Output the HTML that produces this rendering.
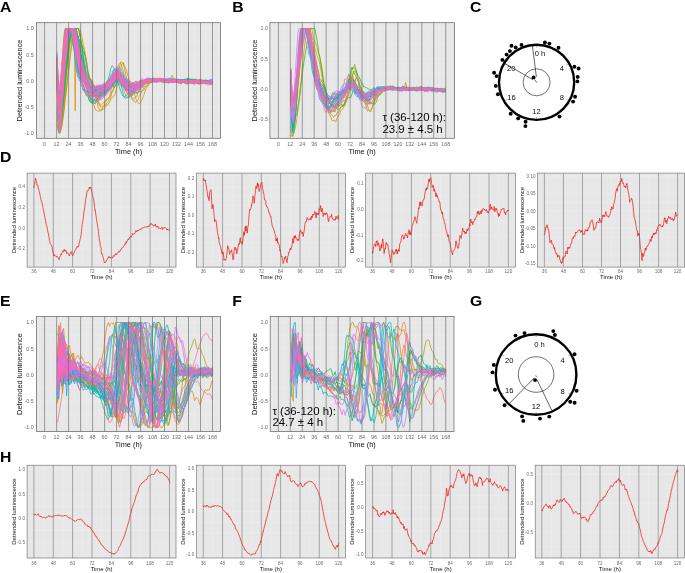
<!DOCTYPE html>
<html lang="en"><head><meta charset="utf-8"><title>Figure</title>
<style>html,body{margin:0;padding:0;background:#fff;overflow:hidden}svg{display:block;will-change:transform;opacity:0.9999}polyline{fill:none;stroke-linejoin:round;stroke-linecap:round}</style></head><body>
<svg width="685" height="573" viewBox="0 0 685 573">
<rect width="685" height="573" fill="#fff"/>
<g font-family="'Liberation Sans', sans-serif" font-size="15" font-weight="bold" fill="#000"><text transform="translate(0 11.7) scale(1.05 1)">A</text><text transform="translate(232.2 11.7) scale(1.05 1)">B</text><text transform="translate(470 11.7) scale(1.05 1)">C</text><text transform="translate(0 162.3) scale(1.05 1)">D</text><text transform="translate(0 306.4) scale(1.05 1)">E</text><text transform="translate(232.2 306.4) scale(1.05 1)">F</text><text transform="translate(470 306.4) scale(1.05 1)">G</text><text transform="translate(0 462.3) scale(1.05 1)">H</text></g>
<!-- panel A -->
<rect x="36.4" y="22.7" width="184.2" height="115.6" fill="#E7E7E7"/>
<path d="M104.6 22.7V138.3M110.6 22.7V138.3M116.6 22.7V138.3M122.6 22.7V138.3M128.6 22.7V138.3M134.6 22.7V138.3M140.6 22.7V138.3M146.5 22.7V138.3M152.5 22.7V138.3M158.5 22.7V138.3M164.5 22.7V138.3M170.5 22.7V138.3M176.5 22.7V138.3M182.5 22.7V138.3M188.5 22.7V138.3M194.5 22.7V138.3M200.5 22.7V138.3M206.5 22.7V138.3M212.5 22.7V138.3M218.5 22.7V138.3M36.4 107.1H220.6M36.4 120.2H220.6M36.4 133.3H220.6M36.4 28.5H220.6M36.4 41.6H220.6M36.4 54.7H220.6M36.4 67.8H220.6M36.4 80.9H220.6M36.4 94H220.6M38.6 22.7V138.3M44.6 22.7V138.3M50.6 22.7V138.3M56.6 22.7V138.3M62.6 22.7V138.3M68.6 22.7V138.3M74.6 22.7V138.3M80.6 22.7V138.3M86.6 22.7V138.3M92.6 22.7V138.3M98.6 22.7V138.3" stroke="#EFEFEF" stroke-width="0.5" fill="none"/>
<clipPath id="cA"><rect x="36.4" y="22.7" width="184.2" height="115.6"/></clipPath>
<g clip-path="url(#cA)">
<polyline points="57.2,91.6 58.2,92.6 59.2,94 60.2,93.2 61.2,91.1 62.2,85.8 63.2,78.6 64.2,71.1 65.2,60.5 66.2,52.6 67.2,43.7 68.2,36.9 69.2,31.6 70.2,28.5 71.2,28.5 72.2,28.5 73.2,28.5 74.2,30.9 75.2,37 76.2,41.9 77.2,43.9 78.2,47.4 79.2,51.9 80.2,55.2 81.2,58.7 82.2,63.4 83.2,67.3 84.2,70.5 85.2,74.9 86.2,78.9 87.2,81 88.2,83.1 89.2,86.3 90.2,86.7 91.2,87.3 92.2,89.2 93.2,91.3 94.2,92.9 95.2,92.6 96.2,92.7 97.2,93.6 98.2,94.1 99.2,93.1 100.2,91.9 101.2,92.1 102.2,93.4 103.2,92.2 104.2,93 105.2,89.8 106.2,88 107.2,88.6 108.2,88.3 109.2,88.3 110.2,87 111.2,84.2 112.2,84.6 113.2,85.3 114.2,83.4 115.2,81.2 116.2,79.4 117.2,77.8 118.2,75.8 119.2,74.5 120.2,75.4 121.2,75.9 122.2,78 123.2,78.5 124.2,78.9 125.2,81.6 126.2,82.5 127.2,80.8 128.2,81.3 129.2,82.5 130.2,84.1 131.2,86.7 132.2,86.7 133.2,85.9 134.2,84.9 135.2,87.7 136.2,86.6 137.2,87.4 138.2,88.1 139.2,86.9 140.2,86.1 141.2,84.6 142.2,84.4 143.2,83.1 144.2,80.9 145.1,83.7 146.1,83.1 147.1,83.3 148.1,82.4 149.1,81.9 150.1,81 151.1,79.9 152.1,79.5 153.1,78.6 154.1,79.3 155.1,79.2 156.1,78.8 157.1,80.6 158.1,80.9 159.1,80.7 160.1,80.9 161.1,80.4 162.1,80.5 163.1,80.8 164.1,81.1 165.1,80.7 166.1,80.8 167.1,81.6 168.1,80.4 169.1,81 170.1,81 171.1,81 172.1,79.5 173.1,79.4 174.1,79.2 175.1,79.8 176.1,80.7 177.1,80.8 178.1,80.3 179.1,80.4 180.1,80.8 181.1,80.5 182.1,81.3 183.1,81.9 184.1,82.1 185.1,81.8 186.1,81.7 187.1,82.2 188.1,80.5 189.1,80.5 190.1,80.9 191.1,80.7 192.1,81.1 193.1,81.4 194.1,82.5 195.1,81.6 196.1,81.2 197.1,80.7 198.1,80.9 199.1,81.2 200.1,82.1 201.1,82.7 202.1,81.9 203.1,82.1 204.1,81.6 205.1,82 206.1,82.2 207.1,83 208.1,82 209.1,81.8 210.1,81.8 211.1,82.3 212.1,82.6" stroke="#F8766D" stroke-width="0.75"/>
<polyline points="57.2,58.7 58.2,98.9 59.2,115 60.2,113.3 61.2,105.3 62.2,91.5 63.2,77.6 64.2,66.4 65.2,52.3 66.2,41.4 67.2,33.7 68.2,28.9 69.2,28.5 70.2,28.5 71.2,28.5 72.2,30.1 73.2,34.4 74.2,35.4 75.2,39 76.2,44 77.2,45.9 78.2,50.6 79.2,54 80.2,55.8 81.2,59.1 82.2,63.2 83.2,67.7 84.2,72.9 85.2,77.3 86.2,81.4 87.2,83.8 88.2,85.5 89.2,89.1 90.2,89.6 91.2,91.5 92.2,92.8 93.2,96 94.2,95.4 95.2,96.8 96.2,96 97.2,95.3 98.2,92.8 99.2,93.6 100.2,93 101.2,93.3 102.2,92.9 103.2,93 104.2,92.6 105.2,90.1 106.2,88.2 107.2,86.9 108.2,87.6 109.2,88.3 110.2,87.1 111.2,83.9 112.2,80.2 113.2,80 114.2,76.8 115.2,73.6 116.2,73.9 117.2,71.4 118.2,70.3 119.2,71.3 120.2,72 121.2,76.1 122.2,78.5 123.2,80.9 124.2,83.5 125.2,85.3 126.2,84.9 127.2,87.9 128.2,91.3 129.2,90.8 130.2,92.9 131.2,91.6 132.2,91.4 133.2,92.1 134.2,91.8 135.2,89.9 136.2,90.2 137.2,87.4 138.2,86.9 139.2,85 140.2,85.6 141.2,85.4 142.2,84.1 143.2,82.7 144.2,84.4 145.1,83.4 146.1,83.6 147.1,83.1 148.1,83.2 149.1,81.4 150.1,81.8 151.1,81.9 152.1,80.4 153.1,79.9 154.1,80.4 155.1,80.7 156.1,80.6 157.1,80.9 158.1,80.7 159.1,80 160.1,80.5 161.1,80.8 162.1,80.6 163.1,81 164.1,81.1 165.1,81 166.1,80.8 167.1,79.9 168.1,79.2 169.1,80.5 170.1,81.7 171.1,81.1 172.1,81.6 173.1,81.5 174.1,80.4 175.1,80.8 176.1,80.8 177.1,80.7 178.1,81.3 179.1,81.7 180.1,81.2 181.1,80.6 182.1,79.6 183.1,80 184.1,80.2 185.1,80 186.1,81 187.1,80.2 188.1,80.4 189.1,80.5 190.1,80.1 191.1,79 192.1,79.2 193.1,79.6 194.1,80.1 195.1,79.7 196.1,79.8 197.1,80.6 198.1,79.7 199.1,80.8 200.1,81.5 201.1,81.3 202.1,80.4 203.1,80.8 204.1,82.1 205.1,82.1 206.1,83 207.1,83.3 208.1,83.4 209.1,84.3 210.1,84.1 211.1,84.9 212.1,84.7" stroke="#F47B5B" stroke-width="0.75"/>
<polyline points="57.2,91.8 58.2,113 59.2,124.6 60.2,117.8 61.2,105.3 62.2,86.7 63.2,67.6 64.2,48.5 65.2,35.2 66.2,28.5 67.2,28.5 68.2,28.5 69.2,28.5 70.2,28.5 71.2,28.5 72.2,33.8 73.2,36.4 74.2,42.5 75.2,49.5 76.2,57.4 77.2,65.5 78.2,71.7 79.2,74.8 80.2,76 81.2,77.8 82.2,78.6 83.2,80.4 84.2,81.1 85.2,80.6 86.2,82.1 87.2,83.9 88.2,84.4 89.2,85.8 90.2,88 91.2,90.2 92.2,91.1 93.2,90.2 94.2,88.7 95.2,87.2 96.2,89 97.2,88.4 98.2,88.7 99.2,88.3 100.2,87.7 101.2,87.3 102.2,87.4 103.2,87 104.2,86.7 105.2,86.6 106.2,86.1 107.2,81.8 108.2,82 109.2,81.3 110.2,81 111.2,80.1 112.2,77.1 113.2,78 114.2,75.2 115.2,73 116.2,71.9 117.2,71 118.2,72.6 119.2,72.7 120.2,76.7 121.2,78.6 122.2,78.7 123.2,79.7 124.2,82.6 125.2,83.5 126.2,86.1 127.2,87.6 128.2,86.6 129.2,87.1 130.2,87.6 131.2,89.3 132.2,89.1 133.2,87.7 134.2,85.9 135.2,84.8 136.2,84.5 137.2,85.2 138.2,83.3 139.2,82.7 140.2,82.6 141.2,82.5 142.2,82.4 143.2,81.6 144.2,81.3 145.1,81.3 146.1,81.8 147.1,81.4 148.1,81.4 149.1,81.8 150.1,80.8 151.1,80.9 152.1,80.7 153.1,81.4 154.1,81.5 155.1,81.2 156.1,81.2 157.1,81.4 158.1,81.7 159.1,79.9 160.1,80.5 161.1,79.9 162.1,79.6 163.1,79.9 164.1,80.5 165.1,80.8 166.1,80.3 167.1,79.9 168.1,78.3 169.1,79.6 170.1,79.3 171.1,79.2 172.1,79.1 173.1,79.1 174.1,78.8 175.1,79.5 176.1,80 177.1,80.1 178.1,80.4 179.1,80.1 180.1,80.2 181.1,80.3 182.1,80.5 183.1,80.5 184.1,80.8 185.1,81.1 186.1,80.8 187.1,81.1 188.1,81.4 189.1,81.5 190.1,80.8 191.1,81.2 192.1,81.6 193.1,82.5 194.1,82.4 195.1,81.7 196.1,81.5 197.1,82.4 198.1,82.7 199.1,82.1 200.1,82 201.1,82.4 202.1,82.1 203.1,81.7 204.1,81.2 205.1,82 206.1,82.2 207.1,82 208.1,82.4 209.1,82.8 210.1,82.4 211.1,82.1 212.1,82" stroke="#EF7F46" stroke-width="0.75"/>
<polyline points="57.2,78.1 58.2,97.1 59.2,105.5 60.2,103.4 61.2,94.5 62.2,85.3 63.2,72 64.2,59.2 65.2,46.7 66.2,38.3 67.2,30.9 68.2,28.5 69.2,28.5 70.2,28.5 71.2,28.5 72.2,28.5 73.2,28.5 74.2,32.4 75.2,38.5 76.2,46.9 77.2,54.5 78.2,62.5 79.2,71.1 80.2,75.6 81.2,78.9 82.2,80.4 83.2,85.3 84.2,88.1 85.2,93 86.2,96.2 87.2,93.7 88.2,95.5 89.2,95.4 90.2,96.2 91.2,99 92.2,100.3 93.2,99.2 94.2,100.1 95.2,101.2 96.2,100.8 97.2,100.2 98.2,98.9 99.2,99.1 100.2,98.1 101.2,97.2 102.2,96.7 103.2,95 104.2,92.6 105.2,91.6 106.2,88.5 107.2,88 108.2,86.9 109.2,86.1 110.2,84 111.2,80 112.2,76.2 113.2,75.1 114.2,73.8 115.2,73.7 116.2,73.5 117.2,75.4 118.2,77.6 119.2,79.4 120.2,82.9 121.2,84.2 122.2,87.5 123.2,88.9 124.2,91.3 125.2,94 126.2,96.4 127.2,97.6 128.2,97.6 129.2,97.6 130.2,95.4 131.2,93.7 132.2,94.3 133.2,92 134.2,89.7 135.2,86.2 136.2,85.8 137.2,86.7 138.2,84.7 139.2,83.7 140.2,83.9 141.2,84.1 142.2,82.8 143.2,82 144.2,81 145.1,80.5 146.1,79.8 147.1,80 148.1,79.2 149.1,79.1 150.1,79.5 151.1,80.2 152.1,79.8 153.1,80 154.1,78.8 155.1,78.4 156.1,78.6 157.1,78.8 158.1,79.8 159.1,78.9 160.1,78.9 161.1,78.5 162.1,79.2 163.1,80.7 164.1,79.2 165.1,80.1 166.1,79.5 167.1,79.9 168.1,80 169.1,80.2 170.1,80 171.1,79.9 172.1,78.9 173.1,79.3 174.1,79.2 175.1,78.7 176.1,79.4 177.1,79 178.1,79.8 179.1,80 180.1,80.3 181.1,80.9 182.1,80.8 183.1,79.8 184.1,79.3 185.1,79.2 186.1,79.9 187.1,80.3 188.1,79.6 189.1,80 190.1,80.3 191.1,80.6 192.1,81 193.1,80 194.1,80.7 195.1,80.6 196.1,81.1 197.1,80 198.1,80.9 199.1,80.9 200.1,81.2 201.1,81.7 202.1,81.8 203.1,81.3 204.1,81.7 205.1,81.6 206.1,81.3 207.1,80.9 208.1,80.6 209.1,80.7 210.1,81.1 211.1,81.1 212.1,81.9" stroke="#E9842A" stroke-width="0.75"/>
<polyline points="57.2,110.2 58.2,126.1 59.2,133.3 60.2,131 61.2,127.8 62.2,121.2 63.2,113.9 64.2,104 65.2,93 66.2,82.9 67.2,70.5 68.2,60.5 69.2,50 70.2,41.8 71.2,35.9 72.2,31.7 73.2,28.5 74.2,28.5 75.2,28.5 76.2,28.5 77.2,28.5 78.2,28.5 79.2,31 80.2,36.3 81.2,42.4 82.2,48.6 83.2,57.8 84.2,63.8 85.2,69.8 86.2,74.5 87.2,75.9 88.2,77.5 89.2,79.1 90.2,79.2 91.2,82 92.2,82.3 93.2,85.8 94.2,90.3 95.2,94.3 96.2,98.6 97.2,101.8 98.2,107.5 99.2,109.6 100.2,110.4 101.2,109 102.2,109.9 103.2,106.4 104.2,105.3 105.2,102 106.2,101.3 107.2,99.7 108.2,98.5 109.2,97.2 110.2,94.3 111.2,89.4 112.2,87.1 113.2,85.4 114.2,80.9 115.2,78.9 116.2,76.6 117.2,73.4 118.2,68.7 119.2,68.5 120.2,72.9 121.2,74.5 122.2,76.2 123.2,77.5 124.2,81.2 125.2,80.3 126.2,82.4 127.2,87.1 128.2,88.5 129.2,90.7 130.2,92.9 131.2,96.2 132.2,97.2 133.2,99.4 134.2,98.6 135.2,97.3 136.2,96.2 137.2,96.1 138.2,92.7 139.2,90.8 140.2,89.1 141.2,88.5 142.2,87.3 143.2,85.2 144.2,84.3 145.1,84 146.1,82.4 147.1,81.4 148.1,81.3 149.1,80.7 150.1,78.8 151.1,79.1 152.1,79.8 153.1,80.3 154.1,80 155.1,80.1 156.1,80 157.1,80.5 158.1,80.1 159.1,80.3 160.1,80.6 161.1,81.7 162.1,81.2 163.1,81.3 164.1,81.4 165.1,81.2 166.1,80.3 167.1,80.5 168.1,80.9 169.1,79.7 170.1,80.1 171.1,79.8 172.1,80.5 173.1,81.7 174.1,81.2 175.1,80.6 176.1,79.5 177.1,79.7 178.1,80 179.1,79.8 180.1,80.2 181.1,80.7 182.1,81.1 183.1,81.4 184.1,80.9 185.1,80.8 186.1,80.5 187.1,80.9 188.1,82 189.1,81.9 190.1,81.4 191.1,82 192.1,81.5 193.1,81.5 194.1,82.7 195.1,83 196.1,82.4 197.1,82.2 198.1,81.9 199.1,82.4 200.1,83.3 201.1,82.7 202.1,82.1 203.1,82.4 204.1,82.3 205.1,82.5 206.1,82.8 207.1,82.1 208.1,82.1 209.1,82.3 210.1,81.6 211.1,81.8 212.1,82.4" stroke="#E38900" stroke-width="0.75"/>
<polyline points="57.2,117.4 58.2,128.1 59.2,133.3 60.2,133.3 61.2,128.8 62.2,123.5 63.2,115.4 64.2,108.7 65.2,100 66.2,91.9 67.2,84.6 68.2,75.2 69.2,67.5 70.2,57.8 71.2,50 72.2,42.1 73.2,36.9 74.2,31.7 75.2,110.8 76.2,28.5 77.2,28.5 78.2,28.5 79.2,31.9 80.2,37.8 81.2,43 82.2,46.8 83.2,55.8 84.2,60.5 85.2,65.8 86.2,71.3 87.2,73.7 88.2,75.9 89.2,77.6 90.2,79.5 91.2,79.4 92.2,80.3 93.2,83.7 94.2,85.7 95.2,88.6 96.2,91.9 97.2,95.9 98.2,101.5 99.2,105 100.2,106.8 101.2,107.6 102.2,106.6 103.2,106.3 104.2,106.1 105.2,105.1 106.2,105 107.2,105 108.2,104.5 109.2,102.6 110.2,100.9 111.2,98.4 112.2,97.3 113.2,97.2 114.2,95.4 115.2,94.1 116.2,89.4 117.2,86.5 118.2,82.6 119.2,77.5 120.2,73.3 121.2,65.9 122.2,64 123.2,62.7 124.2,65.6 125.2,67.1 126.2,69.9 127.2,73.5 128.2,76.6 129.2,79.5 130.2,84.5 131.2,88.3 132.2,88.8 133.2,91.2 134.2,94.1 135.2,95.8 136.2,99.7 137.2,101.6 138.2,102.7 139.2,103.8 140.2,103 141.2,101.4 142.2,99.3 143.2,96.8 144.2,93.9 145.1,91.3 146.1,88.8 147.1,86.7 148.1,84.8 149.1,83.1 150.1,82.4 151.1,81.6 152.1,80.5 153.1,81.4 154.1,80.2 155.1,78.8 156.1,80.6 157.1,79.9 158.1,81 159.1,79.9 160.1,79.9 161.1,80.6 162.1,81.3 163.1,80.9 164.1,80.5 165.1,79.8 166.1,80.2 167.1,80.2 168.1,80.2 169.1,80.2 170.1,80.4 171.1,80.7 172.1,75.2 173.1,77.7 174.1,81.6 175.1,80.3 176.1,80.9 177.1,80.7 178.1,80.7 179.1,80.3 180.1,79.7 181.1,79.7 182.1,79.9 183.1,79.5 184.1,80.9 185.1,80.7 186.1,80.9 187.1,80.3 188.1,79.2 189.1,78.8 190.1,79.6 191.1,79.4 192.1,78.5 193.1,79.5 194.1,80 195.1,79.9 196.1,80.3 197.1,80.8 198.1,80.6 199.1,79.8 200.1,79.7 201.1,79.9 202.1,80 203.1,81 204.1,80.6 205.1,80.2 206.1,80.8 207.1,80.5 208.1,81.2 209.1,81.3 210.1,81.6 211.1,82.5 212.1,81.4" stroke="#DC8D00" stroke-width="0.75"/>
<polyline points="57.2,77 58.2,91.8 59.2,100.6 60.2,99.8 61.2,92.9 62.2,84.7 63.2,74.6 64.2,63.7 65.2,55.9 66.2,44.7 67.2,37.7 68.2,31.7 69.2,28.5 70.2,28.5 71.2,28.5 72.2,29 73.2,34.7 74.2,40.1 75.2,46.7 76.2,53.9 77.2,61.6 78.2,69.9 79.2,74.9 80.2,75.1 81.2,76.1 82.2,77.3 83.2,79.7 84.2,77.3 85.2,81 86.2,80.4 87.2,79.9 88.2,83.2 89.2,85 90.2,87.9 91.2,88.7 92.2,90 93.2,90.3 94.2,91.1 95.2,90.5 96.2,88.1 97.2,88.2 98.2,89.4 99.2,89.1 100.2,88.6 101.2,89 102.2,88.1 103.2,87.8 104.2,87 105.2,86.3 106.2,85.3 107.2,84.9 108.2,84.1 109.2,83.5 110.2,80.8 111.2,79.4 112.2,79.5 113.2,76.8 114.2,74.3 115.2,73.7 116.2,73 117.2,75.1 118.2,77.7 119.2,79.7 120.2,80.1 121.2,80.6 122.2,82.3 123.2,83.2 124.2,85.2 125.2,84.9 126.2,86.5 127.2,86.6 128.2,86.2 129.2,85.9 130.2,86.1 131.2,85.8 132.2,86.1 133.2,83.4 134.2,84 135.2,85.1 136.2,86.4 137.2,85.6 138.2,84 139.2,81.7 140.2,80 141.2,82.1 142.2,81.9 143.2,82.3 144.2,83.3 145.1,81.7 146.1,81.1 147.1,81.2 148.1,79.6 149.1,79.5 150.1,79.6 151.1,79.8 152.1,79.4 153.1,78.1 154.1,78.5 155.1,78.6 156.1,79.4 157.1,79.2 158.1,79.2 159.1,79.2 160.1,79.8 161.1,79.9 162.1,79.4 163.1,79.3 164.1,79.6 165.1,79.8 166.1,79.2 167.1,79.8 168.1,78.8 169.1,79.9 170.1,79.7 171.1,78.9 172.1,79.6 173.1,79.7 174.1,80.6 175.1,80.3 176.1,80.4 177.1,80.3 178.1,80.2 179.1,80.8 180.1,81 181.1,81.2 182.1,80.8 183.1,80 184.1,81.3 185.1,82.1 186.1,82 187.1,82.6 188.1,82.3 189.1,82.3 190.1,82.8 191.1,82.9 192.1,82.8 193.1,81.3 194.1,81.4 195.1,81 196.1,81.1 197.1,81.4 198.1,81.4 199.1,82.2 200.1,82.4 201.1,83.1 202.1,82.4 203.1,82 204.1,83 205.1,82.5 206.1,82.4 207.1,82.8 208.1,81.8 209.1,81.8 210.1,81.6 211.1,81.5 212.1,81.6" stroke="#D59100" stroke-width="0.75"/>
<polyline points="57.2,80.6 58.2,118.8 59.2,130.5 60.2,123.9 61.2,116.1 62.2,102.2 63.2,86.5 64.2,70.2 65.2,53.5 66.2,42.1 67.2,31.9 68.2,28.5 69.2,28.5 70.2,28.5 71.2,28.5 72.2,28.5 73.2,29.5 74.2,33 75.2,37 76.2,42.6 77.2,47.4 78.2,50.4 79.2,52.8 80.2,56.7 81.2,61.9 82.2,65.1 83.2,70.8 84.2,74 85.2,76.4 86.2,79.6 87.2,80.3 88.2,81.4 89.2,83 90.2,85.1 91.2,86.5 92.2,85 93.2,86.8 94.2,86.9 95.2,85.6 96.2,86.7 97.2,87.3 98.2,86.3 99.2,86.3 100.2,85.4 101.2,85.8 102.2,86.3 103.2,87.4 104.2,87.4 105.2,86.6 106.2,85.9 107.2,84.7 108.2,85 109.2,83 110.2,81.8 111.2,81 112.2,78.5 113.2,78.9 114.2,78.8 115.2,77.3 116.2,77.8 117.2,77.1 118.2,76.1 119.2,75.7 120.2,78.9 121.2,80.4 122.2,80.3 123.2,82 124.2,81.2 125.2,81.3 126.2,83.9 127.2,82.8 128.2,83 129.2,83.5 130.2,83.5 131.2,84.3 132.2,84.3 133.2,83.4 134.2,83.7 135.2,83 136.2,84.5 137.2,82.1 138.2,83.4 139.2,82.4 140.2,81.6 141.2,81.4 142.2,81.8 143.2,81.6 144.2,82.1 145.1,81 146.1,80 147.1,80.4 148.1,80.5 149.1,79.2 150.1,79.1 151.1,78.7 152.1,79.3 153.1,79.3 154.1,78.8 155.1,78.5 156.1,78.8 157.1,79.8 158.1,79.8 159.1,79.9 160.1,78.6 161.1,79.3 162.1,79.7 163.1,79.9 164.1,80.4 165.1,81 166.1,81.8 167.1,82.1 168.1,80.7 169.1,81.5 170.1,81.2 171.1,81.1 172.1,81.3 173.1,81 174.1,80.3 175.1,80.8 176.1,80.4 177.1,80.7 178.1,79.8 179.1,80.7 180.1,80.3 181.1,80.4 182.1,81.3 183.1,81 184.1,80.9 185.1,80.7 186.1,79.9 187.1,79.4 188.1,79.9 189.1,80.3 190.1,80.2 191.1,80 192.1,79.6 193.1,79.8 194.1,79.8 195.1,78.9 196.1,79.6 197.1,80.3 198.1,81.3 199.1,80.6 200.1,81.8 201.1,81 202.1,80.6 203.1,81.7 204.1,82.2 205.1,82.3 206.1,81.8 207.1,82.1 208.1,81.2 209.1,81.6 210.1,82.3 211.1,82.5 212.1,82.4" stroke="#CD9600" stroke-width="0.75"/>
<polyline points="57.2,125.5 58.2,131.1 59.2,132.8 60.2,131.5 61.2,128.9 62.2,124.6 63.2,117.3 64.2,109.4 65.2,99.8 66.2,91.3 67.2,82 68.2,71.5 69.2,63.1 70.2,53.9 71.2,45.1 72.2,38.8 73.2,34.5 74.2,31.9 75.2,28.5 76.2,28.5 77.2,28.5 78.2,28.5 79.2,28.5 80.2,29.5 81.2,33.6 82.2,38.3 83.2,44.4 84.2,47.6 85.2,54.2 86.2,58.9 87.2,65.2 88.2,72 89.2,75.5 90.2,78.3 91.2,81.9 92.2,87.4 93.2,90.9 94.2,93.9 95.2,95.6 96.2,99.8 97.2,99.4 98.2,101.3 99.2,102.5 100.2,105.4 101.2,105.5 102.2,104.6 103.2,102.6 104.2,102.6 105.2,101.1 106.2,99.4 107.2,98.6 108.2,98.6 109.2,97.8 110.2,96.7 111.2,94.1 112.2,92.2 113.2,89.5 114.2,88 115.2,86.4 116.2,84.6 117.2,79.9 118.2,75.4 119.2,67.7 120.2,64.4 121.2,61.6 122.2,63 123.2,63 124.2,66.6 125.2,71.8 126.2,76.6 127.2,79.7 128.2,79.4 129.2,80.5 130.2,82.8 131.2,85.5 132.2,88.7 133.2,91.2 134.2,92.6 135.2,93.2 136.2,93.5 137.2,93.7 138.2,91.8 139.2,91.6 140.2,91.6 141.2,92 142.2,90.5 143.2,90.4 144.2,90 145.1,88 146.1,86 147.1,86.1 148.1,85.8 149.1,84.1 150.1,82.9 151.1,82 152.1,81.3 153.1,80.4 154.1,80 155.1,80 156.1,79.3 157.1,78.7 158.1,79.7 159.1,78.6 160.1,79.2 161.1,79.9 162.1,80.9 163.1,80.9 164.1,80.7 165.1,80.5 166.1,80.7 167.1,80.5 168.1,80.4 169.1,79.6 170.1,80.7 171.1,80.3 172.1,80.3 173.1,81 174.1,81 175.1,80.7 176.1,81.2 177.1,81.6 178.1,82.5 179.1,81.1 180.1,81 181.1,80.8 182.1,80.3 183.1,80.8 184.1,80.7 185.1,81.2 186.1,80.8 187.1,80.5 188.1,80.5 189.1,81.1 190.1,81.8 191.1,81.5 192.1,80.4 193.1,80.9 194.1,80.7 195.1,80.8 196.1,81.1 197.1,81.7 198.1,81.8 199.1,82 200.1,82.1 201.1,82.4 202.1,82.1 203.1,82.1 204.1,81.6 205.1,82.3 206.1,82.6 207.1,82.8 208.1,82.5 209.1,82.7 210.1,82.3 211.1,82.7 212.1,83" stroke="#C49A00" stroke-width="0.75"/>
<polyline points="57.2,112.4 58.2,125.7 59.2,131.6 60.2,130.2 61.2,125.4 62.2,117.3 63.2,108.4 64.2,98.1 65.2,85.9 66.2,72.8 67.2,64 68.2,51.9 69.2,42.8 70.2,33.7 71.2,28.8 72.2,28.5 73.2,28.5 74.2,28.7 75.2,28.5 76.2,31.1 77.2,35.9 78.2,38.1 79.2,39.7 80.2,42 81.2,43 82.2,45.4 83.2,47.1 84.2,50.6 85.2,55 86.2,59.3 87.2,66.6 88.2,75.6 89.2,85.8 90.2,95.4 91.2,99.8 92.2,100.1 93.2,103.7 94.2,105.8 95.2,109.6 96.2,110.4 97.2,110.8 98.2,111 99.2,111.3 100.2,110.9 101.2,110.8 102.2,109 103.2,109.2 104.2,109.2 105.2,107.5 106.2,104.2 107.2,102.3 108.2,101.6 109.2,99.4 110.2,99 111.2,95.4 112.2,90.6 113.2,90.4 114.2,86 115.2,80.9 116.2,75.9 117.2,70.9 118.2,66.1 119.2,63.9 120.2,63.1 121.2,64 122.2,67.2 123.2,70.7 124.2,74.6 125.2,78.6 126.2,83.8 127.2,84.9 128.2,86.1 129.2,88.2 130.2,91.9 131.2,97.1 132.2,99.3 133.2,100.8 134.2,100.8 135.2,102.5 136.2,101.8 137.2,101.5 138.2,99.9 139.2,96.3 140.2,95.2 141.2,92.8 142.2,90.8 143.2,89 144.2,86.3 145.1,86.1 146.1,85.4 147.1,84.3 148.1,83.1 149.1,82.7 150.1,81.9 151.1,81.4 152.1,81 153.1,80.9 154.1,80.7 155.1,79.1 156.1,79.7 157.1,79.8 158.1,80.5 159.1,80.9 160.1,80.3 161.1,80.5 162.1,81.1 163.1,81.4 164.1,81.2 165.1,80.5 166.1,80.9 167.1,80.3 168.1,80.8 169.1,81.1 170.1,80.8 171.1,81.8 172.1,81.8 173.1,82.2 174.1,81.6 175.1,80.6 176.1,81.4 177.1,81.3 178.1,81 179.1,81.2 180.1,81.4 181.1,82.4 182.1,82.5 183.1,81.9 184.1,81.6 185.1,81.9 186.1,81.5 187.1,81.9 188.1,81.6 189.1,81.6 190.1,80.3 191.1,81 192.1,80.9 193.1,81.6 194.1,82.6 195.1,82.1 196.1,81.3 197.1,81.2 198.1,82.3 199.1,82 200.1,81.6 201.1,82 202.1,83.1 203.1,83 204.1,82.2 205.1,82.5 206.1,82.2 207.1,82.2 208.1,82.7 209.1,83.5 210.1,82.5 211.1,83.1 212.1,83.2" stroke="#BB9E00" stroke-width="0.75"/>
<polyline points="57.2,60.7 58.2,111.5 59.2,117.1 60.2,109 61.2,93.4 62.2,75.6 63.2,56.8 64.2,38.8 65.2,28.9 66.2,28.5 67.2,28.5 68.2,28.5 69.2,28.5 70.2,28.5 71.2,31.2 72.2,37.1 73.2,44.1 74.2,51.1 75.2,57.3 76.2,65.6 77.2,71.6 78.2,72.3 79.2,73.9 80.2,75.8 81.2,77.7 82.2,79.3 83.2,81.7 84.2,81.7 85.2,82.7 86.2,85.1 87.2,88.2 88.2,93 89.2,95.4 90.2,99.3 91.2,100.4 92.2,100.9 93.2,101 94.2,100.7 95.2,100.6 96.2,100.6 97.2,98.9 98.2,99.2 99.2,96.9 100.2,95.8 101.2,95.6 102.2,93.5 103.2,94.7 104.2,93.3 105.2,92.5 106.2,90.2 107.2,90 108.2,88.8 109.2,87.8 110.2,86.4 111.2,85.4 112.2,83 113.2,79.4 114.2,75.9 115.2,73.2 116.2,70.7 117.2,69.7 118.2,70 119.2,72.8 120.2,75 121.2,79.1 122.2,79.3 123.2,81.3 124.2,81.8 125.2,84.4 126.2,86.9 127.2,89.6 128.2,90.7 129.2,93.3 130.2,92.5 131.2,92.8 132.2,92.6 133.2,92.2 134.2,91.3 135.2,91.5 136.2,89.5 137.2,88.2 138.2,88.5 139.2,87.1 140.2,86.3 141.2,83.8 142.2,84 143.2,83 144.2,81.6 145.1,81.6 146.1,82.1 147.1,81.9 148.1,80.9 149.1,81.7 150.1,79.7 151.1,79.1 152.1,79.7 153.1,79.3 154.1,80 155.1,80.5 156.1,81.9 157.1,81.1 158.1,80.5 159.1,80.5 160.1,80.7 161.1,80.7 162.1,81.4 163.1,80.6 164.1,81.2 165.1,81.1 166.1,80.9 167.1,80.3 168.1,80.3 169.1,80.1 170.1,80.9 171.1,80 172.1,80.6 173.1,81 174.1,81.4 175.1,80.8 176.1,81.9 177.1,81.1 178.1,80.8 179.1,80.4 180.1,80.1 181.1,80 182.1,80.5 183.1,80.3 184.1,80.1 185.1,80.1 186.1,80.1 187.1,81.2 188.1,80.7 189.1,80.8 190.1,81.1 191.1,81.3 192.1,80.9 193.1,80.9 194.1,79.6 195.1,79.8 196.1,80.8 197.1,80.6 198.1,80 199.1,80.6 200.1,81.6 201.1,82.5 202.1,82.4 203.1,81.1 204.1,81.5 205.1,82.3 206.1,81.7 207.1,82.4 208.1,82.9 209.1,82.7 210.1,82.4 211.1,81.4 212.1,82.2" stroke="#B0A100" stroke-width="0.75"/>
<polyline points="57.2,65.3 58.2,110.3 59.2,127.6 60.2,124 61.2,118.1 62.2,109.5 63.2,97.7 64.2,87.2 65.2,75.6 66.2,63.3 67.2,53.1 68.2,42.5 69.2,34.8 70.2,29.6 71.2,28.5 72.2,28.5 73.2,28.5 74.2,28.5 75.2,28.5 76.2,32.3 77.2,39.5 78.2,46.6 79.2,52.5 80.2,58 81.2,65 82.2,69.8 83.2,73.2 84.2,77.1 85.2,77.6 86.2,78.6 87.2,82.1 88.2,82.8 89.2,84.3 90.2,84.8 91.2,86.1 92.2,87.2 93.2,89.5 94.2,89.4 95.2,89.8 96.2,90.9 97.2,89.8 98.2,90.5 99.2,88.8 100.2,86.8 101.2,88.1 102.2,88.5 103.2,86.6 104.2,87 105.2,87 106.2,87.4 107.2,84.8 108.2,84.6 109.2,82.9 110.2,82.7 111.2,81.8 112.2,80.1 113.2,81.4 114.2,80.3 115.2,79.5 116.2,78.6 117.2,76.8 118.2,76.3 119.2,74.3 120.2,73.1 121.2,72.6 122.2,73.1 123.2,75.1 124.2,78 125.2,78.6 126.2,79.2 127.2,80.4 128.2,82.6 129.2,81.3 130.2,81 131.2,82.3 132.2,84.7 133.2,86.2 134.2,85.5 135.2,86 136.2,86.3 137.2,85 138.2,84.4 139.2,83.5 140.2,82 141.2,82.3 142.2,84.8 143.2,83.7 144.2,83.2 145.1,81.7 146.1,80.7 147.1,80.7 148.1,80.1 149.1,80.3 150.1,80.8 151.1,81.2 152.1,80.6 153.1,80.9 154.1,80.7 155.1,81.1 156.1,81 157.1,81.3 158.1,81 159.1,79.6 160.1,79.8 161.1,78.9 162.1,79.9 163.1,79.8 164.1,80.5 165.1,80.4 166.1,80.6 167.1,81 168.1,81.4 169.1,81.9 170.1,82.2 171.1,81.4 172.1,81.3 173.1,81.6 174.1,81.8 175.1,81.6 176.1,81.8 177.1,81 178.1,81.2 179.1,82.5 180.1,81.7 181.1,81.5 182.1,81.7 183.1,80.9 184.1,81.3 185.1,81.2 186.1,81.4 187.1,81.7 188.1,81 189.1,80.9 190.1,81.2 191.1,81.6 192.1,81.7 193.1,82.2 194.1,81.4 195.1,82.1 196.1,81 197.1,80.9 198.1,81.5 199.1,81.7 200.1,82.8 201.1,82.5 202.1,83 203.1,82.4 204.1,81.9 205.1,81.6 206.1,81.8 207.1,82.1 208.1,81.4 209.1,80.5 210.1,81.5 211.1,81.1 212.1,82" stroke="#A5A500" stroke-width="0.75"/>
<polyline points="57.2,65.9 58.2,86.3 59.2,94.5 60.2,88.9 61.2,75.3 62.2,60.5 63.2,44.4 64.2,32.9 65.2,28.5 66.2,28.5 67.2,28.5 68.2,28.5 69.2,28.6 70.2,33.9 71.2,37.2 72.2,42.9 73.2,46 74.2,49.9 75.2,54.8 76.2,58.8 77.2,60.9 78.2,62.7 79.2,66.5 80.2,68.8 81.2,71.2 82.2,73.6 83.2,77.3 84.2,80.2 85.2,80.7 86.2,82.9 87.2,86.4 88.2,87.6 89.2,89.6 90.2,91.7 91.2,91.9 92.2,92 93.2,89.8 94.2,89.9 95.2,92.7 96.2,91.1 97.2,91.5 98.2,89.3 99.2,89.6 100.2,87.8 101.2,89 102.2,88.8 103.2,86.2 104.2,87.4 105.2,84.6 106.2,83 107.2,80.6 108.2,81.4 109.2,80.1 110.2,79.6 111.2,78.6 112.2,77.3 113.2,73.4 114.2,74.3 115.2,75.8 116.2,76.4 117.2,77.3 118.2,80.5 119.2,79.2 120.2,81.8 121.2,83.5 122.2,84.4 123.2,86.1 124.2,86.3 125.2,84.9 126.2,86 127.2,85.8 128.2,87.1 129.2,86.9 130.2,84.8 131.2,84.4 132.2,85.2 133.2,84.8 134.2,84.8 135.2,85 136.2,82.6 137.2,82.5 138.2,81.5 139.2,82.2 140.2,81.1 141.2,79.9 142.2,80.3 143.2,81.4 144.2,80.5 145.1,81.4 146.1,79.8 147.1,79.4 148.1,79.8 149.1,79.8 150.1,80.8 151.1,81.2 152.1,81.4 153.1,80.7 154.1,81.1 155.1,80.5 156.1,81.2 157.1,80.7 158.1,80.9 159.1,80.7 160.1,80.9 161.1,81.7 162.1,81.6 163.1,80.7 164.1,81 165.1,81.5 166.1,81.1 167.1,80.9 168.1,80.4 169.1,80.8 170.1,79.9 171.1,80.8 172.1,80.6 173.1,81.3 174.1,80.5 175.1,80.3 176.1,80.2 177.1,80.5 178.1,81.3 179.1,80.2 180.1,81.4 181.1,81.2 182.1,81.5 183.1,81.1 184.1,80 185.1,80.2 186.1,80.5 187.1,80.6 188.1,80.2 189.1,80.6 190.1,80.1 191.1,79.3 192.1,80.7 193.1,80.6 194.1,80.7 195.1,80.8 196.1,80.7 197.1,81.5 198.1,80.4 199.1,79.6 200.1,80.4 201.1,79.9 202.1,81 203.1,81.7 204.1,80.8 205.1,80.1 206.1,81.5 207.1,81.9 208.1,82.5 209.1,82.3 210.1,82.3 211.1,82.2 212.1,82.2" stroke="#99A800" stroke-width="0.75"/>
<polyline points="57.2,57.9 58.2,114.1 59.2,128 60.2,125 61.2,118.6 62.2,111.2 63.2,101.3 64.2,88.9 65.2,78.7 66.2,66.4 67.2,54.6 68.2,44.9 69.2,36.6 70.2,31.6 71.2,28.9 72.2,28.5 73.2,28.5 74.2,28.5 75.2,28.5 76.2,29.4 77.2,32.4 78.2,38 79.2,43.8 80.2,49.3 81.2,56.9 82.2,61.8 83.2,65.8 84.2,70.4 85.2,71.8 86.2,74.6 87.2,76.2 88.2,76.9 89.2,78.4 90.2,80.7 91.2,83.1 92.2,84.1 93.2,85.6 94.2,86.9 95.2,88 96.2,86 97.2,89.2 98.2,89.4 99.2,91.7 100.2,90.8 101.2,87.8 102.2,87.9 103.2,87.2 104.2,85.8 105.2,86 106.2,85.5 107.2,83.9 108.2,82.1 109.2,82.2 110.2,81.7 111.2,79.7 112.2,77.4 113.2,75.9 114.2,75 115.2,73.3 116.2,71.5 117.2,72.7 118.2,73.4 119.2,73.9 120.2,73 121.2,74.4 122.2,75.8 123.2,77.7 124.2,79.6 125.2,78.9 126.2,83.2 127.2,85.2 128.2,86.5 129.2,86.8 130.2,89.6 131.2,91.1 132.2,90.3 133.2,88.3 134.2,85.5 135.2,86 136.2,85.6 137.2,85 138.2,85.7 139.2,85.2 140.2,83.3 141.2,82.7 142.2,83.7 143.2,82 144.2,81.9 145.1,81.8 146.1,82.1 147.1,82 148.1,81.7 149.1,81.2 150.1,81.9 151.1,81.7 152.1,82 153.1,81.5 154.1,81.1 155.1,80.3 156.1,80.4 157.1,80.4 158.1,80 159.1,79.5 160.1,80.3 161.1,79.5 162.1,80.8 163.1,79.2 164.1,79.3 165.1,79.7 166.1,80.7 167.1,80 168.1,80.2 169.1,80.2 170.1,80.5 171.1,80.6 172.1,80.6 173.1,81.3 174.1,81.4 175.1,81 176.1,80.2 177.1,80.9 178.1,80.7 179.1,80.9 180.1,81.4 181.1,80.8 182.1,80.6 183.1,81 184.1,81.7 185.1,81.5 186.1,81.3 187.1,82.5 188.1,82.4 189.1,81.8 190.1,82.2 191.1,82 192.1,81.2 193.1,81 194.1,82 195.1,82.7 196.1,82.3 197.1,81.4 198.1,82 199.1,81.8 200.1,81.9 201.1,83.3 202.1,82.3 203.1,82.1 204.1,82.8 205.1,83 206.1,83.4 207.1,83.2 208.1,82.6 209.1,83.4 210.1,83.9 211.1,84.1 212.1,84" stroke="#8BAB00" stroke-width="0.75"/>
<polyline points="57.2,57.3 58.2,99.3 59.2,108.5 60.2,105.6 61.2,100.8 62.2,92.4 63.2,84.1 64.2,74.2 65.2,64.9 66.2,52.9 67.2,43.3 68.2,35 69.2,31.4 70.2,28.5 71.2,28.5 72.2,28.5 73.2,28.5 74.2,28.5 75.2,28.5 76.2,32.5 77.2,38.4 78.2,44.2 79.2,51.7 80.2,59.2 81.2,66.1 82.2,67.7 83.2,73.2 84.2,77 85.2,83.1 86.2,86.6 87.2,88.3 88.2,89.6 89.2,91.9 90.2,94.9 91.2,95.2 92.2,95.9 93.2,98.4 94.2,99 95.2,100.8 96.2,100.5 97.2,100.7 98.2,98.7 99.2,98.7 100.2,96.7 101.2,96.2 102.2,94.2 103.2,93.2 104.2,93.1 105.2,93.5 106.2,90.2 107.2,89.4 108.2,89.8 109.2,88.6 110.2,87.8 111.2,84.8 112.2,83.2 113.2,81.3 114.2,78.6 115.2,77.3 116.2,75.4 117.2,73.5 118.2,72.9 119.2,76.7 120.2,77.4 121.2,77.6 122.2,79.4 123.2,79.6 124.2,80.9 125.2,81 126.2,83.1 127.2,86 128.2,86.3 129.2,86.3 130.2,87.4 131.2,89 132.2,89.2 133.2,88.9 134.2,88.7 135.2,87.4 136.2,87.3 137.2,86.9 138.2,86.6 139.2,85.1 140.2,85.5 141.2,84.8 142.2,84.1 143.2,84.6 144.2,83.1 145.1,83.4 146.1,82.3 147.1,81.7 148.1,81.4 149.1,82.2 150.1,82.9 151.1,82 152.1,81.8 153.1,81.3 154.1,80.6 155.1,80.6 156.1,81 157.1,81.2 158.1,81.4 159.1,81.1 160.1,81.5 161.1,81.1 162.1,81.1 163.1,80.5 164.1,81.1 165.1,81.4 166.1,81.4 167.1,81.2 168.1,80.7 169.1,79.9 170.1,80.5 171.1,80.4 172.1,81.1 173.1,81.4 174.1,81.1 175.1,82 176.1,81 177.1,81.6 178.1,81.4 179.1,81.7 180.1,81.1 181.1,81.3 182.1,80.6 183.1,80.2 184.1,81 185.1,80.1 186.1,80.4 187.1,80.2 188.1,78.9 189.1,79.9 190.1,79.6 191.1,81.8 192.1,80.2 193.1,81.1 194.1,81.3 195.1,80.7 196.1,81 197.1,80.6 198.1,81.3 199.1,81.2 200.1,81.3 201.1,81.5 202.1,80.8 203.1,80.4 204.1,80.5 205.1,80.6 206.1,80.7 207.1,80.7 208.1,80.9 209.1,81.6 210.1,82.2 211.1,81.2 212.1,83" stroke="#7CAE00" stroke-width="0.75"/>
<polyline points="57.2,68.3 58.2,96.9 59.2,102.6 60.2,99.8 61.2,93.4 62.2,85.8 63.2,78.8 64.2,69.3 65.2,59.2 66.2,51.1 67.2,41.8 68.2,36.1 69.2,30 70.2,28.5 71.2,28.5 72.2,28.5 73.2,28.5 74.2,32.6 75.2,37.6 76.2,43.2 77.2,50.4 78.2,57.7 79.2,65.4 80.2,71.9 81.2,75.5 82.2,77.9 83.2,78.1 84.2,80.8 85.2,82 86.2,83.8 87.2,85 88.2,88.4 89.2,90.3 90.2,93.1 91.2,92.1 92.2,93.6 93.2,94.8 94.2,95.9 95.2,95.8 96.2,95.9 97.2,96.2 98.2,95 99.2,95.4 100.2,93.4 101.2,92.5 102.2,94.1 103.2,94.6 104.2,92.4 105.2,92.3 106.2,90.1 107.2,89.2 108.2,88.3 109.2,87.3 110.2,86 111.2,84.3 112.2,83.8 113.2,80.4 114.2,79.9 115.2,78.1 116.2,77.5 117.2,77.3 118.2,77.9 119.2,78.7 120.2,78.6 121.2,81.2 122.2,81.8 123.2,82.4 124.2,83.3 125.2,83.5 126.2,86.5 127.2,86.5 128.2,90.4 129.2,91.3 130.2,91.9 131.2,92.7 132.2,92.6 133.2,91.8 134.2,91 135.2,91.1 136.2,90.4 137.2,89.4 138.2,88.2 139.2,85.8 140.2,85.4 141.2,84.9 142.2,83.8 143.2,81.6 144.2,81.6 145.1,81.3 146.1,80.8 147.1,79.5 148.1,78.7 149.1,78.1 150.1,78.8 151.1,79.1 152.1,79.5 153.1,80.5 154.1,82 155.1,81.1 156.1,81.5 157.1,81.4 158.1,81.5 159.1,80.9 160.1,80.9 161.1,80.5 162.1,80.2 163.1,80.4 164.1,80 165.1,80.1 166.1,80.4 167.1,81 168.1,80.6 169.1,81 170.1,80.1 171.1,79.5 172.1,79.3 173.1,79.8 174.1,79.8 175.1,79.6 176.1,80.2 177.1,80.6 178.1,80.8 179.1,80.6 180.1,80.5 181.1,81.5 182.1,81.6 183.1,80.5 184.1,81 185.1,80.7 186.1,81.3 187.1,81.6 188.1,81 189.1,81.1 190.1,81 191.1,80.4 192.1,80.4 193.1,80.5 194.1,80.6 195.1,81.3 196.1,81.1 197.1,80.7 198.1,80.9 199.1,81.8 200.1,82.5 201.1,83.1 202.1,81.8 203.1,82.4 204.1,81.9 205.1,81.3 206.1,80.7 207.1,80.9 208.1,81.7 209.1,81.6 210.1,80.8 211.1,80.9 212.1,82.1" stroke="#69B100" stroke-width="0.75"/>
<polyline points="57.2,62.9 58.2,104.8 59.2,115 60.2,109.5 61.2,98.9 62.2,86.2 63.2,70.8 64.2,57.4 65.2,43.7 66.2,35.4 67.2,28.5 68.2,28.5 69.2,28.5 70.2,28.5 71.2,28.5 72.2,34.7 73.2,39.5 74.2,45.1 75.2,53.4 76.2,61.1 77.2,67.1 78.2,71.4 79.2,77.1 80.2,78.7 81.2,81.5 82.2,83.7 83.2,87.1 84.2,89.6 85.2,90.8 86.2,90.8 87.2,93.2 88.2,95.6 89.2,100 90.2,101.9 91.2,103 92.2,102.4 93.2,102.5 94.2,103.2 95.2,103.9 96.2,102.6 97.2,102 98.2,100.7 99.2,99.4 100.2,98.6 101.2,98 102.2,95.5 103.2,96.3 104.2,95.7 105.2,94.7 106.2,92.5 107.2,90.6 108.2,89.3 109.2,89.6 110.2,87.6 111.2,84.9 112.2,82.1 113.2,80 114.2,77.8 115.2,77.5 116.2,75.8 117.2,75.1 118.2,75.7 119.2,78.3 120.2,79 121.2,82.6 122.2,84.3 123.2,86.7 124.2,86.4 125.2,88.9 126.2,90.8 127.2,93 128.2,93.8 129.2,94.3 130.2,93.6 131.2,95.4 132.2,94.8 133.2,93.2 134.2,90.9 135.2,90.4 136.2,90 137.2,90 138.2,89.2 139.2,88.7 140.2,87.3 141.2,85.8 142.2,84 143.2,84.3 144.2,83.1 145.1,82 146.1,81.3 147.1,79.4 148.1,79.3 149.1,80.1 150.1,80.8 151.1,80.5 152.1,81.5 153.1,80.3 154.1,81.4 155.1,80.6 156.1,80.2 157.1,79.7 158.1,79.7 159.1,80 160.1,80.5 161.1,80.2 162.1,80.3 163.1,80.3 164.1,80.7 165.1,81 166.1,80.1 167.1,80.7 168.1,80.2 169.1,80 170.1,80.2 171.1,79.9 172.1,80.5 173.1,80.8 174.1,80.4 175.1,80.7 176.1,81.1 177.1,80.9 178.1,81.8 179.1,83.5 180.1,82.5 181.1,81.8 182.1,82.6 183.1,82.3 184.1,82.9 185.1,82.7 186.1,84.1 187.1,82.8 188.1,83.2 189.1,82.8 190.1,82.2 191.1,83.2 192.1,82.3 193.1,81.7 194.1,81.2 195.1,81.4 196.1,82.2 197.1,83.4 198.1,83.5 199.1,84.2 200.1,83.2 201.1,83.2 202.1,83.5 203.1,83.4 204.1,83.1 205.1,82.1 206.1,82.9 207.1,82.9 208.1,83 209.1,83.9 210.1,84 211.1,82.7 212.1,82.9" stroke="#53B400" stroke-width="0.75"/>
<polyline points="57.2,78.3 58.2,117.9 59.2,120.4 60.2,118.7 61.2,116 62.2,109.7 63.2,102.2 64.2,92.3 65.2,83.4 66.2,72.8 67.2,63.1 68.2,55.2 69.2,46.6 70.2,39.3 71.2,33.6 72.2,32 73.2,29.1 74.2,28.5 75.2,28.5 76.2,28.5 77.2,28.5 78.2,28.5 79.2,31 80.2,36.3 81.2,41 82.2,49.2 83.2,59.2 84.2,67.7 85.2,73.1 86.2,77.7 87.2,79.5 88.2,83.4 89.2,85.8 90.2,86.3 91.2,87.3 92.2,87.3 93.2,89.7 94.2,88.5 95.2,89.1 96.2,89.3 97.2,92.4 98.2,92.3 99.2,93.6 100.2,92 101.2,91.5 102.2,90 103.2,90.5 104.2,88.9 105.2,88.5 106.2,88.1 107.2,86.7 108.2,85.3 109.2,85.6 110.2,84.2 111.2,85.5 112.2,84.9 113.2,83.7 114.2,81.5 115.2,79.5 116.2,77.4 117.2,76.6 118.2,76.5 119.2,75.6 120.2,77.1 121.2,78.6 122.2,79.8 123.2,81.9 124.2,82.3 125.2,85.1 126.2,85.6 127.2,88.9 128.2,87.5 129.2,86.9 130.2,88.7 131.2,88.6 132.2,90.2 133.2,89.5 134.2,89.7 135.2,88.3 136.2,88.6 137.2,89 138.2,87 139.2,86.2 140.2,85.9 141.2,82.5 142.2,80.3 143.2,81.5 144.2,81.3 145.1,82.8 146.1,82.3 147.1,83.2 148.1,83.2 149.1,82.6 150.1,82 151.1,81.7 152.1,80.9 153.1,81 154.1,81 155.1,81 156.1,79.9 157.1,80 158.1,79.6 159.1,79.4 160.1,80.1 161.1,80.5 162.1,80.2 163.1,80.5 164.1,81 165.1,80.1 166.1,80.6 167.1,81.3 168.1,80.9 169.1,81.2 170.1,81 171.1,80.3 172.1,80.9 173.1,80.9 174.1,80.5 175.1,80.9 176.1,79.7 177.1,80.4 178.1,81.2 179.1,81 180.1,81.7 181.1,80.5 182.1,80.8 183.1,80 184.1,80.4 185.1,81.5 186.1,82.1 187.1,81.3 188.1,81.8 189.1,82.1 190.1,82.2 191.1,80.8 192.1,81 193.1,80.7 194.1,81.2 195.1,80.5 196.1,80.9 197.1,80.6 198.1,80.7 199.1,80.9 200.1,80.8 201.1,81.8 202.1,81.5 203.1,81.4 204.1,82.2 205.1,82.6 206.1,82.6 207.1,82.1 208.1,81.5 209.1,81.5 210.1,81.8 211.1,81.5 212.1,81.9" stroke="#31B600" stroke-width="0.75"/>
<polyline points="57.2,71.7 58.2,99.7 59.2,106.2 60.2,102.2 61.2,99.9 62.2,94.4 63.2,88.5 64.2,80.3 65.2,73.4 66.2,64.7 67.2,56.3 68.2,47.5 69.2,41.1 70.2,35.8 71.2,32.7 72.2,28.5 73.2,28.5 74.2,28.5 75.2,28.5 76.2,29.3 77.2,33.9 78.2,37.3 79.2,44.1 80.2,50.8 81.2,59 82.2,64.5 83.2,69.1 84.2,74 85.2,75.8 86.2,78.2 87.2,80.8 88.2,84.6 89.2,86.3 90.2,85.1 91.2,87.6 92.2,88.7 93.2,86.9 94.2,88.1 95.2,89.8 96.2,92.2 97.2,92.3 98.2,92.6 99.2,93.2 100.2,92.4 101.2,91.7 102.2,90.6 103.2,91.9 104.2,92.1 105.2,89.4 106.2,88.8 107.2,89.1 108.2,88 109.2,87 110.2,86.1 111.2,85.9 112.2,85.2 113.2,83.1 114.2,79.7 115.2,76.6 116.2,74.5 117.2,74.5 118.2,72.7 119.2,72.9 120.2,75 121.2,77.1 122.2,77.7 123.2,79.1 124.2,81.3 125.2,82.6 126.2,85.3 127.2,85.8 128.2,85.1 129.2,85.8 130.2,85.6 131.2,88.1 132.2,89.5 133.2,89.9 134.2,88.2 135.2,89 136.2,89.4 137.2,88.2 138.2,86.7 139.2,86.7 140.2,85.3 141.2,85.7 142.2,83.5 143.2,84.4 144.2,83.6 145.1,82.7 146.1,81.7 147.1,80.4 148.1,79.9 149.1,81.3 150.1,80.7 151.1,80.4 152.1,80.3 153.1,81 154.1,80.3 155.1,79.3 156.1,80 157.1,80.7 158.1,81.8 159.1,81.7 160.1,80 161.1,80.2 162.1,79.8 163.1,81.4 164.1,81.5 165.1,81.7 166.1,82.3 167.1,82.9 168.1,82.4 169.1,81.7 170.1,81.5 171.1,81.2 172.1,81.8 173.1,80.4 174.1,79.7 175.1,80.9 176.1,81.2 177.1,80.9 178.1,80.5 179.1,80.1 180.1,80.7 181.1,80.8 182.1,81.5 183.1,80.9 184.1,80.6 185.1,81.1 186.1,80.1 187.1,80 188.1,80.1 189.1,80.2 190.1,80.1 191.1,80.7 192.1,80.6 193.1,79.5 194.1,79.4 195.1,81.1 196.1,80.8 197.1,81.6 198.1,82.1 199.1,81.9 200.1,81.7 201.1,80.3 202.1,80.4 203.1,80.9 204.1,81.1 205.1,80.8 206.1,81.1 207.1,80.7 208.1,80.6 209.1,82.1 210.1,81.7 211.1,81.3 212.1,81.7" stroke="#00B823" stroke-width="0.75"/>
<polyline points="57.2,58.9 58.2,89.6 59.2,98.3 60.2,93.9 61.2,87 62.2,77.5 63.2,66.4 64.2,55.6 65.2,43.8 66.2,35.7 67.2,30.3 68.2,28.5 69.2,28.5 70.2,28.5 71.2,28.5 72.2,28.5 73.2,28.5 74.2,32.2 75.2,36.5 76.2,38.7 77.2,42.2 78.2,46.2 79.2,50.7 80.2,55.6 81.2,58.7 82.2,63.9 83.2,67.2 84.2,72.9 85.2,79 86.2,83.7 87.2,90.5 88.2,93 89.2,91.1 90.2,92.9 91.2,94.2 92.2,94.2 93.2,96.2 94.2,95 95.2,95.3 96.2,94.2 97.2,93.8 98.2,94.5 99.2,96 100.2,95.8 101.2,94.5 102.2,92.3 103.2,93 104.2,90.4 105.2,91.7 106.2,89.9 107.2,90.9 108.2,89 109.2,89.9 110.2,88.2 111.2,87.2 112.2,85.7 113.2,85.5 114.2,87.4 115.2,85.9 116.2,84 117.2,80.5 118.2,79.2 119.2,77.9 120.2,79.2 121.2,80.1 122.2,81 123.2,80.1 124.2,82.2 125.2,84.6 126.2,85.6 127.2,84.3 128.2,85.5 129.2,87.1 130.2,89.2 131.2,89.8 132.2,87.6 133.2,90.1 134.2,91.4 135.2,91.1 136.2,91.7 137.2,93.3 138.2,91.3 139.2,90.7 140.2,87.3 141.2,86.8 142.2,87.4 143.2,84.4 144.2,84.8 145.1,83.5 146.1,82.4 147.1,81.9 148.1,80.6 149.1,80.4 150.1,80.8 151.1,79.6 152.1,80.3 153.1,80.7 154.1,80.1 155.1,81.1 156.1,82.1 157.1,81.8 158.1,80.8 159.1,80.9 160.1,81 161.1,81.4 162.1,82.3 163.1,82.5 164.1,81.9 165.1,80.8 166.1,81.3 167.1,81.1 168.1,81.3 169.1,80.3 170.1,80.5 171.1,80.8 172.1,82.1 173.1,82.4 174.1,81.1 175.1,81.3 176.1,82.3 177.1,81.5 178.1,81.8 179.1,80.9 180.1,81.7 181.1,81.1 182.1,80.6 183.1,80.7 184.1,81.4 185.1,80.4 186.1,81.2 187.1,82 188.1,82.9 189.1,82 190.1,81.8 191.1,81.9 192.1,82.2 193.1,81.6 194.1,81.8 195.1,82 196.1,80.6 197.1,81.7 198.1,83 199.1,83.3 200.1,82.4 201.1,81.7 202.1,81.7 203.1,81.8 204.1,82.2 205.1,81.2 206.1,82.2 207.1,82.3 208.1,82.1 209.1,82.1 210.1,81.6 211.1,81.3 212.1,82.9" stroke="#00BA41" stroke-width="0.75"/>
<polyline points="57.2,84.9 58.2,115 59.2,128.4 60.2,126.7 61.2,121.5 62.2,114.2 63.2,104.2 64.2,93.5 65.2,82.5 66.2,72.1 67.2,60.1 68.2,48.4 69.2,40.3 70.2,33.7 71.2,29.8 72.2,28.5 73.2,28.5 74.2,28.5 75.2,28.5 76.2,31 77.2,34 78.2,37.6 79.2,39.8 80.2,42.2 81.2,44.7 82.2,46.9 83.2,52.8 84.2,52.4 85.2,57.4 86.2,62.8 87.2,69.6 88.2,73.5 89.2,78.1 90.2,79.3 91.2,80.3 92.2,84.3 93.2,86.3 94.2,85.9 95.2,87.1 96.2,89.8 97.2,92.6 98.2,93 99.2,90.5 100.2,88.2 101.2,88.7 102.2,89.5 103.2,87.3 104.2,88.4 105.2,87.1 106.2,86.6 107.2,86.6 108.2,84.9 109.2,85.3 110.2,84 111.2,81.7 112.2,80.3 113.2,79.1 114.2,79.2 115.2,78.9 116.2,76.2 117.2,74.6 118.2,73.9 119.2,74.1 120.2,73.5 121.2,75.2 122.2,75.7 123.2,76.9 124.2,79.1 125.2,79.3 126.2,79.9 127.2,81.9 128.2,83.6 129.2,84.8 130.2,85.2 131.2,83.3 132.2,83.9 133.2,82.9 134.2,85.4 135.2,84.7 136.2,86 137.2,86.8 138.2,85.8 139.2,84.9 140.2,82.6 141.2,83.4 142.2,83.1 143.2,82.6 144.2,82.4 145.1,82.8 146.1,82.2 147.1,81.7 148.1,81.7 149.1,81.1 150.1,80.3 151.1,80.3 152.1,81.6 153.1,81.5 154.1,80.6 155.1,80.4 156.1,79.8 157.1,78.6 158.1,79.1 159.1,79.3 160.1,78.9 161.1,79.1 162.1,79.9 163.1,80.4 164.1,80.4 165.1,80.8 166.1,80.6 167.1,81.6 168.1,81.8 169.1,82.4 170.1,82.3 171.1,81.9 172.1,82.1 173.1,82.4 174.1,82 175.1,81.1 176.1,81.8 177.1,82.4 178.1,82.1 179.1,82 180.1,82.9 181.1,84.1 182.1,83 183.1,81.8 184.1,81.5 185.1,81.5 186.1,82.6 187.1,84.4 188.1,83.2 189.1,83.1 190.1,82.8 191.1,83.3 192.1,83.4 193.1,83 194.1,82.3 195.1,82.2 196.1,82.6 197.1,82.6 198.1,83.6 199.1,84.3 200.1,83.4 201.1,83.2 202.1,83 203.1,82.3 204.1,82 205.1,80.6 206.1,81.8 207.1,82.2 208.1,82.3 209.1,81.9 210.1,81.8 211.1,81.2 212.1,81.9" stroke="#00BC56" stroke-width="0.75"/>
<polyline points="57.2,76.3 58.2,91.9 59.2,95.6 60.2,90.9 61.2,85 62.2,77.5 63.2,68.9 64.2,58.9 65.2,51.8 66.2,42.5 67.2,35.3 68.2,30.2 69.2,28.5 70.2,28.5 71.2,28.5 72.2,28.5 73.2,28.5 74.2,28.5 75.2,30.7 76.2,33.5 77.2,38.5 78.2,44.5 79.2,48.6 80.2,52.6 81.2,55.1 82.2,58.5 83.2,62.3 84.2,65.8 85.2,71 86.2,74.3 87.2,77.7 88.2,80.2 89.2,83.7 90.2,84.1 91.2,86.4 92.2,87.3 93.2,88.5 94.2,90.5 95.2,92.9 96.2,94.8 97.2,95.5 98.2,97.1 99.2,95.6 100.2,95.4 101.2,95.2 102.2,94.7 103.2,94 104.2,93.4 105.2,93.7 106.2,92 107.2,89.1 108.2,88.7 109.2,86.9 110.2,85.7 111.2,84.7 112.2,82.1 113.2,81.8 114.2,81.4 115.2,79 116.2,76.9 117.2,74.3 118.2,73.5 119.2,74 120.2,76 121.2,77.4 122.2,78.3 123.2,79.7 124.2,80.3 125.2,82.6 126.2,84.1 127.2,84.8 128.2,85.4 129.2,87.9 130.2,89.6 131.2,91.8 132.2,91.5 133.2,92.2 134.2,90 135.2,90.7 136.2,88.1 137.2,86 138.2,86.7 139.2,85.2 140.2,85.7 141.2,86.9 142.2,86.4 143.2,84.6 144.2,83.3 145.1,81.9 146.1,81.6 147.1,80.6 148.1,80.5 149.1,80.2 150.1,79.8 151.1,79.6 152.1,80.3 153.1,80.2 154.1,80.8 155.1,81 156.1,80.2 157.1,80.2 158.1,79.8 159.1,80 160.1,80 161.1,81.1 162.1,80.7 163.1,81 164.1,82.1 165.1,81.2 166.1,82.2 167.1,81.4 168.1,81.3 169.1,80.4 170.1,80.7 171.1,81.9 172.1,81.4 173.1,82.1 174.1,81.9 175.1,81.6 176.1,80.5 177.1,80.6 178.1,80.8 179.1,79.7 180.1,81.1 181.1,82.3 182.1,81.8 183.1,81.4 184.1,81.2 185.1,81.6 186.1,81.7 187.1,82.2 188.1,82.3 189.1,81.9 190.1,81.7 191.1,80.3 192.1,80.2 193.1,80.4 194.1,81 195.1,80.7 196.1,81 197.1,81.3 198.1,80.8 199.1,80.4 200.1,80.9 201.1,81.3 202.1,80.9 203.1,81.1 204.1,80.7 205.1,81.5 206.1,81.4 207.1,81.3 208.1,81.7 209.1,80.9 210.1,81.2 211.1,81.1 212.1,82.1" stroke="#00BE67" stroke-width="0.75"/>
<polyline points="57.2,88.1 58.2,119.3 59.2,124.5 60.2,121.1 61.2,108.3 62.2,95.7 63.2,80 64.2,63.5 65.2,50.9 66.2,39.8 67.2,33 68.2,28.5 69.2,28.5 70.2,28.5 71.2,28.5 72.2,29.4 73.2,36 74.2,41.9 75.2,47.3 76.2,52.4 77.2,58.6 78.2,62.4 79.2,65.2 80.2,69.2 81.2,70.7 82.2,73.5 83.2,74.8 84.2,76.2 85.2,77.9 86.2,80.5 87.2,82.3 88.2,85.8 89.2,88.1 90.2,90.8 91.2,91.9 92.2,91.2 93.2,94.2 94.2,92.4 95.2,93 96.2,92 97.2,92.7 98.2,90.7 99.2,90.8 100.2,92.4 101.2,91.5 102.2,90.4 103.2,90 104.2,90 105.2,89.6 106.2,88.1 107.2,87.2 108.2,85.4 109.2,84.2 110.2,83.5 111.2,80 112.2,77.5 113.2,75.9 114.2,75.4 115.2,75.1 116.2,75.1 117.2,78.5 118.2,79 119.2,79.8 120.2,80.3 121.2,81.5 122.2,83.8 123.2,84.7 124.2,84.8 125.2,84.7 126.2,85.2 127.2,86 128.2,87.3 129.2,88.1 130.2,87.8 131.2,86.6 132.2,88.3 133.2,86.3 134.2,86.2 135.2,86.5 136.2,85.9 137.2,84.8 138.2,84.5 139.2,83.9 140.2,83.3 141.2,83.7 142.2,83.9 143.2,82.6 144.2,82.5 145.1,79.8 146.1,79.4 147.1,79.6 148.1,79.8 149.1,80.9 150.1,80.9 151.1,81.2 152.1,79.5 153.1,79.6 154.1,79.8 155.1,80.2 156.1,80.6 157.1,80.8 158.1,80.2 159.1,80 160.1,79.9 161.1,80.1 162.1,79.9 163.1,80 164.1,81 165.1,81.9 166.1,81.2 167.1,81.2 168.1,80.8 169.1,81.2 170.1,80.7 171.1,80.8 172.1,80.5 173.1,79.7 174.1,80.6 175.1,80.6 176.1,80.4 177.1,80.9 178.1,80.7 179.1,80.6 180.1,81.1 181.1,81 182.1,79.8 183.1,80.7 184.1,81.6 185.1,81.9 186.1,82.2 187.1,81.4 188.1,81.8 189.1,81.6 190.1,80.7 191.1,79.8 192.1,80.5 193.1,80.9 194.1,80.9 195.1,80.9 196.1,81.4 197.1,80.9 198.1,81 199.1,80.9 200.1,81.3 201.1,81.4 202.1,81.9 203.1,81.3 204.1,81.4 205.1,82.1 206.1,82.1 207.1,82.4 208.1,82.2 209.1,81.9 210.1,82.5 211.1,82.9 212.1,82.8" stroke="#00BF77" stroke-width="0.75"/>
<polyline points="57.2,78.9 58.2,95.5 59.2,101.1 60.2,98.8 61.2,95.7 62.2,89.6 63.2,82.4 64.2,73.5 65.2,65.2 66.2,56.1 67.2,49.2 68.2,41.3 69.2,36.2 70.2,31.1 71.2,28.5 72.2,28.5 73.2,28.5 74.2,28.5 75.2,31 76.2,35.3 77.2,39.6 78.2,43.1 79.2,48.1 80.2,49.9 81.2,54.5 82.2,57.7 83.2,60.8 84.2,65.6 85.2,73.2 86.2,77.1 87.2,84.3 88.2,86.9 89.2,88.7 90.2,90.3 91.2,92.2 92.2,93 93.2,94.5 94.2,94.9 95.2,94.5 96.2,96.8 97.2,95.9 98.2,96.3 99.2,96.1 100.2,96.4 101.2,94.7 102.2,95.1 103.2,94.7 104.2,94.7 105.2,93.8 106.2,93 107.2,91.6 108.2,91.2 109.2,88.9 110.2,87.5 111.2,85.3 112.2,84.2 113.2,83.9 114.2,82 115.2,80.9 116.2,78.4 117.2,75.8 118.2,74.5 119.2,73.8 120.2,75.2 121.2,76.4 122.2,77.7 123.2,78.5 124.2,80.7 125.2,82.5 126.2,83.7 127.2,83 128.2,85.9 129.2,87.5 130.2,87.6 131.2,86.1 132.2,87.6 133.2,88.5 134.2,89.3 135.2,87.5 136.2,87.8 137.2,88.1 138.2,85.3 139.2,85.4 140.2,84.3 141.2,84.7 142.2,84.6 143.2,85.7 144.2,84.5 145.1,84.1 146.1,82.8 147.1,82.3 148.1,82.8 149.1,82.7 150.1,82.6 151.1,82.5 152.1,81.9 153.1,80.9 154.1,80.5 155.1,80.8 156.1,81.4 157.1,80.1 158.1,79.4 159.1,80 160.1,80.5 161.1,80.9 162.1,81.3 163.1,80.8 164.1,81.2 165.1,80.4 166.1,80.4 167.1,80.5 168.1,79.5 169.1,79.8 170.1,79.9 171.1,80.5 172.1,80.4 173.1,80.2 174.1,81.1 175.1,81.4 176.1,80.9 177.1,80.4 178.1,79.8 179.1,79.9 180.1,80.6 181.1,80.2 182.1,80.6 183.1,79.8 184.1,79.5 185.1,79.4 186.1,78.8 187.1,79.1 188.1,78.3 189.1,78.7 190.1,79.4 191.1,79.9 192.1,79.8 193.1,80.8 194.1,80.2 195.1,80.6 196.1,80.6 197.1,80.5 198.1,81 199.1,80.9 200.1,81.2 201.1,81 202.1,81 203.1,80.2 204.1,81.1 205.1,82 206.1,81.7 207.1,81.6 208.1,81.9 209.1,82.3 210.1,82 211.1,82.3 212.1,82.8" stroke="#00C086" stroke-width="0.75"/>
<polyline points="57.2,82.8 58.2,116.7 59.2,132.5 60.2,125.5 61.2,108.3 62.2,85.6 63.2,61.4 64.2,41.4 65.2,30.9 66.2,28.5 67.2,28.5 68.2,28.5 69.2,28.5 70.2,28.5 71.2,29.7 72.2,34.9 73.2,40.5 74.2,48.5 75.2,58.2 76.2,68.5 77.2,74.6 78.2,76.9 79.2,76.7 80.2,78 81.2,79.4 82.2,80.7 83.2,81.6 84.2,82.6 85.2,84.4 86.2,87.1 87.2,88.7 88.2,91.2 89.2,94.6 90.2,98.8 91.2,101.1 92.2,103.2 93.2,102.2 94.2,99.9 95.2,98.2 96.2,95.8 97.2,94.1 98.2,93.4 99.2,92.4 100.2,92.1 101.2,90.9 102.2,88.3 103.2,86.6 104.2,84.2 105.2,84.4 106.2,84.2 107.2,81.6 108.2,79.6 109.2,75.9 110.2,71.1 111.2,67.4 112.2,65.7 113.2,67.1 114.2,68.3 115.2,72 116.2,76.9 117.2,80.1 118.2,84 119.2,86.5 120.2,90 121.2,92.1 122.2,94.9 123.2,96.2 124.2,97.1 125.2,96.9 126.2,95.2 127.2,95 128.2,92.8 129.2,94.4 130.2,92.5 131.2,90.7 132.2,90 133.2,89.2 134.2,87.5 135.2,86.3 136.2,84.9 137.2,84.9 138.2,84.5 139.2,84.5 140.2,82.9 141.2,82.8 142.2,82.2 143.2,81.4 144.2,80.1 145.1,79.8 146.1,80.6 147.1,80.5 148.1,80.8 149.1,80.7 150.1,80.5 151.1,80.9 152.1,81 153.1,80.6 154.1,80.3 155.1,81.7 156.1,81.4 157.1,81.2 158.1,81.5 159.1,81.1 160.1,80.8 161.1,80.9 162.1,81.2 163.1,80.3 164.1,80.9 165.1,81 166.1,81 167.1,80.7 168.1,80.6 169.1,80 170.1,79.4 171.1,79.7 172.1,79.9 173.1,80.3 174.1,79.8 175.1,80.4 176.1,80.7 177.1,79.8 178.1,80.4 179.1,80.2 180.1,80.2 181.1,80.2 182.1,80.5 183.1,80.4 184.1,80.4 185.1,81.3 186.1,80.6 187.1,80.6 188.1,79.9 189.1,81 190.1,80.7 191.1,80.7 192.1,80.9 193.1,81.4 194.1,80.5 195.1,80.3 196.1,80.1 197.1,80.8 198.1,81.2 199.1,81.2 200.1,81.1 201.1,81.3 202.1,82.2 203.1,82.4 204.1,82.2 205.1,82.1 206.1,81.9 207.1,81.4 208.1,81.9 209.1,82.1 210.1,81.4 211.1,81.4 212.1,80.5" stroke="#00C094" stroke-width="0.75"/>
<polyline points="57.2,72.9 58.2,105.1 59.2,120.5 60.2,117.6 61.2,109 62.2,95.9 63.2,82.1 64.2,67.8 65.2,53.2 66.2,42.2 67.2,32.5 68.2,29.3 69.2,28.5 70.2,28.5 71.2,28.5 72.2,28.5 73.2,31.3 74.2,35.2 75.2,41.9 76.2,50.2 77.2,58.9 78.2,66 79.2,71.9 80.2,75.7 81.2,77.7 82.2,78.6 83.2,78.1 84.2,78.1 85.2,79.9 86.2,81 87.2,79.9 88.2,80.8 89.2,81.6 90.2,85.7 91.2,86.7 92.2,87.8 93.2,88.2 94.2,88.8 95.2,88.9 96.2,88 97.2,90 98.2,89.6 99.2,88.6 100.2,88.6 101.2,88.3 102.2,87.1 103.2,87.6 104.2,85.4 105.2,84.7 106.2,84.7 107.2,84.5 108.2,80.9 109.2,78.3 110.2,77.5 111.2,74.6 112.2,73.8 113.2,70.6 114.2,69.3 115.2,68.8 116.2,69.1 117.2,69.7 118.2,71.2 119.2,75.1 120.2,76.5 121.2,77.9 122.2,79.3 123.2,79.3 124.2,81.8 125.2,83.1 126.2,84.7 127.2,87.8 128.2,87 129.2,87.7 130.2,87.4 131.2,87.3 132.2,87.1 133.2,87.1 134.2,85.3 135.2,84.7 136.2,82.3 137.2,82.5 138.2,83.6 139.2,83.2 140.2,83.3 141.2,84.9 142.2,82.7 143.2,82.2 144.2,80.1 145.1,80.1 146.1,81 147.1,80.7 148.1,80.1 149.1,80.1 150.1,80.1 151.1,80.6 152.1,80.1 153.1,80.3 154.1,80.1 155.1,80.2 156.1,80.6 157.1,80.7 158.1,80.2 159.1,80.8 160.1,81 161.1,80.6 162.1,80.2 163.1,80.4 164.1,80.4 165.1,80.9 166.1,80.5 167.1,80 168.1,81 169.1,80.7 170.1,80.9 171.1,80.5 172.1,80.7 173.1,81.3 174.1,80.9 175.1,80.7 176.1,81.8 177.1,81.1 178.1,81.2 179.1,82 180.1,82.5 181.1,81.9 182.1,81 183.1,81.3 184.1,80.7 185.1,81 186.1,80.7 187.1,80.1 188.1,80.9 189.1,81.4 190.1,80.9 191.1,80.9 192.1,81.6 193.1,82.1 194.1,82.1 195.1,82 196.1,82.4 197.1,81.6 198.1,81.7 199.1,82.4 200.1,81.4 201.1,82.4 202.1,83.6 203.1,83.6 204.1,82.8 205.1,81.2 206.1,80.1 207.1,80 208.1,81.1 209.1,81.5 210.1,82 211.1,82.7 212.1,81.5" stroke="#00C1A1" stroke-width="0.75"/>
<polyline points="57.2,64.7 58.2,108.9 59.2,116.7 60.2,111.9 61.2,101 62.2,88.9 63.2,76.5 64.2,60.9 65.2,48.7 66.2,36 67.2,29.5 68.2,28.5 69.2,28.5 70.2,28.5 71.2,28.5 72.2,28.5 73.2,28.5 74.2,32.2 75.2,38.8 76.2,41.2 77.2,47 78.2,53.8 79.2,57.5 80.2,62.4 81.2,66.2 82.2,68.4 83.2,69.6 84.2,71.4 85.2,75.3 86.2,78.4 87.2,79.6 88.2,83.9 89.2,85.2 90.2,87.7 91.2,90 92.2,91.9 93.2,93.5 94.2,94.2 95.2,93.2 96.2,93.7 97.2,94.2 98.2,93.3 99.2,92.9 100.2,92.2 101.2,89.8 102.2,88.9 103.2,87.2 104.2,88.1 105.2,87.9 106.2,86.7 107.2,85.6 108.2,84.9 109.2,84.3 110.2,83.9 111.2,83.8 112.2,80.6 113.2,75.7 114.2,73.9 115.2,72.2 116.2,70.4 117.2,69.9 118.2,70.8 119.2,73.8 120.2,74.3 121.2,76.8 122.2,77.8 123.2,77.9 124.2,80.5 125.2,82.3 126.2,85.5 127.2,86.9 128.2,88.4 129.2,91.5 130.2,90.7 131.2,92.2 132.2,91.8 133.2,91.4 134.2,88.8 135.2,87.8 136.2,88.1 137.2,85.8 138.2,84.1 139.2,82.1 140.2,83 141.2,83.6 142.2,83.8 143.2,83.4 144.2,81.6 145.1,81.8 146.1,80.5 147.1,80.2 148.1,80.5 149.1,80.5 150.1,80.4 151.1,80 152.1,78.9 153.1,79.7 154.1,78.8 155.1,79.3 156.1,79 157.1,79 158.1,80.1 159.1,80.5 160.1,80.6 161.1,80.3 162.1,80 163.1,80.7 164.1,81.3 165.1,81.7 166.1,81.7 167.1,81.7 168.1,82.2 169.1,82.1 170.1,82 171.1,82.1 172.1,82.1 173.1,81.2 174.1,81.3 175.1,81.9 176.1,81.1 177.1,80.3 178.1,79.6 179.1,80.7 180.1,81.2 181.1,81.1 182.1,80.8 183.1,80.8 184.1,79.4 185.1,80.3 186.1,81.1 187.1,81.5 188.1,81.9 189.1,81.5 190.1,81.2 191.1,81.7 192.1,81.4 193.1,81.6 194.1,81.5 195.1,81.6 196.1,81.1 197.1,80.5 198.1,79.8 199.1,80.6 200.1,81.5 201.1,82.3 202.1,82.2 203.1,82.3 204.1,82.2 205.1,82.5 206.1,82 207.1,82.2 208.1,82.6 209.1,82.9 210.1,82.6 211.1,81.8 212.1,81.7" stroke="#00C1AD" stroke-width="0.75"/>
<polyline points="57.2,83.4 58.2,103.1 59.2,104.1 60.2,95.8 61.2,82.5 62.2,68 63.2,51.9 64.2,40.3 65.2,32.1 66.2,28.5 67.2,28.6 68.2,28.5 69.2,28.5 70.2,28.5 71.2,28.5 72.2,31 73.2,36 74.2,44.8 75.2,53.3 76.2,63 77.2,67.1 78.2,73 79.2,76.4 80.2,80.8 81.2,85.1 82.2,87.5 83.2,90.9 84.2,89 85.2,92 86.2,93.9 87.2,95.6 88.2,97.2 89.2,100.5 90.2,101 91.2,102.8 92.2,103 93.2,102.3 94.2,103.1 95.2,102.9 96.2,100.1 97.2,98.2 98.2,96.1 99.2,94.4 100.2,94.2 101.2,95 102.2,93.5 103.2,91.7 104.2,89 105.2,87.9 106.2,86.2 107.2,85.9 108.2,83.1 109.2,82.8 110.2,78.9 111.2,78.6 112.2,76.5 113.2,75.7 114.2,74.3 115.2,73.6 116.2,77 117.2,77.7 118.2,78.9 119.2,81.5 120.2,84.7 121.2,85.7 122.2,89.8 123.2,94 124.2,97.4 125.2,98.4 126.2,98 127.2,97.7 128.2,96.2 129.2,97.3 130.2,95.3 131.2,96.6 132.2,94.5 133.2,91.3 134.2,88.9 135.2,87.3 136.2,87.4 137.2,85.7 138.2,84.9 139.2,82.9 140.2,84.3 141.2,83 142.2,80.7 143.2,79.8 144.2,80.3 145.1,79.6 146.1,79.1 147.1,79.1 148.1,79.1 149.1,79.4 150.1,78.4 151.1,79.2 152.1,80.2 153.1,80.6 154.1,81 155.1,81.5 156.1,80.1 157.1,79.8 158.1,79.9 159.1,80.2 160.1,80 161.1,80.2 162.1,80.3 163.1,80.6 164.1,81.4 165.1,80.4 166.1,79.3 167.1,79.8 168.1,81 169.1,80.2 170.1,80.3 171.1,80.7 172.1,80.6 173.1,79.8 174.1,79.8 175.1,80.2 176.1,80.8 177.1,81.2 178.1,80.9 179.1,81 180.1,81.8 181.1,82.1 182.1,82.1 183.1,82.2 184.1,82.8 185.1,82.7 186.1,83.4 187.1,82.7 188.1,82 189.1,81.9 190.1,82.5 191.1,82.7 192.1,84 193.1,83 194.1,83.2 195.1,83 196.1,83.3 197.1,83.3 198.1,82.1 199.1,81.7 200.1,81.9 201.1,81.7 202.1,81.7 203.1,82.1 204.1,82.4 205.1,83.1 206.1,82.5 207.1,83 208.1,82.4 209.1,81.7 210.1,82.2 211.1,81.9 212.1,81.9" stroke="#00C0B9" stroke-width="0.75"/>
<polyline points="57.2,69.3 58.2,90.9 59.2,97.1 60.2,92.5 61.2,83.9 62.2,73.7 63.2,61.3 64.2,49.4 65.2,38.7 66.2,33.4 67.2,29 68.2,28.5 69.2,28.5 70.2,28.5 71.2,28.5 72.2,30.1 73.2,32.8 74.2,36.7 75.2,40.4 76.2,45.1 77.2,48.7 78.2,54.5 79.2,55.9 80.2,59.8 81.2,63.9 82.2,68.3 83.2,72.7 84.2,77.1 85.2,80.8 86.2,84.4 87.2,85.8 88.2,85.9 89.2,86.2 90.2,87.3 91.2,87 92.2,86.9 93.2,88.3 94.2,88.2 95.2,88.9 96.2,87.9 97.2,85.2 98.2,86.8 99.2,86.6 100.2,87.1 101.2,87.1 102.2,85.9 103.2,86.1 104.2,87.1 105.2,86.4 106.2,86 107.2,86.4 108.2,86.7 109.2,85.2 110.2,84.7 111.2,85.5 112.2,81.9 113.2,81.3 114.2,79.7 115.2,78.6 116.2,76.5 117.2,75.9 118.2,77.3 119.2,76.2 120.2,76.7 121.2,79.7 122.2,82.7 123.2,82.3 124.2,81.3 125.2,81.5 126.2,84.3 127.2,84.7 128.2,83.7 129.2,85.9 130.2,86.2 131.2,85.8 132.2,85.6 133.2,85.8 134.2,87 135.2,87.6 136.2,87 137.2,85.9 138.2,85.3 139.2,84.2 140.2,82.8 141.2,81.7 142.2,82.2 143.2,83.1 144.2,82.2 145.1,82.2 146.1,82.5 147.1,81.4 148.1,81.4 149.1,81.3 150.1,80.8 151.1,79.2 152.1,80.1 153.1,80.8 154.1,80.9 155.1,80.4 156.1,80.3 157.1,80.4 158.1,81.1 159.1,80.9 160.1,80.3 161.1,79.7 162.1,80.4 163.1,80.7 164.1,80.4 165.1,79 166.1,78.9 167.1,79.3 168.1,80.5 169.1,80.9 170.1,81.1 171.1,80.3 172.1,80.5 173.1,80.4 174.1,80.4 175.1,79.7 176.1,80.7 177.1,80.8 178.1,80.3 179.1,80.4 180.1,80.1 181.1,80.8 182.1,81.3 183.1,81.1 184.1,81.2 185.1,81.3 186.1,82.1 187.1,82 188.1,82.8 189.1,82.6 190.1,82.5 191.1,82 192.1,81.3 193.1,81 194.1,81.9 195.1,82.1 196.1,82.8 197.1,83 198.1,82.3 199.1,81.9 200.1,81.8 201.1,82.1 202.1,82.9 203.1,83.5 204.1,83.5 205.1,82.3 206.1,82.5 207.1,82.9 208.1,83.7 209.1,83 210.1,83 211.1,83.5 212.1,83.1" stroke="#00BFC4" stroke-width="0.75"/>
<polyline points="57.2,54.5 58.2,81.3 59.2,90.8 60.2,89.2 61.2,83.9 62.2,73.6 63.2,61.9 64.2,50.1 65.2,40.5 66.2,33.7 67.2,29.7 68.2,28.7 69.2,28.5 70.2,28.5 71.2,28.5 72.2,28.5 73.2,29.6 74.2,32.9 75.2,35.1 76.2,41.1 77.2,45.2 78.2,51.2 79.2,55.9 80.2,59.9 81.2,64.1 82.2,66.9 83.2,70.2 84.2,73.2 85.2,74.1 86.2,77.6 87.2,81.7 88.2,84.6 89.2,85.8 90.2,87 91.2,89.4 92.2,89.8 93.2,90 94.2,91.8 95.2,92.6 96.2,91.3 97.2,90.4 98.2,89.9 99.2,88.7 100.2,88.3 101.2,87.7 102.2,88 103.2,87.4 104.2,86.5 105.2,85.9 106.2,83.9 107.2,82 108.2,82.4 109.2,79.9 110.2,78.7 111.2,77.3 112.2,75.4 113.2,75.3 114.2,74.4 115.2,76.3 116.2,78.8 117.2,80.5 118.2,83.3 119.2,84.2 120.2,85.2 121.2,85.4 122.2,84.4 123.2,86.9 124.2,88.4 125.2,88.5 126.2,89.6 127.2,88.8 128.2,88.4 129.2,85.8 130.2,87.3 131.2,87.4 132.2,87.3 133.2,85.8 134.2,85.9 135.2,86.1 136.2,85.2 137.2,82.3 138.2,83.3 139.2,82.5 140.2,82.6 141.2,80.3 142.2,81.4 143.2,80.7 144.2,79.6 145.1,80.1 146.1,80.3 147.1,79.9 148.1,80.3 149.1,80.1 150.1,78.7 151.1,79.5 152.1,78.3 153.1,77.9 154.1,78.4 155.1,79.1 156.1,79 157.1,78.8 158.1,79.8 159.1,80 160.1,81.4 161.1,81.8 162.1,80.5 163.1,81 164.1,80.1 165.1,80.5 166.1,80.2 167.1,80.8 168.1,81 169.1,81.6 170.1,82.3 171.1,81.9 172.1,81.6 173.1,82.1 174.1,81.9 175.1,81.8 176.1,81.3 177.1,80.8 178.1,81.3 179.1,81.3 180.1,81.8 181.1,81.7 182.1,81.1 183.1,81.3 184.1,81.1 185.1,81.4 186.1,80.7 187.1,80.4 188.1,80.2 189.1,80.5 190.1,80.4 191.1,80.4 192.1,80.5 193.1,80.3 194.1,79.4 195.1,79.4 196.1,80.2 197.1,80.4 198.1,81.4 199.1,81.6 200.1,80.9 201.1,80.8 202.1,81 203.1,80.9 204.1,81.1 205.1,81.9 206.1,81.2 207.1,81.8 208.1,82 209.1,81.7 210.1,81.5 211.1,82.6 212.1,83.2" stroke="#00BECF" stroke-width="0.75"/>
<polyline points="57.2,74.9 58.2,94.9 59.2,97.3 60.2,96.5 61.2,90.9 62.2,84.4 63.2,75.9 64.2,67.8 65.2,57.5 66.2,47.7 67.2,40.5 68.2,35.5 69.2,30.5 70.2,28.5 71.2,28.5 72.2,28.5 73.2,28.5 74.2,34.7 75.2,39.6 76.2,45.5 77.2,53.1 78.2,58.5 79.2,63.6 80.2,69.9 81.2,72.7 82.2,74.9 83.2,77.6 84.2,80.5 85.2,82.7 86.2,84.9 87.2,86.2 88.2,89 89.2,90.2 90.2,91.9 91.2,93.8 92.2,95 93.2,94.1 94.2,94.9 95.2,95.7 96.2,95.6 97.2,96.4 98.2,98.2 99.2,96.8 100.2,94.7 101.2,94.6 102.2,91.6 103.2,90.5 104.2,90.7 105.2,89.9 106.2,90.6 107.2,89.1 108.2,87.7 109.2,87.2 110.2,86 111.2,85.2 112.2,84.1 113.2,82.2 114.2,80.9 115.2,78.9 116.2,79.6 117.2,77.9 118.2,78 119.2,77.8 120.2,77.3 121.2,77 122.2,78 123.2,78.3 124.2,80.5 125.2,80.2 126.2,82.9 127.2,85.2 128.2,85.2 129.2,85.3 130.2,85.2 131.2,87.6 132.2,86.9 133.2,88.9 134.2,88.3 135.2,89.1 136.2,88.1 137.2,87.5 138.2,87.5 139.2,84.1 140.2,86 141.2,85.3 142.2,83.6 143.2,83.8 144.2,84.9 145.1,81.6 146.1,80.3 147.1,80.7 148.1,79.9 149.1,79.8 150.1,79.8 151.1,79.5 152.1,80.3 153.1,80.8 154.1,80.9 155.1,80.4 156.1,80.6 157.1,80.2 158.1,79.5 159.1,80.1 160.1,80.1 161.1,80.1 162.1,79.8 163.1,80.7 164.1,81.6 165.1,82 166.1,81.7 167.1,82.4 168.1,83.2 169.1,83.1 170.1,82 171.1,81.9 172.1,82 173.1,82.3 174.1,82.7 175.1,81.5 176.1,81.8 177.1,81.4 178.1,80.5 179.1,81.5 180.1,81 181.1,81.2 182.1,81.1 183.1,81 184.1,81.2 185.1,81.2 186.1,80.6 187.1,81.3 188.1,81.9 189.1,81.3 190.1,81.9 191.1,81 192.1,80.7 193.1,80.9 194.1,80.8 195.1,80.4 196.1,80.1 197.1,80.9 198.1,81.1 199.1,81 200.1,81 201.1,81.3 202.1,81.2 203.1,81.4 204.1,80.4 205.1,80.2 206.1,79.9 207.1,81.2 208.1,81.5 209.1,81 210.1,81.1 211.1,82.3 212.1,82.4" stroke="#00BCD9" stroke-width="0.75"/>
<polyline points="57.2,56.3 58.2,91.2 59.2,109.4 60.2,107.3 61.2,100.5 62.2,92.2 63.2,80.2 64.2,66.6 65.2,54.7 66.2,42.3 67.2,33.3 68.2,28.5 69.2,28.5 70.2,28.5 71.2,28.5 72.2,28.5 73.2,31.9 74.2,37.6 75.2,39.9 76.2,43.4 77.2,45.9 78.2,49 79.2,54.6 80.2,58.1 81.2,63.6 82.2,69.1 83.2,74.6 84.2,79.8 85.2,85.5 86.2,87.4 87.2,89.5 88.2,91.3 89.2,93.5 90.2,94.6 91.2,93.8 92.2,95 93.2,95.8 94.2,95.9 95.2,95.2 96.2,94.8 97.2,94.5 98.2,92.9 99.2,91.9 100.2,90 101.2,90 102.2,88.2 103.2,86.8 104.2,87.5 105.2,86.9 106.2,86.4 107.2,86.6 108.2,84.4 109.2,82.7 110.2,80.7 111.2,79.2 112.2,77.7 113.2,76.8 114.2,74.7 115.2,73.3 116.2,72.6 117.2,73.1 118.2,74.9 119.2,77 120.2,79 121.2,80.7 122.2,82.5 123.2,83.8 124.2,85.7 125.2,88.4 126.2,89.1 127.2,90.6 128.2,90.4 129.2,90.2 130.2,89.9 131.2,90.1 132.2,90.1 133.2,88.9 134.2,88.5 135.2,88.1 136.2,85.4 137.2,85.3 138.2,84.3 139.2,82.7 140.2,82.1 141.2,83.2 142.2,82.3 143.2,83 144.2,82.2 145.1,83.3 146.1,82.9 147.1,81.7 148.1,82 149.1,81.2 150.1,81.4 151.1,81.2 152.1,80.7 153.1,80.8 154.1,80.7 155.1,80.6 156.1,80.9 157.1,81 158.1,81.1 159.1,81.8 160.1,81.3 161.1,81.1 162.1,80.1 163.1,80.1 164.1,80.6 165.1,80.8 166.1,81.5 167.1,81.1 168.1,80.8 169.1,80.7 170.1,80.3 171.1,81.4 172.1,82.8 173.1,82.9 174.1,82.2 175.1,81.2 176.1,81.4 177.1,81.4 178.1,81 179.1,82 180.1,82.5 181.1,80.7 182.1,80.8 183.1,82 184.1,81.9 185.1,81.3 186.1,80.6 187.1,80.8 188.1,81.2 189.1,82.4 190.1,82.4 191.1,82 192.1,82.1 193.1,83.1 194.1,82.8 195.1,82.3 196.1,82.9 197.1,81.2 198.1,82 199.1,81.9 200.1,82 201.1,82 202.1,82.3 203.1,83 204.1,83.5 205.1,83 206.1,82.5 207.1,82.8 208.1,82.3 209.1,82.9 210.1,83.1 211.1,83.2 212.1,83.1" stroke="#00B9E2" stroke-width="0.75"/>
<polyline points="57.2,74.2 58.2,117.4 59.2,131.7 60.2,126.2 61.2,117.1 62.2,105.9 63.2,92.8 64.2,78.6 65.2,63.5 66.2,51.1 67.2,41.5 68.2,33 69.2,28.5 70.2,28.5 71.2,28.5 72.2,28.5 73.2,30.8 74.2,36.6 75.2,42.5 76.2,48 77.2,52.2 78.2,58.9 79.2,62.3 80.2,68 81.2,72.4 82.2,77 83.2,78.9 84.2,82.7 85.2,83.5 86.2,86.1 87.2,87.9 88.2,89 89.2,90.1 90.2,92.4 91.2,95.4 92.2,94.7 93.2,92.7 94.2,91.6 95.2,92 96.2,92.4 97.2,93.8 98.2,91.8 99.2,91.6 100.2,91.8 101.2,91.9 102.2,90.4 103.2,91.1 104.2,89.9 105.2,88.3 106.2,86.8 107.2,86 108.2,85 109.2,85.3 110.2,82.7 111.2,81 112.2,80.7 113.2,78.3 114.2,76.7 115.2,75.7 116.2,73 117.2,74.4 118.2,76.7 119.2,78 120.2,78.6 121.2,81.7 122.2,81.9 123.2,84.1 124.2,85.4 125.2,87.7 126.2,87.6 127.2,89.5 128.2,89.7 129.2,91.4 130.2,91.5 131.2,89.8 132.2,88.4 133.2,88 134.2,89.4 135.2,87.5 136.2,85.4 137.2,84.6 138.2,85 139.2,86 140.2,85.8 141.2,82.4 142.2,82.1 143.2,80.7 144.2,80.3 145.1,80.7 146.1,81.2 147.1,81.3 148.1,81.4 149.1,81.9 150.1,81.2 151.1,81.5 152.1,80.9 153.1,80.7 154.1,79.4 155.1,81.5 156.1,81.7 157.1,81.7 158.1,81.2 159.1,80.8 160.1,80.2 161.1,79.3 162.1,78.6 163.1,79 164.1,78.9 165.1,79.8 166.1,79.6 167.1,79 168.1,78.8 169.1,78.5 170.1,78.2 171.1,78.4 172.1,79.8 173.1,79.6 174.1,79.5 175.1,78.9 176.1,79.3 177.1,79.7 178.1,80.2 179.1,80.1 180.1,79.8 181.1,80.8 182.1,80.7 183.1,81.4 184.1,81.4 185.1,81.1 186.1,81 187.1,81.5 188.1,81.9 189.1,80.6 190.1,82.1 191.1,81.9 192.1,81.8 193.1,82.2 194.1,82.1 195.1,82.6 196.1,82.2 197.1,82.4 198.1,82.7 199.1,82.4 200.1,82.5 201.1,82.2 202.1,82 203.1,82.6 204.1,82.4 205.1,81.6 206.1,82.1 207.1,81.6 208.1,82.1 209.1,82.3 210.1,83.4 211.1,83.3 212.1,82.5" stroke="#00B6EB" stroke-width="0.75"/>
<polyline points="57.2,79.7 58.2,91.9 59.2,92.3 60.2,89.8 61.2,85.3 62.2,80.5 63.2,74.9 64.2,69 65.2,60.2 66.2,52.3 67.2,44.7 68.2,37.2 69.2,33.7 70.2,31 71.2,28.5 72.2,28.5 73.2,28.5 74.2,28.5 75.2,28.5 76.2,30.5 77.2,34.7 78.2,37.1 79.2,41.6 80.2,45.2 81.2,50 82.2,53 83.2,55.6 84.2,61.8 85.2,68.9 86.2,75.1 87.2,79.4 88.2,84 89.2,86 90.2,85.4 91.2,84.6 92.2,85.8 93.2,87.2 94.2,88.6 95.2,90 96.2,89 97.2,89.7 98.2,88.5 99.2,87.1 100.2,89 101.2,89.4 102.2,88.3 103.2,86.1 104.2,86.6 105.2,86.7 106.2,87 107.2,85.8 108.2,85.4 109.2,87.2 110.2,87.2 111.2,84.9 112.2,84.2 113.2,82.7 114.2,83.2 115.2,81.5 116.2,81 117.2,79.3 118.2,80.2 119.2,78.6 120.2,77.2 121.2,77.6 122.2,78.7 123.2,80.7 124.2,84.1 125.2,85.2 126.2,85.8 127.2,84.5 128.2,84.1 129.2,84.3 130.2,83.6 131.2,84.7 132.2,86.4 133.2,85.4 134.2,87.4 135.2,86.3 136.2,87.3 137.2,88 138.2,84.6 139.2,84.1 140.2,83.9 141.2,82.9 142.2,82.6 143.2,83.3 144.2,83.3 145.1,81.9 146.1,81.2 147.1,81.6 148.1,81.1 149.1,81.8 150.1,80.8 151.1,80.4 152.1,80.7 153.1,80.6 154.1,81.5 155.1,81 156.1,81.9 157.1,81.6 158.1,80.9 159.1,80.3 160.1,79.8 161.1,79.5 162.1,79.5 163.1,80 164.1,79.9 165.1,80.3 166.1,80 167.1,80 168.1,79.3 169.1,79 170.1,80.2 171.1,80.7 172.1,79.7 173.1,79.4 174.1,79.4 175.1,79.8 176.1,80.4 177.1,80.5 178.1,81 179.1,81.1 180.1,80.2 181.1,80.3 182.1,80.1 183.1,79.6 184.1,79.6 185.1,80.7 186.1,80.1 187.1,80.5 188.1,80.4 189.1,80.4 190.1,80.3 191.1,80.1 192.1,81 193.1,80.7 194.1,80.2 195.1,80 196.1,80 197.1,81.3 198.1,81.5 199.1,81.6 200.1,81.3 201.1,81 202.1,81.3 203.1,81.8 204.1,82.5 205.1,82.5 206.1,82.7 207.1,82.3 208.1,82.5 209.1,82.1 210.1,82.8 211.1,82.6 212.1,82.4" stroke="#00B2F2" stroke-width="0.75"/>
<polyline points="57.2,59.4 58.2,109.4 59.2,117.7 60.2,108.7 61.2,92.1 62.2,73.2 63.2,54 64.2,39.4 65.2,30 66.2,28.5 67.2,28.5 68.2,28.5 69.2,28.5 70.2,28.5 71.2,31.3 72.2,37.4 73.2,44.7 74.2,47.4 75.2,52.9 76.2,57.9 77.2,62.7 78.2,69.6 79.2,72 80.2,74.5 81.2,79.9 82.2,82.4 83.2,85.2 84.2,87.9 85.2,88.9 86.2,92.4 87.2,92.3 88.2,93 89.2,94.2 90.2,95.1 91.2,94.4 92.2,95.7 93.2,96.8 94.2,96.8 95.2,95.5 96.2,94.8 97.2,93.8 98.2,92.9 99.2,93.2 100.2,94.6 101.2,93.4 102.2,91.7 103.2,90.8 104.2,89.9 105.2,89.4 106.2,87 107.2,84.7 108.2,83.5 109.2,81.6 110.2,80.4 111.2,78.8 112.2,75.5 113.2,73 114.2,69.8 115.2,69.5 116.2,71.4 117.2,73.5 118.2,76.9 119.2,78.9 120.2,81.6 121.2,83.7 122.2,85 123.2,86 124.2,87 125.2,90.2 126.2,89.5 127.2,90.5 128.2,90 129.2,90.6 130.2,89.1 131.2,90 132.2,92.6 133.2,90.6 134.2,89.2 135.2,88.9 136.2,88.3 137.2,86.6 138.2,85.5 139.2,83.9 140.2,85.4 141.2,84 142.2,83.9 143.2,82.4 144.2,80.7 145.1,81.9 146.1,81.8 147.1,81.2 148.1,81.4 149.1,81.5 150.1,81.2 151.1,81.1 152.1,81.1 153.1,81.8 154.1,81.6 155.1,81.4 156.1,80.3 157.1,80 158.1,80.3 159.1,80.7 160.1,79.9 161.1,78.7 162.1,79.2 163.1,79.2 164.1,79.7 165.1,79.5 166.1,79.5 167.1,79 168.1,79.9 169.1,79.7 170.1,79.3 171.1,80.4 172.1,80.3 173.1,79.7 174.1,79.5 175.1,80 176.1,80.4 177.1,80.3 178.1,79.7 179.1,79.8 180.1,79.2 181.1,80 182.1,79.8 183.1,79.7 184.1,80.8 185.1,80.9 186.1,79.6 187.1,78.5 188.1,78.9 189.1,79.6 190.1,80.6 191.1,81.1 192.1,81.4 193.1,80.9 194.1,80 195.1,80 196.1,79.5 197.1,80.2 198.1,80.7 199.1,80.3 200.1,80.5 201.1,80.5 202.1,81.1 203.1,80.6 204.1,81 205.1,81.5 206.1,82.2 207.1,81.2 208.1,81.5 209.1,81.4 210.1,81.7 211.1,81.7 212.1,82.1" stroke="#00AEF9" stroke-width="0.75"/>
<polyline points="57.2,59.1 58.2,107.3 59.2,119.5 60.2,118 61.2,111.4 62.2,103.8 63.2,93.2 64.2,81.4 65.2,68.6 66.2,58 67.2,49.2 68.2,42.2 69.2,34.1 70.2,30.4 71.2,28.5 72.2,28.5 73.2,28.5 74.2,28.5 75.2,34.7 76.2,40.8 77.2,48.5 78.2,56.4 79.2,64.3 80.2,72.4 81.2,77.6 82.2,78.7 83.2,80 84.2,80.8 85.2,81.7 86.2,82.3 87.2,83.8 88.2,84.9 89.2,86.5 90.2,87.6 91.2,88.9 92.2,91.5 93.2,92.5 94.2,90.8 95.2,91.4 96.2,92.4 97.2,93 98.2,93.6 99.2,93.4 100.2,91.3 101.2,90.8 102.2,90.1 103.2,89.6 104.2,92.5 105.2,93 106.2,93.1 107.2,92.2 108.2,90.7 109.2,89.8 110.2,89.5 111.2,86.7 112.2,85.9 113.2,84.4 114.2,83.7 115.2,82.8 116.2,82.2 117.2,80.9 118.2,79.4 119.2,78.1 120.2,79.4 121.2,80.9 122.2,82.5 123.2,82.1 124.2,82.3 125.2,83.2 126.2,85.4 127.2,85.5 128.2,84.3 129.2,86.5 130.2,86 131.2,87.1 132.2,87 133.2,88.1 134.2,89.7 135.2,90.8 136.2,89 137.2,90.1 138.2,89.5 139.2,88.6 140.2,85.3 141.2,83.1 142.2,82.3 143.2,83.8 144.2,83.5 145.1,83.1 146.1,81.9 147.1,81.2 148.1,82.3 149.1,81.8 150.1,80.7 151.1,81 152.1,81.3 153.1,81 154.1,80 155.1,80.5 156.1,81 157.1,81.4 158.1,80.9 159.1,81.3 160.1,80.8 161.1,80.8 162.1,80.1 163.1,81.1 164.1,81.2 165.1,81 166.1,82.1 167.1,81 168.1,81.2 169.1,80.2 170.1,81 171.1,81.1 172.1,80.5 173.1,80 174.1,80.1 175.1,80.7 176.1,80.9 177.1,81.2 178.1,80.2 179.1,80.9 180.1,80.7 181.1,80.4 182.1,79.8 183.1,80 184.1,80.1 185.1,81.1 186.1,81.3 187.1,81.8 188.1,80.6 189.1,80.8 190.1,80.7 191.1,80.4 192.1,80.9 193.1,81.1 194.1,80.3 195.1,81.4 196.1,81.2 197.1,81 198.1,81 199.1,81.4 200.1,81 201.1,80 202.1,81.1 203.1,81.7 204.1,82.1 205.1,82.1 206.1,81.8 207.1,81.8 208.1,82.9 209.1,82.2 210.1,83.2 211.1,82.8 212.1,82.9" stroke="#00A9FF" stroke-width="0.75"/>
<polyline points="57.2,89.2 58.2,104.6 59.2,104.5 60.2,99.3 61.2,92.9 62.2,82.8 63.2,71.2 64.2,59.1 65.2,48.6 66.2,40.4 67.2,34.7 68.2,30 69.2,28.5 70.2,28.5 71.2,28.5 72.2,28.5 73.2,28.5 74.2,32.8 75.2,36.5 76.2,40.5 77.2,44.7 78.2,49.3 79.2,53.1 80.2,57.1 81.2,61.1 82.2,68 83.2,74.4 84.2,78.2 85.2,83.3 86.2,87 87.2,87.2 88.2,88.2 89.2,89.1 90.2,90.6 91.2,89.9 92.2,91 93.2,91.7 94.2,91.3 95.2,92.6 96.2,91.8 97.2,90 98.2,89.1 99.2,87 100.2,87.2 101.2,86.8 102.2,88 103.2,86.8 104.2,86.2 105.2,87.2 106.2,85 107.2,83.9 108.2,83.7 109.2,85 110.2,84.3 111.2,82.5 112.2,78.6 113.2,75.7 114.2,73.7 115.2,73.2 116.2,76 117.2,75.1 118.2,78.4 119.2,79.8 120.2,78.3 121.2,78.6 122.2,79.9 123.2,81.4 124.2,82.9 125.2,85.6 126.2,85.3 127.2,87.4 128.2,88.7 129.2,86.8 130.2,86.5 131.2,85.9 132.2,85.8 133.2,86.4 134.2,85.7 135.2,85.7 136.2,85.2 137.2,83.5 138.2,84.6 139.2,86 140.2,84.4 141.2,84.4 142.2,83.4 143.2,81.6 144.2,81.6 145.1,81.6 146.1,80.9 147.1,80.8 148.1,81.9 149.1,81.4 150.1,81.7 151.1,80.8 152.1,80.7 153.1,81.1 154.1,81.3 155.1,81.3 156.1,80.4 157.1,80.6 158.1,79.5 159.1,79.3 160.1,79.1 161.1,79.6 162.1,79.9 163.1,80.2 164.1,79.9 165.1,80.9 166.1,80.6 167.1,81 168.1,80.8 169.1,81.5 170.1,81.9 171.1,80.8 172.1,80.8 173.1,80.5 174.1,81.3 175.1,81.2 176.1,80.3 177.1,80.9 178.1,81 179.1,81.5 180.1,80.9 181.1,80.1 182.1,80.4 183.1,81.7 184.1,80.7 185.1,81.1 186.1,81.3 187.1,80.9 188.1,80.8 189.1,79.9 190.1,79.6 191.1,79.9 192.1,80.5 193.1,80.9 194.1,81.4 195.1,81 196.1,80.9 197.1,81 198.1,81.3 199.1,80.9 200.1,81.1 201.1,80.5 202.1,81.2 203.1,80.2 204.1,80.5 205.1,80.2 206.1,81.6 207.1,81.4 208.1,81.4 209.1,80.1 210.1,79.3 211.1,79.5 212.1,79.5" stroke="#06A4FF" stroke-width="0.75"/>
<polyline points="57.2,84.6 58.2,105.5 59.2,113.1 60.2,110.9 61.2,101 62.2,85.9 63.2,70.1 64.2,54 65.2,40.2 66.2,31.5 67.2,28.5 68.2,28.5 69.2,28.5 70.2,28.5 71.2,28.5 72.2,28.5 73.2,29.9 74.2,33.9 75.2,38.4 76.2,43.8 77.2,51.2 78.2,59.3 79.2,64.3 80.2,68.7 81.2,71.9 82.2,74.9 83.2,79.1 84.2,81.8 85.2,84.3 86.2,86.3 87.2,86.2 88.2,86.2 89.2,89.3 90.2,88 91.2,91.1 92.2,92 93.2,91.1 94.2,92.2 95.2,92.4 96.2,93.7 97.2,93 98.2,92.1 99.2,92.2 100.2,89.6 101.2,88.7 102.2,86.8 103.2,88.5 104.2,88.5 105.2,85.3 106.2,83.9 107.2,82.6 108.2,84.7 109.2,83.9 110.2,82.5 111.2,82.5 112.2,80.4 113.2,78.3 114.2,76 115.2,74 116.2,74.5 117.2,73.9 118.2,74.5 119.2,77.7 120.2,79.3 121.2,80.4 122.2,82.7 123.2,82.8 124.2,83 125.2,85.2 126.2,87.5 127.2,88.1 128.2,90.5 129.2,90 130.2,91.7 131.2,91.1 132.2,91.3 133.2,90.9 134.2,88.9 135.2,88.3 136.2,87.2 137.2,83.2 138.2,81.7 139.2,83.6 140.2,83.7 141.2,84.2 142.2,83.6 143.2,81.4 144.2,80.8 145.1,81.1 146.1,82 147.1,81.1 148.1,80.3 149.1,81.3 150.1,80.6 151.1,80.9 152.1,80.6 153.1,81.6 154.1,81.9 155.1,82.3 156.1,82.4 157.1,81.7 158.1,81.5 159.1,81.1 160.1,81.2 161.1,81 162.1,81.1 163.1,81.8 164.1,81.6 165.1,81.6 166.1,81.4 167.1,81 168.1,80.9 169.1,81.4 170.1,81.8 171.1,82.4 172.1,82.5 173.1,82.4 174.1,82.4 175.1,82 176.1,81.6 177.1,82.1 178.1,81.9 179.1,81 180.1,80.9 181.1,81.5 182.1,80.5 183.1,80.4 184.1,81.7 185.1,81.1 186.1,80.8 187.1,81 188.1,82.1 189.1,80.5 190.1,80.6 191.1,81.5 192.1,82.4 193.1,82.7 194.1,81.5 195.1,82 196.1,81.5 197.1,81.5 198.1,81.9 199.1,81.1 200.1,81.1 201.1,82.4 202.1,81.7 203.1,82.5 204.1,82 205.1,82.1 206.1,81.2 207.1,82 208.1,81.9 209.1,82.6 210.1,82 211.1,82.7 212.1,82.9" stroke="#549EFF" stroke-width="0.75"/>
<polyline points="57.2,81.4 58.2,96.6 59.2,99.3 60.2,94.5 61.2,88.7 62.2,78.5 63.2,70.5 64.2,61.2 65.2,53 66.2,43.5 67.2,35.8 68.2,32.6 69.2,28.6 70.2,28.5 71.2,28.5 72.2,28.5 73.2,28.5 74.2,28.5 75.2,31.6 76.2,36.2 77.2,43.5 78.2,49.5 79.2,56.5 80.2,61.2 81.2,66 82.2,70.2 83.2,72 84.2,72.8 85.2,74.8 86.2,77.6 87.2,78.1 88.2,79.5 89.2,79.5 90.2,82.2 91.2,85.2 92.2,86.9 93.2,86.6 94.2,88.9 95.2,87.5 96.2,88.2 97.2,89.6 98.2,89.6 99.2,91.6 100.2,91.7 101.2,91.2 102.2,89.7 103.2,88.9 104.2,88.2 105.2,88.5 106.2,87.4 107.2,86.2 108.2,85.3 109.2,83.9 110.2,84.7 111.2,83 112.2,82.2 113.2,80.3 114.2,79.2 115.2,77.7 116.2,77.1 117.2,74.1 118.2,69.9 119.2,68.7 120.2,68.6 121.2,69.4 122.2,71.4 123.2,73.7 124.2,77.7 125.2,79.8 126.2,81.2 127.2,80.6 128.2,82.8 129.2,84.3 130.2,85.1 131.2,83.2 132.2,84.3 133.2,84.8 134.2,84.6 135.2,84.5 136.2,83.9 137.2,84.5 138.2,84.3 139.2,82.6 140.2,83.7 141.2,85.5 142.2,86.4 143.2,86.4 144.2,84.1 145.1,82.5 146.1,81.9 147.1,81.7 148.1,81.8 149.1,82.3 150.1,81.8 151.1,81.3 152.1,81.5 153.1,81 154.1,80.5 155.1,80 156.1,79.5 157.1,79.7 158.1,79.8 159.1,79.8 160.1,80.2 161.1,80.7 162.1,80 163.1,81.3 164.1,81.3 165.1,80.9 166.1,80.3 167.1,80.3 168.1,81.1 169.1,81.6 170.1,81.1 171.1,80.6 172.1,80.1 173.1,80.7 174.1,81.2 175.1,80.4 176.1,80.8 177.1,80.7 178.1,81.1 179.1,80.4 180.1,81.2 181.1,82.1 182.1,81.4 183.1,81.5 184.1,81.2 185.1,81 186.1,81.2 187.1,81.6 188.1,81.5 189.1,80.7 190.1,81.5 191.1,81.6 192.1,81.5 193.1,81.1 194.1,82.2 195.1,81.6 196.1,82 197.1,81.9 198.1,81.3 199.1,81.6 200.1,82.9 201.1,81.9 202.1,82.8 203.1,82.5 204.1,82.7 205.1,82.5 206.1,82.2 207.1,82.4 208.1,83.3 209.1,82.2 210.1,82.4 211.1,82.3 212.1,82.1" stroke="#7698FF" stroke-width="0.75"/>
<polyline points="57.2,52.1 58.2,100.8 59.2,125.9 60.2,123.8 61.2,115.3 62.2,104.4 63.2,92 64.2,76.9 65.2,63.3 66.2,49.9 67.2,38.3 68.2,30.1 69.2,28.5 70.2,28.5 71.2,28.5 72.2,28.5 73.2,31.1 74.2,37.4 75.2,43.4 76.2,49.4 77.2,54.4 78.2,62 79.2,68.5 80.2,72.1 81.2,75.7 82.2,76.6 83.2,78.6 84.2,78.8 85.2,78.4 86.2,79.7 87.2,81.8 88.2,84.7 89.2,86.6 90.2,84.6 91.2,86.5 92.2,88 93.2,90 94.2,91 95.2,93.6 96.2,92.8 97.2,92.3 98.2,90.6 99.2,90.5 100.2,90.2 101.2,88 102.2,87 103.2,86.5 104.2,86.4 105.2,84.9 106.2,84.3 107.2,82.4 108.2,82 109.2,82.7 110.2,83.3 111.2,83.2 112.2,82.2 113.2,81.3 114.2,81 115.2,78.6 116.2,77.3 117.2,75.9 118.2,77 119.2,77.7 120.2,78 121.2,79.3 122.2,77.8 123.2,78.5 124.2,78.8 125.2,80.6 126.2,82.6 127.2,84.1 128.2,86.9 129.2,88.9 130.2,89.3 131.2,88.4 132.2,89.8 133.2,91.4 134.2,90.3 135.2,88 136.2,88.2 137.2,87.7 138.2,85.2 139.2,83.8 140.2,82.6 141.2,81.8 142.2,84.1 143.2,83.1 144.2,84.6 145.1,82.9 146.1,82.9 147.1,81.9 148.1,81 149.1,80.6 150.1,80.2 151.1,79.6 152.1,79.9 153.1,80.8 154.1,80.7 155.1,80.8 156.1,81.2 157.1,81.9 158.1,80.9 159.1,80.1 160.1,80.2 161.1,80.9 162.1,81 163.1,80.9 164.1,80.3 165.1,80.2 166.1,81 167.1,81.2 168.1,80.2 169.1,79.8 170.1,80.2 171.1,81.1 172.1,81.2 173.1,80.5 174.1,80.1 175.1,80.8 176.1,81.9 177.1,82.4 178.1,82.8 179.1,83.1 180.1,82.3 181.1,81.4 182.1,81 183.1,81.6 184.1,80.1 185.1,80.8 186.1,81 187.1,80.8 188.1,80.8 189.1,80.4 190.1,80.4 191.1,80.6 192.1,81.1 193.1,81 194.1,80.7 195.1,81.3 196.1,81.3 197.1,82.3 198.1,81.8 199.1,81.7 200.1,81.8 201.1,81.7 202.1,81.5 203.1,81.9 204.1,83 205.1,81.7 206.1,82.4 207.1,81.8 208.1,81.8 209.1,81.3 210.1,81.5 211.1,82.1 212.1,83" stroke="#9091FF" stroke-width="0.75"/>
<polyline points="57.2,85 58.2,100.7 59.2,106.1 60.2,105.1 61.2,99.3 62.2,93.7 63.2,84.8 64.2,78.5 65.2,67.2 66.2,57.8 67.2,49.3 68.2,42.2 69.2,35.9 70.2,32.9 71.2,28.6 72.2,28.5 73.2,28.5 74.2,28.5 75.2,30.1 76.2,33.5 77.2,38.9 78.2,43.6 79.2,50 80.2,56.1 81.2,62.8 82.2,66.3 83.2,70.3 84.2,73.6 85.2,77.7 86.2,78.2 87.2,79.6 88.2,80.3 89.2,82.8 90.2,85 91.2,85.5 92.2,86 93.2,87.5 94.2,88.1 95.2,88.5 96.2,88.2 97.2,87.3 98.2,87.6 99.2,86.6 100.2,87.5 101.2,88.4 102.2,88.7 103.2,87 104.2,84.8 105.2,84.2 106.2,83.8 107.2,84.6 108.2,83.5 109.2,82.6 110.2,83.2 111.2,82.1 112.2,81.6 113.2,82.3 114.2,80.7 115.2,78.6 116.2,76.5 117.2,74.9 118.2,72.9 119.2,73.3 120.2,73.3 121.2,73.7 122.2,75.3 123.2,75.5 124.2,78 125.2,77.6 126.2,78.2 127.2,78.8 128.2,81.3 129.2,82.8 130.2,84.4 131.2,86 132.2,85.7 133.2,84 134.2,83 135.2,84.6 136.2,84.6 137.2,84.3 138.2,83.3 139.2,85.8 140.2,86.2 141.2,84.9 142.2,84.3 143.2,83.5 144.2,83 145.1,83.1 146.1,82.9 147.1,82.7 148.1,82 149.1,80.8 150.1,81.6 151.1,80.7 152.1,81.7 153.1,81.6 154.1,81.7 155.1,81.7 156.1,82.1 157.1,82.2 158.1,81.4 159.1,81.1 160.1,81.1 161.1,80.5 162.1,80.2 163.1,79.7 164.1,79.6 165.1,79.3 166.1,79.1 167.1,79.2 168.1,80.3 169.1,80.1 170.1,79.4 171.1,79.9 172.1,80 173.1,80.3 174.1,80.6 175.1,80.6 176.1,79.9 177.1,80.1 178.1,80.3 179.1,80 180.1,80.4 181.1,82.2 182.1,81.2 183.1,81.8 184.1,82.6 185.1,83.1 186.1,83.1 187.1,83.4 188.1,83.3 189.1,83.6 190.1,82.9 191.1,82.6 192.1,82.4 193.1,82.7 194.1,82.8 195.1,82.5 196.1,83.3 197.1,83.8 198.1,82.6 199.1,81.9 200.1,81.9 201.1,83.8 202.1,83.8 203.1,83.5 204.1,83.1 205.1,83.1 206.1,82.7 207.1,82.6 208.1,82.1 209.1,82.4 210.1,83.3 211.1,82.4 212.1,82.2" stroke="#A58AFF" stroke-width="0.75"/>
<polyline points="57.2,64.9 58.2,113 59.2,130.8 60.2,124 61.2,110.6 62.2,92.4 63.2,71.8 64.2,53.3 65.2,38.9 66.2,30.8 67.2,28.5 68.2,28.5 69.2,28.5 70.2,28.5 71.2,28.5 72.2,32.8 73.2,36.2 74.2,43.3 75.2,52.7 76.2,62.9 77.2,70.2 78.2,77 79.2,80.9 80.2,80.6 81.2,81.4 82.2,80.8 83.2,82.5 84.2,83.6 85.2,82.8 86.2,84.7 87.2,84.4 88.2,84.9 89.2,85.2 90.2,85.2 91.2,86.3 92.2,86.6 93.2,88.9 94.2,86.3 95.2,86.8 96.2,86.2 97.2,85.2 98.2,85.2 99.2,85.3 100.2,84.8 101.2,85.6 102.2,84.2 103.2,84 104.2,82.9 105.2,83.5 106.2,83.8 107.2,83 108.2,84.9 109.2,85 110.2,83.8 111.2,78.8 112.2,80.5 113.2,79.3 114.2,79.9 115.2,79.3 116.2,79.1 117.2,77.6 118.2,80.4 119.2,81.5 120.2,81.7 121.2,82.9 122.2,83.5 123.2,84 124.2,83.9 125.2,85.1 126.2,87 127.2,84.7 128.2,84.4 129.2,83.5 130.2,84.1 131.2,84.1 132.2,82.3 133.2,83 134.2,82.5 135.2,83.8 136.2,82.7 137.2,83.6 138.2,82.1 139.2,84 140.2,84 141.2,84.3 142.2,82.1 143.2,83 144.2,83.7 145.1,82.8 146.1,82.3 147.1,82 148.1,81 149.1,81.4 150.1,81 151.1,81.1 152.1,80.9 153.1,80.6 154.1,79.8 155.1,78.9 156.1,78.8 157.1,79.2 158.1,80.4 159.1,80.3 160.1,80.2 161.1,79.9 162.1,80 163.1,79.3 164.1,80.6 165.1,80.6 166.1,80.3 167.1,80.3 168.1,80.1 169.1,80.2 170.1,80.3 171.1,80.4 172.1,80.3 173.1,81 174.1,81.7 175.1,82.3 176.1,81.2 177.1,80.4 178.1,80.8 179.1,80.5 180.1,79.9 181.1,81.1 182.1,81.3 183.1,80.6 184.1,80.7 185.1,80.9 186.1,81.8 187.1,80.6 188.1,81 189.1,80.6 190.1,81.1 191.1,82.1 192.1,82 193.1,82 194.1,81.8 195.1,81.2 196.1,81.6 197.1,81.4 198.1,81.5 199.1,80.3 200.1,81.2 201.1,81.2 202.1,82 203.1,82.9 204.1,82.3 205.1,82.7 206.1,83.1 207.1,82.9 208.1,81.9 209.1,82.5 210.1,83 211.1,83 212.1,82.9" stroke="#B883FF" stroke-width="0.75"/>
<polyline points="57.2,81 58.2,97.3 59.2,101 60.2,95.9 61.2,86.5 62.2,74.3 63.2,61 64.2,51.8 65.2,39.8 66.2,33.6 67.2,28.5 68.2,28.5 69.2,28.5 70.2,28.5 71.2,28.5 72.2,28.5 73.2,32.1 74.2,37.1 75.2,47.7 76.2,52.4 77.2,60.1 78.2,63.4 79.2,69.1 80.2,71.8 81.2,72.4 82.2,74.7 83.2,77.7 84.2,78.8 85.2,81.1 86.2,83.4 87.2,87.3 88.2,89.2 89.2,91.3 90.2,94.8 91.2,97.8 92.2,100 93.2,100.2 94.2,100.8 95.2,100.7 96.2,102.2 97.2,101.1 98.2,101.4 99.2,99.8 100.2,99.6 101.2,98.4 102.2,95.9 103.2,94.6 104.2,93.3 105.2,95.2 106.2,94.7 107.2,92.4 108.2,90.8 109.2,88.6 110.2,86.2 111.2,84 112.2,82.2 113.2,81.1 114.2,76.6 115.2,72.7 116.2,68.7 117.2,66.7 118.2,67 119.2,67.1 120.2,69.3 121.2,72.7 122.2,75.4 123.2,79.5 124.2,82.5 125.2,84.2 126.2,84.6 127.2,86.8 128.2,88.3 129.2,87.7 130.2,88.8 131.2,90 132.2,89.7 133.2,90.6 134.2,91.3 135.2,90.5 136.2,90.2 137.2,89.2 138.2,89.7 139.2,89.3 140.2,88.6 141.2,87.5 142.2,86.4 143.2,85.6 144.2,85.1 145.1,83.8 146.1,82 147.1,80.2 148.1,80.2 149.1,79.1 150.1,79.9 151.1,80.5 152.1,81.1 153.1,80.3 154.1,79.9 155.1,79.2 156.1,79.1 157.1,79.8 158.1,80.4 159.1,80.6 160.1,80.5 161.1,80.7 162.1,80.4 163.1,80.6 164.1,80.6 165.1,81 166.1,82.4 167.1,81.9 168.1,83.2 169.1,82.3 170.1,82.7 171.1,81.7 172.1,81.9 173.1,81.5 174.1,82.1 175.1,82.1 176.1,82.3 177.1,81.2 178.1,81.7 179.1,81.4 180.1,81.2 181.1,80.9 182.1,80.7 183.1,81 184.1,80.7 185.1,80.4 186.1,81 187.1,81.1 188.1,80.9 189.1,79.9 190.1,80 191.1,81 192.1,80.9 193.1,80.5 194.1,80.2 195.1,79.9 196.1,81.2 197.1,81.2 198.1,80.4 199.1,79.9 200.1,79.8 201.1,80.5 202.1,81.3 203.1,82.6 204.1,81.8 205.1,81.8 206.1,82.7 207.1,82.3 208.1,82.4 209.1,81.7 210.1,81.9 211.1,81.5 212.1,81.8" stroke="#C77CFF" stroke-width="0.75"/>
<polyline points="57.2,89.3 58.2,91.7 59.2,90.8 60.2,86.4 61.2,81.9 62.2,74.6 63.2,66.7 64.2,57.1 65.2,47.7 66.2,39 67.2,33.6 68.2,30.4 69.2,28.5 70.2,28.5 71.2,28.5 72.2,28.5 73.2,28.5 74.2,30 75.2,35.4 76.2,39.9 77.2,45.4 78.2,52.1 79.2,60.9 80.2,66.5 81.2,70.3 82.2,74.1 83.2,78.1 84.2,79.3 85.2,82.6 86.2,84.7 87.2,87.3 88.2,90.6 89.2,92.2 90.2,93.5 91.2,96.7 92.2,98 93.2,100.9 94.2,100 95.2,99.9 96.2,99.6 97.2,98.4 98.2,98.5 99.2,98.9 100.2,99.3 101.2,99.9 102.2,99 103.2,97.6 104.2,97.2 105.2,95.3 106.2,95.6 107.2,94.6 108.2,92.9 109.2,91.4 110.2,90.5 111.2,86.5 112.2,83.1 113.2,81.9 114.2,80.4 115.2,77.5 116.2,76.5 117.2,74.7 118.2,75.6 119.2,76.3 120.2,77.5 121.2,79.6 122.2,81.4 123.2,83.3 124.2,83.4 125.2,85.5 126.2,87.8 127.2,86.7 128.2,89.9 129.2,92 130.2,92.1 131.2,93.8 132.2,93.2 133.2,93.4 134.2,93.5 135.2,92.2 136.2,90.3 137.2,88.3 138.2,87.3 139.2,91.1 140.2,88.7 141.2,87.8 142.2,85.1 143.2,84.7 144.2,83.2 145.1,82.6 146.1,81 147.1,80.2 148.1,80.3 149.1,79.7 150.1,79.7 151.1,80.6 152.1,80.7 153.1,79.7 154.1,77.9 155.1,79.7 156.1,80.4 157.1,80.9 158.1,80.6 159.1,80.4 160.1,79.8 161.1,80.9 162.1,81.5 163.1,81.2 164.1,81.3 165.1,80.8 166.1,80.9 167.1,80.3 168.1,81.3 169.1,81.6 170.1,81.4 171.1,81.4 172.1,82.3 173.1,81.8 174.1,80.6 175.1,81.8 176.1,81.5 177.1,81.7 178.1,81.5 179.1,81.6 180.1,81.6 181.1,81.3 182.1,80.9 183.1,80.9 184.1,81.5 185.1,81.9 186.1,82 187.1,81.2 188.1,81.6 189.1,81.9 190.1,81.1 191.1,81.4 192.1,80.6 193.1,81 194.1,81.6 195.1,82.2 196.1,81.7 197.1,82.1 198.1,81.9 199.1,81.5 200.1,81.6 201.1,81.5 202.1,81.6 203.1,81.3 204.1,81.8 205.1,82.2 206.1,82.8 207.1,81.7 208.1,82.1 209.1,82.5 210.1,82.6 211.1,82.2 212.1,82.3" stroke="#D476FE" stroke-width="0.75"/>
<polyline points="57.2,56.3 58.2,111.4 59.2,121.9 60.2,116 61.2,107.6 62.2,97.6 63.2,82.2 64.2,69 65.2,54.2 66.2,42.3 67.2,33.8 68.2,29.9 69.2,28.5 70.2,28.5 71.2,28.5 72.2,28.5 73.2,28.5 74.2,29.9 75.2,35.5 76.2,39.4 77.2,42.6 78.2,47 79.2,48.3 80.2,53.9 81.2,58.7 82.2,61.5 83.2,65.4 84.2,68.9 85.2,74.2 86.2,75.9 87.2,80.8 88.2,84.2 89.2,89.1 90.2,91 91.2,93.3 92.2,95.3 93.2,97.1 94.2,97 95.2,96 96.2,98.3 97.2,98.9 98.2,98.7 99.2,96.6 100.2,97.5 101.2,95.4 102.2,94.4 103.2,91.9 104.2,91.6 105.2,91.6 106.2,90.8 107.2,87.3 108.2,84.6 109.2,82 110.2,78.8 111.2,76.3 112.2,74.3 113.2,70.6 114.2,69.1 115.2,68.5 116.2,67.7 117.2,68.5 118.2,70.7 119.2,73.7 120.2,76.5 121.2,80 122.2,81.5 123.2,83.3 124.2,85.5 125.2,87 126.2,88.5 127.2,89.1 128.2,90.4 129.2,90.7 130.2,88.1 131.2,89.1 132.2,88.9 133.2,89.7 134.2,89.7 135.2,88.5 136.2,89 137.2,87.3 138.2,86.3 139.2,85.9 140.2,83.9 141.2,85.5 142.2,85.7 143.2,83.8 144.2,81.4 145.1,81.3 146.1,81.4 147.1,80.5 148.1,81.4 149.1,81.3 150.1,81.2 151.1,81.9 152.1,81.5 153.1,81.9 154.1,81.6 155.1,80.9 156.1,80.3 157.1,80.3 158.1,80.4 159.1,81.2 160.1,80.9 161.1,81.4 162.1,81 163.1,81 164.1,80.5 165.1,80.6 166.1,80.4 167.1,81.2 168.1,81.1 169.1,80.5 170.1,80 171.1,80.5 172.1,81.4 173.1,81.8 174.1,82.5 175.1,82.3 176.1,82.6 177.1,81.9 178.1,82.5 179.1,81.3 180.1,80.8 181.1,81.1 182.1,81.2 183.1,80.5 184.1,81.9 185.1,81.4 186.1,81 187.1,81.4 188.1,81.3 189.1,81.7 190.1,80.7 191.1,81.3 192.1,82 193.1,81.8 194.1,80.9 195.1,80.4 196.1,81.2 197.1,81.2 198.1,81.7 199.1,81.8 200.1,82.2 201.1,82.3 202.1,82.3 203.1,81.8 204.1,82.1 205.1,82.6 206.1,83 207.1,83.3 208.1,83.3 209.1,83.7 210.1,83.5 211.1,83.9 212.1,83.8" stroke="#DF70F8" stroke-width="0.75"/>
<polyline points="57.2,78.7 58.2,114.5 59.2,132.2 60.2,128 61.2,118.7 62.2,103.1 63.2,85.3 64.2,69.4 65.2,53.7 66.2,42.6 67.2,31.6 68.2,28.5 69.2,28.5 70.2,28.5 71.2,28.5 72.2,28.5 73.2,28.5 74.2,29.2 75.2,34 76.2,41.5 77.2,50.7 78.2,61.5 79.2,69.7 80.2,76.5 81.2,80.2 82.2,83.4 83.2,84.8 84.2,85.3 85.2,84.3 86.2,86.5 87.2,86.7 88.2,87.6 89.2,89 90.2,89.5 91.2,89.8 92.2,90.5 93.2,89.8 94.2,91.6 95.2,94.1 96.2,93.8 97.2,94.8 98.2,92.5 99.2,91.1 100.2,90.9 101.2,91 102.2,89.7 103.2,88.8 104.2,88.8 105.2,88.7 106.2,87.5 107.2,86.2 108.2,86.2 109.2,85.7 110.2,85.4 111.2,85.6 112.2,82.4 113.2,80.7 114.2,80.3 115.2,79.5 116.2,75.7 117.2,73.9 118.2,72.1 119.2,73.7 120.2,76.7 121.2,78.1 122.2,77.6 123.2,78.8 124.2,81.1 125.2,83.6 126.2,84.8 127.2,82.5 128.2,85.1 129.2,87.5 130.2,88.6 131.2,87.6 132.2,88.7 133.2,90.4 134.2,91.4 135.2,89 136.2,87.4 137.2,88.1 138.2,89 139.2,88.8 140.2,86.6 141.2,85.1 142.2,85.1 143.2,82.5 144.2,83.2 145.1,83.5 146.1,82.9 147.1,82.5 148.1,82.2 149.1,82.3 150.1,81.9 151.1,81.4 152.1,80.7 153.1,81.6 154.1,80.7 155.1,81.8 156.1,81.7 157.1,81.7 158.1,81.8 159.1,81.7 160.1,81.7 161.1,81 162.1,81 163.1,80.8 164.1,82 165.1,81.5 166.1,80.9 167.1,79.4 168.1,79.2 169.1,79.4 170.1,80.4 171.1,80.5 172.1,80.2 173.1,80.1 174.1,80.9 175.1,80 176.1,79.9 177.1,80.9 178.1,81.4 179.1,81 180.1,80.5 181.1,82.2 182.1,81.6 183.1,81.5 184.1,80.8 185.1,80.7 186.1,80.4 187.1,80.5 188.1,80.7 189.1,80.4 190.1,81.1 191.1,80.8 192.1,81 193.1,81.8 194.1,81.2 195.1,81.3 196.1,80.2 197.1,81.6 198.1,82.8 199.1,82.1 200.1,80.8 201.1,81.5 202.1,82 203.1,81.6 204.1,81.1 205.1,81.4 206.1,81.9 207.1,82 208.1,81.1 209.1,80.4 210.1,81.2 211.1,81 212.1,81.7" stroke="#E96AF1" stroke-width="0.75"/>
<polyline points="57.2,78.2 58.2,87.3 59.2,86.4 60.2,82.3 61.2,71.9 62.2,60.2 63.2,49.4 64.2,38.5 65.2,31.9 66.2,28.5 67.2,28.5 68.2,28.5 69.2,28.5 70.2,28.5 71.2,29.9 72.2,35 73.2,41.2 74.2,45.2 75.2,48.8 76.2,53.8 77.2,57.9 78.2,62.5 79.2,65.1 80.2,71.2 81.2,76.7 82.2,83.5 83.2,87.7 84.2,92.2 85.2,91.8 86.2,90.8 87.2,92.8 88.2,93.1 89.2,94.4 90.2,94.9 91.2,95.5 92.2,93.7 93.2,92.8 94.2,94.1 95.2,93.6 96.2,94 97.2,91.6 98.2,90.8 99.2,91.9 100.2,91.2 101.2,90.4 102.2,89.1 103.2,88.9 104.2,89.2 105.2,88.7 106.2,87.1 107.2,84.5 108.2,84.9 109.2,82.8 110.2,81.2 111.2,79.7 112.2,77.7 113.2,75.3 114.2,73 115.2,72.4 116.2,71.5 117.2,74.9 118.2,76.8 119.2,79.3 120.2,80.8 121.2,82.7 122.2,82.7 123.2,84 124.2,86.4 125.2,86.7 126.2,87.6 127.2,89 128.2,90.6 129.2,91.5 130.2,89.8 131.2,87.2 132.2,87.4 133.2,85.8 134.2,87.7 135.2,85.8 136.2,85.4 137.2,85.8 138.2,85.2 139.2,84.2 140.2,83.2 141.2,83 142.2,83 143.2,81.7 144.2,81 145.1,79.9 146.1,79.5 147.1,80.6 148.1,80.4 149.1,80.6 150.1,81 151.1,81 152.1,80.7 153.1,79.5 154.1,78.8 155.1,79.4 156.1,79.8 157.1,80.5 158.1,79.8 159.1,78.8 160.1,78.7 161.1,79.1 162.1,79.2 163.1,79.7 164.1,79.8 165.1,79.7 166.1,79.8 167.1,79.2 168.1,79.7 169.1,79.3 170.1,79.6 171.1,80 172.1,80.5 173.1,80.6 174.1,80.8 175.1,80 176.1,80 177.1,80.5 178.1,80.6 179.1,81.2 180.1,81.7 181.1,81.7 182.1,81.8 183.1,81.2 184.1,81.6 185.1,81.4 186.1,81.7 187.1,82 188.1,82.1 189.1,82 190.1,82.4 191.1,82.4 192.1,82.5 193.1,82.8 194.1,82.8 195.1,82 196.1,80.9 197.1,81.8 198.1,82.5 199.1,81.9 200.1,82.3 201.1,80.9 202.1,80.6 203.1,81.2 204.1,82.9 205.1,82.4 206.1,81.8 207.1,83.1 208.1,82.6 209.1,82.2 210.1,82.5 211.1,82.6 212.1,81.9" stroke="#F166E9" stroke-width="0.75"/>
<polyline points="57.2,70 58.2,86.6 59.2,88 60.2,83 61.2,74.3 62.2,64.2 63.2,53.6 64.2,44.3 65.2,33.4 66.2,29.1 67.2,28.5 68.2,28.5 69.2,28.5 70.2,28.5 71.2,28.5 72.2,29.5 73.2,34.5 74.2,39.3 75.2,43.7 76.2,45.8 77.2,48.2 78.2,54.8 79.2,59.1 80.2,64.2 81.2,68.1 82.2,72.2 83.2,76.4 84.2,80.9 85.2,86.1 86.2,88 87.2,89.2 88.2,89.2 89.2,90.8 90.2,92.9 91.2,91.8 92.2,93.5 93.2,95.5 94.2,94.2 95.2,93.8 96.2,91.4 97.2,90.4 98.2,88.8 99.2,87.1 100.2,86.6 101.2,86.9 102.2,84.9 103.2,85 104.2,85.1 105.2,84.5 106.2,83.7 107.2,83 108.2,82.4 109.2,81.3 110.2,79.5 111.2,78.3 112.2,77 113.2,76 114.2,76 115.2,79.1 116.2,80.1 117.2,79.7 118.2,80.5 119.2,81.2 120.2,81.6 121.2,82.8 122.2,84.2 123.2,85.3 124.2,87.3 125.2,89.6 126.2,91 127.2,90.8 128.2,90.3 129.2,90.9 130.2,92.3 131.2,90.5 132.2,89.2 133.2,86.9 134.2,86.2 135.2,86.7 136.2,84.8 137.2,83.3 138.2,83.8 139.2,85.7 140.2,84.2 141.2,81.5 142.2,80.3 143.2,80.6 144.2,80.1 145.1,79.3 146.1,78.1 147.1,78.2 148.1,77.7 149.1,78.3 150.1,79 151.1,80.5 152.1,79.2 153.1,79.3 154.1,79.2 155.1,79.8 156.1,78.8 157.1,79 158.1,78.4 159.1,77.9 160.1,78.6 161.1,78.2 162.1,79.2 163.1,79.5 164.1,79.3 165.1,81.2 166.1,81.8 167.1,82 168.1,82.6 169.1,82.1 170.1,81.3 171.1,81.6 172.1,81.8 173.1,82.3 174.1,82.1 175.1,81.8 176.1,82 177.1,81.2 178.1,81.2 179.1,80.9 180.1,80.9 181.1,80.9 182.1,81.2 183.1,81 184.1,81.7 185.1,80.7 186.1,80.5 187.1,81.4 188.1,81.5 189.1,80.3 190.1,80.1 191.1,81.2 192.1,81.8 193.1,81.1 194.1,80.4 195.1,80.4 196.1,80.8 197.1,81.5 198.1,81.1 199.1,81.7 200.1,82.5 201.1,81.9 202.1,81.3 203.1,81.4 204.1,80.8 205.1,81.5 206.1,81.5 207.1,81.6 208.1,82.4 209.1,81.7 210.1,81.3 211.1,82.1 212.1,82.3" stroke="#F763E0" stroke-width="0.75"/>
<polyline points="57.2,89.4 58.2,94.8 59.2,95.4 60.2,92.1 61.2,86 62.2,77.7 63.2,70.3 64.2,59.2 65.2,49.7 66.2,41.5 67.2,33.8 68.2,29.5 69.2,28.5 70.2,28.5 71.2,28.5 72.2,30.6 73.2,34.6 74.2,38.1 75.2,42.8 76.2,45.7 77.2,49.8 78.2,51.9 79.2,55 80.2,59.3 81.2,62.7 82.2,66.2 83.2,70.5 84.2,74.9 85.2,78 86.2,79.3 87.2,80.3 88.2,81.3 89.2,82.1 90.2,81.1 91.2,82.3 92.2,84.6 93.2,85.1 94.2,86.2 95.2,87.1 96.2,86.4 97.2,86.3 98.2,85.2 99.2,85.9 100.2,84.9 101.2,86.1 102.2,85 103.2,84.7 104.2,84.2 105.2,84.9 106.2,84.9 107.2,82.8 108.2,82.1 109.2,82.4 110.2,79.9 111.2,78.5 112.2,76 113.2,75.6 114.2,75.2 115.2,75.1 116.2,75.5 117.2,75.8 118.2,77.7 119.2,79.1 120.2,79.4 121.2,81 122.2,82.5 123.2,83.2 124.2,85.9 125.2,87.2 126.2,87.7 127.2,87.4 128.2,85.7 129.2,87.8 130.2,86.6 131.2,85.8 132.2,85 133.2,82.9 134.2,82.2 135.2,81.3 136.2,81.3 137.2,82.4 138.2,81.7 139.2,82.3 140.2,80.2 141.2,79.3 142.2,78.9 143.2,78.6 144.2,79.6 145.1,79.9 146.1,80.4 147.1,80.7 148.1,80.9 149.1,81.7 150.1,81.1 151.1,80.3 152.1,79.7 153.1,78.9 154.1,79.4 155.1,80.4 156.1,81 157.1,80.8 158.1,80.3 159.1,79.6 160.1,79.3 161.1,79.6 162.1,79.6 163.1,79.7 164.1,80 165.1,81 166.1,81.8 167.1,81.4 168.1,81.5 169.1,82.4 170.1,81.6 171.1,80.9 172.1,81.2 173.1,82.2 174.1,81.2 175.1,81.8 176.1,81 177.1,80.5 178.1,80.9 179.1,80.7 180.1,81.2 181.1,81.3 182.1,81.2 183.1,81 184.1,80.7 185.1,80.3 186.1,80.9 187.1,81.2 188.1,82.1 189.1,82 190.1,82.3 191.1,81.3 192.1,81.9 193.1,82 194.1,81.8 195.1,82 196.1,81.2 197.1,81.6 198.1,81.6 199.1,81.3 200.1,81.7 201.1,81.9 202.1,81.8 203.1,82 204.1,82.3 205.1,82.6 206.1,82 207.1,82 208.1,82.2 209.1,83.2 210.1,83.6 211.1,83.5 212.1,84.1" stroke="#FB61D7" stroke-width="0.75"/>
<polyline points="57.2,85 58.2,98.1 59.2,104.6 60.2,100.1 61.2,91.9 62.2,83.8 63.2,71.1 64.2,59.8 65.2,48.1 66.2,39.1 67.2,31.8 68.2,28.5 69.2,28.5 70.2,28.5 71.2,28.5 72.2,28.5 73.2,28.5 74.2,29.8 75.2,34.5 76.2,38.5 77.2,48.1 78.2,57.9 79.2,66 80.2,72.1 81.2,76.6 82.2,78.7 83.2,80.6 84.2,81 85.2,80.6 86.2,80.9 87.2,81.5 88.2,83.1 89.2,85.6 90.2,85 91.2,85.8 92.2,84.3 93.2,87.1 94.2,87.7 95.2,89.1 96.2,87.6 97.2,88.2 98.2,88 99.2,88.6 100.2,89.2 101.2,89.1 102.2,87.8 103.2,86.4 104.2,86.3 105.2,85.1 106.2,86.6 107.2,85.4 108.2,84.2 109.2,82.6 110.2,81.8 111.2,81.3 112.2,79.7 113.2,78.8 114.2,79 115.2,76.7 116.2,77.4 117.2,77.6 118.2,77.4 119.2,76.2 120.2,78.7 121.2,80.7 122.2,81.9 123.2,82.5 124.2,81.9 125.2,82.9 126.2,84.8 127.2,85.2 128.2,85.1 129.2,87.3 130.2,86.6 131.2,86 132.2,86 133.2,85 134.2,85.4 135.2,86 136.2,85.3 137.2,86 138.2,85 139.2,84.3 140.2,84.2 141.2,82.5 142.2,82.8 143.2,83.4 144.2,80.1 145.1,81.8 146.1,82.7 147.1,82.6 148.1,81.6 149.1,82.1 150.1,81.7 151.1,82.7 152.1,82.7 153.1,81.4 154.1,80.2 155.1,80 156.1,80.2 157.1,80.6 158.1,80.7 159.1,80.7 160.1,80.1 161.1,80.7 162.1,80.2 163.1,80.3 164.1,81.4 165.1,81.8 166.1,81.1 167.1,81.1 168.1,81.2 169.1,79.9 170.1,80.9 171.1,81.6 172.1,81.3 173.1,81 174.1,80.8 175.1,79.9 176.1,80.7 177.1,80.8 178.1,80.9 179.1,80.2 180.1,79.9 181.1,80.7 182.1,81.6 183.1,81.5 184.1,82.5 185.1,82.3 186.1,81.9 187.1,82.4 188.1,82.3 189.1,81.6 190.1,80.7 191.1,81.5 192.1,81.8 193.1,81.2 194.1,81.5 195.1,81.6 196.1,81.4 197.1,81.9 198.1,82.3 199.1,81.2 200.1,81.8 201.1,82.2 202.1,81.8 203.1,82.1 204.1,82.3 205.1,82.7 206.1,83.1 207.1,82.9 208.1,82.2 209.1,82.8 210.1,82.9 211.1,83.4 212.1,81.6" stroke="#FF61CC" stroke-width="0.75"/>
<polyline points="57.2,62.5 58.2,97.2 59.2,105 60.2,101 61.2,95.5 62.2,86.7 63.2,78.1 64.2,70.5 65.2,60.4 66.2,50.9 67.2,41.8 68.2,33 69.2,29.8 70.2,28.5 71.2,28.5 72.2,28.5 73.2,28.5 74.2,33.8 75.2,38 76.2,42.4 77.2,46.2 78.2,50.6 79.2,54.1 80.2,61.2 81.2,65.9 82.2,71.6 83.2,75.6 84.2,80.3 85.2,83.2 86.2,87 87.2,87.9 88.2,87.8 89.2,89.4 90.2,90.6 91.2,90.7 92.2,90.6 93.2,90.5 94.2,90.1 95.2,90.4 96.2,89.7 97.2,87.7 98.2,89.6 99.2,89.7 100.2,90.2 101.2,90.2 102.2,91.4 103.2,92.1 104.2,90.6 105.2,90.1 106.2,89.9 107.2,88.8 108.2,87.9 109.2,87.6 110.2,86 111.2,84.1 112.2,83.4 113.2,82.8 114.2,82.9 115.2,82.2 116.2,80.6 117.2,77.2 118.2,74.9 119.2,73.5 120.2,75.2 121.2,75.3 122.2,77.3 123.2,81.1 124.2,80.9 125.2,80.5 126.2,82.4 127.2,82.3 128.2,83.8 129.2,83.7 130.2,86.4 131.2,85.3 132.2,85.1 133.2,86 134.2,85.2 135.2,83.2 136.2,86 137.2,86.7 138.2,88.6 139.2,86.4 140.2,86 141.2,83.7 142.2,84.4 143.2,84.7 144.2,83.6 145.1,83 146.1,82.8 147.1,81.5 148.1,80.6 149.1,80 150.1,79.9 151.1,80.6 152.1,80.4 153.1,80.6 154.1,79.9 155.1,79.8 156.1,81.2 157.1,80.8 158.1,81.4 159.1,81.2 160.1,80.8 161.1,79.3 162.1,80.4 163.1,80.3 164.1,80.9 165.1,80.6 166.1,80.8 167.1,80.6 168.1,80.7 169.1,81.4 170.1,81.7 171.1,81.2 172.1,81.8 173.1,80.3 174.1,79.4 175.1,80.3 176.1,80.7 177.1,81.7 178.1,81.4 179.1,81.7 180.1,83 181.1,83.7 182.1,82.1 183.1,82.6 184.1,81.6 185.1,81.7 186.1,81.5 187.1,81.1 188.1,81.6 189.1,81.4 190.1,81.3 191.1,81.8 192.1,82.5 193.1,82.2 194.1,81.9 195.1,82.7 196.1,82 197.1,82.6 198.1,83.2 199.1,82.4 200.1,82.8 201.1,82.5 202.1,82.4 203.1,82 204.1,81.7 205.1,81.9 206.1,82.1 207.1,83.3 208.1,83 209.1,82.5 210.1,82.5 211.1,82.8 212.1,82.1" stroke="#FF62C1" stroke-width="0.75"/>
<polyline points="57.2,71.2 58.2,98.6 59.2,111.6 60.2,108.5 61.2,103.1 62.2,93.9 63.2,83.7 64.2,72.9 65.2,60.2 66.2,46.9 67.2,37.3 68.2,30.9 69.2,28.5 70.2,28.5 71.2,28.5 72.2,28.5 73.2,28.5 74.2,28.5 75.2,28.5 76.2,31 77.2,37.7 78.2,45 79.2,50.5 80.2,55.4 81.2,60.5 82.2,64.9 83.2,68.8 84.2,71.8 85.2,73.4 86.2,74.7 87.2,77.7 88.2,80.6 89.2,85.1 90.2,88.3 91.2,89.8 92.2,92.1 93.2,94 94.2,93.5 95.2,94.2 96.2,95.6 97.2,98 98.2,97.5 99.2,97.5 100.2,97.3 101.2,95.6 102.2,96.5 103.2,96.4 104.2,94.7 105.2,93.7 106.2,92.2 107.2,91.7 108.2,90.2 109.2,88.5 110.2,85.1 111.2,85.9 112.2,82.9 113.2,82.5 114.2,80.9 115.2,77.8 116.2,76.1 117.2,74.8 118.2,76.7 119.2,78.8 120.2,79.9 121.2,82.4 122.2,84.2 123.2,83.9 124.2,85.6 125.2,86.9 126.2,87.6 127.2,89.4 128.2,91.1 129.2,93.4 130.2,93.2 131.2,93.9 132.2,95.6 133.2,94.5 134.2,93.8 135.2,93.2 136.2,90.7 137.2,89 138.2,88.2 139.2,87.2 140.2,85.1 141.2,85 142.2,85.7 143.2,84.9 144.2,82.7 145.1,82 146.1,81.6 147.1,81.1 148.1,80.6 149.1,81 150.1,81.2 151.1,80.8 152.1,81.7 153.1,81.2 154.1,80.7 155.1,80.3 156.1,80 157.1,80.4 158.1,80.2 159.1,79.9 160.1,81.1 161.1,81.4 162.1,81.4 163.1,81.6 164.1,81.1 165.1,81.4 166.1,82 167.1,81.6 168.1,81.5 169.1,81.6 170.1,81 171.1,81.5 172.1,81 173.1,81.6 174.1,80.6 175.1,81 176.1,81.8 177.1,81 178.1,81.4 179.1,81.5 180.1,81.2 181.1,81.2 182.1,81.8 183.1,82.2 184.1,81.7 185.1,81.7 186.1,81.4 187.1,80.5 188.1,81.1 189.1,81.1 190.1,82.3 191.1,82.5 192.1,83 193.1,83.1 194.1,82.9 195.1,82.3 196.1,82 197.1,81.2 198.1,81.4 199.1,81.6 200.1,81.5 201.1,81.6 202.1,81.9 203.1,82.5 204.1,82.6 205.1,82.7 206.1,82.7 207.1,81.6 208.1,83.3 209.1,82.4 210.1,82.7 211.1,82.5 212.1,83.2" stroke="#FF63B4" stroke-width="0.75"/>
<polyline points="57.2,57.2 58.2,97.6 59.2,112.9 60.2,110.8 61.2,103.9 62.2,95.7 63.2,82.9 64.2,70.9 65.2,58.8 66.2,48.7 67.2,39.6 68.2,33.8 69.2,29.5 70.2,28.5 71.2,28.5 72.2,28.5 73.2,28.5 74.2,28.9 75.2,33.2 76.2,39.3 77.2,46.4 78.2,51.8 79.2,58.3 80.2,63.1 81.2,68.2 82.2,72.2 83.2,76.3 84.2,77.9 85.2,82.4 86.2,85.8 87.2,87.9 88.2,88.9 89.2,90.6 90.2,91.3 91.2,90.8 92.2,90.5 93.2,90.9 94.2,90.8 95.2,92.8 96.2,92.2 97.2,91.3 98.2,91.5 99.2,92.6 100.2,88.9 101.2,86.7 102.2,87.2 103.2,87 104.2,86.5 105.2,84.5 106.2,84.8 107.2,84.7 108.2,84.2 109.2,84.8 110.2,82.2 111.2,81.6 112.2,79.4 113.2,77.4 114.2,76.1 115.2,75.1 116.2,74.9 117.2,74.8 118.2,76.1 119.2,78.1 120.2,81.6 121.2,83.6 122.2,83.6 123.2,84.2 124.2,84.7 125.2,86 126.2,86.8 127.2,86.6 128.2,86.9 129.2,88.2 130.2,88.3 131.2,89.1 132.2,87.7 133.2,86.9 134.2,87.9 135.2,86.3 136.2,87 137.2,87.5 138.2,85.4 139.2,83.4 140.2,82.6 141.2,82.7 142.2,82.6 143.2,81.2 144.2,81.6 145.1,81.4 146.1,80.3 147.1,79.5 148.1,80 149.1,80.7 150.1,80.6 151.1,79.9 152.1,80.6 153.1,80.9 154.1,80.8 155.1,79.9 156.1,80.1 157.1,80.6 158.1,79.9 159.1,80.1 160.1,80.7 161.1,79.9 162.1,80.4 163.1,80.4 164.1,79.8 165.1,80.2 166.1,79.7 167.1,79.7 168.1,80 169.1,80 170.1,80.4 171.1,79.8 172.1,80.5 173.1,80.6 174.1,80.4 175.1,80.1 176.1,80.5 177.1,80.9 178.1,81.8 179.1,82.3 180.1,82 181.1,80.9 182.1,81.2 183.1,81 184.1,81.6 185.1,82.3 186.1,81.9 187.1,82.2 188.1,81.7 189.1,82.2 190.1,81.7 191.1,81.5 192.1,81.3 193.1,81.9 194.1,81.7 195.1,82.4 196.1,82.8 197.1,82.5 198.1,82.2 199.1,82.1 200.1,82.2 201.1,82.3 202.1,82.3 203.1,82.1 204.1,82.4 205.1,82.2 206.1,81.5 207.1,81.6 208.1,81.5 209.1,81.8 210.1,81.8 211.1,82.4 212.1,82.2" stroke="#FF66A8" stroke-width="0.75"/>
<polyline points="57.2,66.2 58.2,95.5 59.2,101.9 60.2,94.4 61.2,81 62.2,65.1 63.2,51.1 64.2,39.3 65.2,30.4 66.2,28.5 67.2,28.5 68.2,28.5 69.2,28.5 70.2,28.5 71.2,29.9 72.2,32.8 73.2,36.9 74.2,41.3 75.2,44.7 76.2,44.9 77.2,49.2 78.2,52.9 79.2,56.9 80.2,62.5 81.2,70.6 82.2,78.6 83.2,83.7 84.2,88.2 85.2,89.8 86.2,91.8 87.2,92.7 88.2,94.2 89.2,93.6 90.2,93.6 91.2,94.4 92.2,96.8 93.2,94.9 94.2,94.7 95.2,95.6 96.2,96.9 97.2,96.6 98.2,94.4 99.2,93.1 100.2,95.5 101.2,94.6 102.2,92.5 103.2,90.2 104.2,90.8 105.2,88.8 106.2,89.5 107.2,88 108.2,89.2 109.2,87.5 110.2,86 111.2,85.5 112.2,81.2 113.2,79 114.2,76.5 115.2,75.2 116.2,72.5 117.2,75.3 118.2,76.1 119.2,77.2 120.2,78.2 121.2,79.5 122.2,80.9 123.2,82.2 124.2,83.7 125.2,86.9 126.2,86.5 127.2,87.8 128.2,88.3 129.2,90.2 130.2,90.3 131.2,90.5 132.2,89.7 133.2,89.6 134.2,88.5 135.2,87.7 136.2,86.6 137.2,88.4 138.2,86.9 139.2,85.8 140.2,83.8 141.2,85.1 142.2,84.9 143.2,83 144.2,83.1 145.1,83 146.1,82.3 147.1,81.1 148.1,80.6 149.1,82.1 150.1,81.1 151.1,80.1 152.1,80.8 153.1,81.1 154.1,81.4 155.1,81.2 156.1,81 157.1,81.4 158.1,80.9 159.1,80.7 160.1,81.5 161.1,80.8 162.1,80.8 163.1,80.3 164.1,80.1 165.1,81 166.1,81.1 167.1,80.2 168.1,80.8 169.1,80.6 170.1,80.9 171.1,81.4 172.1,80.3 173.1,81.4 174.1,81.2 175.1,80.6 176.1,80.8 177.1,81.5 178.1,81.9 179.1,82.2 180.1,82.3 181.1,82.4 182.1,81.9 183.1,80.9 184.1,81.6 185.1,80.8 186.1,81.3 187.1,80.8 188.1,80.2 189.1,81.2 190.1,82.4 191.1,81.3 192.1,82.3 193.1,81.4 194.1,81.5 195.1,81.3 196.1,81.8 197.1,81.2 198.1,81.6 199.1,80.4 200.1,80.4 201.1,79.9 202.1,79.9 203.1,80.7 204.1,81.2 205.1,80.8 206.1,81.4 207.1,82 208.1,82 209.1,82.6 210.1,82.6 211.1,82.5 212.1,83.1" stroke="#FF699A" stroke-width="0.75"/>
<polyline points="57.2,57.3 58.2,118 59.2,127 60.2,120 61.2,106.4 62.2,91.3 63.2,72.5 64.2,57.2 65.2,44.2 66.2,32.1 67.2,28.5 68.2,28.5 69.2,28.5 70.2,28.5 71.2,28.5 72.2,30.6 73.2,36.4 74.2,40.7 75.2,43.5 76.2,47.3 77.2,52.6 78.2,56.7 79.2,63 80.2,67.4 81.2,71.7 82.2,73.7 83.2,77.9 84.2,79.9 85.2,82.8 86.2,84.6 87.2,85.6 88.2,84.6 89.2,87.2 90.2,87.4 91.2,89.4 92.2,89.7 93.2,90.2 94.2,87.5 95.2,87.7 96.2,88.7 97.2,88 98.2,86.9 99.2,87.4 100.2,85.5 101.2,86.4 102.2,86 103.2,84.9 104.2,83.6 105.2,84 106.2,83.9 107.2,82.8 108.2,82.9 109.2,82.7 110.2,83.2 111.2,80.7 112.2,77.5 113.2,77.5 114.2,77.3 115.2,76.4 116.2,75.4 117.2,74.1 118.2,74.9 119.2,76.3 120.2,78.5 121.2,79.5 122.2,81.2 123.2,82.7 124.2,84 125.2,84.4 126.2,84.8 127.2,83.9 128.2,83.4 129.2,84.9 130.2,84.8 131.2,83.9 132.2,84.7 133.2,85.2 134.2,84.1 135.2,81.8 136.2,81.2 137.2,82.1 138.2,82.9 139.2,83.4 140.2,81.9 141.2,80.7 142.2,81.4 143.2,83.3 144.2,81.5 145.1,81.3 146.1,81.4 147.1,81.2 148.1,80.9 149.1,80.2 150.1,80.9 151.1,80.5 152.1,80.2 153.1,81.3 154.1,80.9 155.1,80.9 156.1,80.8 157.1,79.5 158.1,79.7 159.1,79.4 160.1,79.3 161.1,79.6 162.1,79.8 163.1,79.4 164.1,80.1 165.1,79.9 166.1,80.9 167.1,80.9 168.1,81.7 169.1,82.1 170.1,82 171.1,81.3 172.1,81.3 173.1,81.1 174.1,80.9 175.1,80.7 176.1,81.1 177.1,80.9 178.1,80.8 179.1,81.4 180.1,82.1 181.1,80.5 182.1,80.2 183.1,80.1 184.1,80.5 185.1,79.7 186.1,79.5 187.1,80.6 188.1,81.5 189.1,81.6 190.1,81 191.1,80.8 192.1,80.3 193.1,81.3 194.1,80.5 195.1,81 196.1,80.4 197.1,80.9 198.1,80.6 199.1,80.8 200.1,80.9 201.1,80 202.1,81.4 203.1,82.4 204.1,82.3 205.1,82 206.1,81.5 207.1,81.3 208.1,82.2 209.1,82.9 210.1,82.9 211.1,83.2 212.1,83.3" stroke="#FE6D8C" stroke-width="0.75"/>
<polyline points="57.2,75.2 58.2,101.7 59.2,115 60.2,109.2 61.2,101.1 62.2,87.2 63.2,72.6 64.2,57.9 65.2,42.7 66.2,33.4 67.2,28.5 68.2,28.5 69.2,28.5 70.2,28.5 71.2,28.5 72.2,30 73.2,34.7 74.2,38.1 75.2,43 76.2,45.4 77.2,48.8 78.2,51.8 79.2,56.9 80.2,61.6 81.2,67.3 82.2,72.6 83.2,75.6 84.2,77.8 85.2,81 86.2,83.3 87.2,85.8 88.2,88.2 89.2,91.2 90.2,92.9 91.2,96.1 92.2,97.2 93.2,95.6 94.2,95.1 95.2,96.2 96.2,97.2 97.2,97.4 98.2,94.1 99.2,91.8 100.2,92.3 101.2,91.3 102.2,91.6 103.2,91 104.2,89.9 105.2,88.7 106.2,87.4 107.2,85.3 108.2,82.8 109.2,81.2 110.2,80.5 111.2,78.9 112.2,75 113.2,73.2 114.2,70.8 115.2,70.8 116.2,70.9 117.2,73.6 118.2,74.4 119.2,74.9 120.2,77 121.2,78.4 122.2,80.4 123.2,81.8 124.2,84.4 125.2,88.1 126.2,91.8 127.2,92.2 128.2,94.8 129.2,96 130.2,94.2 131.2,92.2 132.2,92.8 133.2,91.7 134.2,90 135.2,90.2 136.2,89.5 137.2,86.9 138.2,86.8 139.2,85.9 140.2,84.1 141.2,82.2 142.2,81.9 143.2,82.4 144.2,80.2 145.1,81.7 146.1,80.6 147.1,79.8 148.1,80.4 149.1,80.4 150.1,81.5 151.1,80.4 152.1,79.8 153.1,79.7 154.1,79.9 155.1,79.4 156.1,79.4 157.1,79.1 158.1,78.7 159.1,78.9 160.1,78.4 161.1,78.4 162.1,79.7 163.1,80.2 164.1,80.5 165.1,80.3 166.1,81.6 167.1,80.8 168.1,79.2 169.1,80.2 170.1,80.6 171.1,81.2 172.1,81.1 173.1,81.5 174.1,81.5 175.1,81.6 176.1,81.3 177.1,81.9 178.1,82.9 179.1,82.5 180.1,83.1 181.1,82.6 182.1,81.4 183.1,81.3 184.1,81.6 185.1,81.6 186.1,83.1 187.1,82.3 188.1,82 189.1,81.5 190.1,82.4 191.1,83.2 192.1,82.9 193.1,84.1 194.1,84.3 195.1,84.3 196.1,82.7 197.1,82.4 198.1,83.2 199.1,82.9 200.1,83.4 201.1,83.9 202.1,83.1 203.1,83.6 204.1,83.3 205.1,83.9 206.1,84.4 207.1,84.9 208.1,85.2 209.1,84.8 210.1,84.1 211.1,83.3 212.1,83.1" stroke="#FB727D" stroke-width="0.75"/>
</g>
<path d="M44.6 22.7V138.3M56.6 22.7V138.3M68.6 22.7V138.3M80.6 22.7V138.3M92.6 22.7V138.3M104.6 22.7V138.3M116.6 22.7V138.3M128.6 22.7V138.3M140.6 22.7V138.3M152.5 22.7V138.3M164.5 22.7V138.3M176.5 22.7V138.3M188.5 22.7V138.3M200.5 22.7V138.3M212.5 22.7V138.3" stroke="#646464" stroke-width="0.62" fill="none"/>
<rect x="36.4" y="22.7" width="184.2" height="115.6" fill="none" stroke="#6a6a6a" stroke-width="0.75"/>
<g font-family="'Liberation Sans', sans-serif" font-size="5.4" fill="#6b6b6b">
<g text-anchor="middle"><text x="44.6" y="145.6">0</text><text x="56.6" y="145.6">12</text><text x="68.6" y="145.6">24</text><text x="80.6" y="145.6">36</text><text x="92.6" y="145.6">48</text><text x="104.6" y="145.6">60</text><text x="116.6" y="145.6">72</text><text x="128.6" y="145.6">84</text><text x="140.6" y="145.6">96</text><text x="152.5" y="145.6">108</text><text x="164.5" y="145.6">120</text><text x="176.5" y="145.6">132</text><text x="188.5" y="145.6">144</text><text x="200.5" y="145.6">156</text><text x="212.5" y="145.6">168</text></g>
<g text-anchor="end"><text x="33.8" y="30.4">1.0</text><text x="33.8" y="56.6">0.5</text><text x="33.8" y="82.8">0.0</text><text x="33.8" y="109">-0.5</text><text x="33.8" y="135.2">-1.0</text></g>
</g>
<g font-family="'Liberation Sans', sans-serif" font-size="7.4" fill="#111" text-anchor="middle">
<text x="128.5" y="153.7">Time (h)</text>
<text transform="translate(22.3 80.5) rotate(-90)">Detrended luminescence</text>
</g>
<!-- panel B -->
<rect x="269.9" y="22.7" width="184.7" height="115.6" fill="#E7E7E7"/>
<path d="M269.9 103.9H454.6M269.9 118.9H454.6M269.9 134H454.6M269.9 28.5H454.6M269.9 43.6H454.6M269.9 58.6H454.6M269.9 73.7H454.6M269.9 88.8H454.6M272.4 22.7V138.3M278.4 22.7V138.3M284.4 22.7V138.3M290.3 22.7V138.3M296.3 22.7V138.3M302.3 22.7V138.3M308.3 22.7V138.3M314.2 22.7V138.3M320.2 22.7V138.3M326.2 22.7V138.3M332.2 22.7V138.3M338.1 22.7V138.3M344.1 22.7V138.3M350.1 22.7V138.3M356.1 22.7V138.3M362 22.7V138.3M368 22.7V138.3M374 22.7V138.3M380 22.7V138.3M385.9 22.7V138.3M391.9 22.7V138.3M397.9 22.7V138.3M403.9 22.7V138.3M409.8 22.7V138.3M415.8 22.7V138.3M421.8 22.7V138.3M427.8 22.7V138.3M433.7 22.7V138.3M439.7 22.7V138.3M445.7 22.7V138.3M451.7 22.7V138.3" stroke="#EFEFEF" stroke-width="0.5" fill="none"/>
<clipPath id="cB"><rect x="269.9" y="22.7" width="184.7" height="115.6"/></clipPath>
<g clip-path="url(#cB)">
<polyline points="290.9,99.6 291.9,116.4 292.9,121.3 293.9,114.9 294.9,104.3 295.9,91.2 296.9,77.2 297.9,61 298.9,45.9 299.9,36.2 300.9,29.8 301.9,28.5 302.9,28.5 303.9,28.5 304.9,28.5 305.9,33.5 306.9,37.8 307.9,42.4 308.9,48.1 309.9,53.2 310.9,57.9 311.9,62.5 312.9,67.9 313.9,71.5 314.8,74.3 315.8,77.1 316.8,79.7 317.8,85.3 318.8,89.4 319.8,93 320.8,96.1 321.8,98.2 322.8,98.3 323.8,101.5 324.8,102.3 325.8,103.6 326.8,104.8 327.8,106.6 328.8,106.8 329.8,105.8 330.8,106.1 331.8,106.4 332.8,104.9 333.8,104.7 334.8,103.9 335.8,102 336.8,100.4 337.7,98.1 338.7,98.1 339.7,97.2 340.7,97.4 341.7,93.9 342.7,94 343.7,93.4 344.7,90.8 345.7,88.1 346.7,85.9 347.7,83.9 348.7,80.5 349.7,78.5 350.7,80.2 351.7,81.3 352.7,81.5 353.7,82.3 354.7,84.4 355.7,87.5 356.7,88 357.7,89.6 358.7,92.2 359.7,94.9 360.7,97.1 361.6,97.8 362.6,96.2 363.6,95.6 364.6,96.8 365.6,96.5 366.6,95.2 367.6,96 368.6,96.7 369.6,94.2 370.6,92 371.6,92.1 372.6,93.1 373.6,91.8 374.6,92 375.6,91.7 376.6,91.6 377.6,89.1 378.6,88.7 379.6,88.7 380.6,88.3 381.6,88.5 382.6,88.4 383.6,88.4 384.6,88.3 385.5,88.1 386.5,88.2 387.5,89 388.5,90.2 389.5,89.2 390.5,89.2 391.5,88.9 392.5,89 393.5,88.7 394.5,88.2 395.5,88.4 396.5,88.6 397.5,88.8 398.5,89.2 399.5,88.9 400.5,88.9 401.5,88.8 402.5,89.1 403.5,89 404.5,89.5 405.5,88.3 406.5,89.2 407.5,89.3 408.5,88.3 409.4,88.9 410.4,89.1 411.4,89 412.4,90.6 413.4,89.9 414.4,90.2 415.4,90 416.4,90.6 417.4,89.8 418.4,90.1 419.4,89.8 420.4,89.2 421.4,89.7 422.4,89.9 423.4,90.1 424.4,89.2 425.4,88.3 426.4,88.8 427.4,89.4 428.4,90 429.4,89.3 430.4,89.2 431.4,89 432.4,89 433.3,89.2 434.3,89.6 435.3,90 436.3,89.4 437.3,90.1 438.3,90.9 439.3,90.7 440.3,90.3 441.3,89.1 442.3,88.8 443.3,89.9 444.3,90.5 445.3,90.8" stroke="#F8766D" stroke-width="0.75"/>
<polyline points="290.9,72.9 291.9,121.1 292.9,132.5 293.9,127.6 294.9,120.1 295.9,108.9 296.9,94.2 297.9,79.3 298.9,65.5 299.9,53.7 300.9,42.4 301.9,34.6 302.9,29.3 303.9,28.5 304.9,28.5 305.9,28.5 306.9,28.5 307.9,28.5 308.9,28.5 309.9,31.4 310.9,37.2 311.9,44.7 312.9,52.4 313.9,61 314.8,67.3 315.8,71.2 316.8,74.9 317.8,78.1 318.8,80.8 319.8,82 320.8,86 321.8,88.7 322.8,91.9 323.8,95.2 324.8,96 325.8,95.7 326.8,97.4 327.8,96.9 328.8,98.6 329.8,99.6 330.8,99.5 331.8,97.9 332.8,96 333.8,94.3 334.8,95.3 335.8,94.4 336.8,93.7 337.7,92.4 338.7,93.3 339.7,91.3 340.7,91.4 341.7,90.5 342.7,88.3 343.7,84.7 344.7,79 345.7,79.2 346.7,78.8 347.7,77 348.7,73.9 349.7,75.4 350.7,76.5 351.7,81.3 352.7,84.2 353.7,87.5 354.7,86.2 355.7,87.9 356.7,91 357.7,90.2 358.7,90.2 359.7,93.1 360.7,93.7 361.6,93.5 362.6,93.8 363.6,93.6 364.6,93.5 365.6,95 366.6,94 367.6,94.6 368.6,93.9 369.6,92.1 370.6,92.6 371.6,89.9 372.6,89.1 373.6,88.8 374.6,90.4 375.6,91 376.6,90 377.6,90.4 378.6,89.4 379.6,88.6 380.6,88.7 381.6,87.3 382.6,87.7 383.6,87.1 384.6,87.7 385.5,87.5 386.5,88.6 387.5,87.5 388.5,88 389.5,87.7 390.5,88.9 391.5,88.3 392.5,88.1 393.5,88.4 394.5,88.1 395.5,88.5 396.5,88.6 397.5,88.2 398.5,87.9 399.5,88.2 400.5,87.5 401.5,87.7 402.5,87.7 403.5,87.6 404.5,89.5 405.5,88.4 406.5,88.8 407.5,89.1 408.5,88.9 409.4,88.7 410.4,88.6 411.4,88.2 412.4,88.6 413.4,88.6 414.4,88.2 415.4,89.2 416.4,90.6 417.4,89.9 418.4,89.8 419.4,89.6 420.4,90.2 421.4,89.5 422.4,89.8 423.4,90.1 424.4,90.8 425.4,91 426.4,89.6 427.4,89 428.4,89 429.4,89.3 430.4,89.1 431.4,89.8 432.4,90.9 433.3,90.2 434.3,89.8 435.3,89.2 436.3,89.9 437.3,89.9 438.3,90.9 439.3,89.8 440.3,90.8 441.3,91.4 442.3,92.3 443.3,91.6 444.3,91.8 445.3,91.7" stroke="#EF7F49" stroke-width="0.75"/>
<polyline points="290.9,92.2 291.9,96.7 292.9,99.9 293.9,97.1 294.9,92.4 295.9,86.5 296.9,77.5 297.9,68.9 298.9,58.8 299.9,51.8 300.9,41.6 301.9,32.8 302.9,28.5 303.9,28.5 304.9,28.5 305.9,28.5 306.9,28.5 307.9,28.5 308.9,30.7 309.9,36.4 310.9,43.2 311.9,52.5 312.9,61.2 313.9,69.6 314.8,76 315.8,80.6 316.8,82.5 317.8,85.2 318.8,87.3 319.8,91.1 320.8,92.8 321.8,94.8 322.8,95.6 323.8,98.6 324.8,101.3 325.8,105.1 326.8,107.4 327.8,107.9 328.8,109.7 329.8,108.1 330.8,108.6 331.8,109.2 332.8,108.3 333.8,107.4 334.8,105.9 335.8,105.8 336.8,104.9 337.7,104.5 338.7,101.6 339.7,100.3 340.7,99.4 341.7,99.1 342.7,99.1 343.7,97.2 344.7,94.9 345.7,94 346.7,91.4 347.7,89.1 348.7,88 349.7,82.6 350.7,81.9 351.7,82.3 352.7,82.8 353.7,84 354.7,86.3 355.7,86.7 356.7,88.7 357.7,90.8 358.7,92 359.7,92 360.7,93.3 361.6,94.1 362.6,94.5 363.6,94.3 364.6,96.8 365.6,97.9 366.6,99.1 367.6,98.8 368.6,100 369.6,98.7 370.6,97.6 371.6,96.7 372.6,95.3 373.6,94.4 374.6,93.9 375.6,96 376.6,94.4 377.6,90.7 378.6,90.3 379.6,89.4 380.6,89.1 381.6,87.6 382.6,88 383.6,88.1 384.6,88.4 385.5,88.9 386.5,90.1 387.5,90.3 388.5,88.8 389.5,88.2 390.5,88.3 391.5,88.3 392.5,88.2 393.5,88.3 394.5,90 395.5,89 396.5,89.8 397.5,89.3 398.5,89.9 399.5,89.6 400.5,88.1 401.5,87.8 402.5,88.8 403.5,89.6 404.5,90.8 405.5,89.6 406.5,90.4 407.5,90.4 408.5,90.4 409.4,89.3 410.4,88.7 411.4,88.8 412.4,89.9 413.4,89.6 414.4,88.6 415.4,88.5 416.4,88.9 417.4,89.7 418.4,89.6 419.4,88.1 420.4,88.1 421.4,87.6 422.4,88.3 423.4,88.2 424.4,88.2 425.4,88.6 426.4,89.4 427.4,88.8 428.4,89.5 429.4,88.8 430.4,88.3 431.4,89 432.4,89.3 433.3,89.5 434.3,89.3 435.3,89.8 436.3,89.9 437.3,90.7 438.3,90.5 439.3,90.8 440.3,89.4 441.3,89 442.3,89.6 443.3,90.3 444.3,89.8 445.3,90.3" stroke="#E58700" stroke-width="0.75"/>
<polyline points="290.9,135.7 291.9,136.2 292.9,134.7 293.9,133 294.9,129.1 295.9,125.2 296.9,118.7 297.9,110.7 298.9,102.1 299.9,90.9 300.9,82.2 301.9,72.8 302.9,61.3 303.9,51 304.9,43 305.9,37.1 306.9,33.6 307.9,29.5 308.9,28.5 309.9,28.5 310.9,28.5 311.9,28.5 312.9,35.8 313.9,38.9 314.8,41.2 315.8,44.5 316.8,46.4 317.8,50.8 318.8,54.4 319.8,56 320.8,62.8 321.8,66.2 322.8,75 323.8,86.8 324.8,95.5 325.8,105.4 326.8,108.5 327.8,111 328.8,113.2 329.8,115.4 330.8,116.9 331.8,119.8 332.8,121.2 333.8,120.3 334.8,120.2 335.8,121.9 336.8,118.6 337.7,117.2 338.7,115 339.7,114.7 340.7,110.8 341.7,110 342.7,108.9 343.7,107.2 344.7,105.2 345.7,102.6 346.7,98.6 347.7,95.2 348.7,92.3 349.7,88.2 350.7,82.5 351.7,78.9 352.7,74.7 353.7,71 354.7,71.3 355.7,71.4 356.7,75.5 357.7,77.8 358.7,81.4 359.7,85.4 360.7,87.8 361.6,90.2 362.6,93.5 363.6,96 364.6,97.4 365.6,100.4 366.6,105.2 367.6,105.5 368.6,109.3 369.6,110.6 370.6,110 371.6,109 372.6,105.4 373.6,103.9 374.6,101.3 375.6,98.5 376.6,95.8 377.6,96.7 378.6,95.9 379.6,94.7 380.6,92.8 381.6,91.9 382.6,90.7 383.6,88.6 384.6,88.2 385.5,89.1 386.5,89 387.5,88.1 388.5,87.1 389.5,87.3 390.5,86.7 391.5,87.8 392.5,88.3 393.5,88.9 394.5,88.5 395.5,88.2 396.5,88.3 397.5,87.2 398.5,87.5 399.5,87.8 400.5,88.6 401.5,88 402.5,88.7 403.5,87.8 404.5,88.4 405.5,88 406.5,87.3 407.5,87.6 408.5,87.4 409.4,88.4 410.4,88.8 411.4,88.7 412.4,87.6 413.4,86.9 414.4,87.5 415.4,87.6 416.4,87.3 417.4,87.6 418.4,87.9 419.4,88.2 420.4,87 421.4,87.1 422.4,87.3 423.4,87.7 424.4,88 425.4,87.7 426.4,88.2 427.4,87.4 428.4,88 429.4,88.8 430.4,87.9 431.4,87.7 432.4,88 433.3,88.6 434.3,88.9 435.3,88.9 436.3,89.4 437.3,89 438.3,89.2 439.3,88.7 440.3,90.2 441.3,89.8 442.3,89.3 443.3,90 444.3,89.9 445.3,90.2" stroke="#D89000" stroke-width="0.75"/>
<polyline points="290.9,84.9 291.9,119 292.9,129 293.9,126.8 294.9,118.3 295.9,105.8 296.9,92.5 297.9,81.4 298.9,67 299.9,54.3 300.9,43.7 301.9,34.8 302.9,29.7 303.9,28.5 304.9,28.5 305.9,28.6 306.9,28.5 307.9,32 308.9,38.1 309.9,43.3 310.9,50.8 311.9,54.9 312.9,60.8 313.9,64.8 314.8,67.8 315.8,70.9 316.8,75.3 317.8,79.4 318.8,83 319.8,86.2 320.8,88 321.8,90.1 322.8,91.5 323.8,95.7 324.8,96.7 325.8,98 326.8,100 327.8,101.6 328.8,101.6 329.8,101.1 330.8,101.3 331.8,101.4 332.8,101.4 333.8,100.4 334.8,99.9 335.8,98.6 336.8,95.5 337.7,94.2 338.7,94.3 339.7,93.3 340.7,91.5 341.7,92.6 342.7,92.1 343.7,91.2 344.7,89.9 345.7,89.1 346.7,84.5 347.7,79.9 348.7,80.2 349.7,79.9 350.7,77.1 351.7,77.9 352.7,80.5 353.7,82.3 354.7,83.3 355.7,85.3 356.7,84.9 357.7,89.8 358.7,89.4 359.7,91.6 360.7,92.4 361.6,93.3 362.6,94.6 363.6,95.1 364.6,95.9 365.6,96.5 366.6,95.2 367.6,96.2 368.6,95.3 369.6,92.6 370.6,93.4 371.6,91.3 372.6,91.4 373.6,92.1 374.6,90.9 375.6,92.2 376.6,92 377.6,91.3 378.6,90.3 379.6,89.4 380.6,88.2 381.6,88.7 382.6,88.2 383.6,87.9 384.6,87.6 385.5,87.8 386.5,87.6 387.5,88.7 388.5,88.4 389.5,86.4 390.5,85.8 391.5,86.3 392.5,87.2 393.5,87 394.5,87.1 395.5,87.4 396.5,87.5 397.5,88.7 398.5,89.1 399.5,89.4 400.5,89.9 401.5,90.8 402.5,90.6 403.5,90.2 404.5,90.2 405.5,90.9 406.5,90.4 407.5,90.1 408.5,90.3 409.4,90.1 410.4,89.4 411.4,88.8 412.4,88.4 413.4,88.9 414.4,89.7 415.4,89.2 416.4,90 417.4,90.7 418.4,88.8 419.4,88 420.4,88.3 421.4,87.4 422.4,87.9 423.4,88.6 424.4,89.4 425.4,88.7 426.4,89.6 427.4,89 428.4,88.4 429.4,88.3 430.4,88.2 431.4,87.4 432.4,88.8 433.3,87.8 434.3,89.4 435.3,88.6 436.3,88.1 437.3,88.1 438.3,89.1 439.3,89.8 440.3,89.5 441.3,89.2 442.3,88.7 443.3,89.6 444.3,88.3 445.3,88" stroke="#C99800" stroke-width="0.75"/>
<polyline points="290.9,127.1 291.9,134.9 292.9,136.6 293.9,132.6 294.9,124 295.9,113.4 296.9,101.1 297.9,88.9 298.9,75.2 299.9,61.9 300.9,52.2 301.9,41.5 302.9,33.9 303.9,28.6 304.9,28.5 305.9,28.5 306.9,28.5 307.9,28.5 308.9,28.5 309.9,28.5 310.9,33 311.9,36.3 312.9,40.9 313.9,44.5 314.8,48.2 315.8,51.1 316.8,54.9 317.8,58.2 318.8,60.1 319.8,64 320.8,69.1 321.8,75.8 322.8,82.4 323.8,86.3 324.8,89.3 325.8,90.8 326.8,97.7 327.8,100.4 328.8,107.2 329.8,111.9 330.8,114 331.8,115 332.8,116.3 333.8,117.2 334.8,115.6 335.8,115.7 336.8,113.9 337.7,111.6 338.7,112.4 339.7,110.5 340.7,107.3 341.7,106.4 342.7,106.1 343.7,104.6 344.7,102.6 345.7,99.6 346.7,96.2 347.7,91.7 348.7,86.6 349.7,82.7 350.7,76.8 351.7,72.1 352.7,67.1 353.7,67.2 354.7,64.4 355.7,68.3 356.7,72 357.7,76.8 358.7,79.6 359.7,85.9 360.7,88.3 361.6,91.4 362.6,92.3 363.6,96.1 364.6,101.2 365.6,104.7 366.6,108.2 367.6,111.3 368.6,110.4 369.6,110.9 370.6,112 371.6,109.4 372.6,106.7 373.6,103.6 374.6,99.1 375.6,95.5 376.6,94.7 377.6,94.5 378.6,93 379.6,92.9 380.6,90.5 381.6,89.9 382.6,88.1 383.6,87.4 384.6,87.1 385.5,87.8 386.5,87.5 387.5,88.6 388.5,88 389.5,89.2 390.5,89.2 391.5,89.5 392.5,88.9 393.5,88.5 394.5,87.6 395.5,88 396.5,87.9 397.5,89.4 398.5,88.3 399.5,89 400.5,88.1 401.5,87.3 402.5,87.1 403.5,88.7 404.5,89.1 405.5,82.2 406.5,86.1 407.5,88.3 408.5,88.1 409.4,88.3 410.4,88.4 411.4,88.7 412.4,89.1 413.4,89.6 414.4,90.1 415.4,90.2 416.4,89.7 417.4,88.1 418.4,88.1 419.4,88 420.4,89.5 421.4,89.9 422.4,89.6 423.4,89.2 424.4,89.3 425.4,89.1 426.4,90.6 427.4,89.9 428.4,89.9 429.4,89.1 430.4,89.3 431.4,89.5 432.4,89.1 433.3,89.7 434.3,88.7 435.3,88.7 436.3,88.8 437.3,88.2 438.3,89.3 439.3,89.4 440.3,88.3 441.3,88.4 442.3,89 443.3,90 444.3,90.3 445.3,90.1" stroke="#B79F00" stroke-width="0.75"/>
<polyline points="290.9,72.5 291.9,113.2 292.9,130.7 293.9,124.1 294.9,117.3 295.9,108 296.9,96.6 297.9,82.1 298.9,68.2 299.9,55.3 300.9,45.8 301.9,37.2 302.9,30 303.9,28.5 304.9,28.5 305.9,28.5 306.9,28.5 307.9,28.5 308.9,33.2 309.9,37 310.9,45.9 311.9,55.4 312.9,65.5 313.9,72.5 314.8,80 315.8,85.2 316.8,89.5 317.8,90.4 318.8,89.4 319.8,91.1 320.8,90.4 321.8,91.5 322.8,94.3 323.8,95.5 324.8,99.6 325.8,102.2 326.8,105 327.8,106.8 328.8,109.4 329.8,110.3 330.8,112 331.8,110 332.8,110.5 333.8,110 334.8,112 335.8,109.5 336.8,106.6 337.7,103.8 338.7,104.9 339.7,102.7 340.7,100.3 341.7,97 342.7,96.2 343.7,93.7 344.7,93.7 345.7,88 346.7,85.8 347.7,83.6 348.7,79.7 349.7,78.5 350.7,78.5 351.7,77.4 352.7,78.9 353.7,80.1 354.7,81.4 355.7,83.5 356.7,85.3 357.7,87.9 358.7,86.7 359.7,90.1 360.7,92.3 361.6,96 362.6,98.7 363.6,100.1 364.6,101 365.6,101.2 366.6,102.8 367.6,101.5 368.6,99.7 369.6,99.5 370.6,99.4 371.6,99 372.6,98.1 373.6,96.7 374.6,94.6 375.6,94.6 376.6,92.6 377.6,91.3 378.6,92.2 379.6,91.1 380.6,90 381.6,90.4 382.6,89.1 383.6,87.9 384.6,86.4 385.5,87.7 386.5,87.1 387.5,87 388.5,87.9 389.5,86.9 390.5,85.9 391.5,86.8 392.5,86.8 393.5,86.9 394.5,86.9 395.5,87.5 396.5,88 397.5,87.9 398.5,89.1 399.5,89.4 400.5,88.8 401.5,88.5 402.5,88.9 403.5,89.4 404.5,89.8 405.5,89.9 406.5,89.6 407.5,89 408.5,88.6 409.4,89.7 410.4,90.1 411.4,89.6 412.4,89.7 413.4,88.2 414.4,88.4 415.4,88.3 416.4,87.9 417.4,88.7 418.4,88.5 419.4,89.5 420.4,89.3 421.4,88.8 422.4,88.1 423.4,88.8 424.4,88.4 425.4,88.1 426.4,87.7 427.4,88.6 428.4,88.5 429.4,88.5 430.4,88 431.4,88.9 432.4,89.2 433.3,89.6 434.3,90.8 435.3,89.5 436.3,89.8 437.3,90.4 438.3,90 439.3,89.5 440.3,90.4 441.3,91.7 442.3,92 443.3,91.6 444.3,91.3 445.3,91.7" stroke="#A3A500" stroke-width="0.75"/>
<polyline points="290.9,97.7 291.9,119.5 292.9,124.7 293.9,121.2 294.9,115.9 295.9,107 296.9,95.6 297.9,83.8 298.9,71.8 299.9,58.7 300.9,44.7 301.9,35.6 302.9,29.7 303.9,28.5 304.9,28.5 305.9,28.5 306.9,28.5 307.9,29 308.9,35.2 309.9,38.2 310.9,42.8 311.9,47.4 312.9,50.6 313.9,54.6 314.8,56.4 315.8,59.6 316.8,64.9 317.8,68.8 318.8,72.7 319.8,82.7 320.8,92.1 321.8,98.2 322.8,102.1 323.8,103.3 324.8,104.4 325.8,106.9 326.8,109.3 327.8,106.9 328.8,111.2 329.8,113.2 330.8,111.5 331.8,112.1 332.8,111.4 333.8,110.6 334.8,110.1 335.8,108.8 336.8,108.3 337.7,109.6 338.7,110 339.7,108.4 340.7,107.8 341.7,105.3 342.7,106.8 343.7,104.5 344.7,105.2 345.7,102.4 346.7,101 347.7,96.8 348.7,92.9 349.7,89.2 350.7,84.4 351.7,77.7 352.7,75.3 353.7,71.4 354.7,74.2 355.7,75.9 356.7,78.3 357.7,79.7 358.7,83.1 359.7,88.6 360.7,90.7 361.6,93.4 362.6,95.8 363.6,96.7 364.6,95.4 365.6,97.1 366.6,100.7 367.6,101.7 368.6,104.1 369.6,103.1 370.6,103.9 371.6,103.2 372.6,101.2 373.6,98.9 374.6,98.9 375.6,96.5 376.6,94.8 377.6,95.4 378.6,95.2 379.6,94.3 380.6,94.2 381.6,93.1 382.6,92.7 383.6,91.3 384.6,90.9 385.5,90.3 386.5,89.1 387.5,87.9 388.5,87.6 389.5,87.1 390.5,87 391.5,88.2 392.5,88.7 393.5,88.8 394.5,89.4 395.5,87.7 396.5,87.9 397.5,86.9 398.5,88.3 399.5,89 400.5,88.7 401.5,88.6 402.5,88.5 403.5,89.1 404.5,89.4 405.5,89.4 406.5,87.8 407.5,89 408.5,90.6 409.4,90.1 410.4,89.5 411.4,89 412.4,89.3 413.4,88.9 414.4,88.5 415.4,89.3 416.4,88.4 417.4,87 418.4,87.2 419.4,87.8 420.4,89.5 421.4,89.8 422.4,89.8 423.4,90.3 424.4,90.1 425.4,89.9 426.4,90.5 427.4,90.6 428.4,90 429.4,88.9 430.4,89.1 431.4,89.9 432.4,89.7 433.3,91.2 434.3,90.7 435.3,89.7 436.3,89.9 437.3,90.5 438.3,91.3 439.3,89.4 440.3,90 441.3,90.2 442.3,91.2 443.3,91.5 444.3,91.3 445.3,91.7" stroke="#8AAB00" stroke-width="0.75"/>
<polyline points="290.9,70.9 291.9,102.4 292.9,110.2 293.9,110.5 294.9,106.5 295.9,99.3 296.9,91.6 297.9,83.5 298.9,76.9 299.9,67.7 300.9,58.4 301.9,50 302.9,42.2 303.9,36.4 304.9,31.5 305.9,28.5 306.9,28.5 307.9,28.5 308.9,28.5 309.9,29.2 310.9,34 311.9,41.4 312.9,45.8 313.9,52.8 314.8,56.5 315.8,60.4 316.8,66.3 317.8,73.6 318.8,76.1 319.8,79 320.8,79.8 321.8,81.9 322.8,82.8 323.8,84.5 324.8,85.9 325.8,90 326.8,94.3 327.8,97.8 328.8,100.8 329.8,103.7 330.8,104.5 331.8,104.8 332.8,103.5 333.8,106.5 334.8,105.4 335.8,104 336.8,104.4 337.7,102.6 338.7,103 339.7,102.6 340.7,101.2 341.7,98.5 342.7,96.7 343.7,95.2 344.7,92.6 345.7,89.9 346.7,87.5 347.7,84.7 348.7,80.7 349.7,79.5 350.7,76.8 351.7,75.7 352.7,76.6 353.7,80.4 354.7,83.2 355.7,86 356.7,87.7 357.7,88.8 358.7,93 359.7,95 360.7,97.4 361.6,99.5 362.6,100.4 363.6,101.3 364.6,102.7 365.6,103.8 366.6,103.8 367.6,103.3 368.6,104 369.6,101.5 370.6,97.2 371.6,97.9 372.6,97 373.6,95.9 374.6,94.7 375.6,93.3 376.6,93.7 377.6,91.4 378.6,90.1 379.6,88.7 380.6,88.4 381.6,89.2 382.6,89.4 383.6,88.6 384.6,88.7 385.5,87.9 386.5,88 387.5,87.7 388.5,86.6 389.5,87.9 390.5,88.1 391.5,88.1 392.5,87 393.5,87.5 394.5,89 395.5,88.8 396.5,88.3 397.5,88.8 398.5,89.2 399.5,88.2 400.5,88.3 401.5,87.5 402.5,87.5 403.5,88 404.5,89.5 405.5,89.8 406.5,89.3 407.5,89.3 408.5,89.5 409.4,88.6 410.4,89.6 411.4,89 412.4,89.7 413.4,88.6 414.4,88.8 415.4,89 416.4,89.7 417.4,89.1 418.4,89.3 419.4,89.1 420.4,89.3 421.4,89.5 422.4,89.7 423.4,89.6 424.4,90.3 425.4,89.7 426.4,89.8 427.4,89.3 428.4,90.5 429.4,90.2 430.4,90.6 431.4,90.5 432.4,91 433.3,90.6 434.3,89.7 435.3,89.7 436.3,90.4 437.3,90.2 438.3,90.2 439.3,90.6 440.3,90.3 441.3,90.7 442.3,89.7 443.3,90.8 444.3,90.2 445.3,90.5" stroke="#6BB100" stroke-width="0.75"/>
<polyline points="290.9,80.8 291.9,114.2 292.9,123.7 293.9,121 294.9,118.3 295.9,116.3 296.9,113.8 297.9,107.6 298.9,101.2 299.9,94.7 300.9,85.5 301.9,77.5 302.9,69.3 303.9,62.3 304.9,55.5 305.9,50.8 306.9,44 307.9,38.6 308.9,32.7 309.9,30.2 310.9,28.5 311.9,28.5 312.9,28.5 313.9,28.5 314.8,28.5 315.8,34 316.8,39.4 317.8,45 318.8,52.3 319.8,57.8 320.8,62.8 321.8,69.9 322.8,75.6 323.8,82.4 324.8,86.7 325.8,91.8 326.8,95.2 327.8,99.3 328.8,99.7 329.8,102.5 330.8,102.7 331.8,105.8 332.8,107 333.8,106.1 334.8,107.9 335.8,107 336.8,107.2 337.7,103.9 338.7,106.2 339.7,105.4 340.7,104.7 341.7,103.8 342.7,106.2 343.7,105.9 344.7,103.1 345.7,99.4 346.7,98.2 347.7,98.6 348.7,97.4 349.7,97.7 350.7,97.7 351.7,94.9 352.7,91.4 353.7,88 354.7,83.6 355.7,79.2 356.7,78.4 357.7,79.8 358.7,82.6 359.7,84.9 360.7,86.3 361.6,88.6 362.6,91.8 363.6,91.4 364.6,93.4 365.6,95.3 366.6,96.1 367.6,98.8 368.6,100.4 369.6,101.3 370.6,103.5 371.6,102.9 372.6,103.9 373.6,103.2 374.6,104.5 375.6,102.7 376.6,101.8 377.6,97.3 378.6,95.7 379.6,95 380.6,93.7 381.6,92.1 382.6,91.5 383.6,90.3 384.6,89 385.5,89.3 386.5,89.1 387.5,88 388.5,88.4 389.5,89.2 390.5,89.2 391.5,89.2 392.5,89.4 393.5,89.7 394.5,88.7 395.5,88.8 396.5,88.8 397.5,87.9 398.5,87.9 399.5,88.6 400.5,88.5 401.5,87.2 402.5,86.3 403.5,86.5 404.5,87.2 405.5,87.2 406.5,86.6 407.5,88 408.5,87.5 409.4,87.2 410.4,87.9 411.4,87.8 412.4,87.8 413.4,88.1 414.4,87.5 415.4,87.6 416.4,87.7 417.4,87.6 418.4,88.1 419.4,87.2 420.4,86.7 421.4,86.4 422.4,87.7 423.4,89.2 424.4,88.7 425.4,89.3 426.4,89 427.4,88.9 428.4,89.2 429.4,88.7 430.4,89.9 431.4,88.5 432.4,88.3 433.3,88.6 434.3,88.5 435.3,89.4 436.3,88.9 437.3,88.7 438.3,89.3 439.3,90.2 440.3,91.3 441.3,91.3 442.3,91.6 443.3,92.1 444.3,91.6 445.3,92.1" stroke="#39B600" stroke-width="0.75"/>
<polyline points="290.9,82.7 291.9,117.3 292.9,131.1 293.9,126.6 294.9,121.5 295.9,109.7 296.9,95.4 297.9,81.8 298.9,64.7 299.9,54.1 300.9,40.5 301.9,32.5 302.9,28.5 303.9,28.5 304.9,28.5 305.9,28.5 306.9,28.5 307.9,30.3 308.9,35.1 309.9,41 310.9,50.5 311.9,58.9 312.9,67.6 313.9,74.6 314.8,79 315.8,82.4 316.8,84.4 317.8,86.9 318.8,85.2 319.8,84.1 320.8,83.8 321.8,84.2 322.8,86 323.8,87.6 324.8,91.1 325.8,92.5 326.8,93.2 327.8,94.9 328.8,95.9 329.8,96.4 330.8,97.6 331.8,97.4 332.8,99 333.8,98 334.8,98.4 335.8,99 336.8,96.9 337.7,97.3 338.7,95.4 339.7,94.4 340.7,94.6 341.7,93.2 342.7,93 343.7,90.9 344.7,90 345.7,88.7 346.7,85.7 347.7,82.8 348.7,80.6 349.7,76 350.7,72.4 351.7,67.6 352.7,69.1 353.7,67.7 354.7,68.4 355.7,70.1 356.7,72.6 357.7,75.1 358.7,76.8 359.7,78.2 360.7,80.7 361.6,84.2 362.6,83.8 363.6,87.1 364.6,86.7 365.6,87.7 366.6,87.9 367.6,88 368.6,89.1 369.6,89.5 370.6,89.4 371.6,89.9 372.6,88.9 373.6,88.1 374.6,87.8 375.6,88.8 376.6,87.4 377.6,87.3 378.6,89.9 379.6,89.5 380.6,89.3 381.6,89.8 382.6,88.7 383.6,89.2 384.6,90.1 385.5,88 386.5,88.3 387.5,88.8 388.5,87.4 389.5,86.7 390.5,87.1 391.5,87.4 392.5,86 393.5,86.2 394.5,87.8 395.5,88.9 396.5,88.4 397.5,89.3 398.5,89.5 399.5,88.2 400.5,87.8 401.5,88 402.5,87.4 403.5,86.4 404.5,88 405.5,88.2 406.5,88.9 407.5,88.7 408.5,88.8 409.4,88.6 410.4,88.6 411.4,89.1 412.4,88 413.4,88.3 414.4,89.5 415.4,88 416.4,88.7 417.4,88.9 418.4,88.6 419.4,88.8 420.4,87.9 421.4,87.5 422.4,87.7 423.4,87.9 424.4,88.6 425.4,89.5 426.4,89.6 427.4,89 428.4,89.1 429.4,88.2 430.4,88.4 431.4,88.8 432.4,89.5 433.3,89.1 434.3,89.8 435.3,89.6 436.3,89.1 437.3,89.3 438.3,89.8 439.3,89.9 440.3,89.8 441.3,90.3 442.3,89.9 443.3,89.9 444.3,89.7 445.3,88.4" stroke="#00BA38" stroke-width="0.75"/>
<polyline points="290.9,99.5 291.9,106.5 292.9,110.5 293.9,107.3 294.9,101.8 295.9,91.8 296.9,83.6 297.9,70.6 298.9,56.9 299.9,44 300.9,35.3 301.9,30.3 302.9,28.5 303.9,28.5 304.9,28.5 305.9,28.5 306.9,28.5 307.9,28.5 308.9,31.3 309.9,36.2 310.9,42.9 311.9,49 312.9,53.7 313.9,58.6 314.8,63.6 315.8,70 316.8,75.2 317.8,79 318.8,81.7 319.8,81.7 320.8,85.7 321.8,86.9 322.8,88.9 323.8,89.1 324.8,89.6 325.8,92.7 326.8,96.4 327.8,97.3 328.8,101.5 329.8,102 330.8,102.8 331.8,102 332.8,100.6 333.8,101 334.8,97.9 335.8,97.6 336.8,97.5 337.7,98.1 338.7,97.6 339.7,97.1 340.7,97.4 341.7,97.4 342.7,95.2 343.7,93.5 344.7,93.5 345.7,90 346.7,89.4 347.7,88.3 348.7,85.3 349.7,83.8 350.7,81.3 351.7,79 352.7,80.2 353.7,80.1 354.7,82.9 355.7,84.1 356.7,85.1 357.7,88.5 358.7,90.4 359.7,89.9 360.7,93.9 361.6,96.1 362.6,96.6 363.6,97.9 364.6,97.9 365.6,100.5 366.6,100.7 367.6,101.4 368.6,99.2 369.6,98.1 370.6,96.8 371.6,95.3 372.6,93.7 373.6,92.2 374.6,91.5 375.6,89.6 376.6,89.3 377.6,88.5 378.6,90.3 379.6,89.4 380.6,89.8 381.6,89.8 382.6,89.1 383.6,88.7 384.6,89 385.5,88.6 386.5,87.4 387.5,89 388.5,88 389.5,88.3 390.5,87.3 391.5,88.1 392.5,88.4 393.5,88 394.5,89.2 395.5,88.8 396.5,88.2 397.5,88.7 398.5,89.6 399.5,90.6 400.5,89.9 401.5,89.2 402.5,87.9 403.5,87.7 404.5,88.4 405.5,87.8 406.5,87.7 407.5,88.2 408.5,88.6 409.4,87.9 410.4,89.1 411.4,89.2 412.4,88.6 413.4,89.9 414.4,89.5 415.4,89.4 416.4,88.8 417.4,87.3 418.4,87.8 419.4,88.1 420.4,88.4 421.4,88.3 422.4,89.5 423.4,89.2 424.4,88.4 425.4,88.1 426.4,88.2 427.4,88.3 428.4,88.3 429.4,89.1 430.4,90.4 431.4,90.4 432.4,90.4 433.3,89.1 434.3,88.6 435.3,89.3 436.3,89.4 437.3,88.9 438.3,88.9 439.3,89.8 440.3,90.4 441.3,89.6 442.3,89.4 443.3,90.6 444.3,90.9 445.3,92" stroke="#00BD5F" stroke-width="0.75"/>
<polyline points="290.9,85.1 291.9,117.9 292.9,129.4 293.9,124.5 294.9,116 295.9,100.7 296.9,85.4 297.9,68.9 298.9,55.3 299.9,42.3 300.9,31.1 301.9,28.5 302.9,28.5 303.9,28.5 304.9,28.5 305.9,28.5 306.9,34 307.9,38.3 308.9,43.8 309.9,50.2 310.9,55.3 311.9,59.2 312.9,62.7 313.9,68.4 314.8,73.5 315.8,77 316.8,80.4 317.8,85.1 318.8,86.4 319.8,88.1 320.8,92.7 321.8,93.9 322.8,95.3 323.8,98 324.8,98.7 325.8,98.2 326.8,97.2 327.8,98.3 328.8,98.8 329.8,98.3 330.8,97.3 331.8,95 332.8,92.7 333.8,93.1 334.8,93.9 335.8,93.7 336.8,94 337.7,93.7 338.7,94.6 339.7,94.5 340.7,92.3 341.7,91.4 342.7,90.9 343.7,90.3 344.7,92.1 345.7,90.5 346.7,90.4 347.7,89.8 348.7,87.4 349.7,89.2 350.7,88.6 351.7,87.8 352.7,87.2 353.7,89.4 354.7,90.6 355.7,93.7 356.7,92.5 357.7,92.7 358.7,92 359.7,91.9 360.7,91.9 361.6,90.7 362.6,92.3 363.6,92.7 364.6,93.5 365.6,93.2 366.6,93 367.6,92.5 368.6,93.5 369.6,92 370.6,91.4 371.6,91.5 372.6,90.6 373.6,91.2 374.6,92 375.6,90.2 376.6,89.8 377.6,89.4 378.6,88.9 379.6,88 380.6,88.2 381.6,87.6 382.6,87.8 383.6,89 384.6,89.5 385.5,89.1 386.5,87.6 387.5,88.6 388.5,88 389.5,88.2 390.5,88.3 391.5,88.9 392.5,88.7 393.5,88.5 394.5,88.4 395.5,88.1 396.5,88.6 397.5,89.6 398.5,90.5 399.5,90.2 400.5,89.4 401.5,89 402.5,88.3 403.5,88.6 404.5,88.5 405.5,87.9 406.5,87 407.5,88.3 408.5,88.1 409.4,87.4 410.4,88.9 411.4,88 412.4,88.2 413.4,88.7 414.4,88.7 415.4,88.7 416.4,88.5 417.4,88.1 418.4,88 419.4,88.1 420.4,88.4 421.4,89.2 422.4,88.4 423.4,88.9 424.4,89 425.4,89.9 426.4,89 427.4,89.1 428.4,88.7 429.4,87.9 430.4,89.6 431.4,90.2 432.4,89.7 433.3,89.4 434.3,89.8 435.3,90.3 436.3,90.9 437.3,91 438.3,89.3 439.3,89.5 440.3,89.1 441.3,89.1 442.3,90.3 443.3,89.9 444.3,90.3 445.3,90" stroke="#00BF7D" stroke-width="0.75"/>
<polyline points="290.9,82.9 291.9,125.3 292.9,129.3 293.9,121.8 294.9,111.7 295.9,95.6 296.9,79.2 297.9,61.1 298.9,45.8 299.9,35.4 300.9,28.8 301.9,28.5 302.9,28.5 303.9,28.5 304.9,28.5 305.9,28.5 306.9,28.5 307.9,33.7 308.9,38.2 309.9,41.9 310.9,45.9 311.9,48.6 312.9,53.2 313.9,55.1 314.8,60.2 315.8,65.6 316.8,74.8 317.8,81.4 318.8,85.7 319.8,89.9 320.8,95.8 321.8,99.9 322.8,100.6 323.8,102.6 324.8,104.6 325.8,105.4 326.8,104.9 327.8,106.3 328.8,110 329.8,107.2 330.8,107.2 331.8,104.7 332.8,103.7 333.8,106.9 334.8,106.7 335.8,104.3 336.8,103 337.7,100.8 338.7,100.9 339.7,99.3 340.7,100.1 341.7,96.7 342.7,97.2 343.7,94.3 344.7,93.2 345.7,91.4 346.7,89.8 347.7,85.7 348.7,83 349.7,81.9 350.7,83.5 351.7,84.1 352.7,84.5 353.7,87.4 354.7,90.2 355.7,92.8 356.7,92.9 357.7,93.2 358.7,94.6 359.7,94.6 360.7,96.6 361.6,100.8 362.6,98.1 363.6,98 364.6,99 365.6,97.2 366.6,99.7 367.6,98.5 368.6,96.8 369.6,96.1 370.6,95.4 371.6,94.2 372.6,93.5 373.6,92.4 374.6,92.7 375.6,91.9 376.6,90 377.6,87.3 378.6,88.4 379.6,87.1 380.6,86.8 381.6,87.7 382.6,88.8 383.6,88.1 384.6,87.8 385.5,87.5 386.5,87.5 387.5,86.5 388.5,86.1 389.5,87 390.5,88.3 391.5,87.4 392.5,88.6 393.5,88.3 394.5,87.9 395.5,89.5 396.5,89.6 397.5,89.9 398.5,89.9 399.5,89.5 400.5,89 401.5,90.1 402.5,89.7 403.5,88.9 404.5,88.5 405.5,89.1 406.5,88.8 407.5,89.1 408.5,89.5 409.4,89 410.4,88.3 411.4,88.2 412.4,88.2 413.4,88.8 414.4,89.2 415.4,89.9 416.4,88.9 417.4,88.9 418.4,88.6 419.4,90 420.4,88.1 421.4,87.8 422.4,88.7 423.4,88.7 424.4,88.2 425.4,88.4 426.4,88.5 427.4,87.1 428.4,87.4 429.4,88.1 430.4,88 431.4,88.8 432.4,87.5 433.3,88.5 434.3,89.5 435.3,90.1 436.3,89.5 437.3,90 438.3,89.9 439.3,90 440.3,89.9 441.3,91.3 442.3,91.2 443.3,92 444.3,91.2 445.3,91.5" stroke="#00C097" stroke-width="0.75"/>
<polyline points="290.9,81.9 291.9,101.8 292.9,112.4 293.9,108.8 294.9,100 295.9,88.8 296.9,75.4 297.9,62.1 298.9,50.6 299.9,41.4 300.9,31.4 301.9,28.5 302.9,28.5 303.9,28.5 304.9,28.5 305.9,31.3 306.9,35.5 307.9,38.7 308.9,45.9 309.9,53 310.9,60.1 311.9,68.8 312.9,74 313.9,76.7 314.8,79.5 315.8,83.5 316.8,85.5 317.8,88.6 318.8,90.5 319.8,92.6 320.8,94.1 321.8,97.3 322.8,99.2 323.8,99.4 324.8,101.3 325.8,98.7 326.8,103.6 327.8,103.3 328.8,103.9 329.8,101.8 330.8,99.5 331.8,97.5 332.8,98.5 333.8,99.5 334.8,97.6 335.8,97.2 336.8,97.5 337.7,99.4 338.7,99 339.7,97.3 340.7,94.1 341.7,93.7 342.7,91.5 343.7,89.8 344.7,87.5 345.7,85.2 346.7,83.7 347.7,84.5 348.7,84.6 349.7,84 350.7,88.6 351.7,90.5 352.7,90.5 353.7,91.6 354.7,94.1 355.7,95.2 356.7,96.6 357.7,96.7 358.7,97.4 359.7,99.4 360.7,97.7 361.6,96.6 362.6,97.6 363.6,97.6 364.6,97.1 365.6,98.8 366.6,99.5 367.6,98.1 368.6,95.5 369.6,96.3 370.6,93.5 371.6,91.8 372.6,91.8 373.6,91.8 374.6,91.7 375.6,90 376.6,89.8 377.6,87 378.6,86.8 379.6,86.9 380.6,87.6 381.6,87.1 382.6,87.4 383.6,87.4 384.6,87.3 385.5,88 386.5,87.4 387.5,88.6 388.5,89 389.5,89.4 390.5,89.6 391.5,89.7 392.5,90.5 393.5,90.6 394.5,89.5 395.5,89.2 396.5,88.9 397.5,88.7 398.5,89.6 399.5,89.9 400.5,89.5 401.5,89 402.5,89.8 403.5,89.6 404.5,89.2 405.5,89.3 406.5,88.4 407.5,89.8 408.5,90.4 409.4,90.4 410.4,90 411.4,90.5 412.4,89.2 413.4,89.2 414.4,89.9 415.4,91.2 416.4,90.8 417.4,91.1 418.4,90.4 419.4,90.3 420.4,90.6 421.4,89.9 422.4,90.3 423.4,90 424.4,91.3 425.4,91 426.4,91.2 427.4,90.9 428.4,90.8 429.4,90 430.4,90.1 431.4,89.9 432.4,90.5 433.3,90.9 434.3,91.2 435.3,91.1 436.3,92.5 437.3,91.9 438.3,91.5 439.3,91.3 440.3,91.3 441.3,90.6 442.3,92 443.3,91.4 444.3,91.4 445.3,90.9" stroke="#00C0AF" stroke-width="0.75"/>
<polyline points="290.9,90 291.9,128.9 292.9,133.6 293.9,127 294.9,117.5 295.9,106.2 296.9,89.2 297.9,72.8 298.9,59.1 299.9,48.4 300.9,37.9 301.9,30.8 302.9,28.5 303.9,28.5 304.9,28.5 305.9,28.5 306.9,28.5 307.9,31.5 308.9,36 309.9,41.5 310.9,44.5 311.9,50.4 312.9,58.4 313.9,62.4 314.8,65.8 315.8,70.4 316.8,74.6 317.8,79.1 318.8,84.5 319.8,86.7 320.8,86.1 321.8,91.7 322.8,94.1 323.8,96.8 324.8,100.2 325.8,102.7 326.8,105.1 327.8,106.1 328.8,107.3 329.8,107 330.8,107.6 331.8,105.2 332.8,102.8 333.8,102.6 334.8,101.5 335.8,102.6 336.8,104.5 337.7,104.2 338.7,102.1 339.7,100.8 340.7,100.6 341.7,98.3 342.7,95.7 343.7,93.8 344.7,90.7 345.7,87.6 346.7,86.7 347.7,84.9 348.7,83.4 349.7,82.2 350.7,82.4 351.7,83.5 352.7,83.9 353.7,83.2 354.7,83.7 355.7,86.1 356.7,87 357.7,89.5 358.7,91.8 359.7,92.1 360.7,91.9 361.6,94.4 362.6,95.4 363.6,97.7 364.6,99.1 365.6,100.1 366.6,99.4 367.6,100.1 368.6,101.2 369.6,98.8 370.6,97.7 371.6,95.9 372.6,95.2 373.6,93.5 374.6,93 375.6,93.5 376.6,92 377.6,90.7 378.6,90.3 379.6,89.2 380.6,88.7 381.6,89 382.6,87.4 383.6,88.3 384.6,88.8 385.5,89.3 386.5,87.7 387.5,87.9 388.5,87.7 389.5,88.8 390.5,88.5 391.5,88.7 392.5,88.3 393.5,89.8 394.5,89.1 395.5,89.5 396.5,89.4 397.5,90 398.5,89.2 399.5,89.5 400.5,89 401.5,90 402.5,88.7 403.5,89.4 404.5,89.2 405.5,88.7 406.5,88.8 407.5,89.5 408.5,89.6 409.4,89.5 410.4,89.3 411.4,88.9 412.4,90.8 413.4,89.4 414.4,89.8 415.4,88.8 416.4,89 417.4,89.9 418.4,90.1 419.4,89.2 420.4,89.7 421.4,88.9 422.4,88.1 423.4,88.4 424.4,88.7 425.4,88.7 426.4,88.7 427.4,87.6 428.4,87.3 429.4,87.3 430.4,87.8 431.4,88.5 432.4,88.3 433.3,88.7 434.3,88.8 435.3,88.3 436.3,88.8 437.3,88.4 438.3,88.6 439.3,88.8 440.3,88.8 441.3,89.9 442.3,89.3 443.3,90.3 444.3,90.5 445.3,90.7" stroke="#00BFC4" stroke-width="0.75"/>
<polyline points="290.9,71.1 291.9,89.2 292.9,100.3 293.9,99.3 294.9,92.4 295.9,83.5 296.9,71.8 297.9,61.6 298.9,47.5 299.9,38.1 300.9,29.9 301.9,28.5 302.9,28.5 303.9,28.5 304.9,28.5 305.9,31.3 306.9,36.5 307.9,40 308.9,43.9 309.9,45.5 310.9,50.5 311.9,54.4 312.9,58.1 313.9,60.8 314.8,67 315.8,72.8 316.8,76.5 317.8,80.1 318.8,86 319.8,88 320.8,90.3 321.8,91.9 322.8,95.9 323.8,96 324.8,97.2 325.8,97.6 326.8,98.7 327.8,97.8 328.8,98.4 329.8,98.1 330.8,98.5 331.8,99.1 332.8,98.6 333.8,99.2 334.8,97.3 335.8,95.7 336.8,94.9 337.7,95.6 338.7,94.2 339.7,94.1 340.7,95.6 341.7,92 342.7,90.1 343.7,90.2 344.7,89.9 345.7,87.7 346.7,88.2 347.7,85.7 348.7,83.5 349.7,81.2 350.7,81.7 351.7,82.9 352.7,84 353.7,86.8 354.7,87.2 355.7,90 356.7,90.6 357.7,90 358.7,91.7 359.7,93.4 360.7,95 361.6,95.8 362.6,95.3 363.6,94.6 364.6,94.5 365.6,95.5 366.6,96.7 367.6,93.3 368.6,93.5 369.6,94.1 370.6,95.4 371.6,93.1 372.6,92.5 373.6,90.3 374.6,89.7 375.6,90.2 376.6,88.5 377.6,92 378.6,89.4 379.6,88.2 380.6,87.1 381.6,86.8 382.6,87 383.6,87 384.6,87.7 385.5,88.2 386.5,87 387.5,88.3 388.5,88.2 389.5,89.2 390.5,89.6 391.5,89.8 392.5,89.4 393.5,89.4 394.5,89.5 395.5,88 396.5,88.9 397.5,88.1 398.5,88.6 399.5,87.6 400.5,88 401.5,87.9 402.5,88.1 403.5,87.5 404.5,88.6 405.5,88.7 406.5,89.1 407.5,88.9 408.5,89.2 409.4,90.4 410.4,89.9 411.4,90.1 412.4,88.6 413.4,88.6 414.4,89.6 415.4,88.3 416.4,87.6 417.4,88.9 418.4,89.2 419.4,89.3 420.4,88.4 421.4,88.7 422.4,89 423.4,87.6 424.4,88.9 425.4,88.4 426.4,89.3 427.4,90.1 428.4,90.1 429.4,89.6 430.4,88.9 431.4,89.1 432.4,89.2 433.3,89.3 434.3,90.5 435.3,89.6 436.3,89.8 437.3,90.4 438.3,90.2 439.3,91 440.3,90.3 441.3,90.6 442.3,90.3 443.3,90.7 444.3,91.7 445.3,91" stroke="#00BCD8" stroke-width="0.75"/>
<polyline points="290.9,73.2 291.9,117.6 292.9,121 293.9,115.1 294.9,106.3 295.9,92.8 296.9,80.4 297.9,63.6 298.9,49.8 299.9,40.8 300.9,32.7 301.9,30.7 302.9,28.5 303.9,28.5 304.9,28.5 305.9,28.5 306.9,28.5 307.9,32.8 308.9,36.2 309.9,41.3 310.9,45 311.9,48.8 312.9,54.3 313.9,59.5 314.8,65.3 315.8,73.3 316.8,79.9 317.8,90.3 318.8,95.2 319.8,99.1 320.8,100.9 321.8,101.3 322.8,103.8 323.8,103 324.8,105.9 325.8,106.9 326.8,106.1 327.8,109.1 328.8,108.7 329.8,106.8 330.8,105.2 331.8,105.7 332.8,103.8 333.8,100.5 334.8,101 335.8,100.4 336.8,101.2 337.7,101 338.7,100 339.7,100.5 340.7,99.2 341.7,97.5 342.7,96.9 343.7,95.5 344.7,94.3 345.7,93.4 346.7,90.8 347.7,89.4 348.7,88 349.7,85.9 350.7,84 351.7,86.1 352.7,86.8 353.7,88.3 354.7,90.1 355.7,91.5 356.7,91.9 357.7,96.8 358.7,95.3 359.7,95.9 360.7,96.3 361.6,95.5 362.6,98.8 363.6,98 364.6,98.2 365.6,97.9 366.6,99.6 367.6,97.4 368.6,96 369.6,96.6 370.6,96.2 371.6,94.6 372.6,93.3 373.6,94.2 374.6,94.6 375.6,93.6 376.6,90.7 377.6,91.4 378.6,90.3 379.6,89.7 380.6,88.7 381.6,89.3 382.6,89.4 383.6,88.6 384.6,88.7 385.5,88.3 386.5,87.6 387.5,87.8 388.5,87.1 389.5,87.3 390.5,87.9 391.5,88.8 392.5,89.7 393.5,88.2 394.5,88.3 395.5,89 396.5,89.6 397.5,89.6 398.5,90.5 399.5,91.1 400.5,91.2 401.5,89.8 402.5,89.9 403.5,90.1 404.5,90 405.5,89.3 406.5,90.2 407.5,90.6 408.5,90.3 409.4,90.2 410.4,90.2 411.4,89.8 412.4,88.6 413.4,89.7 414.4,89.2 415.4,89.2 416.4,88.9 417.4,89.3 418.4,88.9 419.4,88.2 420.4,88.8 421.4,89.5 422.4,88.2 423.4,88.9 424.4,87.9 425.4,88.8 426.4,88.2 427.4,88.4 428.4,88.2 429.4,88.8 430.4,88.4 431.4,88.2 432.4,88.5 433.3,88.8 434.3,89.8 435.3,89.5 436.3,89.1 437.3,89.5 438.3,90.3 439.3,89.5 440.3,88.9 441.3,88.6 442.3,88.7 443.3,89.3 444.3,89.5 445.3,89.8" stroke="#00B7E9" stroke-width="0.75"/>
<polyline points="290.9,87.4 291.9,99.8 292.9,103.3 293.9,100.9 294.9,96.1 295.9,89.3 296.9,79.2 297.9,68.2 298.9,55.7 299.9,45.4 300.9,36 301.9,30.3 302.9,28.5 303.9,28.5 304.9,28.5 305.9,28.5 306.9,28.6 307.9,35.6 308.9,41.6 309.9,43.3 310.9,47.9 311.9,54.4 312.9,59.4 313.9,64.4 314.8,70.2 315.8,73 316.8,76.5 317.8,78.8 318.8,82.4 319.8,84.7 320.8,88 321.8,91.6 322.8,93.1 323.8,95.6 324.8,97 325.8,98.1 326.8,100.3 327.8,101 328.8,99.7 329.8,98.5 330.8,98.4 331.8,96.4 332.8,97.8 333.8,96.9 334.8,96.9 335.8,95.4 336.8,97.9 337.7,98.1 338.7,96 339.7,94 340.7,94.7 341.7,93.2 342.7,90.8 343.7,89.1 344.7,90.9 345.7,89.9 346.7,87.6 347.7,86.2 348.7,86.2 349.7,86.3 350.7,87.7 351.7,87.7 352.7,88.9 353.7,88.7 354.7,92.5 355.7,93.5 356.7,94.5 357.7,93.7 358.7,92.1 359.7,95.1 360.7,95.3 361.6,96.2 362.6,96.2 363.6,96 364.6,94.4 365.6,95.9 366.6,95.1 367.6,93.9 368.6,93.4 369.6,94.6 370.6,93.6 371.6,92.5 372.6,93.3 373.6,93.9 374.6,92.8 375.6,91.8 376.6,90.4 377.6,91.3 378.6,89.8 379.6,87.6 380.6,88.8 381.6,87.3 382.6,87.3 383.6,86.9 384.6,87.7 385.5,88.2 386.5,89 387.5,88.6 388.5,88.2 389.5,89.6 390.5,89.6 391.5,89.5 392.5,89.3 393.5,89.3 394.5,89.4 395.5,88.7 396.5,90.1 397.5,89.8 398.5,89.5 399.5,89 400.5,90.4 401.5,90.4 402.5,88.9 403.5,88.2 404.5,89.5 405.5,89.1 406.5,89.3 407.5,90.3 408.5,90.7 409.4,90.1 410.4,88.7 411.4,88.8 412.4,89.4 413.4,89.6 414.4,89.6 415.4,89.1 416.4,89.1 417.4,89.3 418.4,88.7 419.4,89.2 420.4,89.6 421.4,88.8 422.4,88.9 423.4,88.8 424.4,88.9 425.4,90.2 426.4,90.8 427.4,90.8 428.4,90.5 429.4,89.5 430.4,89.5 431.4,89.5 432.4,89 433.3,89.6 434.3,89.6 435.3,89.5 436.3,90 437.3,90.9 438.3,90.2 439.3,90 440.3,89.5 441.3,90 442.3,90.3 443.3,89.9 444.3,90.2 445.3,90.9" stroke="#00B0F6" stroke-width="0.75"/>
<polyline points="290.9,76.8 291.9,112.4 292.9,123.1 293.9,118.3 294.9,111.1 295.9,101.2 296.9,89 297.9,76.5 298.9,65.3 299.9,55.2 300.9,42.3 301.9,35.1 302.9,28.6 303.9,28.5 304.9,28.5 305.9,28.5 306.9,28.5 307.9,28.5 308.9,31.3 309.9,36.5 310.9,42.7 311.9,50.4 312.9,56.9 313.9,64.6 314.8,69.1 315.8,73.2 316.8,74.9 317.8,77.1 318.8,80.8 319.8,83.9 320.8,84.7 321.8,88.2 322.8,89.7 323.8,94 324.8,97.8 325.8,100 326.8,100.9 327.8,101.7 328.8,102.4 329.8,103.4 330.8,104.7 331.8,103.2 332.8,101 333.8,99.1 334.8,98.1 335.8,99.4 336.8,99.3 337.7,97.2 338.7,95.4 339.7,95.2 340.7,94.3 341.7,91.8 342.7,91.5 343.7,92.1 344.7,90.3 345.7,90.4 346.7,88 347.7,87.4 348.7,87.6 349.7,84.4 350.7,82.3 351.7,83.2 352.7,83.9 353.7,85.3 354.7,85.1 355.7,87.5 356.7,88.8 357.7,90.6 358.7,90.1 359.7,91.4 360.7,93.1 361.6,96.7 362.6,96.9 363.6,97.9 364.6,97.3 365.6,98.8 366.6,100.3 367.6,99.8 368.6,95.5 369.6,96.4 370.6,96.8 371.6,93.3 372.6,94.1 373.6,94.8 374.6,93.1 375.6,90.1 376.6,91.4 377.6,90.4 378.6,89.6 379.6,89.3 380.6,88.8 381.6,87.9 382.6,87.3 383.6,88.2 384.6,88.2 385.5,88.9 386.5,88.9 387.5,88.9 388.5,89.4 389.5,89.7 390.5,89 391.5,89.4 392.5,88.5 393.5,89.8 394.5,89.8 395.5,89.2 396.5,88 397.5,87.4 398.5,88.2 399.5,87.8 400.5,88.6 401.5,88.8 402.5,89.1 403.5,87.9 404.5,88.1 405.5,88.5 406.5,89.4 407.5,89.7 408.5,89 409.4,89.6 410.4,90.4 411.4,91 412.4,89.6 413.4,88.6 414.4,89.1 415.4,89.4 416.4,89.9 417.4,89.7 418.4,90.2 419.4,89.9 420.4,89.6 421.4,89.7 422.4,90 423.4,88.7 424.4,89.8 425.4,90 426.4,90 427.4,89.7 428.4,90 429.4,90 430.4,89.2 431.4,89.8 432.4,90.6 433.3,90.5 434.3,90.2 435.3,89.5 436.3,90.2 437.3,90.2 438.3,89.7 439.3,90.3 440.3,90.3 441.3,89.9 442.3,90.1 443.3,88.8 444.3,88.9 445.3,90.2" stroke="#00A7FF" stroke-width="0.75"/>
<polyline points="290.9,68.7 291.9,112.2 292.9,120.3 293.9,117.2 294.9,108.4 295.9,96.4 296.9,81 297.9,69.7 298.9,56.4 299.9,44.5 300.9,34.7 301.9,29.2 302.9,28.5 303.9,28.5 304.9,28.5 305.9,28.5 306.9,28.5 307.9,33.5 308.9,37.7 309.9,44.4 310.9,51.3 311.9,58.4 312.9,64.1 313.9,69.7 314.8,73.2 315.8,76.3 316.8,78.4 317.8,82.5 318.8,84.6 319.8,84.9 320.8,86.5 321.8,88.3 322.8,91.1 323.8,94.4 324.8,96.4 325.8,96.6 326.8,97.2 327.8,97.4 328.8,97.1 329.8,96.5 330.8,98.1 331.8,95 332.8,95.2 333.8,93.8 334.8,91.4 335.8,92.2 336.8,90.5 337.7,91.2 338.7,92.3 339.7,91.9 340.7,89.6 341.7,86.8 342.7,85.1 343.7,84.6 344.7,83.9 345.7,82.7 346.7,84.5 347.7,84.3 348.7,84.3 349.7,85.9 350.7,85.4 351.7,86.3 352.7,87.2 353.7,89.2 354.7,91.9 355.7,93.9 356.7,92.6 357.7,92.7 358.7,92.6 359.7,93.8 360.7,95.5 361.6,96.5 362.6,96.3 363.6,94.8 364.6,94.5 365.6,95.4 366.6,94.2 367.6,92.6 368.6,90.6 369.6,91 370.6,90.5 371.6,90.6 372.6,89.4 373.6,88.3 374.6,88.1 375.6,89.3 376.6,88.7 377.6,86.4 378.6,87.9 379.6,87.5 380.6,87.5 381.6,87.5 382.6,87.2 383.6,88.2 384.6,88.6 385.5,87.1 386.5,86.8 387.5,87.7 388.5,88.1 389.5,87.9 390.5,86.8 391.5,87.6 392.5,88.4 393.5,89.3 394.5,88.5 395.5,87.9 396.5,87.3 397.5,88.4 398.5,88.8 399.5,89 400.5,89.1 401.5,88.3 402.5,88 403.5,87.1 404.5,87.7 405.5,89.6 406.5,89.4 407.5,88.8 408.5,89.3 409.4,87.9 410.4,88.6 411.4,89.2 412.4,90 413.4,89.9 414.4,88.8 415.4,89.3 416.4,88.8 417.4,89.7 418.4,89.8 419.4,87.8 420.4,88 421.4,88 422.4,88.8 423.4,88.5 424.4,89.1 425.4,89.2 426.4,89.4 427.4,88.6 428.4,89.6 429.4,88.3 430.4,89 431.4,88.6 432.4,88.6 433.3,89 434.3,88.8 435.3,89.9 436.3,91 437.3,91.2 438.3,91.2 439.3,91.5 440.3,90.9 441.3,91.2 442.3,91.4 443.3,91.2 444.3,91.3 445.3,91.3" stroke="#619CFF" stroke-width="0.75"/>
<polyline points="290.9,95.5 291.9,117.1 292.9,121 293.9,116.6 294.9,108.9 295.9,96.5 296.9,86.5 297.9,73.5 298.9,60.8 299.9,48.8 300.9,39.7 301.9,33 302.9,29.3 303.9,28.5 304.9,28.5 305.9,28.5 306.9,31.4 307.9,39 308.9,42.5 309.9,46.9 310.9,50.3 311.9,53.5 312.9,58.4 313.9,64.7 314.8,68.6 315.8,71.2 316.8,76.7 317.8,81.6 318.8,86.2 319.8,90.8 320.8,94.6 321.8,97.4 322.8,97.6 323.8,99.6 324.8,98.5 325.8,99.9 326.8,99.9 327.8,101.5 328.8,102.8 329.8,102.4 330.8,102.2 331.8,102.9 332.8,102.8 333.8,102.4 334.8,101.8 335.8,99.6 336.8,100.2 337.7,101.6 338.7,100.8 339.7,100.2 340.7,98.5 341.7,97.8 342.7,96.5 343.7,95.7 344.7,97.2 345.7,92.7 346.7,92.6 347.7,89.9 348.7,88.6 349.7,86.8 350.7,84.6 351.7,82.9 352.7,83.2 353.7,85.6 354.7,86.3 355.7,85 356.7,86.2 357.7,87.7 358.7,87.6 359.7,88.8 360.7,90.8 361.6,92 362.6,93.7 363.6,92.8 364.6,94 365.6,92.8 366.6,93.8 367.6,92.7 368.6,93.8 369.6,93.3 370.6,95.2 371.6,94.1 372.6,92.7 373.6,92.8 374.6,92.3 375.6,92.4 376.6,91.2 377.6,90.7 378.6,91.8 379.6,91.7 380.6,91.2 381.6,90.9 382.6,90.2 383.6,89.4 384.6,89.4 385.5,89.3 386.5,89.1 387.5,88 388.5,87.9 389.5,87.4 390.5,87.7 391.5,87.6 392.5,88.4 393.5,88.6 394.5,88.8 395.5,88.8 396.5,88.5 397.5,88.1 398.5,88.7 399.5,88.4 400.5,87.5 401.5,88 402.5,88 403.5,87.9 404.5,88.4 405.5,87.4 406.5,88.3 407.5,87.9 408.5,87.5 409.4,87.7 410.4,88.7 411.4,88.2 412.4,88.3 413.4,87.5 414.4,88.3 415.4,88.3 416.4,86.9 417.4,87.2 418.4,87.6 419.4,88.2 420.4,87.8 421.4,88.1 422.4,89.1 423.4,88.2 424.4,88.5 425.4,89.4 426.4,89.1 427.4,89.6 428.4,89.2 429.4,89.9 430.4,89.4 431.4,89.3 432.4,89 433.3,89.2 434.3,89.6 435.3,89.6 436.3,88.9 437.3,89.3 438.3,90.2 439.3,90.6 440.3,90.5 441.3,90.6 442.3,90.2 443.3,89.5 444.3,90 445.3,89.2" stroke="#9590FF" stroke-width="0.75"/>
<polyline points="290.9,101.7 291.9,109 292.9,107.4 293.9,95.8 294.9,79.8 295.9,63.7 296.9,47.4 297.9,33.4 298.9,28.5 299.9,28.5 300.9,28.5 301.9,28.5 302.9,29.9 303.9,34.5 304.9,39.5 305.9,42.8 306.9,45.7 307.9,49 308.9,54.8 309.9,56.8 310.9,58.9 311.9,62.8 312.9,66.9 313.9,69.8 314.8,73.6 315.8,76.9 316.8,82.9 317.8,89.3 318.8,94.1 319.8,99 320.8,100.7 321.8,102.4 322.8,103.8 323.8,107.7 324.8,110.9 325.8,111.9 326.8,112.3 327.8,108.5 328.8,107.9 329.8,109.2 330.8,108.5 331.8,108 332.8,106.7 333.8,104.5 334.8,102.8 335.8,102.2 336.8,100.3 337.7,99.9 338.7,100 339.7,100.6 340.7,98.6 341.7,98.4 342.7,94.1 343.7,94.5 344.7,90.4 345.7,87.7 346.7,86.4 347.7,82.4 348.7,81.6 349.7,81.6 350.7,81.8 351.7,83 352.7,84.9 353.7,89.5 354.7,90.5 355.7,91.7 356.7,91.2 357.7,92.7 358.7,94.5 359.7,96.3 360.7,97.4 361.6,99.6 362.6,99.9 363.6,98.1 364.6,99.1 365.6,98.5 366.6,99.4 367.6,97.1 368.6,95.2 369.6,94.2 370.6,95.6 371.6,94.8 372.6,93.8 373.6,93.9 374.6,93.7 375.6,93.6 376.6,91.1 377.6,89.5 378.6,90.8 379.6,90.9 380.6,90.3 381.6,90.1 382.6,89.2 383.6,88.3 384.6,88.1 385.5,87.8 386.5,87.8 387.5,88.5 388.5,88.4 389.5,87.9 390.5,87.4 391.5,86.6 392.5,86.9 393.5,86.9 394.5,88.1 395.5,88.8 396.5,89.5 397.5,90 398.5,90.4 399.5,90.2 400.5,89.5 401.5,89.4 402.5,90.1 403.5,90.2 404.5,90.5 405.5,91.1 406.5,90.9 407.5,89.3 408.5,87.6 409.4,87.9 410.4,89.9 411.4,89.8 412.4,89.4 413.4,89 414.4,88.5 415.4,88.6 416.4,88.5 417.4,87.5 418.4,88.1 419.4,89.2 420.4,89.8 421.4,89 422.4,89.2 423.4,89.5 424.4,89.5 425.4,89.5 426.4,89.3 427.4,89.1 428.4,89.2 429.4,89.5 430.4,89.5 431.4,88.1 432.4,87.8 433.3,88.3 434.3,89.3 435.3,89.2 436.3,89.4 437.3,89.5 438.3,89.6 439.3,89.9 440.3,89 441.3,88.9 442.3,89.5 443.3,90.1 444.3,90.4 445.3,89.5" stroke="#B983FF" stroke-width="0.75"/>
<polyline points="290.9,84.6 291.9,111.2 292.9,120 293.9,112.5 294.9,101.4 295.9,85.1 296.9,69.3 297.9,53 298.9,39.4 299.9,31.5 300.9,28.6 301.9,28.5 302.9,28.5 303.9,28.5 304.9,28.5 305.9,28.5 306.9,29.1 307.9,33.7 308.9,39.3 309.9,45.5 310.9,47.9 311.9,51.6 312.9,59.1 313.9,64 314.8,72.6 315.8,78.2 316.8,85.2 317.8,88.8 318.8,89.6 319.8,92.8 320.8,94 321.8,97.6 322.8,97.8 323.8,101.3 324.8,102.8 325.8,101.6 326.8,100.5 327.8,100.5 328.8,101 329.8,100.1 330.8,100.4 331.8,97.4 332.8,97.2 333.8,96.3 334.8,96.8 335.8,96.1 336.8,94.1 337.7,92.9 338.7,92.1 339.7,92 340.7,90.9 341.7,90.1 342.7,88.6 343.7,90.6 344.7,89.8 345.7,86.5 346.7,81.3 347.7,77.9 348.7,75.8 349.7,76.2 350.7,78 351.7,79.8 352.7,80.4 353.7,83.5 354.7,83.4 355.7,87.5 356.7,88.8 357.7,92.2 358.7,92.6 359.7,94.6 360.7,94.9 361.6,95.5 362.6,97.5 363.6,96 364.6,95.3 365.6,93.6 366.6,93 367.6,93.5 368.6,92.5 369.6,91.5 370.6,92.6 371.6,91.6 372.6,92.6 373.6,91.6 374.6,92.5 375.6,92.9 376.6,91.2 377.6,90 378.6,90.6 379.6,90.8 380.6,91.2 381.6,90.5 382.6,89.2 383.6,88.9 384.6,89.7 385.5,89.8 386.5,88.5 387.5,88.1 388.5,88.5 389.5,88.1 390.5,89 391.5,89.5 392.5,89.2 393.5,88.8 394.5,88 395.5,88.3 396.5,88.1 397.5,89.3 398.5,89.8 399.5,89.5 400.5,89.7 401.5,90.9 402.5,90.6 403.5,90.4 404.5,88.7 405.5,88.5 406.5,89.4 407.5,89.5 408.5,89.8 409.4,90.5 410.4,90 411.4,89.7 412.4,89.1 413.4,89.4 414.4,89.5 415.4,89.1 416.4,88.7 417.4,89.3 418.4,90 419.4,89.4 420.4,89.8 421.4,89.4 422.4,90 423.4,90.3 424.4,90.8 425.4,89.7 426.4,90.6 427.4,89.4 428.4,90.9 429.4,89.8 430.4,90.4 431.4,91.4 432.4,90.7 433.3,90.1 434.3,90.3 435.3,90.6 436.3,90.2 437.3,89.5 438.3,89.1 439.3,89.9 440.3,89.6 441.3,89.6 442.3,90 443.3,90 444.3,90.4 445.3,90.5" stroke="#D376FF" stroke-width="0.75"/>
<polyline points="290.9,82.7 291.9,99.6 292.9,105.8 293.9,102.4 294.9,97.8 295.9,91.8 296.9,85.7 297.9,77.1 298.9,68.2 299.9,59.2 300.9,50.9 301.9,43.3 302.9,38.2 303.9,32.9 304.9,28.5 305.9,28.5 306.9,28.5 307.9,28.5 308.9,30.8 309.9,34.5 310.9,44.4 311.9,55.6 312.9,63.3 313.9,73.3 314.8,80.2 315.8,86.4 316.8,88.4 317.8,88.1 318.8,86.6 319.8,87.3 320.8,86.7 321.8,87 322.8,88.2 323.8,88.2 324.8,91.8 325.8,96.5 326.8,102.3 327.8,106.7 328.8,108.9 329.8,109.2 330.8,111.4 331.8,110.8 332.8,111.6 333.8,111.6 334.8,109.5 335.8,107 336.8,105.3 337.7,103 338.7,101.5 339.7,101 340.7,99.7 341.7,97.2 342.7,96.7 343.7,94.2 344.7,94.2 345.7,89.9 346.7,87.6 347.7,84.1 348.7,84.4 349.7,83.2 350.7,83.9 351.7,84.9 352.7,87.5 353.7,86.7 354.7,87 355.7,89.4 356.7,90.6 357.7,91.9 358.7,94.3 359.7,99.3 360.7,101.6 361.6,106.3 362.6,107.2 363.6,108.4 364.6,106.9 365.6,108.7 366.6,108.2 367.6,104 368.6,103.2 369.6,103.9 370.6,100.5 371.6,96.1 372.6,96.9 373.6,98.4 374.6,97.6 375.6,95.3 376.6,93.8 377.6,90.8 378.6,91.1 379.6,91 380.6,90.3 381.6,89.2 382.6,89.6 383.6,90 384.6,90.7 385.5,90.3 386.5,87.9 387.5,87.8 388.5,88.2 389.5,88.3 390.5,87.8 391.5,88.8 392.5,89 393.5,89 394.5,89.3 395.5,89.7 396.5,90.4 397.5,90 398.5,90.2 399.5,90.2 400.5,89.4 401.5,89.5 402.5,88.2 403.5,88.4 404.5,89.3 405.5,89.3 406.5,89.5 407.5,90 408.5,89.7 409.4,89.6 410.4,90.2 411.4,89.8 412.4,90.3 413.4,89.4 414.4,88.7 415.4,87.6 416.4,87.8 417.4,87.8 418.4,88.4 419.4,88.8 420.4,88.1 421.4,89 422.4,88 423.4,88.3 424.4,87.7 425.4,89.7 426.4,88.5 427.4,90.3 428.4,88.7 429.4,88.8 430.4,88 431.4,88.7 432.4,88.2 433.3,89.5 434.3,89.5 435.3,88.5 436.3,88.5 437.3,89.6 438.3,89.3 439.3,89.3 440.3,89.5 441.3,90.5 442.3,90.2 443.3,89.1 444.3,89.5 445.3,89.1" stroke="#E76BF3" stroke-width="0.75"/>
<polyline points="290.9,85.2 291.9,110.3 292.9,123.3 293.9,120.4 294.9,112.9 295.9,101.4 296.9,88.4 297.9,74.3 298.9,59.2 299.9,47.6 300.9,36.8 301.9,32.1 302.9,28.5 303.9,28.5 304.9,28.5 305.9,28.5 306.9,30.4 307.9,37 308.9,39.8 309.9,44.8 310.9,49 311.9,52.2 312.9,55.4 313.9,58.3 314.8,62.4 315.8,67.7 316.8,74.1 317.8,80.2 318.8,85.6 319.8,89.3 320.8,92.9 321.8,93.7 322.8,95.8 323.8,99 324.8,100.3 325.8,100.2 326.8,100 327.8,100.6 328.8,100.4 329.8,99.3 330.8,99.3 331.8,99.3 332.8,98.9 333.8,99 334.8,97.8 335.8,97.5 336.8,95.3 337.7,94.8 338.7,94.7 339.7,92.9 340.7,93.4 341.7,92.2 342.7,94.3 343.7,94.5 344.7,92.3 345.7,91.4 346.7,89 347.7,88.1 348.7,87 349.7,86.7 350.7,86.1 351.7,85.7 352.7,85.8 353.7,85.4 354.7,86.4 355.7,88.8 356.7,91.9 357.7,93.7 358.7,95.2 359.7,97.2 360.7,98.7 361.6,98.8 362.6,98.1 363.6,99 364.6,98.2 365.6,97.5 366.6,97.5 367.6,97.4 368.6,97.6 369.6,95.7 370.6,92.7 371.6,93.2 372.6,91.8 373.6,92.3 374.6,92 375.6,90.6 376.6,90.1 377.6,88.8 378.6,89.4 379.6,90.1 380.6,89.7 381.6,90.2 382.6,89 383.6,88.1 384.6,87.9 385.5,88.1 386.5,87.7 387.5,88.4 388.5,86.7 389.5,87.2 390.5,87.6 391.5,87.5 392.5,87.8 393.5,89 394.5,87.4 395.5,87.6 396.5,88.5 397.5,88.9 398.5,89.6 399.5,89.6 400.5,90.4 401.5,91.4 402.5,91 403.5,90.1 404.5,89.5 405.5,88.8 406.5,89.9 407.5,90.6 408.5,89.2 409.4,90.1 410.4,90 411.4,90 412.4,90.1 413.4,89.9 414.4,88.9 415.4,89.5 416.4,88.8 417.4,88.7 418.4,89 419.4,89.6 420.4,89.3 421.4,88.6 422.4,87.4 423.4,88.7 424.4,88.6 425.4,88.4 426.4,88.6 427.4,89.8 428.4,89.2 429.4,89.5 430.4,89.5 431.4,88.5 432.4,88.7 433.3,89.3 434.3,88.8 435.3,90 436.3,90.1 437.3,90 438.3,90.1 439.3,90.9 440.3,89.3 441.3,89.8 442.3,90.1 443.3,90.1 444.3,89.8 445.3,89.7" stroke="#F564E3" stroke-width="0.75"/>
<polyline points="290.9,72.4 291.9,92.7 292.9,97.6 293.9,91.7 294.9,88.2 295.9,81.7 296.9,72.7 297.9,65.3 298.9,56.1 299.9,47.7 300.9,39.2 301.9,33.6 302.9,28.5 303.9,28.5 304.9,28.5 305.9,28.5 306.9,28.5 307.9,28.5 308.9,28.5 309.9,31.4 310.9,36.2 311.9,45.7 312.9,54.3 313.9,61.8 314.8,70.8 315.8,77.7 316.8,82.2 317.8,85.8 318.8,87.5 319.8,90.4 320.8,91.8 321.8,93.3 322.8,97.8 323.8,99.2 324.8,99.5 325.8,98.6 326.8,97.3 327.8,97.4 328.8,96.9 329.8,96.7 330.8,97.6 331.8,97.4 332.8,95.1 333.8,93.8 334.8,94 335.8,95.9 336.8,94.8 337.7,93.4 338.7,92.3 339.7,92 340.7,93.2 341.7,92.9 342.7,89.8 343.7,87.7 344.7,87.9 345.7,86.8 346.7,86.3 347.7,85.8 348.7,85.2 349.7,84.8 350.7,85.1 351.7,84.6 352.7,85.2 353.7,84.9 354.7,85.2 355.7,87 356.7,89.7 357.7,90.1 358.7,91.9 359.7,91.6 360.7,89.3 361.6,93.2 362.6,94 363.6,96.1 364.6,95.7 365.6,96.1 366.6,93.6 367.6,93.9 368.6,94.6 369.6,93.5 370.6,92.4 371.6,91.8 372.6,91.9 373.6,90.3 374.6,89.3 375.6,89.2 376.6,89 377.6,90.9 378.6,90.2 379.6,91.9 380.6,91.3 381.6,91.7 382.6,91 383.6,90.1 384.6,91.5 385.5,91 386.5,89.9 387.5,89.6 388.5,90.1 389.5,89.3 390.5,88.7 391.5,88.8 392.5,88.7 393.5,89.7 394.5,89.8 395.5,89.7 396.5,89.6 397.5,89 398.5,89 399.5,88.9 400.5,88.1 401.5,89.3 402.5,90.3 403.5,89.8 404.5,89.9 405.5,89.9 406.5,89.2 407.5,89.4 408.5,88.7 409.4,90.2 410.4,90.4 411.4,89.2 412.4,89.5 413.4,89.3 414.4,89.4 415.4,88.8 416.4,88.9 417.4,88.7 418.4,89.1 419.4,90.2 420.4,90.8 421.4,88.7 422.4,89.2 423.4,89.9 424.4,89.6 425.4,87.9 426.4,88.2 427.4,88.3 428.4,89.1 429.4,89.3 430.4,89 431.4,88.4 432.4,88.8 433.3,88.2 434.3,87.6 435.3,89.9 436.3,90.4 437.3,90.9 438.3,89.9 439.3,89.6 440.3,89.8 441.3,89.8 442.3,89.8 443.3,89.5 444.3,89.7 445.3,89.9" stroke="#FD61D1" stroke-width="0.75"/>
<polyline points="290.9,69.9 291.9,94 292.9,104.5 293.9,100.1 294.9,99.3 295.9,94.6 296.9,88.5 297.9,82.7 298.9,74.1 299.9,66.5 300.9,58.6 301.9,52.9 302.9,45.1 303.9,39.7 304.9,34.8 305.9,30.1 306.9,28.5 307.9,28.5 308.9,28.5 309.9,30.9 310.9,39.1 311.9,42.1 312.9,43.7 313.9,49.4 314.8,54 315.8,61.6 316.8,66.5 317.8,69.6 318.8,73.8 319.8,80.2 320.8,85.9 321.8,91 322.8,93.7 323.8,94.9 324.8,98.8 325.8,102.2 326.8,103.1 327.8,104.3 328.8,104.9 329.8,106.4 330.8,107.4 331.8,106.1 332.8,107 333.8,108.8 334.8,107.9 335.8,106.1 336.8,105.6 337.7,105.3 338.7,106.9 339.7,103.6 340.7,103.5 341.7,101.8 342.7,102.2 343.7,99.9 344.7,101.3 345.7,100.4 346.7,100.5 347.7,97.2 348.7,93.6 349.7,91.6 350.7,90.7 351.7,87.2 352.7,83.2 353.7,83.2 354.7,80.5 355.7,78.5 356.7,78.2 357.7,78.8 358.7,84.4 359.7,87.4 360.7,88.9 361.6,90.7 362.6,91.7 363.6,92.2 364.6,93.7 365.6,96 366.6,98 367.6,100.2 368.6,102.1 369.6,101.9 370.6,102.1 371.6,102.7 372.6,104.1 373.6,102.3 374.6,101.9 375.6,99.6 376.6,97 377.6,93.7 378.6,94.1 379.6,93.6 380.6,92.6 381.6,91.1 382.6,90.5 383.6,90.5 384.6,89.7 385.5,89.7 386.5,88.8 387.5,88.7 388.5,88.1 389.5,88.2 390.5,89 391.5,88.9 392.5,88.9 393.5,89.1 394.5,89.3 395.5,89 396.5,89.6 397.5,89.9 398.5,89.1 399.5,90 400.5,88.2 401.5,88.3 402.5,89.3 403.5,88.6 404.5,88.9 405.5,89.1 406.5,89.1 407.5,90.4 408.5,90.1 409.4,89.4 410.4,89.9 411.4,90.5 412.4,89.3 413.4,88.6 414.4,89.1 415.4,89 416.4,89.5 417.4,89.2 418.4,89.4 419.4,90.1 420.4,88.9 421.4,89.5 422.4,90 423.4,90.6 424.4,91.2 425.4,90.6 426.4,91.4 427.4,92.1 428.4,91.1 429.4,90 430.4,90.8 431.4,90.8 432.4,90.3 433.3,90 434.3,90.3 435.3,90.7 436.3,90.6 437.3,91.2 438.3,90.8 439.3,90.8 440.3,91.5 441.3,91.4 442.3,91.3 443.3,91.3 444.3,91 445.3,90" stroke="#FF62BC" stroke-width="0.75"/>
<polyline points="290.9,69.4 291.9,90.9 292.9,99.3 293.9,97.1 294.9,89.4 295.9,81.9 296.9,69.4 297.9,59.9 298.9,49 299.9,40.1 300.9,32.9 301.9,28.6 302.9,28.5 303.9,28.5 304.9,28.5 305.9,28.5 306.9,28.5 307.9,29.5 308.9,33.5 309.9,41.4 310.9,45.7 311.9,50.4 312.9,55.3 313.9,60.5 314.8,65.9 315.8,70.3 316.8,74.5 317.8,82.7 318.8,89.3 319.8,96 320.8,98.6 321.8,100.7 322.8,101.6 323.8,103.6 324.8,107.3 325.8,108 326.8,109.8 327.8,110.3 328.8,111.5 329.8,110.4 330.8,109.4 331.8,110.6 332.8,109.1 333.8,109 334.8,106.7 335.8,107.6 336.8,107.5 337.7,107.1 338.7,106.4 339.7,104.9 340.7,103.9 341.7,102 342.7,99.4 343.7,98 344.7,97 345.7,93.3 346.7,92 347.7,90.3 348.7,88.5 349.7,86.5 350.7,85.1 351.7,84.4 352.7,82.6 353.7,85.2 354.7,88.1 355.7,89.2 356.7,91.4 357.7,93.1 358.7,93.4 359.7,96.8 360.7,99.3 361.6,99.8 362.6,101.1 363.6,98.2 364.6,101.2 365.6,98.1 366.6,99.5 367.6,101.2 368.6,99.4 369.6,98.8 370.6,98.3 371.6,96.4 372.6,96.7 373.6,95 374.6,95.1 375.6,95.9 376.6,96 377.6,92.5 378.6,91.9 379.6,90.2 380.6,87.9 381.6,88.2 382.6,87.7 383.6,89 384.6,90.1 385.5,89.7 386.5,89.5 387.5,90.1 388.5,89.2 389.5,88.5 390.5,88.2 391.5,88.6 392.5,89 393.5,88.6 394.5,88.5 395.5,89.7 396.5,88.7 397.5,90 398.5,89.1 399.5,89.5 400.5,89.1 401.5,88.6 402.5,89.1 403.5,89.2 404.5,88.9 405.5,88.4 406.5,88.3 407.5,87.3 408.5,87.3 409.4,87.9 410.4,88.7 411.4,87.8 412.4,89.3 413.4,89.2 414.4,89.2 415.4,88.4 416.4,88.1 417.4,88.6 418.4,88.7 419.4,88.6 420.4,88.7 421.4,88.8 422.4,88.1 423.4,87.5 424.4,87.2 425.4,87.6 426.4,88.2 427.4,89 428.4,88.5 429.4,88.3 430.4,88.9 431.4,89 432.4,89.2 433.3,88.9 434.3,89.4 435.3,90.2 436.3,89.8 437.3,90.8 438.3,91.1 439.3,90 440.3,89.7 441.3,89.4 442.3,90.7 443.3,91 444.3,90.6 445.3,90.3" stroke="#FF67A4" stroke-width="0.75"/>
<polyline points="290.9,92.5 291.9,103.2 292.9,110.6 293.9,108.9 294.9,106.7 295.9,95.5 296.9,83.3 297.9,73.5 298.9,60.3 299.9,49.7 300.9,37.2 301.9,31.8 302.9,28.5 303.9,28.5 304.9,28.5 305.9,28.5 306.9,28.5 307.9,28.5 308.9,31.8 309.9,38.3 310.9,41.9 311.9,48 312.9,52 313.9,58.4 314.8,62.7 315.8,67.2 316.8,73.6 317.8,82.9 318.8,87.2 319.8,94 320.8,96.4 321.8,96.5 322.8,98.2 323.8,96.2 324.8,97.7 325.8,99.1 326.8,101 327.8,101 328.8,100.8 329.8,102.4 330.8,104 331.8,103.4 332.8,101.6 333.8,102.3 334.8,102.3 335.8,100.2 336.8,99.6 337.7,99.7 338.7,98.9 339.7,98.2 340.7,96.2 341.7,95.9 342.7,94.6 343.7,94.8 344.7,94.2 345.7,92.2 346.7,92.2 347.7,88.7 348.7,86.1 349.7,83 350.7,82.6 351.7,83 352.7,83.8 353.7,85.2 354.7,87.4 355.7,89.3 356.7,90.4 357.7,90.9 358.7,92.7 359.7,93.4 360.7,93.7 361.6,94.1 362.6,96.2 363.6,95.8 364.6,97.3 365.6,96.3 366.6,95.1 367.6,95.1 368.6,95.4 369.6,95.1 370.6,93.3 371.6,93.6 372.6,95.3 373.6,93.6 374.6,93.3 375.6,92.9 376.6,91.4 377.6,91.8 378.6,91.5 379.6,90.1 380.6,89.6 381.6,89.4 382.6,88.8 383.6,88.3 384.6,89.7 385.5,89.6 386.5,88.1 387.5,89.4 388.5,88.6 389.5,89.4 390.5,89 391.5,89.2 392.5,89.5 393.5,89 394.5,88.9 395.5,89.5 396.5,89.5 397.5,89.1 398.5,89.3 399.5,89.9 400.5,89.2 401.5,88.4 402.5,87.3 403.5,87.4 404.5,88 405.5,87.6 406.5,86.6 407.5,87.8 408.5,87.9 409.4,87.8 410.4,87.8 411.4,87.5 412.4,88.8 413.4,89 414.4,89 415.4,89.8 416.4,90.3 417.4,91 418.4,90.3 419.4,90.9 420.4,90 421.4,90.4 422.4,89.8 423.4,90.1 424.4,89.8 425.4,90.1 426.4,90.6 427.4,89.9 428.4,90.3 429.4,91 430.4,90 431.4,89.4 432.4,88.9 433.3,89.7 434.3,89.9 435.3,89.8 436.3,90.6 437.3,90.2 438.3,90.5 439.3,89.7 440.3,89.7 441.3,90.2 442.3,90.8 443.3,89.6 444.3,90.8 445.3,90.8" stroke="#FE6E8A" stroke-width="0.75"/>
</g>
<path d="M278.4 22.7V138.3M290.3 22.7V138.3M302.3 22.7V138.3M314.2 22.7V138.3M326.2 22.7V138.3M338.1 22.7V138.3M350.1 22.7V138.3M362 22.7V138.3M374 22.7V138.3M385.9 22.7V138.3M397.9 22.7V138.3M409.8 22.7V138.3M421.8 22.7V138.3M433.7 22.7V138.3M445.7 22.7V138.3" stroke="#646464" stroke-width="0.62" fill="none"/>
<rect x="269.9" y="22.7" width="184.7" height="115.6" fill="none" stroke="#6a6a6a" stroke-width="0.75"/>
<g font-family="'Liberation Sans', sans-serif" font-size="5.4" fill="#6b6b6b">
<g text-anchor="middle"><text x="278.4" y="145.6">0</text><text x="290.3" y="145.6">12</text><text x="302.3" y="145.6">24</text><text x="314.2" y="145.6">36</text><text x="326.2" y="145.6">48</text><text x="338.1" y="145.6">60</text><text x="350.1" y="145.6">72</text><text x="362" y="145.6">84</text><text x="374" y="145.6">96</text><text x="385.9" y="145.6">108</text><text x="397.9" y="145.6">120</text><text x="409.8" y="145.6">132</text><text x="421.8" y="145.6">144</text><text x="433.7" y="145.6">156</text><text x="445.7" y="145.6">168</text></g>
<g text-anchor="end"><text x="267.9" y="30.4">1.0</text><text x="267.9" y="60.6">0.5</text><text x="267.9" y="90.7">0.0</text><text x="267.9" y="120.9">-0.5</text></g>
</g>
<g font-family="'Liberation Sans', sans-serif" font-size="7.4" fill="#111" text-anchor="middle">
<text x="362.2" y="153.7">Time (h)</text>
<text transform="translate(256.5 80.5) rotate(-90)">Detrended luminescence</text>
</g>
<g font-family="'Liberation Sans', sans-serif" font-size="11.45" fill="#050505"><text x="382.4" y="121.3">τ (36-120 h):</text><text x="382.4" y="132.7">23.9 ± 4.5 h</text></g>
<!-- panel D1 -->
<rect x="27.1" y="173.1" width="148.9" height="94" fill="#E7E7E7"/>
<path d="M101.7 173.1V267.1M111.4 173.1V267.1M121.1 173.1V267.1M130.8 173.1V267.1M140.4 173.1V267.1M150.1 173.1V267.1M159.8 173.1V267.1M169.5 173.1V267.1M27.1 176.2H176M27.1 186.5H176M27.1 196.8H176M27.1 207.2H176M27.1 217.6H176M27.1 227.9H176M27.1 238.2H176M27.1 248.6H176M27.1 258.9H176M33.9 173.1V267.1M43.6 173.1V267.1M53.3 173.1V267.1M63 173.1V267.1M72.6 173.1V267.1M82.3 173.1V267.1M92 173.1V267.1" stroke="#EFEFEF" stroke-width="0.5" fill="none"/>
<clipPath id="cD1"><rect x="27.1" y="173.1" width="148.9" height="94"/></clipPath>
<g clip-path="url(#cD1)">
<polyline points="33.9,187.7 33.9,186.5 34.5,184.7 35.2,180.6 35.7,178.2 35.8,179.8 36.5,181.5 37.1,185.4 37.8,185.3 38.4,188.8 39.1,190.2 39.4,191.7 39.7,193.4 40.4,196.7 41,199.8 41.6,201.6 42.3,203.9 42.8,206.2 42.9,207.6 43.6,210.7 44.2,213.7 44.9,217.5 45.5,220.2 46,223.2 46.2,224.5 46.8,225.8 47.5,229.4 48.1,232.8 48.8,235.7 49.4,240 49.9,241.4 50,243.3 50.7,244.4 51.3,244.9 52,246.7 52.6,250.5 53.3,253.4 53.9,256.1 53.9,254.8 54.6,254.8 55.2,255.8 55.9,256.6 56.5,256.2 56.5,256.9 57.1,256.8 57.8,257.2 58.4,258.5 59.1,259.7 59.1,258.9 59.7,257.1 60.4,255.7 61,253.9 61.7,254.7 61.8,253.3 62.3,252.3 63,250.7 63.6,251.9 64.2,249.5 64.4,250.7 64.9,249.7 65.5,251.4 66.2,250.8 66.8,253.9 67,253.3 67.5,252.7 68.1,253.3 68.8,254.5 69.4,256 69.7,254.8 70.1,254 70.7,252.4 71,251.7 71.4,251.7 72,254.4 72.6,255.6 72.8,255.8 73.3,254.6 73.9,253.4 74.6,251.2 74.9,250.7 75.2,250.4 75.9,249.2 76.5,247.7 77.2,246.2 77.8,247.4 78.5,246.5 78.9,245.5 79.1,243.5 79.7,241.1 80.4,238.3 81,235.5 81.5,231 81.7,228.7 82.3,224.4 83,220.1 83.6,214.8 84.1,210.3 84.3,210.3 84.9,206.3 85.6,199.2 86.2,197.1 86.7,193 86.8,192.1 87.5,190.2 88.1,190.4 88.8,189.8 89.4,187.3 89.4,188.6 90.1,187 90.7,188.1 90.9,187.5 91.4,190.2 92,192.5 92.5,194.8 92.7,195.6 93.3,198.4 94,201.9 94.6,207.5 95.2,210.7 95.2,210.3 95.9,214.9 96.5,219.5 97.2,223.5 97.8,227.2 98.5,231.4 98.6,233.7 99.1,237.7 99.8,241.7 100.4,246.3 101.1,248.1 101.2,251.7 101.7,254 102.3,253.8 103,257.2 103.6,259 103.8,260 104.3,262.5 104.9,262.7 105.1,262.1 105.6,262.5 106.2,260.9 106.9,260.6 107.5,258.6 107.8,257.9 108.2,258 108.8,256.3 109.4,257.9 110.1,257.1 110.7,258.2 111.4,257.6 111.7,257.9 112,257.3 112.7,257.9 113.3,255.4 114,256.4 114.6,255.6 115.3,254.2 115.6,254.8 115.9,253.6 116.6,254.5 117.2,253 117.8,253 118.5,251.5 119.1,251.6 119.8,251.9 120.4,249.7 120.9,249.6 121.1,249.6 121.7,247.8 122.4,248.1 123,247.4 123.7,246.2 124.3,245.4 124.9,243.7 125.6,244.3 126.2,241.6 126.2,242.9 126.9,241.9 127.5,240.6 128.2,238.7 128.8,239.8 129.5,237.3 130.1,237.7 130.8,236.4 131.4,237.2 131.4,236.2 132,235.6 132.7,233.5 133.3,234.6 134,233.5 134.6,233.7 135.3,232.9 135.9,230.5 136.6,232 136.7,231.5 137.2,231.3 137.9,230 138.5,231 139.2,229.7 139.8,229.1 140.4,229.6 141.1,228.7 141.7,229.3 141.9,228.4 142.4,227.7 143,227.7 143.7,227.8 144.3,227 145,226.5 145.6,227 146.3,226.6 146.9,227.4 147.2,226.6 147.5,227.1 148.2,226 148.8,226.8 149.5,225 150.1,225 150.8,223.2 151.1,224.5 151.4,223.8 152.1,224.5 152.7,224.7 153.4,225.9 154,225.5 154.6,226 155.1,225 155.3,224.1 155.9,226.8 156.6,226.7 157.2,227.3 157.9,226.1 158.5,228.3 159,227.9 159.2,228.1 159.8,228.4 160.5,228.5 161.1,228.3 161.8,227.4 162.4,229.6 163,228.3 163,227.6 163.7,228.3 164.3,228 165,227.2 165.6,227.9 166.3,228.8 166.9,229.8 166.9,228.9 167.6,229.9 168.2,229.7 168.9,230.5 169.5,229.3 169.5,228.9" stroke="#F2100C" stroke-width="0.7"/>
</g>
<path d="M33.9 173.1V267.1M53.3 173.1V267.1M72.6 173.1V267.1M92 173.1V267.1M111.4 173.1V267.1M130.8 173.1V267.1M150.1 173.1V267.1M169.5 173.1V267.1" stroke="#686868" stroke-width="0.55" fill="none"/>
<rect x="27.1" y="173.1" width="148.9" height="94" fill="none" stroke="#707070" stroke-width="0.65"/>
<g font-family="'Liberation Sans', sans-serif" font-size="4.6" fill="#6b6b6b">
<g text-anchor="middle"><text x="33.9" y="273.2">36</text><text x="53.3" y="273.2">48</text><text x="72.6" y="273.2">60</text><text x="92" y="273.2">72</text><text x="111.4" y="273.2">84</text><text x="130.8" y="273.2">96</text><text x="150.1" y="273.2">108</text><text x="169.5" y="273.2">120</text></g>
<g text-anchor="end"><text x="25" y="188.2">0.4</text><text x="25" y="208.9">0.2</text><text x="25" y="229.6">0.0</text><text x="25" y="250.3">-0.2</text></g>
</g>
<g font-family="'Liberation Sans', sans-serif" font-size="6.0" fill="#111" text-anchor="middle">
<text x="101.5" y="279.4">Time (h)</text>
<text transform="translate(16.4 220.1) rotate(-90)">Detrended luminescence</text>
</g>
<!-- panel D2 -->
<rect x="196.3" y="173.1" width="149.2" height="94" fill="#E7E7E7"/>
<path d="M196.3 177.8H345.5M196.3 187.1H345.5M196.3 196.3H345.5M196.3 205.6H345.5M196.3 214.8H345.5M196.3 224.1H345.5M196.3 233.3H345.5M196.3 242.6H345.5M196.3 251.8H345.5M196.3 261.1H345.5M203.3 173.1V267.1M213 173.1V267.1M222.6 173.1V267.1M232.3 173.1V267.1M242 173.1V267.1M251.6 173.1V267.1M261.3 173.1V267.1M271 173.1V267.1M280.6 173.1V267.1M290.3 173.1V267.1M300 173.1V267.1M309.6 173.1V267.1M319.3 173.1V267.1M329 173.1V267.1M338.6 173.1V267.1" stroke="#EFEFEF" stroke-width="0.5" fill="none"/>
<clipPath id="cD2"><rect x="196.3" y="173.1" width="149.2" height="94"/></clipPath>
<g clip-path="url(#cD2)">
<polyline points="203.3,180.6 203.3,178.4 203.9,179.4 204.6,180.2 204.9,180.9 205.2,179.8 205.9,184.5 206.5,187.1 206.7,188.9 207.2,191.7 207.8,197.2 208.5,196.8 208.8,199.4 209.1,200.7 209.7,192.1 210.4,190.7 211,189.7 211.2,190.2 211.7,201.2 212,208.7 212.3,207.2 213,204.4 213.3,207.4 213.6,209.7 214.3,217.8 214.6,222 214.9,220.4 215.5,219.7 215.9,220.5 216.2,221.3 216.8,226.5 217.5,232.9 218.1,235.7 218.6,238.9 218.8,238 219.4,244.1 220.1,245.3 220.7,246.8 221.2,250 221.3,249.7 222,253.5 222.5,251.8 222.6,253.6 223.3,252.6 223.8,257.4 223.9,260.3 224.6,259.1 225.2,260.3 225.7,260.3 225.9,259.1 226.5,257.3 227.1,250.8 227.8,245.7 227.8,247 228.4,247.4 229.1,250.6 229.7,254.4 229.9,253.7 230.4,251.4 231,251.9 231.7,249.8 231.7,251.1 232.3,253.9 232.9,259.7 232.9,259.8 233.6,259 234.2,249.9 234.9,247.3 235,247 235.5,249.7 236.2,248.6 236.8,253.8 237,251.8 237.5,250.7 238.1,246.9 238.7,243.5 238.7,244.4 239.4,244.4 240,238.7 240.4,237.7 240.7,242.7 241.3,242.8 242,241.6 242.1,244.4 242.6,243.1 243.3,235.9 243.9,231.7 244.2,233.9 244.5,235.3 245.2,226.5 245.8,231.1 246.2,225.9 246.5,228.5 247.1,233.2 247.4,232.6 247.8,227.1 248.4,224.9 249.1,214.5 249.2,214.1 249.7,209.4 250.3,210 251,208.3 251.5,204.8 251.6,205.5 252.3,201.4 252.8,198.2 252.9,195.8 253.6,198.3 254,200.7 254.2,203.2 254.9,195.9 255.5,190.2 256.1,185.9 256.1,187.6 256.8,188.6 257.4,182.9 257.9,186.3 258.1,183.7 258.7,187.6 259.2,191.5 259.4,190.6 260,188.8 260.7,185 261.3,183.1 261.9,182 261.9,183.2 262.6,188.3 263.2,191.3 263.2,191.5 263.9,194.2 264.5,199.9 265.2,199.8 265.8,200.8 265.8,203.5 266.5,206.6 267.1,206.4 267.7,208.1 268.4,209.8 268.5,210 269,213.2 269.7,213.2 270.3,216.4 271,216.1 271.1,219.2 271.6,221.9 272.3,226.6 272.9,226.9 273.5,228.9 273.7,229.8 274.2,230.1 274.8,233.5 275.5,234.6 276.1,241 276.4,239 276.8,241.3 277.4,237.8 277.7,243.1 278.1,242.3 278.7,243.9 279.3,245.6 280,251 280.3,249.8 280.6,253 281.3,256.9 281.9,256.3 282.4,259 282.6,259.4 283.2,263.5 283.4,262.9 283.8,261.2 284.5,257.6 285.1,258.6 285.6,256.2 285.8,258.3 286.4,259.6 286.9,262.3 287.1,262.7 287.7,256.4 288.4,255.2 288.7,252.4 289,252.9 289.6,251.6 290.3,248 290.8,249.8 290.9,249.4 291.6,247.2 292.2,243.8 292.9,238.4 292.9,241.8 293.5,243.1 294.2,235.8 294.8,238.3 295.4,235.5 295.6,237.7 296.1,237.5 296.7,238.7 297.4,240.6 298,239.4 298.2,239 298.7,240.6 299.3,234.8 300,231.1 300.6,230 300.6,229.8 301.2,232.1 301.9,233.5 302.5,232.2 303.2,236.1 303.2,236.4 303.8,232.7 304.5,228.7 304.8,224.6 305.1,223 305.8,221.5 306.4,221.7 307,217.4 307.7,218 307.9,219.2 308.3,219.8 309,220 309.6,219.3 310.3,217.8 310.6,219.2 310.9,220 311.6,216 312.2,217.9 312.8,214.3 313.2,215.4 313.5,214 314.1,214.6 314.8,211.4 315.4,212.8 316.1,218.1 316.7,212.8 317,214.1 317.4,214.7 318,213 318.6,214.6 319.3,208.7 319.8,210 319.9,209.5 320.6,205.6 321.2,211.8 321.9,209.8 321.9,208.1 322.5,209.5 323.2,216.5 323.6,214.1 323.8,213.8 324.4,212.9 325.1,215 325.7,213.2 326.4,214.1 326.4,212.8 327,213.2 327.7,216 328.3,221.7 329,221 329,217.9 329.6,217.4 330.2,216.4 330.9,217.1 331.5,215.4 331.5,214.1 332.2,218.5 332.8,218.4 333.5,220.2 334.1,218.9 334.8,219.7 334.8,220.2 335.4,220.1 336,216.1 336.7,218.5 337.3,218.8 338,217.7 338.1,215.4 338.6,219.1" stroke="#F2100C" stroke-width="0.7"/>
</g>
<path d="M203.3 173.1V267.1M222.6 173.1V267.1M242 173.1V267.1M261.3 173.1V267.1M280.6 173.1V267.1M300 173.1V267.1M319.3 173.1V267.1M338.6 173.1V267.1" stroke="#686868" stroke-width="0.55" fill="none"/>
<rect x="196.3" y="173.1" width="149.2" height="94" fill="none" stroke="#707070" stroke-width="0.65"/>
<g font-family="'Liberation Sans', sans-serif" font-size="4.6" fill="#6b6b6b">
<g text-anchor="middle"><text x="203.3" y="273.2">36</text><text x="222.6" y="273.2">48</text><text x="242" y="273.2">60</text><text x="261.3" y="273.2">72</text><text x="280.6" y="273.2">84</text><text x="300" y="273.2">96</text><text x="319.3" y="273.2">108</text><text x="338.6" y="273.2">120</text></g>
<g text-anchor="end"><text x="194.2" y="179.5">0.2</text><text x="194.2" y="198">0.1</text><text x="194.2" y="216.5">0.0</text><text x="194.2" y="235">-0.1</text><text x="194.2" y="253.5">-0.2</text></g>
</g>
<g font-family="'Liberation Sans', sans-serif" font-size="6.0" fill="#111" text-anchor="middle">
<text x="270.9" y="279.4">Time (h)</text>
<text transform="translate(184.5 220.1) rotate(-90)">Detrended luminescence</text>
</g>
<!-- panel D3 -->
<rect x="365.7" y="173.1" width="149.8" height="94" fill="#E7E7E7"/>
<path d="M365.7 183.8H515.5M365.7 196.6H515.5M365.7 209.4H515.5M365.7 222.2H515.5M365.7 235.1H515.5M365.7 247.9H515.5M365.7 260.7H515.5M372.6 173.1V267.1M382.3 173.1V267.1M392 173.1V267.1M401.7 173.1V267.1M411.4 173.1V267.1M421.1 173.1V267.1M430.8 173.1V267.1M440.5 173.1V267.1M450.2 173.1V267.1M459.9 173.1V267.1M469.6 173.1V267.1M479.3 173.1V267.1M489 173.1V267.1M498.7 173.1V267.1M508.4 173.1V267.1" stroke="#EFEFEF" stroke-width="0.5" fill="none"/>
<clipPath id="cD3"><rect x="365.7" y="173.1" width="149.8" height="94"/></clipPath>
<g clip-path="url(#cD3)">
<polyline points="372.6,251.4 372.6,253.5 373.2,249.4 373.9,246.4 374.2,244.3 374.5,243.9 375.2,243.9 375.8,246.6 376.3,241.2 376.5,241.9 377.1,240.6 377.8,245.7 378.1,245.6 378.4,242.8 379.1,245.1 379.7,250.8 380,251 380.4,249.9 381,245.8 381.5,244.3 381.7,248.2 382.3,241.9 382.8,238.9 382.9,240.1 383.6,246.3 384.2,253.5 384.2,252.2 384.9,248.3 385.5,248.8 386,243 386.2,242.3 386.8,244.6 387.5,244.4 387.8,244.3 388.1,247.1 388.8,250.5 389.1,253.5 389.4,254.1 390.1,259.1 390.5,262.8 390.7,262 391.4,255.2 392,252.1 392,249.7 392.6,251.5 393.3,251.9 393.9,254.5 393.9,254.8 394.6,252.6 395.2,252.8 395.7,249.7 395.9,251.2 396.5,249.4 397.2,254.1 397.8,250.6 398.3,251 398.5,249.4 399.1,251.4 399.8,243.8 400.4,242.7 401.1,241 401.1,238.9 401.7,237.2 402.3,234.8 402.5,235.1 403,235.4 403.6,239.2 403.8,238.9 404.3,238.7 404.9,235.3 405.6,233.4 405.7,233.8 406.2,235.8 406.9,235.2 407.4,237.6 407.5,238 408.2,233 408.8,230.8 409.1,229.7 409.5,234.5 410.1,231.6 410.8,234.4 410.9,235.1 411.4,232.7 412,226.6 412.7,224.5 412.9,224.5 413.3,222 414,220.4 414.6,219.5 415,216.6 415.3,219.3 415.9,220.6 416.6,222.3 416.7,223.3 417.2,219.1 417.9,214.6 418.5,207.8 418.8,208.6 419.2,208.7 419.8,201.8 420.5,205.5 420.9,202 421.1,203.3 421.7,204.3 422.2,206.1 422.4,203.7 423,200.2 423.7,200 424.2,198.1 424.3,198.1 425,192.6 425.6,190.2 426.3,188.3 426.3,190.2 426.9,187.7 427.6,188.6 428.1,184.8 428.2,184.6 428.9,179 429.5,181.9 429.8,179.6 430.2,178.7 430.6,177.6 430.8,178.1 431.4,183.5 431.9,184.8 432.1,187.6 432.7,185.9 433.4,185.2 434,191.3 434,188.9 434.7,189.7 435.3,192.9 436,196.7 436.6,193.5 436.8,196.6 437.3,195.7 437.9,198.2 438.6,199.2 439.2,202 439.4,202 439.9,202.1 440.5,209.7 441.1,209.7 441.8,213.3 442,214 442.4,212.1 443.1,218 443.7,219.1 443.9,219.1 444.4,222.6 445,224.2 445.7,228.9 446.3,230 446.5,231.2 447,233 447.6,236.7 448.3,234.8 448.9,240.1 449.1,241.7 449.6,242.5 450.2,242.5 450.8,248.4 451,248.4 451.5,252.2 452.1,252.8 452.5,254.8 452.8,252.1 453.4,250.7 454.1,250.4 454.4,249.7 454.7,248.9 455.4,247 456,240.9 456.2,243 456.7,242.9 457.3,246.6 457.8,248.4 458,247.6 458.6,247.7 459.3,241.4 459.6,238.9 459.9,235.4 460.5,236.3 461.2,238.4 461.5,235.1 461.8,235.3 462.5,228.5 463,228.4 463.1,231.3 463.8,231.5 464.4,230.9 464.9,233.8 465.1,233.8 465.7,231.9 466.4,233.4 467,228.8 467.5,229.7 467.7,230.8 468.3,228.7 469,228.2 469.6,223.8 470.1,225.8 470.2,222.5 470.9,219.2 471.5,222.8 472.2,221.6 472.8,224.7 472.8,223.3 473.5,222.9 474.1,220.5 474.6,219.1 474.8,220 475.4,218.1 476.1,216.8 476.7,216.7 476.7,216.6 477.4,211.5 478,213.8 478.7,211.1 478.8,212.5 479.3,214.7 479.9,213.1 480.6,211.3 481.2,214 481.9,209.8 481.9,211.2 482.5,210.9 483.2,208.4 483.8,209.3 484.5,209.8 484.6,209.4 485.1,210.6 485.8,210.7 486.4,209.3 487.1,211.9 487.2,212.5 487.7,211.6 488.4,213.1 489,210.9 489.6,209 490.3,204 490.3,207.3 490.9,209.6 491.6,206.8 492.2,209.1 492.9,209.7 493.5,210.4 493.9,208.6 494.2,206.4 494.8,211.8 495.5,209.5 496.1,208 496.4,209.9 496.8,209.2 497.4,213 498.1,213 498.5,216.6 498.7,213.6 499.3,216.1 500,213.5 500.6,212.2 500.8,211.2 501.3,209 501.9,209.6 502.6,208.6 503.2,208.8 503.6,208.6 503.9,208.1 504.5,213.2 505.2,212.4 505.7,214.8 505.8,213.1 506.5,211.8 507.1,210.7 507.8,211 507.8,209.9 508.4,210.6" stroke="#F2100C" stroke-width="0.7"/>
</g>
<path d="M372.6 173.1V267.1M392 173.1V267.1M411.4 173.1V267.1M430.8 173.1V267.1M450.2 173.1V267.1M469.6 173.1V267.1M489 173.1V267.1M508.4 173.1V267.1" stroke="#686868" stroke-width="0.55" fill="none"/>
<rect x="365.7" y="173.1" width="149.8" height="94" fill="none" stroke="#707070" stroke-width="0.65"/>
<g font-family="'Liberation Sans', sans-serif" font-size="4.6" fill="#6b6b6b">
<g text-anchor="middle"><text x="372.6" y="273.2">36</text><text x="392" y="273.2">48</text><text x="411.4" y="273.2">60</text><text x="430.8" y="273.2">72</text><text x="450.2" y="273.2">84</text><text x="469.6" y="273.2">96</text><text x="489" y="273.2">108</text><text x="508.4" y="273.2">120</text></g>
<g text-anchor="end"><text x="363.6" y="185.4">0.1</text><text x="363.6" y="211.1">0.0</text><text x="363.6" y="236.7">-0.1</text><text x="363.6" y="262.4">-0.2</text></g>
</g>
<g font-family="'Liberation Sans', sans-serif" font-size="6.0" fill="#111" text-anchor="middle">
<text x="440.6" y="279.4">Time (h)</text>
<text transform="translate(353.7 220.1) rotate(-90)">Detrended luminescence</text>
</g>
<!-- panel D4 -->
<rect x="537.6" y="173.1" width="147" height="94" fill="#E7E7E7"/>
<path d="M537.6 176.2H684.6M537.6 184.9H684.6M537.6 193.6H684.6M537.6 202.3H684.6M537.6 211H684.6M537.6 219.7H684.6M537.6 228.4H684.6M537.6 237.1H684.6M537.6 245.8H684.6M537.6 254.6H684.6M537.6 263.3H684.6M544.4 173.1V267.1M553.9 173.1V267.1M563.4 173.1V267.1M572.9 173.1V267.1M582.5 173.1V267.1M592 173.1V267.1M601.5 173.1V267.1M611 173.1V267.1M620.5 173.1V267.1M630 173.1V267.1M639.5 173.1V267.1M649.1 173.1V267.1M658.6 173.1V267.1M668.1 173.1V267.1M677.6 173.1V267.1" stroke="#EFEFEF" stroke-width="0.5" fill="none"/>
<clipPath id="cD4"><rect x="537.6" y="173.1" width="147" height="94"/></clipPath>
<g clip-path="url(#cD4)">
<polyline points="544.4,234.4 544.4,234.7 545,232.9 545.7,227.5 545.7,228.1 546.3,227.2 546.9,224.8 547.1,226 547.6,225.9 548.2,229.9 548.8,229.7 548.8,230.2 549.5,237.9 550.1,243 550.1,242.4 550.7,241.9 551.4,240.2 552,244.2 552.3,243.8 552.6,244.1 553.3,244.9 553.9,248.6 554.4,249 554.5,247.6 555.2,251.2 555.8,252.8 556.3,254.2 556.5,253.3 557.1,254 557.7,257.3 558,255.6 558.4,256.3 559,255.4 559.6,257.2 559.6,259.4 560.3,259.8 560.9,262.6 561.5,263.6 561.5,261.9 562.2,262.9 562.8,257.7 563.3,258.7 563.4,259.3 564.1,256.5 564.7,256.5 565.3,256.2 565.3,254.2 566,250.9 566.6,252.2 567.2,254 567.9,247.1 568,249 568.5,247.2 569.1,248 569.8,248.2 570.4,245.3 570.7,243.8 571,243.9 571.7,243.3 572.3,238.4 572.9,237.6 573.3,238.5 573.6,236.5 574.2,236 574.8,236.7 575.5,232.1 576,233.3 576.1,232.3 576.7,232.9 577.4,231.7 578,230.4 578.5,230.2 578.7,230.4 579.3,229.8 579.9,230.3 580.6,232.5 581.2,231.1 581.2,231.9 581.8,230 582.5,231.5 582.9,234.7 583.1,234.3 583.7,234.1 584.4,234.5 585,230.8 585.2,229.5 585.6,230.7 586.3,230.1 586.9,231.3 587.5,229.6 587.7,230.9 588.2,227.6 588.8,227.9 589.4,227.5 590.1,222.5 590.4,222.8 590.7,222.2 591.3,220.7 592,219.7 592.1,219.7 592.6,222.1 593.2,225 593.9,230.3 594.3,228.8 594.5,228.2 595.1,227.9 595.8,228.2 596.4,222.2 596.9,222.8 597,222.2 597.7,221.7 598.3,222.2 598.9,222.9 599.6,218 600.1,220.8 600.2,220.4 600.9,222.4 601.5,223 602.1,218.8 602.8,214.9 603.4,215.5 603.5,216.6 604,215 604.7,216.7 605.3,214.4 605.9,211.5 606.1,213.8 606.6,214.6 607.2,216.5 607.8,216 608.5,216.4 608.8,217.3 609.1,215.7 609.7,215.2 610.4,213.4 611,209.3 611.3,210 611.6,206.7 612.3,207.9 612.9,209.2 613.2,208.2 613.5,205.1 614.2,202.8 614.8,200.1 615.3,197.1 615.4,194.9 616.1,191 616.5,189 616.7,188.6 617.3,191.1 618,185.6 618.5,185.2 618.6,184.7 619.2,185.5 619.9,183.1 620,183.8 620.5,180.8 621.1,181.8 621.8,178.3 621.8,178.6 622.4,181.5 623.1,183.4 623.2,182.8 623.7,184.4 624.3,187 624.5,186.6 625,186.1 625.6,188 626.2,185.8 626.4,185.2 626.9,183.3 627.5,188.3 627.8,189 628.1,191 628.8,194.4 629.4,198.3 629.7,202.3 630,200.7 630.7,199.9 631.3,199.6 631.6,198.1 631.9,198.9 632.6,202.3 633.2,207.1 633.7,212.4 633.8,214.9 634.5,218.5 635.1,220.1 635.7,222.6 635.7,224.2 636.4,227.9 637,231.3 637.6,231.1 637.6,236.1 638.3,233.4 638.9,234.6 638.9,233.3 639.5,236.6 640.2,245.9 640.5,249 640.8,249.2 641.4,253 642.1,260.6 642.1,258 642.7,253.2 643.3,256.5 644,254.9 644.1,252.8 644.6,252.2 645.3,248 645.9,250.3 646.5,247.8 646.8,247.6 647.2,245.7 647.8,246 648.4,244.7 649.1,243.2 649.4,242.4 649.7,241.6 650.3,239.2 651,241.5 651.6,237.2 652.1,236.1 652.2,238.2 652.9,234.5 653.5,233.1 654.1,235 654.6,233.3 654.8,233.9 655.4,232.7 656,234 656.7,229.7 657.3,230.3 657.3,229.5 657.9,226.7 658.6,225.5 659.2,225.7 659.8,224.9 659.8,224.2 660.5,225.3 661.1,226.7 661.7,227 662.4,225.6 662.5,227 663,226 663.6,224.2 664.3,218.2 664.6,219 664.9,217.7 665.5,222.2 666.2,220.4 666.5,222.8 666.8,223.7 667.5,218.9 668.1,218.7 668.7,216.2 669,217.3 669.4,218.1 670,218.7 670.6,217.1 671.3,219.7 671.7,219 671.9,218.8 672.5,218.1 673.2,220.8 673.8,219.4 673.8,220.4 674.4,218.8 675.1,215.2 675.7,212.3 675.7,212 676.3,216.4 677,215.4 677.3,215.2 677.6,214.9" stroke="#F2100C" stroke-width="0.7"/>
</g>
<path d="M544.4 173.1V267.1M563.4 173.1V267.1M582.5 173.1V267.1M601.5 173.1V267.1M620.5 173.1V267.1M639.5 173.1V267.1M658.6 173.1V267.1M677.6 173.1V267.1" stroke="#686868" stroke-width="0.55" fill="none"/>
<rect x="537.6" y="173.1" width="147" height="94" fill="none" stroke="#707070" stroke-width="0.65"/>
<g font-family="'Liberation Sans', sans-serif" font-size="4.6" fill="#6b6b6b">
<g text-anchor="middle"><text x="544.4" y="273.2">36</text><text x="563.4" y="273.2">48</text><text x="582.5" y="273.2">60</text><text x="601.5" y="273.2">72</text><text x="620.5" y="273.2">84</text><text x="639.5" y="273.2">96</text><text x="658.6" y="273.2">108</text><text x="677.6" y="273.2">120</text></g>
<g text-anchor="end"><text x="535.5" y="177.8">0.10</text><text x="535.5" y="195.2">0.05</text><text x="535.5" y="212.7">0.00</text><text x="535.5" y="230.1">-0.05</text><text x="535.5" y="247.5">-0.10</text><text x="535.5" y="264.9">-0.15</text></g>
</g>
<g font-family="'Liberation Sans', sans-serif" font-size="6.0" fill="#111" text-anchor="middle">
<text x="611.1" y="279.4">Time (h)</text>
<text transform="translate(524.2 220.1) rotate(-90)">Detrended luminescence</text>
</g>
<!-- panel E -->
<rect x="36.4" y="316.5" width="184" height="115" fill="#E7E7E7"/>
<path d="M104.6 316.5V431.5M110.6 316.5V431.5M116.6 316.5V431.5M122.6 316.5V431.5M128.6 316.5V431.5M134.6 316.5V431.5M140.6 316.5V431.5M146.5 316.5V431.5M152.5 316.5V431.5M158.5 316.5V431.5M164.5 316.5V431.5M170.5 316.5V431.5M176.5 316.5V431.5M182.5 316.5V431.5M188.5 316.5V431.5M194.5 316.5V431.5M200.5 316.5V431.5M206.5 316.5V431.5M212.5 316.5V431.5M218.5 316.5V431.5M36.4 322.5H220.4M36.4 335.6H220.4M36.4 348.7H220.4M36.4 361.8H220.4M36.4 374.9H220.4M36.4 388H220.4M36.4 401.1H220.4M36.4 414.2H220.4M36.4 427.3H220.4M38.6 316.5V431.5M44.6 316.5V431.5M50.6 316.5V431.5M56.6 316.5V431.5M62.6 316.5V431.5M68.6 316.5V431.5M74.6 316.5V431.5M80.6 316.5V431.5M86.6 316.5V431.5M92.6 316.5V431.5M98.6 316.5V431.5" stroke="#EFEFEF" stroke-width="0.5" fill="none"/>
<clipPath id="cE"><rect x="36.4" y="316.5" width="184" height="115"/></clipPath>
<g clip-path="url(#cE)">
<polyline points="57.6,422.1 58.6,415.9 59.6,409.8 60.6,403.7 61.6,397.2 62.6,390.6 63.6,378.7 64.6,366.8 65.6,354.9 66.6,358.7 67.6,361.3 68.6,362.4 69.6,362.9 70.6,367 71.6,368.2 72.6,363.7 73.6,367.8 74.6,364.4 75.6,367.6 76.6,371.7 77.6,370.9 78.6,369.6 79.6,371.6 80.6,370.7 81.6,372.3 82.6,371 83.6,371.7 84.6,373.2 85.6,374.4 86.6,372 87.6,374.3 88.6,373.9 89.6,374.4 90.6,374.7 91.6,374.7 92.6,374.3 93.6,373.3 94.6,373.6 95.6,374.4 96.6,374.8 97.6,376.3 98.6,375.9 99.6,377.2 100.6,376.7 101.6,377.1 102.6,378.5 103.6,377.7 104.6,376 105.6,375.4 106.6,375 107.6,377.7 108.6,377.7 109.6,377.3 110.6,378.3 111.6,377.5 112.6,375.7 113.6,377 114.6,377.1 115.6,378.7 116.6,380 117.6,381.2 118.6,382.3 119.6,381.8 120.6,386.4 121.6,388.4 122.6,391.3 123.6,396 124.6,402.9 125.6,409 126.6,409.8 127.6,409.9 128.6,405 129.6,398.4 130.6,392.1 131.6,385.8 132.6,378.7 133.6,367.6 134.6,353.2 135.6,341.9 136.6,329.1 137.6,322.5 138.6,322.5 139.6,322.5 140.6,324.4 141.6,329.3 142.6,331 143.6,330.9 144.6,331.5 145.5,335.9 146.5,337.9 147.5,342.8 148.5,348.5 149.5,354.5 150.5,360.3 151.5,366.2 152.5,370.6 153.5,380 154.5,381 155.5,381.7 156.5,386.2 157.5,387.7 158.5,389.5 159.5,393.9 160.5,400.3 161.5,405.4 162.5,405.7 163.5,406.5 164.5,407.4 165.5,404.9 166.5,402.9 167.5,403.6 168.5,402.5 169.5,398.8 170.5,396.7 171.5,391.3 172.5,388.7 173.5,383.2 174.5,377.6 175.5,372 176.5,366.6 177.5,368.4 178.5,369.8 179.5,370.5 180.5,370.3 181.5,370.8 182.5,369.7 183.5,371 184.5,372.7 185.5,372.7 186.5,373 187.5,373.5 188.5,373.8 189.5,371.5 190.5,371 191.5,373 192.5,373.7 193.5,375 194.5,373.1 195.5,372.8 196.5,373.9 197.5,374.1 198.5,372.5 199.5,371.5 200.5,372.1 201.5,371.3 202.5,372.6 203.5,372.3 204.5,374.1 205.5,374.9 206.5,373.7 207.5,373 208.5,373.4 209.5,372.5 210.5,370.8 211.5,370.7 212.5,371.3" stroke="#F8766D" stroke-width="0.75"/>
<polyline points="57.6,368.9 58.6,371.8 59.6,367.7 60.6,352 61.6,364.3 62.6,373 63.6,380.7 64.6,367.5 65.6,365.1 66.6,363.8 67.6,363.1 68.6,370.1 69.6,374.1 70.6,377 71.6,380.7 72.6,376.5 73.6,375.1 74.6,377.9 75.6,372.8 76.6,376.9 77.6,380.8 78.6,382.2 79.6,378.8 80.6,380 81.6,381.4 82.6,380.8 83.6,383.9 84.6,386.1 85.6,386.4 86.6,386.5 87.6,386.2 88.6,388.5 89.6,385.5 90.6,387.7 91.6,389.7 92.6,390.5 93.6,389.2 94.6,386.8 95.6,390.5 96.6,390.4 97.6,389 98.6,390.2 99.6,389 100.6,392.1 101.6,391 102.6,392.5 103.6,391.1 104.6,390.8 105.6,390.8 106.6,393.6 107.6,392.2 108.6,391.8 109.6,390.5 110.6,390.8 111.6,391.9 112.6,393.9 113.6,393.8 114.6,395.4 115.6,399.8 116.6,399.3 117.6,399.5 118.6,401.9 119.6,406.8 120.6,412.9 121.6,413.7 122.6,418.6 123.6,417.8 124.6,418.4 125.6,412.6 126.6,404.6 127.6,398.3 128.6,389.9 129.6,384.4 130.6,376.9 131.6,362.6 132.6,349.3 133.6,340 134.6,333.2 135.6,333.1 136.6,328.3 137.6,322.5 138.6,324.2 139.6,322.5 140.6,322.5 141.6,322.5 142.6,322.5 143.6,325.4 144.6,329.1 145.5,334.6 146.5,340.1 147.5,342.3 148.5,347.6 149.5,352.3 150.5,359.1 151.5,370.3 152.5,377.9 153.5,384.3 154.5,388.4 155.5,398.9 156.5,401.3 157.5,397.8 158.5,392.7 159.5,391 160.5,392.3 161.5,392.9 162.5,397.1 163.5,400.7 164.5,406.6 165.5,410.3 166.5,411.9 167.5,417.3 168.5,413.9 169.5,409.6 170.5,404.7 171.5,398.6 172.5,390.9 173.5,414 174.5,418.2 175.5,420.9 176.5,422.7 177.5,424.3 178.5,424.4 179.5,423.1 180.5,420.3 181.5,416.1 182.5,412.4 183.5,409.5 184.5,405.7 185.5,401.6 186.5,397.7 187.5,393.7 188.5,389.4 189.5,386.7 190.5,383.6 191.5,379.6 192.5,376.8 193.5,376.1 194.5,376.5 195.5,375.9 196.5,374.7 197.5,374 198.5,373.7 199.5,372.6 200.5,371.5 201.5,370.6 202.5,371.1 203.5,371.3 204.5,370.4 205.5,370.6 206.5,370.2 207.5,368.6 208.5,368.4 209.5,369.6 210.5,370.4 211.5,370.7 212.5,370.5" stroke="#F37C57" stroke-width="0.75"/>
<polyline points="57.6,390.7 58.6,370.2 59.6,337.9 60.6,343.7 61.6,353.9 62.6,377.7 63.6,380.2 64.6,370 65.6,359.1 66.6,360.7 67.6,377.1 68.6,377.8 69.6,374.7 70.6,372.3 71.6,373.1 72.6,374.2 73.6,377.3 74.6,380.9 75.6,377.8 76.6,375.5 77.6,378.7 78.6,381.6 79.6,380.2 80.6,379.7 81.6,379.6 82.6,381.9 83.6,382.3 84.6,383 85.6,382.3 86.6,382.7 87.6,380.4 88.6,380.9 89.6,384.3 90.6,383.2 91.6,384.2 92.6,383.5 93.6,382.3 94.6,382.9 95.6,383.5 96.6,381.9 97.6,383 98.6,384 99.6,383 100.6,383.6 101.6,383.9 102.6,382.2 103.6,384 104.6,384.9 105.6,382.4 106.6,382.3 107.6,383.2 108.6,382.5 109.6,384.4 110.6,383.2 111.6,381.3 112.6,384.7 113.6,384.6 114.6,387 115.6,387.8 116.6,387 117.6,386.9 118.6,387.2 119.6,385.3 120.6,377.9 121.6,373.9 122.6,366 123.6,359.4 124.6,350.5 125.6,343 126.6,340.9 127.6,339.4 128.6,335.5 129.6,332.3 130.6,331.4 131.6,333.5 132.6,330.1 133.6,328 134.6,331.6 135.6,339.6 136.6,342.9 137.6,349.4 138.6,354.1 139.6,358.5 140.6,363.2 141.6,369.7 142.6,375.8 143.6,379.2 144.6,383.8 145.5,391.5 146.5,398.4 147.5,406 148.5,406.9 149.5,406.2 150.5,408.9 151.5,413 152.5,417.2 153.5,418.1 154.5,423.9 155.5,427.3 156.5,427.3 157.5,425.6 158.5,420.1 159.5,413.1 160.5,404.1 161.5,394.8 162.5,388.1 163.5,381.2 164.5,372.5 165.5,368.6 166.5,366.9 167.5,366.6 168.5,363.9 169.5,367 170.5,370.1 171.5,371.9 172.5,370.4 173.5,372 174.5,373.5 175.5,371.1 176.5,370.3 177.5,370.8 178.5,371.2 179.5,369.8 180.5,371.5 181.5,372.3 182.5,371.9 183.5,371.3 184.5,371.5 185.5,371.6 186.5,371.4 187.5,372.2 188.5,370.4 189.5,369.9 190.5,369.9 191.5,370.9 192.5,371.1 193.5,369.6 194.5,369.3 195.5,370.9 196.5,369.5 197.5,367.7 198.5,369 199.5,369.3 200.5,369.3 201.5,370.4 202.5,370.9 203.5,370.4 204.5,368.6 205.5,368 206.5,369.4 207.5,369.6 208.5,367.3 209.5,367.8 210.5,369.3 211.5,369.6 212.5,369.6" stroke="#EC823C" stroke-width="0.75"/>
<polyline points="57.6,403.1 58.6,388.3 59.6,365.3 60.6,351.7 61.6,352.3 62.6,332 63.6,328.4 64.6,344.4 65.6,350.7 66.6,344.3 67.6,349.6 68.6,345.8 69.6,345.6 70.6,352.1 71.6,356.3 72.6,358.3 73.6,353 74.6,361.9 75.6,358.6 76.6,357.4 77.6,355.2 78.6,357.2 79.6,359.2 80.6,358.6 81.6,356.4 82.6,359 83.6,360.5 84.6,362 85.6,363.1 86.6,362.6 87.6,362.3 88.6,362.1 89.6,363.1 90.6,365.5 91.6,366.3 92.6,368.3 93.6,368.6 94.6,371.5 95.6,373.9 96.6,375.1 97.6,375.4 98.6,373.9 99.6,370.9 100.6,364.3 101.6,360.6 102.6,355.3 103.6,350.9 104.6,341 105.6,334.6 106.6,327.5 107.6,324.1 108.6,322.5 109.6,326.4 110.6,323.6 111.6,322.5 112.6,323.5 113.6,322.5 114.6,327.8 115.6,331.8 116.6,336.4 117.6,339 118.6,345.9 119.6,348.1 120.6,353.5 121.6,359.6 122.6,367.9 123.6,378 124.6,385.2 125.6,387.5 126.6,392.6 127.6,401.4 128.6,406.8 129.6,408.4 130.6,412 131.6,411.1 132.6,412.4 133.6,412.7 134.6,414.2 135.6,421.9 136.6,424.7 137.6,422.9 138.6,427.3 139.6,427.3 140.6,425.4 141.6,425 142.6,421.9 143.6,422.2 144.6,413.5 145.5,403.1 146.5,396.5 147.5,385.7 148.5,371.1 149.5,356.5 150.5,343.8 151.5,330.8 152.5,324.5 153.5,324.1 154.5,327.3 155.5,328.1 156.5,325.8 157.5,322.5 158.5,322.5 159.5,324.4 160.5,327.1 161.5,337.4 162.5,346.2 163.5,349.6 164.5,357.3 165.5,362.8 166.5,368.7 167.5,372.7 168.5,373.6 169.5,375.9 170.5,375.1 171.5,375.4 172.5,374.4 173.5,374.2 174.5,376.2 175.5,375.4 176.5,374.8 177.5,372.3 178.5,374.7 179.5,374.8 180.5,374.7 181.5,373.9 182.5,374.3 183.5,380.1 184.5,378 185.5,378.8 186.5,380.2 187.5,384.5 188.5,387.3 189.5,390 190.5,390.9 191.5,391.6 192.5,391.5 193.5,395.1 194.5,400.8 195.5,399.2 196.5,397.4 197.5,398.3 198.5,399.6 199.5,404.4 200.5,403.9 201.5,399.8 202.5,396.9 203.5,394 204.5,391 205.5,389.6 206.5,391 207.5,389.5 208.5,389.6 209.5,389.5 210.5,386.7 211.5,382.2 212.5,380.5" stroke="#E58705" stroke-width="0.75"/>
<polyline points="57.6,401 58.6,370.8 59.6,360.7 60.6,372.2 61.6,383.8 62.6,393.4 63.6,377.7 64.6,373.8 65.6,369.6 66.6,360.3 67.6,368.2 68.6,372.9 69.6,369.4 70.6,375.2 71.6,373.5 72.6,376.3 73.6,376.5 74.6,376.4 75.6,372 76.6,374 77.6,374.9 78.6,376.9 79.6,375.8 80.6,375.8 81.6,375.2 82.6,375.1 83.6,378 84.6,377.9 85.6,376.7 86.6,375.1 87.6,377.5 88.6,379.8 89.6,380.8 90.6,383.2 91.6,382.5 92.6,383.3 93.6,384.1 94.6,385.6 95.6,385.4 96.6,386.5 97.6,386.1 98.6,386.1 99.6,384.3 100.6,385.2 101.6,385.6 102.6,388.3 103.6,388.7 104.6,389.4 105.6,388.5 106.6,388.4 107.6,391.1 108.6,389.2 109.6,390.2 110.6,393.1 111.6,395.3 112.6,401 113.6,404.8 114.6,407.7 115.6,410.5 116.6,413.1 117.6,416 118.6,414.8 119.6,411.7 120.6,408.6 121.6,403.4 122.6,401.2 123.6,398.5 124.6,392.6 125.6,385.5 126.6,377.4 127.6,365.3 128.6,354.9 129.6,344.6 130.6,333.8 131.6,330.2 132.6,325.9 133.6,326 134.6,322.5 135.6,325.3 136.6,333.6 137.6,335.6 138.6,333.7 139.6,329.6 140.6,332.7 141.6,333.3 142.6,336.7 143.6,342.7 144.6,348.1 145.5,354.1 146.5,355.2 147.5,358 148.5,360.5 149.5,365.6 150.5,371.4 151.5,374.1 152.5,378.3 153.5,383.4 154.5,387.4 155.5,393 156.5,394.2 157.5,395.8 158.5,398.1 159.5,399.6 160.5,401.9 161.5,404.2 162.5,407.3 163.5,409.7 164.5,414.6 165.5,415.2 166.5,416.6 167.5,421.9 168.5,424.5 169.5,420.4 170.5,415.9 171.5,408.1 172.5,399.8 173.5,393.8 174.5,387.5 175.5,379.2 176.5,369.4 177.5,363.9 178.5,363.3 179.5,361.2 180.5,363.6 181.5,364.2 182.5,365.6 183.5,368.7 184.5,371.8 185.5,373.1 186.5,372.2 187.5,373.8 188.5,374 189.5,373.8 190.5,375.2 191.5,374.7 192.5,375.5 193.5,373.9 194.5,374.8 195.5,375.5 196.5,375.5 197.5,374.6 198.5,376.3 199.5,375.4 200.5,375.8 201.5,375.5 202.5,377.2 203.5,376.7 204.5,374.7 205.5,375.6 206.5,377.6 207.5,377.7 208.5,376.4 209.5,376.5 210.5,375.9 211.5,374.9 212.5,373.8" stroke="#DD8D00" stroke-width="0.75"/>
<polyline points="57.6,382.3 58.6,370.8 59.6,367.2 60.6,356.3 61.6,348.9 62.6,346.4 63.6,334.9 64.6,340.2 65.6,358.5 66.6,358.5 67.6,350.8 68.6,353.3 69.6,359.5 70.6,363.6 71.6,360.6 72.6,361.1 73.6,358.1 74.6,366.9 75.6,371 76.6,371.3 77.6,370.3 78.6,369.9 79.6,374.2 80.6,375.5 81.6,374.5 82.6,375.9 83.6,377.1 84.6,379.9 85.6,380.6 86.6,381.3 87.6,383.3 88.6,383 89.6,383.1 90.6,383.7 91.6,382.3 92.6,383.4 93.6,383.5 94.6,385.1 95.6,389.3 96.6,388.4 97.6,387.6 98.6,386.6 99.6,388.3 100.6,390.4 101.6,389.3 102.6,389.4 103.6,391.2 104.6,394 105.6,397.6 106.6,397.7 107.6,401.5 108.6,404.2 109.6,407.3 110.6,408.5 111.6,410.9 112.6,412.2 113.6,413.9 114.6,413.5 115.6,417.8 116.6,416.4 117.6,412.8 118.6,401.5 119.6,388.3 120.6,379.1 121.6,365.8 122.6,352.3 123.6,343.2 124.6,335.7 125.6,328.3 126.6,325.3 127.6,325 128.6,324.8 129.6,323.6 130.6,323 131.6,325 132.6,322.5 133.6,322.5 134.6,322.5 135.6,322.5 136.6,329.3 137.6,337.9 138.6,338.1 139.6,339.4 140.6,343 141.6,346.3 142.6,354 143.6,359 144.6,363.5 145.5,360.8 146.5,362.7 147.5,365.8 148.5,371.4 149.5,377.9 150.5,382 151.5,384.3 152.5,379.3 153.5,376.9 154.5,378.5 155.5,386.4 156.5,397.5 157.5,404.1 158.5,408.2 159.5,411.2 160.5,414.5 161.5,414.2 162.5,416.8 163.5,415.4 164.5,415 165.5,416.3 166.5,414.4 167.5,415.5 168.5,416.1 169.5,409.9 170.5,407.7 171.5,409.5 172.5,399.9 173.5,390.9 174.5,396.8 175.5,401.8 176.5,403.8 177.5,404.3 178.5,406.3 179.5,409.8 180.5,412.7 181.5,413.4 182.5,411.9 183.5,410.1 184.5,407 185.5,404.6 186.5,402 187.5,399.1 188.5,395.7 189.5,391.5 190.5,388.1 191.5,386.3 192.5,384.5 193.5,383.7 194.5,381.9 195.5,378.5 196.5,376 197.5,375.7 198.5,376.2 199.5,374.2 200.5,372.9 201.5,372.3 202.5,372.1 203.5,372.4 204.5,373.5 205.5,373.9 206.5,372.6 207.5,372.3 208.5,372.7 209.5,373.4 210.5,374.1 211.5,372.8 212.5,372.1" stroke="#D49200" stroke-width="0.75"/>
<polyline points="57.6,371.2 58.6,378.1 59.6,386.7 60.6,370.1 61.6,357.5 62.6,374.7 63.6,372.2 64.6,368.9 65.6,379.1 66.6,376.9 67.6,370.6 68.6,372.7 69.6,373.7 70.6,379.6 71.6,375.3 72.6,373.7 73.6,376.1 74.6,370.3 75.6,378.6 76.6,377.6 77.6,376.4 78.6,375.9 79.6,376.9 80.6,377.3 81.6,383 82.6,382.5 83.6,381.3 84.6,382.6 85.6,378.3 86.6,381.7 87.6,382.6 88.6,384.8 89.6,387.3 90.6,388.8 91.6,385.5 92.6,384.7 93.6,384.4 94.6,387.2 95.6,386.9 96.6,387.6 97.6,387.5 98.6,389.1 99.6,390.4 100.6,391.3 101.6,391.2 102.6,392.2 103.6,390.9 104.6,393 105.6,395.9 106.6,395 107.6,394.1 108.6,395.4 109.6,395.8 110.6,396.7 111.6,402.8 112.6,404.2 113.6,405.1 114.6,408.3 115.6,413.6 116.6,416.3 117.6,420.7 118.6,423.8 119.6,417.1 120.6,413.1 121.6,400 122.6,383.5 123.6,372.9 124.6,364.2 125.6,347.2 126.6,336.8 127.6,324.3 128.6,322.5 129.6,322.5 130.6,322.5 131.6,323.1 132.6,323.5 133.6,325.6 134.6,322.5 135.6,323.9 136.6,329.6 137.6,338 138.6,349.4 139.6,356.5 140.6,360.8 141.6,367 142.6,377.1 143.6,376.6 144.6,375.8 145.5,376.8 146.5,377.7 147.5,381.1 148.5,387.7 149.5,392.9 150.5,396.9 151.5,404.8 152.5,413.4 153.5,421 154.5,424.5 155.5,426.5 156.5,427.3 157.5,423.2 158.5,420.4 159.5,419.7 160.5,417.7 161.5,417.7 162.5,413.4 163.5,403.8 164.5,398.6 165.5,389 166.5,374.4 167.5,357.1 168.5,342.9 169.5,333.9 170.5,332.5 171.5,335.9 172.5,334.2 173.5,335.2 174.5,335.9 175.5,338.7 176.5,341.4 177.5,345.1 178.5,354.7 179.5,360.6 180.5,364.7 181.5,365.5 182.5,366.4 183.5,368.1 184.5,370.9 185.5,372.7 186.5,373.2 187.5,374.3 188.5,372.9 189.5,375.4 190.5,372.8 191.5,374.1 192.5,375.9 193.5,375.5 194.5,376.2 195.5,376 196.5,375.4 197.5,375.8 198.5,375.4 199.5,375 200.5,373.7 201.5,373.4 202.5,375.5 203.5,374.9 204.5,373.2 205.5,371.8 206.5,373.7 207.5,373.9 208.5,372.7 209.5,373.4 210.5,373.1 211.5,372.4 212.5,371.8" stroke="#CA9700" stroke-width="0.75"/>
<polyline points="57.6,378.1 58.6,382 59.6,377.1 60.6,377.1 61.6,356.6 62.6,352.6 63.6,356.6 64.6,356.9 65.6,353.4 66.6,358 67.6,360.7 68.6,356.3 69.6,355.2 70.6,357.3 71.6,354.6 72.6,353.2 73.6,359.5 74.6,364.8 75.6,364.6 76.6,366.6 77.6,367.9 78.6,370.5 79.6,370.4 80.6,368.7 81.6,367.8 82.6,370 83.6,369.7 84.6,372.1 85.6,373.2 86.6,373.9 87.6,372.9 88.6,374.9 89.6,375.9 90.6,376.9 91.6,377.3 92.6,376.7 93.6,378.7 94.6,382.8 95.6,383.8 96.6,384.5 97.6,387 98.6,386.2 99.6,387.2 100.6,389.2 101.6,387.8 102.6,387.4 103.6,384.6 104.6,377.8 105.6,369.2 106.6,359.3 107.6,346.5 108.6,341.9 109.6,337 110.6,335.9 111.6,335.7 112.6,333.8 113.6,335.3 114.6,337.6 115.6,336.4 116.6,340.7 117.6,343.9 118.6,349.9 119.6,350.4 120.6,351.6 121.6,355.9 122.6,359.4 123.6,364.6 124.6,372 125.6,377.3 126.6,382.8 127.6,384.6 128.6,385.5 129.6,384.3 130.6,389.7 131.6,399.4 132.6,408.1 133.6,417.4 134.6,421.7 135.6,424.9 136.6,424.3 137.6,427.3 138.6,427.3 139.6,424.3 140.6,419.9 141.6,418.9 142.6,414.5 143.6,405.5 144.6,395.9 145.5,382.5 146.5,366.7 147.5,349.7 148.5,334.2 149.5,325.5 150.5,326 151.5,327 152.5,325.7 153.5,325 154.5,326.4 155.5,328.6 156.5,328.8 157.5,324.1 158.5,331.3 159.5,336.4 160.5,339.8 161.5,343.9 162.5,348.2 163.5,354.7 164.5,357.7 165.5,364.4 166.5,371.3 167.5,374.3 168.5,383.3 169.5,389.3 170.5,391.9 171.5,398 172.5,401.4 173.5,401.7 174.5,405.6 175.5,409.6 176.5,414.8 177.5,415.2 178.5,422.9 179.5,420.1 180.5,412.5 181.5,410.9 182.5,407.7 183.5,399.7 184.5,393.1 185.5,383 186.5,374.7 187.5,368.5 188.5,364.7 189.5,365.1 190.5,364.4 191.5,366.1 192.5,368.9 193.5,370.4 194.5,372.7 195.5,370.9 196.5,370.6 197.5,369.6 198.5,372.3 199.5,374 200.5,374.2 201.5,372.4 202.5,371.9 203.5,371.9 204.5,370.8 205.5,370.5 206.5,370.1 207.5,370.3 208.5,373.8 209.5,375.4 210.5,374.1 211.5,373.2 212.5,372.1" stroke="#BF9C00" stroke-width="0.75"/>
<polyline points="57.6,385.9 58.6,390.4 59.6,381.1 60.6,353.9 61.6,341.9 62.6,349.8 63.6,374.7 64.6,367.8 65.6,352.7 66.6,366.6 67.6,375.6 68.6,384.8 69.6,378.1 70.6,379.4 71.6,376.7 72.6,370.2 73.6,376.4 74.6,379.2 75.6,381.5 76.6,377.6 77.6,374.5 78.6,378.2 79.6,381 80.6,379.2 81.6,381.7 82.6,381.6 83.6,380.7 84.6,378.1 85.6,378.3 86.6,381.6 87.6,382.8 88.6,381.6 89.6,380.7 90.6,382.6 91.6,383.5 92.6,382.2 93.6,384.4 94.6,385.1 95.6,387.1 96.6,384.2 97.6,382.8 98.6,381.7 99.6,378.8 100.6,380 101.6,381.8 102.6,379.3 103.6,378.3 104.6,380.3 105.6,381.6 106.6,384.8 107.6,385.9 108.6,385.2 109.6,386 110.6,390.9 111.6,397.8 112.6,399.4 113.6,401.8 114.6,403.3 115.6,403 116.6,408.9 117.6,416.1 118.6,423 119.6,420.6 120.6,422.4 121.6,419.4 122.6,414.3 123.6,410.6 124.6,403.2 125.6,397.1 126.6,391 127.6,388.9 128.6,382 129.6,371.8 130.6,360 131.6,348.5 132.6,335.7 133.6,333.9 134.6,331.4 135.6,328.2 136.6,328.6 137.6,329.5 138.6,325.2 139.6,323.8 140.6,322.5 141.6,325.4 142.6,332.6 143.6,345 144.6,351.5 145.5,358.1 146.5,367.6 147.5,374.6 148.5,385 149.5,392.5 150.5,395.9 151.5,393.3 152.5,391.7 153.5,389.7 154.5,393.5 155.5,393.9 156.5,398 157.5,409.4 158.5,419.3 159.5,424.8 160.5,427.3 161.5,427.3 162.5,427.3 163.5,425.6 164.5,422.6 165.5,418 166.5,414 167.5,408.2 168.5,400.5 169.5,390.4 170.5,383.7 171.5,378 172.5,373.3 173.5,367.2 174.5,364.8 175.5,367.4 176.5,369.6 177.5,370.6 178.5,371 179.5,372.2 180.5,373.4 181.5,374.1 182.5,374.5 183.5,376.2 184.5,373.8 185.5,372.9 186.5,372.4 187.5,373.8 188.5,376.6 189.5,376.6 190.5,377.1 191.5,375 192.5,374.5 193.5,374.2 194.5,373.4 195.5,375.2 196.5,373.7 197.5,373.9 198.5,376 199.5,375.2 200.5,375 201.5,374 202.5,377.5 203.5,377.6 204.5,376.5 205.5,375.1 206.5,375.6 207.5,372.9 208.5,373.2 209.5,374.5 210.5,374.5 211.5,372.5 212.5,372" stroke="#B3A000" stroke-width="0.75"/>
<polyline points="57.6,334.7 58.6,330.8 59.6,326.6 60.6,353.3 61.6,352.7 62.6,341.8 63.6,350.3 64.6,356.2 65.6,376.1 66.6,380.7 67.6,358.2 68.6,354.1 69.6,363.7 70.6,365.2 71.6,360.2 72.6,368.8 73.6,372.6 74.6,370.6 75.6,368.6 76.6,370.7 77.6,368.2 78.6,370.2 79.6,365.9 80.6,367.9 81.6,370.6 82.6,372.3 83.6,370.9 84.6,372.2 85.6,370.9 86.6,372.9 87.6,373 88.6,372 89.6,371.5 90.6,374.5 91.6,373.3 92.6,374.5 93.6,371.8 94.6,372.9 95.6,370.6 96.6,373.4 97.6,375.4 98.6,375.2 99.6,375 100.6,377.8 101.6,378.8 102.6,380.9 103.6,380.6 104.6,382.6 105.6,385.8 106.6,389.3 107.6,387.1 108.6,388.7 109.6,392.2 110.6,396.6 111.6,398.3 112.6,401.6 113.6,404.2 114.6,407.2 115.6,406.4 116.6,412 117.6,415.2 118.6,415.2 119.6,420.5 120.6,421 121.6,417.3 122.6,411.5 123.6,405.2 124.6,392.9 125.6,386.2 126.6,381.7 127.6,377.6 128.6,367.9 129.6,360.4 130.6,359.6 131.6,352.8 132.6,346.2 133.6,339.3 134.6,337 135.6,335.8 136.6,329.8 137.6,330.2 138.6,334.8 139.6,338.2 140.6,340 141.6,338.6 142.6,337 143.6,342.6 144.6,348.1 145.5,352.3 146.5,360.2 147.5,357.6 148.5,359.2 149.5,356.2 150.5,354.2 151.5,356.3 152.5,368.6 153.5,376.6 154.5,380.4 155.5,382.8 156.5,384.7 157.5,381.5 158.5,382.9 159.5,384.1 160.5,383.9 161.5,381.7 162.5,383.2 163.5,386 164.5,389.7 165.5,389.7 166.5,386 167.5,387.3 168.5,386.3 169.5,383.4 170.5,378.1 171.5,377.9 172.5,380.5 173.5,394.2 174.5,400.3 175.5,405.4 176.5,409.9 177.5,410 178.5,407.4 179.5,401.4 180.5,395.9 181.5,390.1 182.5,382.1 183.5,375.7 184.5,370.6 185.5,365.9 186.5,363.4 187.5,360.2 188.5,354.5 189.5,351.6 190.5,349.2 191.5,346.8 192.5,343.7 193.5,340.7 194.5,338.8 195.5,341.8 196.5,347.1 197.5,349.6 198.5,348.7 199.5,347.8 200.5,349.1 201.5,352.1 202.5,354.8 203.5,356.4 204.5,359 205.5,363 206.5,365.1 207.5,367.4 208.5,369.2 209.5,368.5 210.5,369.1 211.5,369.5 212.5,369.2" stroke="#A6A500" stroke-width="0.75"/>
<polyline points="57.6,370.1 58.6,348.6 59.6,354.3 60.6,348 61.6,381.7 62.6,379.7 63.6,370 64.6,375.7 65.6,376.9 66.6,366.4 67.6,376.8 68.6,369 69.6,364.7 70.6,371.5 71.6,372.4 72.6,370.1 73.6,373.4 74.6,365.1 75.6,367.8 76.6,375 77.6,372.4 78.6,376.1 79.6,371.9 80.6,373.6 81.6,374.6 82.6,373.2 83.6,374.7 84.6,374.5 85.6,372.3 86.6,372.7 87.6,374.7 88.6,372.7 89.6,371.8 90.6,371 91.6,371.9 92.6,371.7 93.6,372.6 94.6,375.6 95.6,378.3 96.6,376.5 97.6,376.5 98.6,378.6 99.6,380 100.6,381.9 101.6,384.3 102.6,386.6 103.6,391 104.6,395 105.6,397.3 106.6,399.5 107.6,399.9 108.6,401.2 109.6,408.8 110.6,414.7 111.6,414.5 112.6,413.6 113.6,412.8 114.6,411.6 115.6,406.6 116.6,397.2 117.6,392.9 118.6,384.7 119.6,366.9 120.6,350.4 121.6,337.8 122.6,332.5 123.6,330.3 124.6,326.5 125.6,322.5 126.6,322.5 127.6,324.5 128.6,325.2 129.6,328.6 130.6,337.8 131.6,343.9 132.6,349.1 133.6,356.1 134.6,361.7 135.6,362.8 136.6,369.1 137.6,368.4 138.6,370.4 139.6,376.9 140.6,382.8 141.6,389.6 142.6,394.9 143.6,399.3 144.6,402.6 145.5,403.1 146.5,409.4 147.5,413.3 148.5,412 149.5,407.1 150.5,404.6 151.5,401.2 152.5,398.8 153.5,396.6 154.5,390.2 155.5,385.7 156.5,386.9 157.5,376.1 158.5,362.9 159.5,356 160.5,354.1 161.5,351.2 162.5,344 163.5,337.2 164.5,334.3 165.5,338.1 166.5,337.9 167.5,341.7 168.5,346.9 169.5,356.3 170.5,362.4 171.5,368.9 172.5,370.6 173.5,374.5 174.5,381.3 175.5,382.5 176.5,382.5 177.5,382.5 178.5,380 179.5,379 180.5,380.6 181.5,379.6 182.5,378.2 183.5,375.7 184.5,374.6 185.5,375 186.5,376.6 187.5,373.7 188.5,374.8 189.5,373 190.5,374.4 191.5,374.7 192.5,373.7 193.5,375 194.5,373.1 195.5,371.2 196.5,370.1 197.5,369.8 198.5,370.4 199.5,371.8 200.5,372.4 201.5,373.4 202.5,372.4 203.5,372 204.5,373 205.5,372.8 206.5,374.5 207.5,374.3 208.5,373.3 209.5,373 210.5,371.6 211.5,371.2 212.5,373.9" stroke="#97A900" stroke-width="0.75"/>
<polyline points="57.6,381.6 58.6,399.2 59.6,381.4 60.6,350.8 61.6,363.8 62.6,385.7 63.6,381.3 64.6,380.1 65.6,376.9 66.6,369.2 67.6,359.9 68.6,363.1 69.6,371.3 70.6,366.1 71.6,363.5 72.6,368.7 73.6,373 74.6,376.9 75.6,375.1 76.6,375.1 77.6,371.6 78.6,375.6 79.6,375 80.6,379 81.6,381.7 82.6,382.1 83.6,381.4 84.6,381.2 85.6,380.6 86.6,380.9 87.6,382.4 88.6,383.9 89.6,382.5 90.6,383.1 91.6,383.8 92.6,383.3 93.6,386.1 94.6,386.2 95.6,384.9 96.6,385.5 97.6,387.1 98.6,385.4 99.6,387.8 100.6,388.9 101.6,388.9 102.6,395.9 103.6,400.8 104.6,402 105.6,400 106.6,401.2 107.6,404.8 108.6,406.1 109.6,408.7 110.6,416.3 111.6,417.1 112.6,415 113.6,412.2 114.6,414.4 115.6,417.4 116.6,411.7 117.6,401.2 118.6,400.4 119.6,400.6 120.6,392.3 121.6,388.8 122.6,382.1 123.6,373.5 124.6,363.1 125.6,351.1 126.6,342.6 127.6,334.8 128.6,331.7 129.6,333.6 130.6,334.6 131.6,339.7 132.6,343.2 133.6,344.8 134.6,340.7 135.6,337.9 136.6,334.1 137.6,332.6 138.6,332.4 139.6,332.1 140.6,329.4 141.6,333.8 142.6,340.3 143.6,347.9 144.6,359.6 145.5,367.2 146.5,372.4 147.5,377.6 148.5,380 149.5,373.7 150.5,378.5 151.5,376.4 152.5,378.5 153.5,377.5 154.5,380.9 155.5,380.8 156.5,381.4 157.5,383.6 158.5,389.8 159.5,389.6 160.5,389.9 161.5,395.5 162.5,404.9 163.5,412.5 164.5,418.8 165.5,417.8 166.5,423.1 167.5,425.3 168.5,425.4 169.5,421.4 170.5,413.7 171.5,409 172.5,402.5 173.5,398.6 174.5,393.8 175.5,386.8 176.5,379.1 177.5,369.8 178.5,359.5 179.5,358.6 180.5,360.6 181.5,362.6 182.5,363.7 183.5,364.1 184.5,364.8 185.5,366.4 186.5,365.9 187.5,364.9 188.5,367.2 189.5,368.1 190.5,369.1 191.5,367.2 192.5,368.3 193.5,368.4 194.5,368.5 195.5,367.2 196.5,370.5 197.5,370.5 198.5,370.5 199.5,370.4 200.5,370 201.5,369.6 202.5,368.8 203.5,368.8 204.5,366.5 205.5,369.9 206.5,370.6 207.5,369.4 208.5,368.3 209.5,369.2 210.5,369.5 211.5,368.6 212.5,368" stroke="#85AC00" stroke-width="0.75"/>
<polyline points="57.6,370.2 58.6,344.1 59.6,354.9 60.6,366.8 61.6,355.2 62.6,344.1 63.6,358.9 64.6,369.8 65.6,359.5 66.6,359.9 67.6,359.4 68.6,360.5 69.6,368.1 70.6,365.7 71.6,373.3 72.6,369.6 73.6,371.4 74.6,366.3 75.6,369.5 76.6,373.8 77.6,375.5 78.6,376.8 79.6,376.6 80.6,375.7 81.6,376.3 82.6,377.9 83.6,380.3 84.6,376.9 85.6,378.3 86.6,378.1 87.6,380 88.6,382.1 89.6,384.4 90.6,383.3 91.6,386.5 92.6,389.1 93.6,388.2 94.6,390.1 95.6,389.4 96.6,388.9 97.6,391.9 98.6,392.8 99.6,394.4 100.6,395.2 101.6,395.9 102.6,396.9 103.6,399.5 104.6,401.5 105.6,402.2 106.6,400.4 107.6,399.7 108.6,397.2 109.6,392.4 110.6,386 111.6,371.8 112.6,354.8 113.6,343.8 114.6,332.2 115.6,322.5 116.6,322.5 117.6,322.5 118.6,322.5 119.6,322.5 120.6,322.5 121.6,322.5 122.6,327.3 123.6,328 124.6,322.5 125.6,322.5 126.6,322.5 127.6,330.6 128.6,334.3 129.6,340.8 130.6,345.6 131.6,354.3 132.6,361.7 133.6,367.7 134.6,369.6 135.6,372 136.6,379.1 137.6,382.5 138.6,377.5 139.6,378.2 140.6,383.5 141.6,390 142.6,400.9 143.6,408.9 144.6,416 145.5,416.3 146.5,423.1 147.5,424.1 148.5,427 149.5,427.3 150.5,427.3 151.5,427.3 152.5,427.3 153.5,427 154.5,421 155.5,413.4 156.5,401.5 157.5,397.5 158.5,390 159.5,379 160.5,373.1 161.5,366.4 162.5,350.2 163.5,343 164.5,336.1 165.5,331.9 166.5,333.3 167.5,332.3 168.5,330.1 169.5,333.2 170.5,339.1 171.5,345.9 172.5,345.8 173.5,354.9 174.5,357.2 175.5,361 176.5,363.3 177.5,369.8 178.5,373.6 179.5,373 180.5,371.8 181.5,370.9 182.5,370.6 183.5,372.8 184.5,370.8 185.5,369.6 186.5,370.8 187.5,369.6 188.5,371.1 189.5,374.1 190.5,373.9 191.5,373.3 192.5,372.3 193.5,373 194.5,373.4 195.5,372.3 196.5,370 197.5,371.2 198.5,368.9 199.5,369.1 200.5,371.1 201.5,372.4 202.5,369.7 203.5,369.4 204.5,371.1 205.5,372.6 206.5,371.8 207.5,372.6 208.5,369.9 209.5,370.5 210.5,368.8 211.5,372.2 212.5,373" stroke="#71B000" stroke-width="0.75"/>
<polyline points="57.6,387 58.6,363.6 59.6,374.9 60.6,356.3 61.6,365.1 62.6,345.3 63.6,360.8 64.6,361.7 65.6,370 66.6,368 67.6,364 68.6,369.3 69.6,373.8 70.6,371.5 71.6,369.2 72.6,375.7 73.6,376.3 74.6,376.7 75.6,366.9 76.6,369.3 77.6,373.3 78.6,374.7 79.6,372 80.6,372.7 81.6,371.6 82.6,368.4 83.6,370.7 84.6,373.7 85.6,375.2 86.6,375 87.6,375.1 88.6,375.3 89.6,376.6 90.6,375.8 91.6,375 92.6,378 93.6,378 94.6,378.2 95.6,376.6 96.6,374.8 97.6,376.7 98.6,376.8 99.6,379.4 100.6,377.2 101.6,379 102.6,378.3 103.6,379.7 104.6,377.8 105.6,380.9 106.6,385.1 107.6,386 108.6,385.6 109.6,385.6 110.6,388.1 111.6,392.2 112.6,398.5 113.6,403.4 114.6,407.4 115.6,408.1 116.6,410.4 117.6,407.2 118.6,401.8 119.6,396.7 120.6,392.1 121.6,381.9 122.6,372.3 123.6,361.5 124.6,346.1 125.6,327.1 126.6,322.5 127.6,324.3 128.6,322.5 129.6,322.5 130.6,322.5 131.6,323.1 132.6,322.5 133.6,322.5 134.6,322.5 135.6,333 136.6,342 137.6,349.5 138.6,355.7 139.6,360.3 140.6,361.8 141.6,363.4 142.6,367.1 143.6,373.1 144.6,374.7 145.5,380 146.5,379.5 147.5,382.7 148.5,383.8 149.5,386.6 150.5,394.3 151.5,402.3 152.5,406 153.5,406.2 154.5,409.6 155.5,409.9 156.5,410.4 157.5,411.5 158.5,410.6 159.5,407.1 160.5,406.6 161.5,407.1 162.5,401.2 163.5,397.5 164.5,386.6 165.5,380.2 166.5,377 167.5,374.6 168.5,372.7 169.5,369.1 170.5,367.2 171.5,366.7 172.5,371.3 173.5,384 174.5,393.7 175.5,402.3 176.5,408.4 177.5,413.2 178.5,416 179.5,415.5 180.5,413 181.5,409.5 182.5,406.3 183.5,404.9 184.5,402.6 185.5,399.3 186.5,395.8 187.5,391.7 188.5,388.1 189.5,385.4 190.5,383 191.5,380.7 192.5,378.7 193.5,376.4 194.5,374.6 195.5,374.2 196.5,374.6 197.5,373.5 198.5,373.4 199.5,373.8 200.5,373.4 201.5,371.3 202.5,371.3 203.5,372.4 204.5,374.7 205.5,375.6 206.5,373.1 207.5,371.7 208.5,371.4 209.5,370.9 210.5,372.3 211.5,374.2 212.5,374.6" stroke="#57B300" stroke-width="0.75"/>
<polyline points="57.6,355.3 58.6,380.9 59.6,382 60.6,358.5 61.6,356.1 62.6,357.1 63.6,370 64.6,357.1 65.6,358 66.6,366.4 67.6,380.7 68.6,380.6 69.6,377.1 70.6,374.9 71.6,379.8 72.6,380.5 73.6,381.1 74.6,378.2 75.6,377.9 76.6,378.3 77.6,380.9 78.6,380.4 79.6,381.9 80.6,385.3 81.6,379.8 82.6,379.6 83.6,383.4 84.6,388.1 85.6,387 86.6,384.6 87.6,385.8 88.6,385.8 89.6,385.7 90.6,384.1 91.6,385.9 92.6,387.3 93.6,389.6 94.6,391.6 95.6,390.9 96.6,391.7 97.6,391.2 98.6,394.3 99.6,393.9 100.6,396.4 101.6,397.3 102.6,399.4 103.6,398.7 104.6,396.9 105.6,400.3 106.6,401.7 107.6,399.9 108.6,399.6 109.6,397.6 110.6,398.9 111.6,395.2 112.6,389.4 113.6,383.6 114.6,374.6 115.6,365.1 116.6,357.5 117.6,357.3 118.6,352.2 119.6,343 120.6,333.3 121.6,324.5 122.6,323.1 123.6,322.5 124.6,322.5 125.6,322.5 126.6,322.5 127.6,322.5 128.6,322.5 129.6,323.6 130.6,325.6 131.6,334.7 132.6,349.1 133.6,358.1 134.6,364.7 135.6,370.9 136.6,368.9 137.6,365.5 138.6,363.1 139.6,365.6 140.6,365.9 141.6,373 142.6,380.7 143.6,385.9 144.6,385.3 145.5,383.5 146.5,386.9 147.5,385.1 148.5,383.7 149.5,382.4 150.5,383.5 151.5,386.7 152.5,386.8 153.5,390.5 154.5,398.6 155.5,401 156.5,401.6 157.5,399.6 158.5,399.7 159.5,401.1 160.5,402.6 161.5,400.5 162.5,397.1 163.5,394.4 164.5,387.8 165.5,383.3 166.5,379.3 167.5,378.6 168.5,377.5 169.5,374.5 170.5,368.7 171.5,368.8 172.5,368.4 173.5,368.2 174.5,368.4 175.5,368.5 176.5,367.8 177.5,366.8 178.5,371 179.5,372 180.5,372.3 181.5,373.6 182.5,373.2 183.5,371.7 184.5,373.8 185.5,372.2 186.5,373.9 187.5,374.7 188.5,375.7 189.5,374.1 190.5,373.4 191.5,371.3 192.5,370.5 193.5,369.3 194.5,370.1 195.5,371 196.5,373.7 197.5,374.2 198.5,374.3 199.5,373.8 200.5,375.3 201.5,374.7 202.5,374.5 203.5,374.9 204.5,373.8 205.5,372.9 206.5,374.2 207.5,373.7 208.5,374.8 209.5,373.1 210.5,373.7 211.5,376.6 212.5,374.3" stroke="#2FB600" stroke-width="0.75"/>
<polyline points="57.6,394.2 58.6,366.6 59.6,369.7 60.6,356.3 61.6,354.5 62.6,372.6 63.6,381.5 64.6,367.3 65.6,363.8 66.6,361.8 67.6,360.2 68.6,364.1 69.6,365.2 70.6,373.3 71.6,367.4 72.6,369.9 73.6,367 74.6,372 75.6,372.5 76.6,373.1 77.6,374.4 78.6,376.9 79.6,376.5 80.6,376.5 81.6,377.1 82.6,377.3 83.6,376.8 84.6,380.1 85.6,380.7 86.6,380.3 87.6,378.1 88.6,379.5 89.6,381.2 90.6,379.9 91.6,382.1 92.6,380.4 93.6,380.2 94.6,380.7 95.6,380.4 96.6,381.2 97.6,381.7 98.6,382.3 99.6,383.8 100.6,383.8 101.6,384.3 102.6,383.4 103.6,384.4 104.6,385.2 105.6,385.7 106.6,386.9 107.6,389.3 108.6,387.8 109.6,390.7 110.6,393.2 111.6,396.9 112.6,397 113.6,397.6 114.6,396.5 115.6,392.5 116.6,389.8 117.6,390.4 118.6,386.8 119.6,375.8 120.6,361 121.6,342.7 122.6,329.8 123.6,322.5 124.6,324.5 125.6,327.6 126.6,327.2 127.6,326 128.6,326.2 129.6,326.4 130.6,328.6 131.6,324.6 132.6,324.6 133.6,329.2 134.6,332.4 135.6,336.4 136.6,343.8 137.6,352.4 138.6,360.1 139.6,366.6 140.6,369 141.6,378.1 142.6,384.1 143.6,386.5 144.6,384.9 145.5,388.2 146.5,392.2 147.5,394.3 148.5,395.2 149.5,400 150.5,402.3 151.5,404.7 152.5,405.8 153.5,407.6 154.5,413.4 155.5,416.1 156.5,417 157.5,420 158.5,411.5 159.5,405.5 160.5,401.5 161.5,398.2 162.5,393.2 163.5,385.1 164.5,381.1 165.5,370.3 166.5,358.1 167.5,345.3 168.5,334.3 169.5,331.1 170.5,337 171.5,339.3 172.5,343.2 173.5,347.8 174.5,353.3 175.5,356.1 176.5,360.6 177.5,363 178.5,368.3 179.5,370.3 180.5,372.1 181.5,371.8 182.5,372.5 183.5,371.6 184.5,372 185.5,371.3 186.5,373.7 187.5,375.3 188.5,372 189.5,371.4 190.5,368.9 191.5,367.8 192.5,369.1 193.5,370 194.5,370 195.5,372.6 196.5,372.7 197.5,370.8 198.5,368.9 199.5,368.6 200.5,369.5 201.5,370 202.5,371.7 203.5,369.4 204.5,370.3 205.5,369.6 206.5,368.7 207.5,369.2 208.5,369.3 209.5,369.2 210.5,370.8 211.5,370.3 212.5,371.2" stroke="#00B92C" stroke-width="0.75"/>
<polyline points="57.6,368.7 58.6,354.3 59.6,357.8 60.6,362 61.6,370.3 62.6,363.4 63.6,343.5 64.6,352.4 65.6,354.3 66.6,361.3 67.6,359.5 68.6,360.2 69.6,361.7 70.6,362.2 71.6,364.7 72.6,370.2 73.6,373.9 74.6,370.7 75.6,375.5 76.6,373.7 77.6,373.2 78.6,373.7 79.6,378.8 80.6,378.9 81.6,378.6 82.6,378.4 83.6,377.7 84.6,377.2 85.6,379.1 86.6,378.8 87.6,379.7 88.6,380.9 89.6,381.3 90.6,381.6 91.6,381.5 92.6,381.1 93.6,380.9 94.6,382.1 95.6,382.6 96.6,382.2 97.6,384.8 98.6,383 99.6,381.8 100.6,382.4 101.6,383.1 102.6,382.9 103.6,382.3 104.6,384 105.6,382.7 106.6,381.4 107.6,382.3 108.6,382.9 109.6,385.3 110.6,384.3 111.6,383.6 112.6,384.2 113.6,383.1 114.6,382 115.6,378.7 116.6,373.7 117.6,366.3 118.6,357.8 119.6,355 120.6,352.9 121.6,350.7 122.6,350.3 123.6,346 124.6,345.1 125.6,346.6 126.6,348.4 127.6,350 128.6,348.3 129.6,350.8 130.6,359.6 131.6,368.3 132.6,376.4 133.6,378.7 134.6,386.8 135.6,386.8 136.6,387.6 137.6,390.3 138.6,395.9 139.6,403.1 140.6,408.7 141.6,412.7 142.6,416.3 143.6,420.2 144.6,423.4 145.5,425.6 146.5,424.5 147.5,422.2 148.5,417.4 149.5,408.9 150.5,398.2 151.5,388.8 152.5,378.7 153.5,363.1 154.5,344.2 155.5,330.7 156.5,322.9 157.5,322.5 158.5,322.5 159.5,322.5 160.5,324.6 161.5,329.7 162.5,332.4 163.5,332.2 164.5,335.9 165.5,340.8 166.5,347.4 167.5,355.5 168.5,359 169.5,363.7 170.5,369.6 171.5,375 172.5,379 173.5,382.7 174.5,383.1 175.5,384.2 176.5,387.3 177.5,383.6 178.5,384.2 179.5,382.6 180.5,380.6 181.5,381.6 182.5,380 183.5,381.1 184.5,379.1 185.5,379.6 186.5,377.6 187.5,377.5 188.5,375.4 189.5,372.1 190.5,373.3 191.5,371.6 192.5,373.6 193.5,373.9 194.5,376.5 195.5,375.1 196.5,374.2 197.5,374.1 198.5,373.4 199.5,372.2 200.5,370.8 201.5,372.7 202.5,373.7 203.5,376.3 204.5,374.3 205.5,372.1 206.5,373.6 207.5,373.4 208.5,374.3 209.5,373.9 210.5,374.3 211.5,373.2 212.5,374.7" stroke="#00BB4B" stroke-width="0.75"/>
<polyline points="57.6,363.4 58.6,353.1 59.6,339.4 60.6,349.7 61.6,366.4 62.6,350.4 63.6,356.7 64.6,373.5 65.6,369.4 66.6,374.9 67.6,372.8 68.6,372.9 69.6,371.3 70.6,368.7 71.6,372.6 72.6,372.2 73.6,368.8 74.6,371.2 75.6,374.2 76.6,374.3 77.6,377.1 78.6,377.9 79.6,377 80.6,375.7 81.6,377.6 82.6,378.1 83.6,377.6 84.6,380.2 85.6,380.3 86.6,380.3 87.6,380.1 88.6,380.4 89.6,380.9 90.6,381.2 91.6,382 92.6,384.7 93.6,384.6 94.6,386.6 95.6,388.6 96.6,390.8 97.6,391.6 98.6,394 99.6,395.7 100.6,397.8 101.6,401.7 102.6,404.8 103.6,408.1 104.6,411.1 105.6,414.7 106.6,416.7 107.6,419.5 108.6,417.7 109.6,416.8 110.6,414.6 111.6,412.6 112.6,407.3 113.6,399.1 114.6,392.9 115.6,382 116.6,366.1 117.6,351.1 118.6,338.9 119.6,325.8 120.6,322.5 121.6,322.5 122.6,322.5 123.6,325.2 124.6,327.1 125.6,326.9 126.6,327.3 127.6,327.8 128.6,324.4 129.6,323.1 130.6,322.5 131.6,325.7 132.6,329.3 133.6,332.1 134.6,339 135.6,348.2 136.6,351.6 137.6,355.1 138.6,358.4 139.6,361.1 140.6,362.8 141.6,367.4 142.6,370.5 143.6,374.9 144.6,382.9 145.5,382.2 146.5,380.7 147.5,381.5 148.5,382.1 149.5,381.3 150.5,383.7 151.5,391 152.5,397.8 153.5,402 154.5,409.7 155.5,417.6 156.5,418.8 157.5,418.6 158.5,420.2 159.5,419.9 160.5,417.8 161.5,413.3 162.5,411.6 163.5,407.1 164.5,401 165.5,395.6 166.5,390.2 167.5,385.1 168.5,382.5 169.5,378.1 170.5,375.3 171.5,374.9 172.5,390.7 173.5,398.1 174.5,404.4 175.5,409.5 176.5,414.8 177.5,419.6 178.5,421.8 179.5,421.3 180.5,419.5 181.5,418.8 182.5,415 183.5,409.6 184.5,407.3 185.5,405.5 186.5,401.5 187.5,396 188.5,392.8 189.5,389.1 190.5,385.5 191.5,382.8 192.5,381.2 193.5,379.3 194.5,377.5 195.5,375.8 196.5,375.2 197.5,375 198.5,374.6 199.5,372.4 200.5,371.2 201.5,372.1 202.5,371.1 203.5,369.3 204.5,368.7 205.5,369.6 206.5,370 207.5,371.3 208.5,371 209.5,370.2 210.5,369.7 211.5,369.5 212.5,369.5" stroke="#00BD62" stroke-width="0.75"/>
<polyline points="57.6,368.7 58.6,333.7 59.6,358.8 60.6,371.4 61.6,386.3 62.6,380.5 63.6,383.5 64.6,376.2 65.6,375 66.6,372.7 67.6,372.7 68.6,374.2 69.6,374.4 70.6,374.3 71.6,370.4 72.6,365.7 73.6,362.8 74.6,369.2 75.6,372.8 76.6,376.8 77.6,375.2 78.6,373.2 79.6,373.7 80.6,375.6 81.6,378 82.6,378 83.6,375.5 84.6,379.7 85.6,375.9 86.6,377.6 87.6,378.3 88.6,380.2 89.6,381.7 90.6,382.5 91.6,382.1 92.6,383.8 93.6,385.4 94.6,391 95.6,390.2 96.6,388.6 97.6,389.2 98.6,388.3 99.6,390 100.6,390.9 101.6,392.5 102.6,395.1 103.6,395.6 104.6,395 105.6,395.1 106.6,396.3 107.6,395 108.6,392.2 109.6,390.1 110.6,389.7 111.6,386.8 112.6,380.8 113.6,375.3 114.6,366.6 115.6,357.6 116.6,348.3 117.6,341.9 118.6,341.8 119.6,345.6 120.6,345.6 121.6,343 122.6,338.8 123.6,343 124.6,345.1 125.6,346.8 126.6,351.7 127.6,350.6 128.6,346.9 129.6,349.5 130.6,348.7 131.6,345.7 132.6,349.5 133.6,356.8 134.6,360.8 135.6,359.9 136.6,359.9 137.6,359.6 138.6,362.6 139.6,367.5 140.6,368.1 141.6,376.6 142.6,380.1 143.6,379.5 144.6,382.4 145.5,388.2 146.5,387.9 147.5,391.1 148.5,401.2 149.5,403.2 150.5,407 151.5,415.3 152.5,419.9 153.5,416.8 154.5,413.3 155.5,411.3 156.5,407 157.5,405.1 158.5,407.5 159.5,405.3 160.5,401.5 161.5,395.8 162.5,393 163.5,391 164.5,388.7 165.5,383.8 166.5,379.3 167.5,369.4 168.5,365.7 169.5,365.5 170.5,365 171.5,364.8 172.5,365.6 173.5,369.9 174.5,370.5 175.5,371.3 176.5,372.3 177.5,369.6 178.5,370.5 179.5,369.6 180.5,373 181.5,372.3 182.5,373 183.5,376.1 184.5,375.4 185.5,372.5 186.5,371.9 187.5,373.3 188.5,373.6 189.5,372.3 190.5,372.7 191.5,372.6 192.5,372.7 193.5,372 194.5,373.3 195.5,374.4 196.5,376.7 197.5,378.1 198.5,373 199.5,372.3 200.5,375.5 201.5,373 202.5,372 203.5,371.8 204.5,374.6 205.5,372.7 206.5,372.3 207.5,372.2 208.5,373.3 209.5,372.3 210.5,372.9 211.5,374.3 212.5,375.7" stroke="#00BF76" stroke-width="0.75"/>
<polyline points="57.6,369.5 58.6,398.4 59.6,371.9 60.6,356.1 61.6,371.1 62.6,367.8 63.6,365.9 64.6,369 65.6,371.8 66.6,378.4 67.6,370.5 68.6,357.3 69.6,363.1 70.6,366.8 71.6,372.8 72.6,366.9 73.6,371.6 74.6,373.2 75.6,374.4 76.6,370.8 77.6,370 78.6,372.5 79.6,373.4 80.6,375.2 81.6,374.4 82.6,374.4 83.6,375.5 84.6,375.5 85.6,379.1 86.6,377.9 87.6,378.1 88.6,378.2 89.6,378.7 90.6,380.3 91.6,379.8 92.6,381.2 93.6,383.6 94.6,385.6 95.6,386.6 96.6,386.6 97.6,387 98.6,388.4 99.6,389.3 100.6,389.6 101.6,389.9 102.6,390.2 103.6,389.4 104.6,392.9 105.6,392.9 106.6,393.8 107.6,394.4 108.6,392.6 109.6,394.2 110.6,396.9 111.6,397.2 112.6,397.1 113.6,398.7 114.6,401.1 115.6,403.1 116.6,404.4 117.6,403.4 118.6,404.1 119.6,403.6 120.6,404.4 121.6,406 122.6,402.5 123.6,396 124.6,384.8 125.6,375.8 126.6,368.7 127.6,357.4 128.6,348.6 129.6,340 130.6,332.7 131.6,332.4 132.6,328 133.6,327.5 134.6,326.5 135.6,323.7 136.6,322.5 137.6,323.6 138.6,326 139.6,322.5 140.6,322.5 141.6,326.1 142.6,331.3 143.6,335.5 144.6,337.7 145.5,345.4 146.5,349.2 147.5,351 148.5,356.7 149.5,360.2 150.5,367.4 151.5,374.7 152.5,382.6 153.5,388.3 154.5,394.6 155.5,398 156.5,398.5 157.5,398.8 158.5,398.9 159.5,400.2 160.5,400.3 161.5,400.8 162.5,399.6 163.5,398.8 164.5,395.2 165.5,392.7 166.5,392.8 167.5,391.3 168.5,389.3 169.5,386.4 170.5,383.1 171.5,379.6 172.5,379.2 173.5,378.5 174.5,378.1 175.5,375.4 176.5,375.2 177.5,374.8 178.5,372.6 179.5,372.8 180.5,371.7 181.5,370.1 182.5,370 183.5,371.6 184.5,370.9 185.5,372 186.5,373.6 187.5,370.8 188.5,371.2 189.5,371.6 190.5,370.3 191.5,370.4 192.5,372.8 193.5,374.8 194.5,377 195.5,374.9 196.5,374.8 197.5,371.2 198.5,370.6 199.5,370.3 200.5,370.6 201.5,371.4 202.5,372.4 203.5,372.4 204.5,368.7 205.5,367.9 206.5,370.2 207.5,372.2 208.5,370.5 209.5,369.3 210.5,370.6 211.5,369.6 212.5,367.3" stroke="#00C088" stroke-width="0.75"/>
<polyline points="57.6,356.7 58.6,348.4 59.6,339.1 60.6,350.5 61.6,347.3 62.6,337.6 63.6,337.6 64.6,356.8 65.6,356.6 66.6,351.5 67.6,354.2 68.6,356.1 69.6,355.6 70.6,369.7 71.6,367.2 72.6,369.1 73.6,365.8 74.6,361.6 75.6,366.1 76.6,363.3 77.6,363.1 78.6,363.9 79.6,364.5 80.6,366.2 81.6,370.5 82.6,371.1 83.6,368.4 84.6,371.8 85.6,372.6 86.6,371.3 87.6,372.4 88.6,373.3 89.6,373.7 90.6,373.2 91.6,374.6 92.6,375.5 93.6,375.4 94.6,376.8 95.6,378.5 96.6,380.5 97.6,380.7 98.6,382.1 99.6,384.2 100.6,388.1 101.6,386.9 102.6,387.1 103.6,389.1 104.6,388.3 105.6,391.7 106.6,394 107.6,394.2 108.6,397.4 109.6,398.1 110.6,399.2 111.6,400.8 112.6,400.5 113.6,400.1 114.6,399.4 115.6,398.9 116.6,394.4 117.6,395.2 118.6,390.5 119.6,382.5 120.6,373.5 121.6,366.9 122.6,357.5 123.6,346.2 124.6,343.2 125.6,339.4 126.6,333.5 127.6,333.1 128.6,333.6 129.6,337.5 130.6,342.6 131.6,344.1 132.6,343.1 133.6,340.3 134.6,343.4 135.6,345.5 136.6,346.6 137.6,352.1 138.6,357.2 139.6,365.7 140.6,370.6 141.6,370.8 142.6,373.4 143.6,376.9 144.6,377.3 145.5,374.9 146.5,376.3 147.5,377.3 148.5,381 149.5,381.3 150.5,388.5 151.5,391.2 152.5,390.1 153.5,387.1 154.5,390.8 155.5,395.4 156.5,398.4 157.5,401 158.5,400.3 159.5,406.4 160.5,406 161.5,410.1 162.5,413.4 163.5,415.8 164.5,414.2 165.5,411.7 166.5,403.1 167.5,397 168.5,387.9 169.5,383.9 170.5,380.8 171.5,370 172.5,358.6 173.5,354.3 174.5,354 175.5,354.4 176.5,358.3 177.5,359.4 178.5,362.8 179.5,365.8 180.5,367.4 181.5,366.4 182.5,366.8 183.5,369.3 184.5,369.2 185.5,369.8 186.5,372.4 187.5,373 188.5,373.4 189.5,373.1 190.5,371.2 191.5,371.6 192.5,374.5 193.5,373.5 194.5,372.3 195.5,373 196.5,376.2 197.5,373.7 198.5,371.1 199.5,372.3 200.5,373.6 201.5,373.4 202.5,372 203.5,373.1 204.5,372.2 205.5,371.1 206.5,371.2 207.5,371.9 208.5,372.5 209.5,373.4 210.5,372.1 211.5,373 212.5,374.7" stroke="#00C098" stroke-width="0.75"/>
<polyline points="57.6,383.3 58.6,372.6 59.6,344.7 60.6,356.3 61.6,353.8 62.6,348.4 63.6,345.8 64.6,358.2 65.6,367.3 66.6,367.4 67.6,362.8 68.6,360.9 69.6,366.7 70.6,372.4 71.6,374 72.6,366.4 73.6,373.1 74.6,376 75.6,377 76.6,375.9 77.6,378.2 78.6,380.1 79.6,382.4 80.6,384 81.6,385.4 82.6,383.6 83.6,383 84.6,384.3 85.6,384.5 86.6,384.9 87.6,386.6 88.6,387.3 89.6,387.1 90.6,389.5 91.6,389.7 92.6,390.2 93.6,392.3 94.6,390.7 95.6,392.5 96.6,391.6 97.6,390.3 98.6,391.4 99.6,393.2 100.6,393 101.6,390.7 102.6,392 103.6,390.5 104.6,389.1 105.6,388.2 106.6,388.7 107.6,391.1 108.6,392.2 109.6,392.7 110.6,392 111.6,390.8 112.6,391.3 113.6,393.3 114.6,394.4 115.6,394.5 116.6,395.7 117.6,396.1 118.6,396.5 119.6,400.8 120.6,404.9 121.6,407.8 122.6,412 123.6,413.1 124.6,412.6 125.6,408.1 126.6,409.1 127.6,408 128.6,403.5 129.6,400.8 130.6,394.5 131.6,388.5 132.6,377.2 133.6,366 134.6,352.6 135.6,341.2 136.6,329.2 137.6,324.9 138.6,323.2 139.6,322.5 140.6,322.5 141.6,322.5 142.6,323.3 143.6,324.2 144.6,323.6 145.5,322.6 146.5,326.9 147.5,332.2 148.5,333.4 149.5,333.7 150.5,341 151.5,345.5 152.5,352.7 153.5,359.7 154.5,361.9 155.5,366.5 156.5,372.1 157.5,377.2 158.5,382.2 159.5,386.2 160.5,382.6 161.5,380.9 162.5,384.7 163.5,386.6 164.5,384.8 165.5,387.9 166.5,394.2 167.5,401.8 168.5,407.8 169.5,413.3 170.5,410.9 171.5,412 172.5,412.1 173.5,412 174.5,411.4 175.5,412.3 176.5,412.9 177.5,411.6 178.5,412.6 179.5,412 180.5,408.1 181.5,404.3 182.5,402 183.5,400.1 184.5,397.4 185.5,393 186.5,389.6 187.5,386 188.5,383.6 189.5,381.3 190.5,378.8 191.5,376 192.5,377 193.5,377.8 194.5,375.2 195.5,373 196.5,372.6 197.5,372.8 198.5,371.4 199.5,371.2 200.5,373.2 201.5,373.4 202.5,373.5 203.5,374.9 204.5,374.8 205.5,373.6 206.5,372 207.5,371.1 208.5,372.4 209.5,372.4 210.5,371.5 211.5,371.6 212.5,372.7" stroke="#00C1A8" stroke-width="0.75"/>
<polyline points="57.6,361.3 58.6,340.3 59.6,352.5 60.6,353.5 61.6,366.4 62.6,371.2 63.6,362.4 64.6,370.5 65.6,374.1 66.6,363.8 67.6,377.3 68.6,367.4 69.6,374.9 70.6,375.8 71.6,383.3 72.6,375.3 73.6,375.2 74.6,376 75.6,378.8 76.6,381.1 77.6,379.7 78.6,382 79.6,381.6 80.6,381.9 81.6,381 82.6,383.2 83.6,386.1 84.6,385.2 85.6,384.1 86.6,384.2 87.6,388.1 88.6,387.4 89.6,386.3 90.6,386.8 91.6,388.4 92.6,386.7 93.6,386.9 94.6,386.4 95.6,384.9 96.6,384.2 97.6,382.9 98.6,383.6 99.6,389.2 100.6,392.7 101.6,396.5 102.6,397.5 103.6,395.5 104.6,399.2 105.6,397.2 106.6,399.4 107.6,401.2 108.6,408 109.6,413.1 110.6,415.1 111.6,412.1 112.6,406.4 113.6,401.2 114.6,402.7 115.6,399.5 116.6,398.1 117.6,389.9 118.6,374.9 119.6,361.7 120.6,347.3 121.6,332.3 122.6,322.5 123.6,322.5 124.6,323.3 125.6,327.7 126.6,328.4 127.6,331.7 128.6,330.8 129.6,331.7 130.6,334.7 131.6,340.2 132.6,344.1 133.6,342.5 134.6,343.9 135.6,345.9 136.6,354.1 137.6,356 138.6,366 139.6,369.2 140.6,376.4 141.6,379.7 142.6,381.6 143.6,382.4 144.6,386.1 145.5,399.2 146.5,405.4 147.5,404.3 148.5,415.8 149.5,423.7 150.5,419.4 151.5,419.4 152.5,422.1 153.5,418.8 154.5,413.2 155.5,405.8 156.5,399.1 157.5,398.2 158.5,397.3 159.5,395.3 160.5,390.1 161.5,383.2 162.5,378.6 163.5,371.7 164.5,361 165.5,354.6 166.5,348.5 167.5,345.3 168.5,343.7 169.5,346.3 170.5,352.9 171.5,359.4 172.5,358.2 173.5,361.6 174.5,363.7 175.5,363.6 176.5,365.6 177.5,370.5 178.5,372.5 179.5,374.8 180.5,372.4 181.5,368.9 182.5,370.9 183.5,372.6 184.5,374.8 185.5,374.4 186.5,373.8 187.5,369.4 188.5,371.7 189.5,373.2 190.5,371.9 191.5,373 192.5,372.5 193.5,369.8 194.5,369.2 195.5,369.7 196.5,370.6 197.5,370.9 198.5,372.6 199.5,371.8 200.5,368.2 201.5,367.7 202.5,369.9 203.5,371 204.5,373.2 205.5,371 206.5,368.6 207.5,370.8 208.5,372.6 209.5,371 210.5,370.5 211.5,370.4 212.5,370.1" stroke="#00C0B7" stroke-width="0.75"/>
<polyline points="57.6,399 58.6,361 59.6,379.4 60.6,379.3 61.6,359.1 62.6,358.4 63.6,340.4 64.6,355.1 65.6,357.8 66.6,369.6 67.6,367 68.6,358.4 69.6,363.3 70.6,361.3 71.6,370.8 72.6,375.5 73.6,374.2 74.6,375.7 75.6,378.3 76.6,376.8 77.6,375.4 78.6,378.1 79.6,379.1 80.6,378.9 81.6,377.9 82.6,380.3 83.6,380.4 84.6,383.5 85.6,384.1 86.6,384.3 87.6,382.4 88.6,384.6 89.6,386.2 90.6,386.7 91.6,387.7 92.6,386.3 93.6,386.8 94.6,390.1 95.6,388.3 96.6,391.8 97.6,390.8 98.6,391.7 99.6,391 100.6,391.8 101.6,391.1 102.6,389.4 103.6,391.9 104.6,391.9 105.6,391.7 106.6,391.3 107.6,392.3 108.6,393.1 109.6,393.3 110.6,392.9 111.6,394.5 112.6,399.1 113.6,402.4 114.6,404.1 115.6,403.1 116.6,405.5 117.6,406.1 118.6,407.1 119.6,409.1 120.6,410.8 121.6,410.6 122.6,405.3 123.6,401.4 124.6,395.9 125.6,389.3 126.6,381.5 127.6,369.6 128.6,358 129.6,345.2 130.6,332.3 131.6,322.8 132.6,322.5 133.6,322.7 134.6,322.5 135.6,322.5 136.6,325.5 137.6,327.2 138.6,325.3 139.6,323.5 140.6,328.5 141.6,337.2 142.6,348.3 143.6,355.6 144.6,363.6 145.5,367.2 146.5,370.9 147.5,372.3 148.5,373.5 149.5,377.3 150.5,378.1 151.5,380.4 152.5,384.5 153.5,386.1 154.5,387.5 155.5,392.7 156.5,398.6 157.5,399.6 158.5,402.2 159.5,405.2 160.5,409 161.5,413.8 162.5,421.2 163.5,423 164.5,424.7 165.5,422.5 166.5,417.9 167.5,411 168.5,405.7 169.5,392.6 170.5,381.2 171.5,371.2 172.5,364.6 173.5,356.4 174.5,349.1 175.5,346.7 176.5,349.9 177.5,353.3 178.5,355.3 179.5,358.9 180.5,361.8 181.5,364.2 182.5,364.3 183.5,364.4 184.5,368 185.5,370.1 186.5,372.3 187.5,371.1 188.5,371.1 189.5,370.6 190.5,368.8 191.5,370.7 192.5,371.6 193.5,371.9 194.5,372.2 195.5,372.8 196.5,371.1 197.5,370 198.5,371.5 199.5,374.9 200.5,372.9 201.5,373 202.5,371.1 203.5,371.4 204.5,373.5 205.5,373.1 206.5,371.9 207.5,370.7 208.5,369.9 209.5,371.7 210.5,372.5 211.5,372.1 212.5,370.9" stroke="#00BFC4" stroke-width="0.75"/>
<polyline points="57.6,371.9 58.6,367.7 59.6,358.2 60.6,336.9 61.6,343.8 62.6,347.9 63.6,336.7 64.6,373.9 65.6,364.3 66.6,355.3 67.6,348.7 68.6,353.8 69.6,370 70.6,371.8 71.6,363 72.6,369.4 73.6,371 74.6,366.7 75.6,369 76.6,375.7 77.6,382.3 78.6,380.6 79.6,383.1 80.6,382.4 81.6,381.2 82.6,382.3 83.6,383.6 84.6,384.8 85.6,385.6 86.6,385.8 87.6,387.7 88.6,389.4 89.6,389.7 90.6,394 91.6,393.9 92.6,391.6 93.6,394.3 94.6,394.1 95.6,395.4 96.6,397 97.6,396.4 98.6,397.7 99.6,397.3 100.6,396.5 101.6,398 102.6,398.5 103.6,395.9 104.6,394.8 105.6,396.9 106.6,395.8 107.6,398 108.6,397.7 109.6,394 110.6,395.5 111.6,396.5 112.6,397.2 113.6,397.4 114.6,395.8 115.6,395.2 116.6,395.5 117.6,394.7 118.6,392.7 119.6,392 120.6,391.9 121.6,396.5 122.6,397.9 123.6,402.8 124.6,405.3 125.6,411.7 126.6,411.2 127.6,412.8 128.6,412.1 129.6,409.4 130.6,406.3 131.6,407 132.6,404.3 133.6,401.5 134.6,392.4 135.6,376.7 136.6,356.8 137.6,337.6 138.6,327.9 139.6,327.6 140.6,329.9 141.6,325.1 142.6,325.4 143.6,328.4 144.6,328.7 145.5,327.8 146.5,334.1 147.5,342.2 148.5,348.7 149.5,354.9 150.5,363.5 151.5,370.2 152.5,372.9 153.5,378.5 154.5,383.5 155.5,388.9 156.5,392.2 157.5,394.1 158.5,399.8 159.5,401.3 160.5,404.7 161.5,406.8 162.5,410.1 163.5,409.2 164.5,411.1 165.5,412.5 166.5,409.9 167.5,409 168.5,408.3 169.5,407.9 170.5,401.1 171.5,397.3 172.5,390 173.5,380.3 174.5,367.3 175.5,360.2 176.5,355.4 177.5,354.5 178.5,357.9 179.5,360.6 180.5,362.1 181.5,364.4 182.5,364.1 183.5,363.5 184.5,366.3 185.5,367.8 186.5,367.2 187.5,368.8 188.5,369.3 189.5,366.8 190.5,366.8 191.5,369.4 192.5,369.7 193.5,369.7 194.5,369.3 195.5,371.1 196.5,372.4 197.5,372.6 198.5,370.9 199.5,368.6 200.5,370.6 201.5,367.8 202.5,368.9 203.5,371.2 204.5,370.7 205.5,370.1 206.5,371.3 207.5,372 208.5,373.6 209.5,370.3 210.5,370.4 211.5,371.5 212.5,367.7" stroke="#00BDD1" stroke-width="0.75"/>
<polyline points="57.6,364.4 58.6,358.6 59.6,368.6 60.6,371 61.6,352.2 62.6,344.8 63.6,377.2 64.6,365.4 65.6,362.8 66.6,370 67.6,371.7 68.6,370.8 69.6,371.2 70.6,370.6 71.6,372.8 72.6,372.7 73.6,373.7 74.6,369.9 75.6,371.2 76.6,373.3 77.6,371.5 78.6,373.1 79.6,372 80.6,373.7 81.6,375.4 82.6,372.2 83.6,373.3 84.6,376 85.6,373.1 86.6,373.9 87.6,375.6 88.6,375.5 89.6,376.8 90.6,377.7 91.6,380.3 92.6,379.5 93.6,379.6 94.6,379.7 95.6,379.9 96.6,379.8 97.6,380.1 98.6,382.4 99.6,384.4 100.6,388.2 101.6,386.6 102.6,389.1 103.6,388.9 104.6,386.4 105.6,383.1 106.6,381.4 107.6,375.6 108.6,368.6 109.6,361.3 110.6,348 111.6,338.4 112.6,334.9 113.6,338.4 114.6,341.9 115.6,345.9 116.6,346.9 117.6,343.7 118.6,344.1 119.6,340.4 120.6,335.2 121.6,332.2 122.6,330 123.6,332.9 124.6,337.8 125.6,344.1 126.6,348.5 127.6,349.5 128.6,351.6 129.6,356.8 130.6,361.5 131.6,362.8 132.6,366.8 133.6,375.7 134.6,376 135.6,379.9 136.6,387.3 137.6,393.3 138.6,395.9 139.6,395 140.6,400.1 141.6,406.7 142.6,411.7 143.6,416 144.6,413.1 145.5,412.7 146.5,411.3 147.5,412.7 148.5,414.9 149.5,417.4 150.5,417.2 151.5,410.4 152.5,407.8 153.5,403.5 154.5,400.2 155.5,389.5 156.5,378.4 157.5,364.1 158.5,355.8 159.5,345.1 160.5,332.5 161.5,326.8 162.5,329.4 163.5,329.6 164.5,329.2 165.5,330.3 166.5,324.9 167.5,325.2 168.5,330 169.5,333.9 170.5,338.5 171.5,341.4 172.5,356.6 173.5,372.8 174.5,387.3 175.5,397.2 176.5,403.8 177.5,408 178.5,408.2 179.5,407 180.5,405.2 181.5,402.9 182.5,399.2 183.5,396.2 184.5,393 185.5,389.6 186.5,387.8 187.5,384.4 188.5,382.8 189.5,380.9 190.5,378.6 191.5,377.4 192.5,377.5 193.5,377 194.5,375.3 195.5,374.4 196.5,372.8 197.5,371.5 198.5,371 199.5,371.7 200.5,372.5 201.5,373.2 202.5,374 203.5,373.6 204.5,371.9 205.5,371.8 206.5,371.7 207.5,372.7 208.5,374.3 209.5,374.6 210.5,373.9 211.5,373.5 212.5,373" stroke="#00BBDD" stroke-width="0.75"/>
<polyline points="57.6,383.2 58.6,375.4 59.6,367.7 60.6,362.1 61.6,358 62.6,370 63.6,367.7 64.6,376 65.6,372.2 66.6,365.4 67.6,369.7 68.6,369.1 69.6,367.2 70.6,365.6 71.6,364.6 72.6,368.7 73.6,365.1 74.6,366.5 75.6,363.3 76.6,368.1 77.6,368.9 78.6,369.4 79.6,370.3 80.6,369.4 81.6,367 82.6,369.2 83.6,369.9 84.6,369.7 85.6,369.3 86.6,369 87.6,369.2 88.6,370.4 89.6,371.1 90.6,370.6 91.6,373.2 92.6,373.9 93.6,373.4 94.6,374 95.6,375.6 96.6,377.1 97.6,379.6 98.6,381.7 99.6,383.9 100.6,383.5 101.6,384.9 102.6,390.8 103.6,395.4 104.6,399 105.6,401.7 106.6,405.9 107.6,410.6 108.6,415.8 109.6,416.6 110.6,414.7 111.6,407.8 112.6,401.1 113.6,392.8 114.6,390.1 115.6,386 116.6,380.4 117.6,373.8 118.6,364.9 119.6,355.8 120.6,342.2 121.6,330.4 122.6,325.3 123.6,322.5 124.6,323.5 125.6,324.1 126.6,325.6 127.6,325.1 128.6,329.7 129.6,333.7 130.6,333.8 131.6,331 132.6,333.1 133.6,340.1 134.6,347.4 135.6,353.3 136.6,357.3 137.6,360.5 138.6,362.9 139.6,371.7 140.6,372.2 141.6,370.6 142.6,375.4 143.6,377.8 144.6,379 145.5,382 146.5,384.8 147.5,387.3 148.5,391.6 149.5,395.5 150.5,401 151.5,405.2 152.5,408.7 153.5,407.1 154.5,406.2 155.5,405.3 156.5,406.2 157.5,406.3 158.5,407.4 159.5,408.5 160.5,409.8 161.5,409.5 162.5,404 163.5,398.1 164.5,392.2 165.5,387.6 166.5,382.5 167.5,378 168.5,377.9 169.5,375.5 170.5,372.9 171.5,371.9 172.5,371.9 173.5,372.7 174.5,372.8 175.5,371.5 176.5,374.3 177.5,374.2 178.5,373.4 179.5,374.4 180.5,371.4 181.5,372.4 182.5,375.2 183.5,375.7 184.5,374.3 185.5,373.9 186.5,374.3 187.5,374 188.5,373.4 189.5,374.2 190.5,375.3 191.5,374.1 192.5,373.6 193.5,375.5 194.5,374.1 195.5,372.7 196.5,374.3 197.5,372.3 198.5,372.5 199.5,372.1 200.5,371.4 201.5,372.3 202.5,371.8 203.5,372.1 204.5,371.4 205.5,372.4 206.5,372.8 207.5,373.4 208.5,374.3 209.5,372.9 210.5,371.5 211.5,374.1 212.5,373.7" stroke="#00B7E8" stroke-width="0.75"/>
<polyline points="57.6,378.7 58.6,383 59.6,374 60.6,372.6 61.6,366.5 62.6,363.4 63.6,362.5 64.6,380 65.6,384.5 66.6,374.6 67.6,375.4 68.6,373.6 69.6,378.7 70.6,365 71.6,366.3 72.6,371.8 73.6,369.8 74.6,370.8 75.6,371.6 76.6,369.3 77.6,370 78.6,372.6 79.6,374.4 80.6,375.4 81.6,377.3 82.6,375.5 83.6,376.3 84.6,377.2 85.6,376.6 86.6,375.5 87.6,377.8 88.6,378.3 89.6,379.3 90.6,381.1 91.6,381.2 92.6,378.8 93.6,380 94.6,381.3 95.6,381.2 96.6,382.9 97.6,383.8 98.6,384.8 99.6,384.4 100.6,385.4 101.6,382.6 102.6,378 103.6,375.3 104.6,368.9 105.6,361.8 106.6,356.9 107.6,352.6 108.6,347.5 109.6,341.5 110.6,338.6 111.6,336.4 112.6,334.9 113.6,332.5 114.6,325.9 115.6,328.7 116.6,335.7 117.6,341.9 118.6,345.4 119.6,350 120.6,354.9 121.6,359.2 122.6,362.4 123.6,368.3 124.6,372.8 125.6,375.9 126.6,376.4 127.6,381.8 128.6,386.4 129.6,393.6 130.6,400.4 131.6,401 132.6,398.1 133.6,401.4 134.6,410.1 135.6,415.1 136.6,418.9 137.6,427.3 138.6,427.3 139.6,426.7 140.6,423.3 141.6,421.3 142.6,415 143.6,410 144.6,408.1 145.5,402.5 146.5,399.5 147.5,395.7 148.5,387.4 149.5,373.2 150.5,358 151.5,346.3 152.5,333.2 153.5,322.5 154.5,322.5 155.5,325.1 156.5,331.2 157.5,337.3 158.5,337.4 159.5,335.5 160.5,330.6 161.5,331 162.5,336.6 163.5,342.8 164.5,348.5 165.5,352.5 166.5,355.8 167.5,360.2 168.5,362.2 169.5,365.7 170.5,370.3 171.5,373.2 172.5,374.7 173.5,374.1 174.5,374.3 175.5,371.7 176.5,374.3 177.5,375.6 178.5,376 179.5,375.5 180.5,376 181.5,374.1 182.5,374.7 183.5,372.8 184.5,375.7 185.5,375.6 186.5,375.5 187.5,374.8 188.5,373.7 189.5,373.1 190.5,371.3 191.5,372.4 192.5,374.4 193.5,375.5 194.5,374.5 195.5,374.3 196.5,373.3 197.5,373.7 198.5,374.3 199.5,372.8 200.5,374.2 201.5,373.6 202.5,372.4 203.5,374 204.5,374 205.5,374.7 206.5,377.4 207.5,375.9 208.5,375.7 209.5,374.1 210.5,373.9 211.5,375.2 212.5,373.4" stroke="#00B3F1" stroke-width="0.75"/>
<polyline points="57.6,357.2 58.6,397.3 59.6,381.1 60.6,361.7 61.6,332.4 62.6,360.2 63.6,363.7 64.6,381.6 65.6,370.6 66.6,362.8 67.6,368 68.6,374.8 69.6,370.4 70.6,374.7 71.6,379.4 72.6,377.1 73.6,380.4 74.6,384 75.6,375.6 76.6,374.6 77.6,372 78.6,372 79.6,372.4 80.6,375.7 81.6,375.8 82.6,377.8 83.6,375.3 84.6,374.5 85.6,377.4 86.6,378.5 87.6,377.7 88.6,379.4 89.6,380.5 90.6,379.8 91.6,379.6 92.6,376.4 93.6,377 94.6,378.5 95.6,379.3 96.6,382.3 97.6,382.5 98.6,384.3 99.6,386.3 100.6,389.1 101.6,391.6 102.6,395.4 103.6,398.8 104.6,402.3 105.6,405.8 106.6,403.1 107.6,404.2 108.6,404.7 109.6,407.3 110.6,410.2 111.6,416.6 112.6,416.7 113.6,416.5 114.6,415.2 115.6,411.4 116.6,401.5 117.6,390.3 118.6,377.1 119.6,361.6 120.6,352.3 121.6,346.8 122.6,335.2 123.6,324.8 124.6,322.5 125.6,322.5 126.6,329.7 127.6,334 128.6,331.7 129.6,332.5 130.6,334 131.6,332.9 132.6,335.3 133.6,339.5 134.6,337.6 135.6,340 136.6,338.3 137.6,340.9 138.6,351.1 139.6,364.5 140.6,368.9 141.6,367 142.6,374.4 143.6,374 144.6,375.9 145.5,382.4 146.5,387.2 147.5,383.8 148.5,381.2 149.5,379.1 150.5,383.2 151.5,388.2 152.5,388.3 153.5,392.3 154.5,401.8 155.5,405.8 156.5,412.3 157.5,409.1 158.5,412.4 159.5,417.7 160.5,422.3 161.5,419.9 162.5,421.4 163.5,420.4 164.5,421.3 165.5,418.9 166.5,421 167.5,417.8 168.5,407.8 169.5,400.5 170.5,393.4 171.5,387.3 172.5,379.5 173.5,369.9 174.5,363.7 175.5,359 176.5,353.2 177.5,352.4 178.5,356.4 179.5,361.2 180.5,362.2 181.5,366.3 182.5,367.5 183.5,367.9 184.5,368.2 185.5,370.3 186.5,366.9 187.5,369.6 188.5,369.2 189.5,367.2 190.5,369.2 191.5,369.1 192.5,370.6 193.5,369.4 194.5,370 195.5,371.8 196.5,372.8 197.5,373.4 198.5,373.6 199.5,370.1 200.5,370.2 201.5,368.5 202.5,367.6 203.5,367.3 204.5,371.3 205.5,373 206.5,373.9 207.5,372.9 208.5,372 209.5,371.5 210.5,371.6 211.5,372.4 212.5,370.1" stroke="#00AEFA" stroke-width="0.75"/>
<polyline points="57.6,391.9 58.6,390.3 59.6,384.9 60.6,380 61.6,383.8 62.6,366.9 63.6,370.9 64.6,377.5 65.6,373.7 66.6,395.8 67.6,376.6 68.6,377.9 69.6,384.8 70.6,382.9 71.6,376.7 72.6,374.8 73.6,371.5 74.6,376.6 75.6,379.1 76.6,378.5 77.6,383.9 78.6,387.9 79.6,388.2 80.6,387.4 81.6,385.7 82.6,388.1 83.6,390.2 84.6,389.1 85.6,388.9 86.6,389.9 87.6,388.4 88.6,386.8 89.6,388.9 90.6,388.9 91.6,389.5 92.6,391.2 93.6,393.9 94.6,393.7 95.6,392.4 96.6,393.6 97.6,391.5 98.6,394.6 99.6,396.1 100.6,398.9 101.6,396.5 102.6,394.7 103.6,395.6 104.6,393.4 105.6,395.1 106.6,399.1 107.6,398.8 108.6,398.6 109.6,399.7 110.6,400 111.6,399.8 112.6,396.8 113.6,394.9 114.6,392.5 115.6,384.6 116.6,373.8 117.6,361.9 118.6,351.5 119.6,338.2 120.6,333.1 121.6,335.5 122.6,330.8 123.6,327.4 124.6,328.3 125.6,322.5 126.6,326.3 127.6,326.6 128.6,335.7 129.6,346.7 130.6,352.8 131.6,354.9 132.6,354.4 133.6,360.9 134.6,364 135.6,364 136.6,366.8 137.6,374.9 138.6,383.1 139.6,386.1 140.6,384.2 141.6,385.6 142.6,387.8 143.6,395.8 144.6,401.6 145.5,406.8 146.5,408.1 147.5,408.6 148.5,410.8 149.5,417.3 150.5,420 151.5,421.7 152.5,416.3 153.5,410.5 154.5,404.6 155.5,397.3 156.5,389.7 157.5,385.8 158.5,369.8 159.5,360.7 160.5,351.6 161.5,346.4 162.5,341.7 163.5,337.5 164.5,339.4 165.5,336.6 166.5,333.4 167.5,334.6 168.5,333.9 169.5,340.8 170.5,354.2 171.5,364.4 172.5,367.6 173.5,372.5 174.5,376.8 175.5,385.5 176.5,391.3 177.5,394.7 178.5,398.9 179.5,402.7 180.5,405.4 181.5,407.5 182.5,408.6 183.5,408.8 184.5,407.5 185.5,404.1 186.5,402.5 187.5,400.2 188.5,397.7 189.5,394 190.5,390.3 191.5,388.2 192.5,385.7 193.5,382.8 194.5,379.9 195.5,378.4 196.5,379.2 197.5,378.6 198.5,376.6 199.5,374.5 200.5,373 201.5,372.4 202.5,373.4 203.5,374.9 204.5,374.9 205.5,373.2 206.5,371.6 207.5,371.2 208.5,371.4 209.5,373.1 210.5,374.7 211.5,374.1 212.5,373.1" stroke="#00A8FF" stroke-width="0.75"/>
<polyline points="57.6,363.5 58.6,365.8 59.6,356.2 60.6,363.1 61.6,366.8 62.6,350.6 63.6,365.3 64.6,365.8 65.6,366.8 66.6,367.2 67.6,362.7 68.6,372.7 69.6,372.5 70.6,366.2 71.6,362.6 72.6,368.8 73.6,374.2 74.6,372.6 75.6,373.9 76.6,372.5 77.6,373.7 78.6,375.5 79.6,375.9 80.6,376.7 81.6,375 82.6,374.2 83.6,373.1 84.6,374.3 85.6,375.8 86.6,377.6 87.6,377.4 88.6,378 89.6,380.8 90.6,381.9 91.6,382 92.6,383.7 93.6,385.3 94.6,385.2 95.6,386.8 96.6,386.7 97.6,388 98.6,388.5 99.6,388.7 100.6,388.9 101.6,389.2 102.6,388.4 103.6,390.1 104.6,390.8 105.6,392.1 106.6,392.7 107.6,393.9 108.6,395.1 109.6,398.1 110.6,401 111.6,403.4 112.6,407 113.6,408.8 114.6,411.4 115.6,405.8 116.6,401.5 117.6,396 118.6,394.9 119.6,391.7 120.6,388.3 121.6,380.5 122.6,373.3 123.6,361.9 124.6,351.6 125.6,338.8 126.6,331.8 127.6,326.4 128.6,326.8 129.6,327.3 130.6,334.5 131.6,334.6 132.6,329.2 133.6,326.5 134.6,324.3 135.6,322.5 136.6,326.3 137.6,331.1 138.6,336.7 139.6,342.6 140.6,349.3 141.6,358.1 142.6,362.8 143.6,365.7 144.6,368.9 145.5,377.2 146.5,373.7 147.5,371.1 148.5,372.5 149.5,378.2 150.5,384.8 151.5,389.4 152.5,393.1 153.5,394.3 154.5,393.1 155.5,397.6 156.5,403.3 157.5,407.6 158.5,411.6 159.5,415.2 160.5,417.8 161.5,419.3 162.5,417.4 163.5,410.2 164.5,402.7 165.5,400 166.5,389.9 167.5,384.3 168.5,381.1 169.5,377.1 170.5,374.7 171.5,371.6 172.5,366.4 173.5,366.8 174.5,368.2 175.5,370.3 176.5,369.9 177.5,371.6 178.5,373.9 179.5,373.5 180.5,374.3 181.5,371.3 182.5,372.1 183.5,372.4 184.5,372.6 185.5,372.9 186.5,374.2 187.5,373.8 188.5,373 189.5,374.1 190.5,372.3 191.5,371.8 192.5,371.8 193.5,370.5 194.5,372.1 195.5,373.3 196.5,372.6 197.5,371.4 198.5,369.6 199.5,371.1 200.5,371.8 201.5,371.9 202.5,371.5 203.5,372.9 204.5,373.1 205.5,372.5 206.5,373.6 207.5,372.3 208.5,372.6 209.5,372.3 210.5,370.9 211.5,370.7 212.5,371.6" stroke="#3DA1FF" stroke-width="0.75"/>
<polyline points="57.6,398.5 58.6,379.4 59.6,360.3 60.6,341.1 61.6,352.4 62.6,346.1 63.6,352 64.6,362.8 65.6,351 66.6,354.1 67.6,351.3 68.6,357.6 69.6,353.5 70.6,360.1 71.6,368.5 72.6,366.2 73.6,358.7 74.6,362.6 75.6,363.7 76.6,362.6 77.6,361.7 78.6,364.5 79.6,365.3 80.6,367.5 81.6,369.3 82.6,364.7 83.6,363.6 84.6,364 85.6,366.7 86.6,367.3 87.6,367.7 88.6,366.3 89.6,368.3 90.6,370.1 91.6,370.3 92.6,370.1 93.6,370.7 94.6,373.2 95.6,373.2 96.6,373.1 97.6,374.1 98.6,374.3 99.6,369 100.6,367.5 101.6,366.4 102.6,364.6 103.6,364.4 104.6,363.1 105.6,366.3 106.6,367.7 107.6,371.1 108.6,374.6 109.6,377.1 110.6,380.6 111.6,379.9 112.6,379 113.6,376.3 114.6,376.3 115.6,378.9 116.6,383.5 117.6,387.5 118.6,388.8 119.6,389 120.6,387.4 121.6,392.5 122.6,397.2 123.6,400 124.6,404.2 125.6,406 126.6,408 127.6,408.8 128.6,414.1 129.6,415.4 130.6,417.1 131.6,414.4 132.6,408.7 133.6,399.9 134.6,389.6 135.6,386.7 136.6,383.8 137.6,377.2 138.6,364.7 139.6,350.6 140.6,339.9 141.6,331.8 142.6,328.9 143.6,324.2 144.6,322.5 145.5,322.5 146.5,322.5 147.5,322.5 148.5,323.3 149.5,323.5 150.5,326.4 151.5,335.1 152.5,342.9 153.5,347.9 154.5,353.5 155.5,359.8 156.5,362.8 157.5,359.6 158.5,358.7 159.5,365.1 160.5,373.3 161.5,377.5 162.5,376.6 163.5,383.1 164.5,386 165.5,382.9 166.5,380.6 167.5,381.9 168.5,385.8 169.5,386.8 170.5,387.3 171.5,384.8 172.5,384.9 173.5,384.5 174.5,382.9 175.5,382.4 176.5,379.7 177.5,380.1 178.5,377.2 179.5,375.7 180.5,375.7 181.5,374.4 182.5,376.7 183.5,373.9 184.5,376.2 185.5,375 186.5,376.5 187.5,374.1 188.5,375.3 189.5,373.8 190.5,372.3 191.5,375.6 192.5,374.8 193.5,372 194.5,374.4 195.5,373.7 196.5,373.2 197.5,374.9 198.5,376.5 199.5,375.7 200.5,375.5 201.5,374.2 202.5,374.5 203.5,373.5 204.5,374.1 205.5,375 206.5,375.4 207.5,374 208.5,374.3 209.5,374.6 210.5,374.6 211.5,374.7 212.5,375.4" stroke="#6F99FF" stroke-width="0.75"/>
<polyline points="57.6,378 58.6,376.3 59.6,376.5 60.6,366.3 61.6,363.1 62.6,330.3 63.6,345 64.6,340.5 65.6,353.8 66.6,365 67.6,370.8 68.6,375.8 69.6,358.7 70.6,358 71.6,367.8 72.6,364.8 73.6,361.8 74.6,365.5 75.6,369.3 76.6,370 77.6,369.5 78.6,370.8 79.6,371.1 80.6,371.8 81.6,374.7 82.6,373.8 83.6,375.1 84.6,375 85.6,374.7 86.6,376.4 87.6,375.5 88.6,379 89.6,380 90.6,379.7 91.6,379.2 92.6,379.7 93.6,379.2 94.6,381.6 95.6,379.8 96.6,381.9 97.6,383.1 98.6,382.2 99.6,383.2 100.6,384.1 101.6,384.4 102.6,386.5 103.6,388.3 104.6,389.3 105.6,390.5 106.6,391.7 107.6,391.8 108.6,393.6 109.6,394.2 110.6,395.7 111.6,395.9 112.6,392.3 113.6,381.1 114.6,371.6 115.6,359.7 116.6,347.7 117.6,337.8 118.6,325.3 119.6,325.3 120.6,326.4 121.6,322.5 122.6,322.9 123.6,324.7 124.6,327.7 125.6,326.1 126.6,327.3 127.6,327.6 128.6,323.2 129.6,322.5 130.6,328.2 131.6,335.6 132.6,343.7 133.6,353.7 134.6,363.8 135.6,369.2 136.6,372 137.6,370.9 138.6,380.6 139.6,389.3 140.6,391.9 141.6,392.2 142.6,393.8 143.6,395.5 144.6,395.9 145.5,395.7 146.5,397.8 147.5,397 148.5,393.5 149.5,395.2 150.5,397.7 151.5,400.4 152.5,404.5 153.5,408.7 154.5,409.7 155.5,411.3 156.5,412.3 157.5,409 158.5,403.3 159.5,400.2 160.5,398 161.5,398.6 162.5,398.3 163.5,400.7 164.5,396.2 165.5,391.5 166.5,383.7 167.5,374.4 168.5,367.9 169.5,361.7 170.5,356.7 171.5,353.1 172.5,355.2 173.5,357.6 174.5,361.8 175.5,362.4 176.5,362.1 177.5,366.4 178.5,367.3 179.5,369 180.5,371 181.5,372.9 182.5,371.8 183.5,371.8 184.5,372.4 185.5,370.7 186.5,373.3 187.5,372.4 188.5,372.1 189.5,371.5 190.5,373.4 191.5,373.3 192.5,370 193.5,369.8 194.5,370 195.5,372.4 196.5,372.9 197.5,372.3 198.5,372.6 199.5,371.1 200.5,374.7 201.5,376 202.5,372.5 203.5,372.1 204.5,369.8 205.5,370.3 206.5,372.5 207.5,370.1 208.5,370.3 209.5,370.5 210.5,370.2 211.5,370.1 212.5,372.4" stroke="#8F91FF" stroke-width="0.75"/>
<polyline points="57.6,379.4 58.6,367 59.6,355.5 60.6,363.2 61.6,361.4 62.6,372.9 63.6,359 64.6,358.8 65.6,364.4 66.6,365.7 67.6,371 68.6,374.2 69.6,372.7 70.6,372.4 71.6,366.5 72.6,369 73.6,369 74.6,370.9 75.6,372.9 76.6,375.5 77.6,378.4 78.6,374.9 79.6,372.8 80.6,374.7 81.6,377.5 82.6,376.9 83.6,377.1 84.6,375.3 85.6,376.4 86.6,377.8 87.6,378.6 88.6,378.4 89.6,378.2 90.6,377.5 91.6,378.7 92.6,379.9 93.6,381.2 94.6,380.4 95.6,381.9 96.6,381.3 97.6,381.3 98.6,382.8 99.6,382.4 100.6,380.4 101.6,383 102.6,384.3 103.6,383 104.6,381.7 105.6,382.4 106.6,382.3 107.6,379.8 108.6,378.9 109.6,377.9 110.6,375.1 111.6,372.8 112.6,373.7 113.6,374.6 114.6,376.7 115.6,375.5 116.6,375.9 117.6,378.1 118.6,378.8 119.6,378.9 120.6,375.7 121.6,376.2 122.6,378.2 123.6,381.3 124.6,385.7 125.6,390.5 126.6,395.5 127.6,397.2 128.6,402.8 129.6,404.2 130.6,409.2 131.6,413.7 132.6,421.3 133.6,425.1 134.6,426.5 135.6,423.7 136.6,426 137.6,423.1 138.6,418 139.6,411.3 140.6,405.4 141.6,398.9 142.6,391.5 143.6,381.3 144.6,370.2 145.5,359.7 146.5,347.6 147.5,338.9 148.5,331.7 149.5,334.4 150.5,334.7 151.5,332 152.5,325.7 153.5,322.8 154.5,322.5 155.5,323 156.5,325.5 157.5,328.2 158.5,335.6 159.5,341.2 160.5,345.5 161.5,349.1 162.5,352.2 163.5,358.6 164.5,364.8 165.5,371.8 166.5,372.2 167.5,375.2 168.5,377.6 169.5,382.3 170.5,386.6 171.5,391.8 172.5,396.6 173.5,402.1 174.5,405.9 175.5,410.6 176.5,413.8 177.5,416.3 178.5,417.8 179.5,419.1 180.5,419.7 181.5,418.6 182.5,416.1 183.5,412.3 184.5,407.4 185.5,403.9 186.5,399.8 187.5,395.4 188.5,392.4 189.5,388.2 190.5,385.2 191.5,382.4 192.5,378.5 193.5,377 194.5,377.7 195.5,376.8 196.5,374.4 197.5,373.1 198.5,372.6 199.5,370.6 200.5,369.7 201.5,370 202.5,371.3 203.5,371.3 204.5,369.7 205.5,368.8 206.5,370.7 207.5,371.5 208.5,371.1 209.5,371.1 210.5,370.8 211.5,370.1 212.5,369.2" stroke="#A989FF" stroke-width="0.75"/>
<polyline points="57.6,361.9 58.6,396.5 59.6,374.7 60.6,350.3 61.6,336.9 62.6,330.6 63.6,361.5 64.6,357 65.6,356.7 66.6,366 67.6,378.3 68.6,376.2 69.6,367.2 70.6,366.1 71.6,362.2 72.6,370.1 73.6,370.7 74.6,373.4 75.6,371.6 76.6,375.6 77.6,373.6 78.6,370.7 79.6,372.2 80.6,375.8 81.6,376.1 82.6,379 83.6,379.3 84.6,377.9 85.6,379.1 86.6,379.4 87.6,380.2 88.6,381 89.6,379.6 90.6,380.2 91.6,384.2 92.6,382.3 93.6,383.8 94.6,384.6 95.6,385 96.6,383.8 97.6,386.2 98.6,386.3 99.6,388.3 100.6,390.4 101.6,390.1 102.6,390.6 103.6,392.1 104.6,390.3 105.6,390.3 106.6,392.9 107.6,391 108.6,391.5 109.6,389.8 110.6,391.8 111.6,391.6 112.6,388.5 113.6,390.1 114.6,397.6 115.6,405.8 116.6,409.5 117.6,414.1 118.6,413.3 119.6,410.1 120.6,403.8 121.6,396.5 122.6,384.5 123.6,371.8 124.6,363.6 125.6,352.7 126.6,339 127.6,335.4 128.6,335.2 129.6,337.5 130.6,341 131.6,341.5 132.6,342.3 133.6,347.8 134.6,357.3 135.6,355.7 136.6,355.7 137.6,360.6 138.6,366.1 139.6,368.1 140.6,375.7 141.6,383.1 142.6,384.2 143.6,384.9 144.6,394 145.5,399.8 146.5,405.6 147.5,407.6 148.5,404.5 149.5,406.3 150.5,408.4 151.5,409.6 152.5,413.1 153.5,412.7 154.5,410.3 155.5,406.4 156.5,403.3 157.5,392.2 158.5,385.1 159.5,375.9 160.5,365.4 161.5,352.5 162.5,343.5 163.5,336.1 164.5,333.2 165.5,331.7 166.5,331.1 167.5,334 168.5,338.9 169.5,341.4 170.5,345.5 171.5,348.4 172.5,356.8 173.5,359.6 174.5,357.1 175.5,362.8 176.5,366 177.5,367.7 178.5,369 179.5,371.4 180.5,372 181.5,374.7 182.5,374.2 183.5,374 184.5,374.2 185.5,374.4 186.5,371.4 187.5,371.6 188.5,373.2 189.5,374.2 190.5,374.3 191.5,373.3 192.5,372.9 193.5,373.3 194.5,371.1 195.5,371.4 196.5,370.7 197.5,371 198.5,369.3 199.5,368.1 200.5,369 201.5,369.8 202.5,369.9 203.5,369.5 204.5,371.5 205.5,371.2 206.5,373.1 207.5,371.2 208.5,371.4 209.5,371 210.5,370.3 211.5,370.9 212.5,371.8" stroke="#BE80FF" stroke-width="0.75"/>
<polyline points="57.6,373.2 58.6,368.3 59.6,359.3 60.6,358.5 61.6,348.1 62.6,346.1 63.6,370.5 64.6,354.1 65.6,360.5 66.6,362.4 67.6,365.7 68.6,366.8 69.6,363.3 70.6,373.2 71.6,368.6 72.6,368.7 73.6,366 74.6,369.5 75.6,366.9 76.6,368.5 77.6,369.7 78.6,372.1 79.6,367.9 80.6,371.4 81.6,371 82.6,370.1 83.6,368.4 84.6,370 85.6,371.8 86.6,371.4 87.6,371.4 88.6,371.3 89.6,374.5 90.6,373.5 91.6,375.2 92.6,378.7 93.6,380.2 94.6,379.9 95.6,379.8 96.6,380.7 97.6,379.6 98.6,379.7 99.6,377.1 100.6,374.5 101.6,369.1 102.6,366 103.6,360.9 104.6,354.6 105.6,350.4 106.6,346.7 107.6,344.5 108.6,339.9 109.6,336.6 110.6,340 111.6,343.4 112.6,347.1 113.6,353.2 114.6,360 115.6,365.4 116.6,372.1 117.6,374.6 118.6,377.3 119.6,379.5 120.6,384.5 121.6,390.9 122.6,394.8 123.6,396 124.6,400.2 125.6,404.7 126.6,406.6 127.6,412 128.6,413.4 129.6,409.2 130.6,407.5 131.6,398.6 132.6,393 133.6,384.5 134.6,374.6 135.6,364.4 136.6,349.2 137.6,334 138.6,325.1 139.6,325.2 140.6,323.7 141.6,327.4 142.6,328.2 143.6,323.7 144.6,322.5 145.5,322.5 146.5,329.2 147.5,338.4 148.5,342.9 149.5,355.2 150.5,360.7 151.5,366.4 152.5,370.9 153.5,373.7 154.5,373.7 155.5,378.9 156.5,386.5 157.5,391.4 158.5,396.4 159.5,403.8 160.5,409.5 161.5,412.4 162.5,410.6 163.5,407.9 164.5,404.9 165.5,403.6 166.5,399.3 167.5,398.3 168.5,395.3 169.5,389.9 170.5,381.5 171.5,374.9 172.5,358.4 173.5,346.1 174.5,334.9 175.5,327 176.5,329.5 177.5,333.8 178.5,337 179.5,339.4 180.5,342.6 181.5,340.8 182.5,340.9 183.5,345.8 184.5,350.2 185.5,357.2 186.5,360.8 187.5,364.7 188.5,367.1 189.5,368.8 190.5,370.8 191.5,373 192.5,374.1 193.5,374.6 194.5,374 195.5,372.7 196.5,372.8 197.5,371.3 198.5,372.4 199.5,372.8 200.5,371.4 201.5,371.4 202.5,370.9 203.5,370.3 204.5,372.2 205.5,372 206.5,370.6 207.5,369.1 208.5,369.9 209.5,367.6 210.5,371.8 211.5,371 212.5,370" stroke="#CF78FF" stroke-width="0.75"/>
<polyline points="57.6,377.6 58.6,386.4 59.6,366.4 60.6,361.6 61.6,345.3 62.6,353.1 63.6,357.1 64.6,368.9 65.6,356.7 66.6,361 67.6,365.3 68.6,358.9 69.6,368.1 70.6,364.8 71.6,360.6 72.6,361.3 73.6,362.6 74.6,367 75.6,361.7 76.6,363.7 77.6,363.5 78.6,362 79.6,368.8 80.6,365.7 81.6,366.6 82.6,364.3 83.6,364 84.6,365.4 85.6,366.1 86.6,365.3 87.6,367.8 88.6,367.6 89.6,369.7 90.6,372.4 91.6,372.5 92.6,374.3 93.6,374.9 94.6,373.5 95.6,375.5 96.6,376 97.6,381.3 98.6,379 99.6,379.8 100.6,379.4 101.6,383.1 102.6,384 103.6,386.3 104.6,385 105.6,383.3 106.6,383.2 107.6,384.3 108.6,387 109.6,388.3 110.6,389.9 111.6,390.2 112.6,389.7 113.6,391.5 114.6,392.6 115.6,393.8 116.6,398.9 117.6,403.8 118.6,406.2 119.6,407.3 120.6,408.3 121.6,408 122.6,401.4 123.6,401.4 124.6,401.3 125.6,400 126.6,391.4 127.6,379.6 128.6,356.5 129.6,342.7 130.6,334 131.6,327.3 132.6,324.8 133.6,329.4 134.6,329.7 135.6,330.1 136.6,331.5 137.6,330 138.6,326.7 139.6,327.9 140.6,333.9 141.6,342.4 142.6,352.5 143.6,357.8 144.6,360.5 145.5,366.7 146.5,371.1 147.5,378.1 148.5,385.7 149.5,392.4 150.5,400.1 151.5,402.3 152.5,408.8 153.5,413.9 154.5,417.8 155.5,424.8 156.5,427.3 157.5,427.3 158.5,427.3 159.5,423.1 160.5,413.1 161.5,408.5 162.5,401.8 163.5,397.4 164.5,397.6 165.5,390.1 166.5,385.3 167.5,381.1 168.5,373.4 169.5,362.3 170.5,356.1 171.5,347.5 172.5,346.8 173.5,347.4 174.5,350.7 175.5,351.4 176.5,350 177.5,350.4 178.5,356 179.5,357.6 180.5,360.1 181.5,364.8 182.5,368.2 183.5,367.7 184.5,368.3 185.5,368.9 186.5,370.7 187.5,370.8 188.5,371 189.5,367.3 190.5,368 191.5,368.4 192.5,368.2 193.5,370 194.5,368.2 195.5,365.5 196.5,364.2 197.5,364.8 198.5,368 199.5,371.5 200.5,369.5 201.5,370.1 202.5,369.5 203.5,368.2 204.5,367.7 205.5,367 206.5,366.9 207.5,369.8 208.5,370 209.5,369.8 210.5,371.4 211.5,371.4 212.5,367" stroke="#DE71F9" stroke-width="0.75"/>
<polyline points="57.6,350.9 58.6,344.8 59.6,374.7 60.6,361.1 61.6,381.1 62.6,365 63.6,374.2 64.6,356.2 65.6,366.6 66.6,380 67.6,374 68.6,371.5 69.6,366.2 70.6,366.3 71.6,373.1 72.6,376.4 73.6,375.3 74.6,375.3 75.6,376.6 76.6,376.9 77.6,380.1 78.6,380.2 79.6,381.2 80.6,380.2 81.6,381.2 82.6,379 83.6,382 84.6,380.5 85.6,378.4 86.6,379.4 87.6,378.6 88.6,380 89.6,381.7 90.6,377.4 91.6,378.7 92.6,383 93.6,383.6 94.6,383.8 95.6,381.9 96.6,381.6 97.6,382.3 98.6,380.6 99.6,383.4 100.6,384.8 101.6,383 102.6,382.6 103.6,381.8 104.6,385.3 105.6,391.4 106.6,397.6 107.6,399.4 108.6,400.5 109.6,399.4 110.6,395.8 111.6,398.8 112.6,402.3 113.6,401.9 114.6,406.7 115.6,405.4 116.6,406 117.6,411.3 118.6,410.6 119.6,403.3 120.6,399 121.6,393.2 122.6,387.4 123.6,385.1 124.6,382.5 125.6,375.4 126.6,363.5 127.6,355.2 128.6,347.1 129.6,333.2 130.6,326.7 131.6,329.3 132.6,328.1 133.6,330.9 134.6,330.3 135.6,326.7 136.6,328.1 137.6,335.5 138.6,341.7 139.6,338.3 140.6,340.6 141.6,342.8 142.6,346.2 143.6,347.6 144.6,348.9 145.5,351.5 146.5,354.2 147.5,364.1 148.5,371.1 149.5,378.2 150.5,386 151.5,391 152.5,395.1 153.5,395.8 154.5,391.9 155.5,393.6 156.5,391.4 157.5,388.9 158.5,387.8 159.5,389 160.5,389.1 161.5,388.5 162.5,388.1 163.5,389 164.5,392.2 165.5,395.6 166.5,398 167.5,397.1 168.5,395.9 169.5,391.4 170.5,399.8 171.5,405 172.5,409 173.5,412.8 174.5,415.2 175.5,417.5 176.5,419.6 177.5,420.3 178.5,419.6 179.5,417.4 180.5,414.7 181.5,411.1 182.5,407.8 183.5,404.8 184.5,401.6 185.5,396.7 186.5,391.6 187.5,387.9 188.5,385.2 189.5,381.3 190.5,378.5 191.5,376.3 192.5,374.1 193.5,373.2 194.5,372.6 195.5,373.6 196.5,374.6 197.5,373.9 198.5,372.7 199.5,372.3 200.5,371.5 201.5,371.5 202.5,373 203.5,373.3 204.5,371.7 205.5,370.7 206.5,371.3 207.5,372.1 208.5,371.3 209.5,370.6 210.5,370.6 211.5,369.7 212.5,369.5" stroke="#E96AF1" stroke-width="0.75"/>
<polyline points="57.6,377.9 58.6,353.2 59.6,345.2 60.6,367 61.6,371.3 62.6,364 63.6,365.1 64.6,359.4 65.6,346.7 66.6,364.9 67.6,378.7 68.6,369.1 69.6,366.1 70.6,370.3 71.6,367.4 72.6,362 73.6,366.7 74.6,367.7 75.6,368.4 76.6,370.3 77.6,371.5 78.6,370.5 79.6,372.3 80.6,374.1 81.6,372.5 82.6,373.1 83.6,371.2 84.6,371.1 85.6,369.9 86.6,371.3 87.6,373.7 88.6,374.5 89.6,371.3 90.6,370.9 91.6,372.5 92.6,375.4 93.6,374.6 94.6,375.9 95.6,376.4 96.6,374.4 97.6,376.6 98.6,375.2 99.6,376.2 100.6,378.2 101.6,377.4 102.6,377.4 103.6,376.1 104.6,376.1 105.6,377.8 106.6,377.9 107.6,376.5 108.6,376.6 109.6,378.6 110.6,378.6 111.6,376.2 112.6,375.5 113.6,376.4 114.6,375.4 115.6,372.4 116.6,371.3 117.6,367.6 118.6,364.6 119.6,360.2 120.6,354.9 121.6,349.8 122.6,350.1 123.6,348.6 124.6,348.5 125.6,349.8 126.6,357 127.6,361.9 128.6,366.9 129.6,368.9 130.6,370.8 131.6,374.2 132.6,380.7 133.6,383.4 134.6,383.7 135.6,390.2 136.6,390.5 137.6,394 138.6,399.6 139.6,403.8 140.6,408.4 141.6,414.6 142.6,416.6 143.6,423.5 144.6,423.9 145.5,423.5 146.5,422.7 147.5,422.8 148.5,418.9 149.5,416.2 150.5,409.3 151.5,397.8 152.5,387.6 153.5,386 154.5,380.2 155.5,367.7 156.5,358.3 157.5,346.4 158.5,334.8 159.5,327 160.5,326.4 161.5,327.1 162.5,332.5 163.5,339.4 164.5,344.6 165.5,347.6 166.5,349.8 167.5,353.2 168.5,361.9 169.5,365.6 170.5,368.5 171.5,370.2 172.5,372.3 173.5,374 174.5,373.6 175.5,371.9 176.5,374.6 177.5,376.7 178.5,374.8 179.5,372.3 180.5,371.5 181.5,375.2 182.5,374.7 183.5,372.4 184.5,373.3 185.5,371.8 186.5,371.6 187.5,371.1 188.5,371.4 189.5,370.3 190.5,371.7 191.5,371.9 192.5,371.9 193.5,372.6 194.5,372.9 195.5,372.9 196.5,370.1 197.5,370.8 198.5,371.5 199.5,372.9 200.5,371 201.5,371.7 202.5,370 203.5,370.6 204.5,373.3 205.5,371.8 206.5,372.2 207.5,372.4 208.5,371.2 209.5,370.8 210.5,371.1 211.5,372.3 212.5,371.8" stroke="#F265E7" stroke-width="0.75"/>
<polyline points="57.6,358.7 58.6,340.3 59.6,336.5 60.6,333.6 61.6,342.3 62.6,332.3 63.6,352.2 64.6,340.1 65.6,357.9 66.6,358.7 67.6,360.5 68.6,360.6 69.6,373.5 70.6,368.1 71.6,366.2 72.6,368.1 73.6,367.6 74.6,369.7 75.6,367.6 76.6,371.6 77.6,372.1 78.6,369.3 79.6,372.8 80.6,373.5 81.6,371.9 82.6,372.5 83.6,373.8 84.6,372.5 85.6,376.6 86.6,375 87.6,377.4 88.6,375.9 89.6,377.9 90.6,378.5 91.6,378.8 92.6,379.6 93.6,381.7 94.6,383 95.6,381.9 96.6,384.2 97.6,384.7 98.6,386.6 99.6,386.9 100.6,387.4 101.6,387.8 102.6,388.6 103.6,389.4 104.6,388 105.6,388.2 106.6,389.1 107.6,385.3 108.6,382.9 109.6,380.6 110.6,374.9 111.6,369.5 112.6,364.4 113.6,359 114.6,356.4 115.6,351.8 116.6,350.1 117.6,345.9 118.6,339.6 119.6,334.6 120.6,338.4 121.6,340.3 122.6,343.4 123.6,348.8 124.6,350.8 125.6,352.6 126.6,352 127.6,353.2 128.6,350.5 129.6,354.3 130.6,361.1 131.6,373 132.6,382.3 133.6,385.7 134.6,386.7 135.6,389.6 136.6,393 137.6,396.9 138.6,397.2 139.6,400.2 140.6,404.7 141.6,406.1 142.6,411.5 143.6,416.9 144.6,420.5 145.5,420.6 146.5,424.2 147.5,427.3 148.5,427.3 149.5,425.8 150.5,423.9 151.5,416 152.5,407.3 153.5,407 154.5,406.1 155.5,401.6 156.5,396.7 157.5,390.9 158.5,381.3 159.5,369.9 160.5,358.6 161.5,347.3 162.5,334.1 163.5,330.1 164.5,329.1 165.5,331 166.5,332.6 167.5,333.1 168.5,333.2 169.5,336.9 170.5,337.2 171.5,340 172.5,341.4 173.5,343.6 174.5,350 175.5,352.4 176.5,357.2 177.5,361.9 178.5,364.7 179.5,364.8 180.5,365.9 181.5,369.8 182.5,373.7 183.5,376.4 184.5,374.2 185.5,374.8 186.5,373.5 187.5,374.2 188.5,376 189.5,376.1 190.5,377 191.5,377 192.5,375.5 193.5,374.5 194.5,375.7 195.5,376.7 196.5,376.7 197.5,373.6 198.5,373.3 199.5,374.3 200.5,374.1 201.5,373.7 202.5,373.6 203.5,372.7 204.5,373.1 205.5,373.6 206.5,373.4 207.5,375.7 208.5,373.7 209.5,372.6 210.5,374.3 211.5,371.4 212.5,370.8" stroke="#F962DC" stroke-width="0.75"/>
<polyline points="57.6,391.9 58.6,360.6 59.6,355 60.6,365 61.6,385 62.6,367.9 63.6,366.9 64.6,383.8 65.6,378.8 66.6,369.1 67.6,368.8 68.6,364 69.6,366.2 70.6,367.6 71.6,365.4 72.6,366.2 73.6,366.7 74.6,367.1 75.6,366.6 76.6,369.2 77.6,367.9 78.6,365.1 79.6,362.9 80.6,360.6 81.6,364.5 82.6,365.5 83.6,365.5 84.6,368.8 85.6,368.1 86.6,367.5 87.6,366.7 88.6,367.5 89.6,368.2 90.6,366.8 91.6,368.5 92.6,369.9 93.6,370.9 94.6,373.1 95.6,371.8 96.6,372.1 97.6,373.9 98.6,376.4 99.6,374.7 100.6,375.8 101.6,374.1 102.6,375.9 103.6,375.7 104.6,378.8 105.6,377.6 106.6,378.9 107.6,380.2 108.6,377.3 109.6,378 110.6,377 111.6,378.4 112.6,378.1 113.6,376.1 114.6,374.4 115.6,372.6 116.6,371.2 117.6,366.7 118.6,365.4 119.6,363.5 120.6,363.7 121.6,362.2 122.6,355.8 123.6,351.2 124.6,350 125.6,348.3 126.6,343.8 127.6,343.8 128.6,343.7 129.6,347.7 130.6,351.8 131.6,351.2 132.6,352.1 133.6,356.7 134.6,363.2 135.6,370.7 136.6,375.8 137.6,376.9 138.6,377.5 139.6,378.7 140.6,376.6 141.6,380 142.6,383.1 143.6,392.5 144.6,398.1 145.5,401.5 146.5,400.9 147.5,401.3 148.5,400.8 149.5,397.3 150.5,404.4 151.5,414 152.5,423.4 153.5,422 154.5,425.1 155.5,427.3 156.5,427.3 157.5,427.3 158.5,422.3 159.5,415 160.5,412.4 161.5,410.3 162.5,409.9 163.5,401.6 164.5,391.2 165.5,380.7 166.5,366.8 167.5,357.4 168.5,347.4 169.5,341.5 170.5,333.9 171.5,335.5 172.5,343.5 173.5,345.2 174.5,348.5 175.5,342.9 176.5,341 177.5,337.5 178.5,337.1 179.5,337.8 180.5,339.3 181.5,341.8 182.5,348.2 183.5,352.6 184.5,360.5 185.5,366.5 186.5,367.1 187.5,370.2 188.5,370.1 189.5,371.3 190.5,372.1 191.5,370.8 192.5,370.4 193.5,369.6 194.5,369.8 195.5,369.5 196.5,370.9 197.5,370.8 198.5,371.8 199.5,369.7 200.5,371 201.5,371.7 202.5,371.8 203.5,370 204.5,371.6 205.5,369.5 206.5,370.9 207.5,372 208.5,370.3 209.5,370.7 210.5,370.1 211.5,373 212.5,373" stroke="#FE61CF" stroke-width="0.75"/>
<polyline points="57.6,352.8 58.6,354.1 59.6,354.4 60.6,341.9 61.6,354.3 62.6,362.9 63.6,347.2 64.6,341.1 65.6,344.1 66.6,349.3 67.6,350.9 68.6,356 69.6,355.8 70.6,358 71.6,361.5 72.6,362.7 73.6,365.7 74.6,370 75.6,368.1 76.6,368.9 77.6,369.8 78.6,371.9 79.6,370.6 80.6,373.5 81.6,375.6 82.6,376.3 83.6,373.6 84.6,376.5 85.6,377.2 86.6,375 87.6,376.8 88.6,376.9 89.6,377.1 90.6,377.3 91.6,374.9 92.6,376.9 93.6,378.3 94.6,377 95.6,377.8 96.6,379.2 97.6,378.5 98.6,378 99.6,376.6 100.6,377.8 101.6,377.4 102.6,378.4 103.6,377.6 104.6,376.8 105.6,377.6 106.6,380.4 107.6,378.6 108.6,379.3 109.6,381.9 110.6,387.4 111.6,389.8 112.6,394.5 113.6,398.3 114.6,404.5 115.6,407 116.6,412.4 117.6,417.6 118.6,415.8 119.6,413.8 120.6,418.1 121.6,419.6 122.6,418.6 123.6,411.7 124.6,401.1 125.6,391.5 126.6,386.8 127.6,377.8 128.6,371 129.6,360.7 130.6,353.3 131.6,346.5 132.6,340.5 133.6,336.1 134.6,341 135.6,341.1 136.6,340.6 137.6,334.4 138.6,326.2 139.6,322.5 140.6,322.5 141.6,326.9 142.6,332.6 143.6,339.2 144.6,348.9 145.5,358.1 146.5,364.6 147.5,374 148.5,379.8 149.5,383.2 150.5,384 151.5,381.5 152.5,386.7 153.5,383.9 154.5,382.5 155.5,385.3 156.5,387.3 157.5,391.8 158.5,397.9 159.5,402 160.5,405.3 161.5,412.1 162.5,414.7 163.5,414.7 164.5,413.4 165.5,408.6 166.5,401 167.5,394.1 168.5,389.6 169.5,387.5 170.5,386.7 171.5,385.1 172.5,381.7 173.5,378.4 174.5,375.9 175.5,384.9 176.5,394.3 177.5,401.3 178.5,404.4 179.5,406.6 180.5,408.1 181.5,407.5 182.5,406 183.5,404.2 184.5,401.1 185.5,397.1 186.5,393.3 187.5,392 188.5,390.3 189.5,388.3 190.5,385.5 191.5,382.8 192.5,380.7 193.5,380.6 194.5,380.3 195.5,381.1 196.5,381.8 197.5,380.9 198.5,382.4 199.5,384.7 200.5,387.1 201.5,389.3 202.5,390.7 203.5,391.7 204.5,392.4 205.5,392.7 206.5,393.5 207.5,394.5 208.5,394.3 209.5,393.9 210.5,394.6 211.5,397 212.5,399.5" stroke="#FF61C2" stroke-width="0.75"/>
<polyline points="57.6,365.5 58.6,371.8 59.6,381.5 60.6,370.2 61.6,359.1 62.6,373.4 63.6,374.9 64.6,366.5 65.6,373.9 66.6,360.4 67.6,370.3 68.6,373.8 69.6,379.6 70.6,379.5 71.6,373.5 72.6,376.4 73.6,375.2 74.6,377.7 75.6,374.6 76.6,374.9 77.6,378.6 78.6,376.1 79.6,375.1 80.6,378.6 81.6,379.3 82.6,380.4 83.6,380.5 84.6,379.1 85.6,379.5 86.6,381.1 87.6,379.2 88.6,380 89.6,382.1 90.6,382.5 91.6,383.2 92.6,382.5 93.6,384.3 94.6,380.8 95.6,379.8 96.6,382 97.6,384.2 98.6,386.6 99.6,386.3 100.6,386.5 101.6,386.5 102.6,388.7 103.6,392.8 104.6,396.3 105.6,399.9 106.6,405.1 107.6,413.9 108.6,420.3 109.6,422.9 110.6,421.9 111.6,421 112.6,416.6 113.6,411.1 114.6,403 115.6,395 116.6,390.8 117.6,384.6 118.6,377.2 119.6,366.1 120.6,350.3 121.6,338.3 122.6,326.1 123.6,322.5 124.6,322.5 125.6,322.5 126.6,322.5 127.6,325.3 128.6,323.6 129.6,322.5 130.6,322.5 131.6,322.5 132.6,323.6 133.6,329 134.6,335.5 135.6,344 136.6,356.8 137.6,364.5 138.6,371.1 139.6,373.8 140.6,373.9 141.6,371.3 142.6,371.1 143.6,377.3 144.6,383.7 145.5,385.6 146.5,389.6 147.5,394.8 148.5,401.7 149.5,409.2 150.5,413.6 151.5,420.7 152.5,421.6 153.5,422.1 154.5,427.3 155.5,427.3 156.5,427.3 157.5,421.9 158.5,416.6 159.5,410.3 160.5,404.2 161.5,398 162.5,390.8 163.5,380.8 164.5,371.4 165.5,358.2 166.5,352.2 167.5,343.3 168.5,336.9 169.5,337.9 170.5,341.2 171.5,343.4 172.5,344.5 173.5,348.1 174.5,348.8 175.5,353.9 176.5,356.6 177.5,360.9 178.5,363.4 179.5,367.3 180.5,368.1 181.5,368.4 182.5,367.7 183.5,367.8 184.5,368.3 185.5,368.8 186.5,369.9 187.5,370.8 188.5,371.7 189.5,371 190.5,370.6 191.5,369.7 192.5,369.2 193.5,366.8 194.5,368.9 195.5,372.7 196.5,371.2 197.5,372.2 198.5,372 199.5,370.2 200.5,368.5 201.5,369.1 202.5,369.5 203.5,370.7 204.5,370.6 205.5,368.8 206.5,367.8 207.5,367.4 208.5,367.4 209.5,368.3 210.5,369.5 211.5,368.7 212.5,369.3" stroke="#FF64B3" stroke-width="0.75"/>
<polyline points="57.6,387.7 58.6,363.8 59.6,339.3 60.6,334.6 61.6,352.2 62.6,357.9 63.6,354.3 64.6,351 65.6,354.3 66.6,353.5 67.6,355.4 68.6,356.8 69.6,363.2 70.6,369.9 71.6,368.7 72.6,366.9 73.6,361.1 74.6,360.8 75.6,364 76.6,366.4 77.6,367.2 78.6,366.9 79.6,367.6 80.6,365 81.6,369 82.6,368.8 83.6,370.3 84.6,372.7 85.6,374.1 86.6,373.4 87.6,374.1 88.6,374.8 89.6,373.8 90.6,372.8 91.6,373.6 92.6,372.8 93.6,371.1 94.6,370.8 95.6,367.6 96.6,366.4 97.6,365.3 98.6,362.2 99.6,359.3 100.6,358.2 101.6,360.6 102.6,362.3 103.6,368.3 104.6,373.1 105.6,373.7 106.6,374.6 107.6,377.5 108.6,379.5 109.6,383.4 110.6,391.1 111.6,399.5 112.6,403.8 113.6,406.9 114.6,410.7 115.6,415.5 116.6,416.5 117.6,416.3 118.6,423.8 119.6,427.3 120.6,423 121.6,418.9 122.6,413 123.6,401.9 124.6,391.5 125.6,379.3 126.6,368.4 127.6,359 128.6,349.6 129.6,341.5 130.6,343.7 131.6,348.7 132.6,344.5 133.6,344.4 134.6,344.8 135.6,347.3 136.6,349.2 137.6,350 138.6,347.8 139.6,348.7 140.6,351.3 141.6,355.5 142.6,362.8 143.6,369.8 144.6,374.1 145.5,377.4 146.5,380.1 147.5,383.7 148.5,381.9 149.5,385.4 150.5,389.9 151.5,401.5 152.5,410.7 153.5,414.3 154.5,417 155.5,420.9 156.5,420.4 157.5,416.5 158.5,409.1 159.5,404.1 160.5,399 161.5,393.7 162.5,386.5 163.5,377.1 164.5,367.9 165.5,356.2 166.5,346.7 167.5,344.2 168.5,340.7 169.5,338.1 170.5,339.1 171.5,340 172.5,343.5 173.5,349.3 174.5,358.1 175.5,362.1 176.5,365.2 177.5,369 178.5,371.9 179.5,372.1 180.5,374.2 181.5,374.2 182.5,374.5 183.5,375.9 184.5,374.2 185.5,374.2 186.5,374.7 187.5,372.7 188.5,374 189.5,374.2 190.5,373.8 191.5,374.4 192.5,372.8 193.5,371.4 194.5,372.6 195.5,372.9 196.5,372.7 197.5,373.6 198.5,371.7 199.5,373.3 200.5,373.6 201.5,372.8 202.5,372.8 203.5,372.4 204.5,373.2 205.5,374 206.5,373.6 207.5,375.3 208.5,374.7 209.5,374.8 210.5,373 211.5,373.2 212.5,372.9" stroke="#FF67A3" stroke-width="0.75"/>
<polyline points="57.6,375.3 58.6,350.2 59.6,338.4 60.6,361.3 61.6,369.5 62.6,383 63.6,368 64.6,375.1 65.6,375.7 66.6,368.7 67.6,370.5 68.6,376.6 69.6,377.6 70.6,380.2 71.6,378.2 72.6,377.5 73.6,380.3 74.6,374.9 75.6,380.9 76.6,383.3 77.6,383.9 78.6,387.8 79.6,390.9 80.6,389.3 81.6,385.9 82.6,385.9 83.6,386.3 84.6,384 85.6,386.3 86.6,385.8 87.6,383.1 88.6,383.3 89.6,382.6 90.6,385.4 91.6,384 92.6,380.6 93.6,379.5 94.6,377.8 95.6,371.3 96.6,365.6 97.6,364.5 98.6,365 99.6,370.5 100.6,372.5 101.6,373.9 102.6,372.6 103.6,376.2 104.6,380.2 105.6,380.2 106.6,381 107.6,383.3 108.6,385.5 109.6,394.4 110.6,404.8 111.6,405 112.6,404.7 113.6,406.2 114.6,411 115.6,409.2 116.6,411.4 117.6,417.7 118.6,416.5 119.6,414.6 120.6,408.4 121.6,405.9 122.6,403.2 123.6,394.2 124.6,387.2 125.6,377.9 126.6,362 127.6,349.5 128.6,337 129.6,328.3 130.6,322.5 131.6,329 132.6,331.5 133.6,334.4 134.6,332.1 135.6,330.8 136.6,335.9 137.6,335.2 138.6,336.4 139.6,340.4 140.6,346.5 141.6,353.4 142.6,356.1 143.6,360.3 144.6,359.2 145.5,361.3 146.5,368.2 147.5,374 148.5,382.3 149.5,391.6 150.5,394.6 151.5,396.6 152.5,398.6 153.5,411.2 154.5,420.9 155.5,422 156.5,424.4 157.5,427.3 158.5,427.3 159.5,424.2 160.5,421.7 161.5,420.8 162.5,414.4 163.5,408.5 164.5,401.7 165.5,397.6 166.5,386.6 167.5,376 168.5,368.9 169.5,359.2 170.5,353.7 171.5,349.4 172.5,352.6 173.5,359.4 174.5,361.9 175.5,363.5 176.5,362.1 177.5,364.2 178.5,365.5 179.5,368.4 180.5,369 181.5,369.1 182.5,369.7 183.5,370 184.5,371.5 185.5,373.6 186.5,373.9 187.5,374.1 188.5,374.1 189.5,375.3 190.5,375.7 191.5,373.1 192.5,368.4 193.5,364.3 194.5,361.6 195.5,358.2 196.5,354.4 197.5,351.1 198.5,347.8 199.5,344.7 200.5,342.8 201.5,339.6 202.5,337.2 203.5,335.6 204.5,334.8 205.5,333.5 206.5,333.2 207.5,334.3 208.5,336.5 209.5,338.4 210.5,339.9 211.5,340 212.5,341.5" stroke="#FF6C92" stroke-width="0.75"/>
<polyline points="57.6,355.3 58.6,325.2 59.6,334.6 60.6,322.5 61.6,358 62.6,346.5 63.6,340.8 64.6,354.4 65.6,355.7 66.6,365.4 67.6,363.6 68.6,357.6 69.6,356.3 70.6,361.5 71.6,364.4 72.6,357.4 73.6,363.2 74.6,363.7 75.6,368.3 76.6,366.9 77.6,368.1 78.6,370.3 79.6,370.2 80.6,374 81.6,369.1 82.6,369.9 83.6,368.3 84.6,370.5 85.6,371.9 86.6,370.9 87.6,371.8 88.6,371.9 89.6,373.6 90.6,374.5 91.6,370.9 92.6,370.3 93.6,373.4 94.6,373.4 95.6,372.8 96.6,374.7 97.6,375.6 98.6,376.8 99.6,375.6 100.6,374.4 101.6,374.2 102.6,375.4 103.6,375.8 104.6,378.2 105.6,377.1 106.6,378.2 107.6,377.7 108.6,375.6 109.6,374.6 110.6,373 111.6,371.8 112.6,368.2 113.6,365.9 114.6,363.8 115.6,363.5 116.6,361.3 117.6,358 118.6,353.2 119.6,347.9 120.6,340.8 121.6,333.1 122.6,332.8 123.6,333.9 124.6,342 125.6,349.4 126.6,354 127.6,358.2 128.6,362.7 129.6,364.7 130.6,370.8 131.6,376.2 132.6,383.2 133.6,384.8 134.6,384.9 135.6,385 136.6,392.4 137.6,396.1 138.6,398.5 139.6,396.9 140.6,397.6 141.6,400.2 142.6,407.1 143.6,411.2 144.6,412.9 145.5,419.4 146.5,420.4 147.5,427.3 148.5,427.3 149.5,425.1 150.5,419.2 151.5,414.3 152.5,410.5 153.5,406.7 154.5,405.8 155.5,400.4 156.5,393.6 157.5,383.7 158.5,376 159.5,366.1 160.5,359 161.5,352.8 162.5,352 163.5,350.9 164.5,353.9 165.5,356.1 166.5,357.5 167.5,358.8 168.5,362 169.5,361.2 170.5,365.3 171.5,387.7 172.5,398 173.5,405.7 174.5,408.6 175.5,408.6 176.5,406.9 177.5,404.7 178.5,401.9 179.5,399.2 180.5,396.5 181.5,393.3 182.5,389 183.5,387.2 184.5,386.4 185.5,384 186.5,382.6 187.5,380.2 188.5,376.8 189.5,375 190.5,374.6 191.5,374.5 192.5,373.9 193.5,373.1 194.5,372.4 195.5,371.8 196.5,371.5 197.5,373.4 198.5,373.6 199.5,372.1 200.5,370.6 201.5,370 202.5,370.9 203.5,370.9 204.5,371.3 205.5,371.8 206.5,371.4 207.5,371.7 208.5,372 209.5,370.4 210.5,370.5 211.5,372.1 212.5,373.1" stroke="#FC7180" stroke-width="0.75"/>
</g>
<path d="M44.6 316.5V431.5M56.6 316.5V431.5M68.6 316.5V431.5M80.6 316.5V431.5M92.6 316.5V431.5M104.6 316.5V431.5M116.6 316.5V431.5M128.6 316.5V431.5M140.6 316.5V431.5M152.5 316.5V431.5M164.5 316.5V431.5M176.5 316.5V431.5M188.5 316.5V431.5M200.5 316.5V431.5M212.5 316.5V431.5" stroke="#646464" stroke-width="0.62" fill="none"/>
<rect x="36.4" y="316.5" width="184" height="115" fill="none" stroke="#6a6a6a" stroke-width="0.75"/>
<g font-family="'Liberation Sans', sans-serif" font-size="5.4" fill="#6b6b6b">
<g text-anchor="middle"><text x="44.6" y="438.7">0</text><text x="56.6" y="438.7">12</text><text x="68.6" y="438.7">24</text><text x="80.6" y="438.7">36</text><text x="92.6" y="438.7">48</text><text x="104.6" y="438.7">60</text><text x="116.6" y="438.7">72</text><text x="128.6" y="438.7">84</text><text x="140.6" y="438.7">96</text><text x="152.5" y="438.7">108</text><text x="164.5" y="438.7">120</text><text x="176.5" y="438.7">132</text><text x="188.5" y="438.7">144</text><text x="200.5" y="438.7">156</text><text x="212.5" y="438.7">168</text></g>
<g text-anchor="end"><text x="33.8" y="324.4">1.0</text><text x="33.8" y="350.6">0.5</text><text x="33.8" y="376.8">0.0</text><text x="33.8" y="403">-0.5</text><text x="33.8" y="429.2">-1.0</text></g>
</g>
<g font-family="'Liberation Sans', sans-serif" font-size="7.4" fill="#111" text-anchor="middle">
<text x="128.4" y="447">Time (h)</text>
<text transform="translate(22.3 374) rotate(-90)">Detrended luminescence</text>
</g>
<!-- panel F -->
<rect x="270.2" y="316.5" width="183.8" height="115" fill="#E7E7E7"/>
<path d="M270.2 322.5H454M270.2 335.6H454M270.2 348.7H454M270.2 361.8H454M270.2 374.9H454M270.2 388H454M270.2 401.1H454M270.2 414.2H454M270.2 427.3H454M272.4 316.5V431.5M278.4 316.5V431.5M284.4 316.5V431.5M290.3 316.5V431.5M296.3 316.5V431.5M302.3 316.5V431.5M308.3 316.5V431.5M314.2 316.5V431.5M320.2 316.5V431.5M326.2 316.5V431.5M332.2 316.5V431.5M338.1 316.5V431.5M344.1 316.5V431.5M350.1 316.5V431.5M356.1 316.5V431.5M362 316.5V431.5M368 316.5V431.5M374 316.5V431.5M380 316.5V431.5M385.9 316.5V431.5M391.9 316.5V431.5M397.9 316.5V431.5M403.9 316.5V431.5M409.8 316.5V431.5M415.8 316.5V431.5M421.8 316.5V431.5M427.8 316.5V431.5M433.7 316.5V431.5M439.7 316.5V431.5M445.7 316.5V431.5M451.7 316.5V431.5" stroke="#EFEFEF" stroke-width="0.5" fill="none"/>
<clipPath id="cF"><rect x="270.2" y="316.5" width="183.8" height="115"/></clipPath>
<g clip-path="url(#cF)">
<polyline points="291.3,344.7 292.3,360.3 293.3,358.2 294.3,349.5 295.3,359 296.3,354.7 297.3,365.3 298.3,361.3 299.3,373.8 300.3,373.1 301.3,371.7 302.3,376.1 303.3,367.4 304.3,372.1 305.3,369.4 306.3,373.3 307.3,375.2 308.3,374 309.3,373.2 310.3,374.4 311.3,377.3 312.3,378.7 313.3,378.8 314.2,378.8 315.2,378.1 316.2,379.4 317.2,379.9 318.2,378.5 319.2,378.3 320.2,379.1 321.2,378.9 322.2,380.7 323.2,378.4 324.2,378.9 325.2,376.5 326.2,377.7 327.2,380.6 328.2,380.9 329.2,379.9 330.2,382.3 331.2,380.5 332.2,382.4 333.2,380.2 334.2,381.1 335.2,380.3 336.2,380.2 337.2,377.5 338.1,379.5 339.1,381.2 340.1,380.5 341.1,381.4 342.1,379 343.1,380.1 344.1,382.2 345.1,382.1 346.1,382.9 347.1,386.5 348.1,390 349.1,390.9 350.1,390.7 351.1,390.5 352.1,390.9 353.1,388.5 354.1,384.4 355.1,382.8 356.1,374.2 357.1,358.9 358.1,347.1 359.1,334.8 360.1,334.7 361.1,325.8 362,322.5 363,322.5 364,322.5 365,322.5 366,322.5 367,332.3 368,338.1 369,349 370,357.8 371,366.9 372,373.9 373,376.7 374,381.6 375,384.1 376,383.9 377,382.8 378,389.4 379,389.7 380,390.6 381,395.8 382,396.6 383,397.9 384,404.8 385,411 385.9,413.5 386.9,413.5 387.9,413.5 388.9,409 389.9,403.3 390.9,397.8 391.9,388.6 392.9,379 393.9,370.1 394.9,355.8 395.9,344.3 396.9,337 397.9,334.6 398.9,337.4 399.9,334.9 400.9,334.8 401.9,329 402.9,322.7 403.9,322.5 404.9,322.5 405.9,329.6 406.9,339.3 407.9,350.7 408.8,365.4 409.8,370.8 410.8,378.1 411.8,380.6 412.8,378.7 413.8,375.7 414.8,375.6 415.8,376.5 416.8,374.5 417.8,376.6 418.8,377.7 419.8,377.2 420.8,381.7 421.8,382.7 422.8,386 423.8,390.1 424.8,393.2 425.8,395.5 426.8,399 427.8,399.8 428.8,400.4 429.8,403.5 430.8,404.7 431.8,404.2 432.7,401 433.7,397.2 434.7,395.8 435.7,393.2 436.7,391.6 437.7,391.2 438.7,389.8 439.7,387.2 440.7,387.8 441.7,390.3 442.7,392.6 443.7,398.2 444.7,402.1 445.7,402" stroke="#F8766D" stroke-width="0.75"/>
<polyline points="291.3,343.1 292.3,350.5 293.3,345.8 294.3,336.9 295.3,354.8 296.3,371.1 297.3,371.2 298.3,373.2 299.3,372.2 300.3,369.7 301.3,363.6 302.3,367.6 303.3,373 304.3,377.5 305.3,363.2 306.3,364.6 307.3,373.8 308.3,376 309.3,375.5 310.3,373.2 311.3,373.9 312.3,371.2 313.3,373.1 314.2,374 315.2,375.4 316.2,375.1 317.2,375.5 318.2,380.2 319.2,380 320.2,377.3 321.2,378.8 322.2,378.4 323.2,377.7 324.2,382.1 325.2,382.4 326.2,384.8 327.2,385.2 328.2,386.6 329.2,387.6 330.2,387.2 331.2,386.6 332.2,387.9 333.2,388.6 334.2,389.2 335.2,389.7 336.2,389 337.2,391.8 338.1,391.4 339.1,388.2 340.1,387 341.1,387.9 342.1,383.1 343.1,378 344.1,373 345.1,366.2 346.1,363.7 347.1,360.8 348.1,359.4 349.1,355.4 350.1,352 351.1,354.2 352.1,353.4 353.1,349.6 354.1,351.4 355.1,354.6 356.1,358.6 357.1,358.6 358.1,357.7 359.1,362.6 360.1,371 361.1,375.5 362,377.7 363,377.7 364,379.6 365,382 366,386.7 367,388.9 368,392.4 369,393.4 370,394.5 371,397.2 372,402 373,403.3 374,405.9 375,405.3 376,408.1 377,408.2 378,410.6 379,415.2 380,413.4 381,413.4 382,413.3 383,404.4 384,395.8 385,388.4 385.9,377.9 386.9,366.9 387.9,352.9 388.9,341.4 389.9,333.1 390.9,332.9 391.9,335.1 392.9,338 393.9,337.3 394.9,340.3 395.9,341.1 396.9,333.2 397.9,334.6 398.9,340.5 399.9,345 400.9,354.2 401.9,359.6 402.9,366.4 403.9,369.7 404.9,372.5 405.9,373.1 406.9,389.6 407.9,396.8 408.8,401.7 409.8,405.4 410.8,408.4 411.8,409.2 412.8,407.1 413.8,406 414.8,404.6 415.8,400.2 416.8,398.1 417.8,396 418.8,391.7 419.8,389.6 420.8,388.3 421.8,386.1 422.8,383 423.8,381.4 424.8,378.7 425.8,377.1 426.8,376.2 427.8,375.1 428.8,373.6 429.8,372.1 430.8,370.8 431.8,373.2 432.7,374.1 433.7,374.4 434.7,374.5 435.7,373.1 436.7,372.5 437.7,372.1 438.7,371.8 439.7,374.4 440.7,373.3 441.7,373.1 442.7,373.2 443.7,374.2 444.7,373.8 445.7,371.6" stroke="#EA8331" stroke-width="0.75"/>
<polyline points="291.3,369.5 292.3,398.3 293.3,401.2 294.3,356.2 295.3,366.2 296.3,354.9 297.3,364 298.3,360.9 299.3,356.4 300.3,372.8 301.3,359.5 302.3,369.9 303.3,375.2 304.3,376.7 305.3,370.8 306.3,365.9 307.3,368.5 308.3,372.2 309.3,374.9 310.3,374 311.3,375.6 312.3,375.6 313.3,375 314.2,376.2 315.2,374.9 316.2,374.2 317.2,374.4 318.2,377.4 319.2,378.9 320.2,379.6 321.2,382.9 322.2,380.9 323.2,381.8 324.2,384.3 325.2,385.4 326.2,384.1 327.2,386.6 328.2,387.7 329.2,390 330.2,391 331.2,388.4 332.2,386.1 333.2,389.4 334.2,391 335.2,389.5 336.2,388.2 337.2,387 338.1,388.9 339.1,389.5 340.1,388.6 341.1,389.8 342.1,393.4 343.1,390.6 344.1,393.6 345.1,395.7 346.1,393.3 347.1,395.7 348.1,394.2 349.1,393 350.1,398.7 351.1,395.8 352.1,395.5 353.1,395 354.1,397 355.1,405.4 356.1,406.8 357.1,407 358.1,396.7 359.1,388.9 360.1,381.7 361.1,370.1 362,356.7 363,341.9 364,333.1 365,336.3 366,333.2 367,330.8 368,336.6 369,337.6 370,330 371,326.3 372,327.4 373,339 374,348.9 375,355.2 376,359.9 377,366.1 378,370.9 379,380.1 380,384.6 381,392 382,398.4 383,401.3 384,398.4 385,393.1 385.9,393.3 386.9,402.7 387.9,406.7 388.9,413 389.9,416.4 390.9,418.9 391.9,415.9 392.9,414.5 393.9,416.6 394.9,413.2 395.9,409.9 396.9,404.6 397.9,398.6 398.9,389.2 399.9,380.7 400.9,368.6 401.9,354.5 402.9,349.7 403.9,344.9 404.9,345.8 405.9,352.2 406.9,357.5 407.9,361.9 408.8,363.6 409.8,361.5 410.8,360.5 411.8,358.8 412.8,364.4 413.8,366.9 414.8,370.9 415.8,369 416.8,369.9 417.8,369.6 418.8,370.7 419.8,371.3 420.8,371.8 421.8,371.6 422.8,371.7 423.8,372.8 424.8,372.8 425.8,370.3 426.8,372.2 427.8,372.5 428.8,371.3 429.8,370.5 430.8,372.3 431.8,372.9 432.7,375.3 433.7,371.5 434.7,371.4 435.7,371.9 436.7,371.2 437.7,372.5 438.7,372.5 439.7,374.1 440.7,373.9 441.7,371 442.7,371.4 443.7,370.7 444.7,370.4 445.7,370.4" stroke="#D89000" stroke-width="0.75"/>
<polyline points="291.3,380.5 292.3,329 293.3,342.7 294.3,342.7 295.3,347.8 296.3,367.1 297.3,368 298.3,361.6 299.3,353.8 300.3,360 301.3,378.9 302.3,375.1 303.3,370.7 304.3,372.9 305.3,366.6 306.3,371.2 307.3,376 308.3,377.9 309.3,378 310.3,377.8 311.3,376.7 312.3,378.3 313.3,375.3 314.2,378.3 315.2,380.9 316.2,382.5 317.2,382.4 318.2,380.1 319.2,380 320.2,380.2 321.2,382.4 322.2,382.4 323.2,384.5 324.2,387.1 325.2,385.7 326.2,384.9 327.2,386.7 328.2,387.2 329.2,389.3 330.2,388.6 331.2,388.8 332.2,392.2 333.2,393.8 334.2,394.6 335.2,396 336.2,395.1 337.2,395.8 338.1,396.2 339.1,394.3 340.1,392.6 341.1,387.1 342.1,385.2 343.1,379.6 344.1,374.3 345.1,370.2 346.1,362 347.1,350.5 348.1,340 349.1,333.2 350.1,327.3 351.1,324.6 352.1,322.5 353.1,322.5 354.1,325.8 355.1,327.4 356.1,326.2 357.1,326 358.1,327.7 359.1,332.1 360.1,338.6 361.1,340.7 362,341.5 363,346.8 364,352.6 365,357.3 366,366.8 367,374.7 368,380.2 369,383.7 370,384.6 371,386.4 372,390.9 373,394.4 374,394.3 375,399.6 376,403.6 377,407.4 378,410.7 379,410.6 380,414.4 381,418.5 382,423.4 383,421 384,417.2 385,417 385.9,409.6 386.9,401.6 387.9,393.6 388.9,390.3 389.9,385.9 390.9,378.4 391.9,363.9 392.9,347.2 393.9,338.2 394.9,331.5 395.9,326.5 396.9,326.5 397.9,326 398.9,328.1 399.9,329.8 400.9,329.7 401.9,331.1 402.9,329.8 403.9,329.5 404.9,334.2 405.9,336.3 406.9,340.5 407.9,344.8 408.8,350.9 409.8,358 410.8,364.6 411.8,367.5 412.8,372.7 413.8,376.9 414.8,373.8 415.8,374.3 416.8,372.7 417.8,373.6 418.8,374.7 419.8,375.2 420.8,377.5 421.8,375.5 422.8,373.8 423.8,375.7 424.8,376.1 425.8,374.5 426.8,376 427.8,375 428.8,377.7 429.8,376.6 430.8,374.6 431.8,376.3 432.7,374 433.7,374.4 434.7,372.6 435.7,374 436.7,374.9 437.7,375.6 438.7,375.8 439.7,376.1 440.7,374.5 441.7,374.7 442.7,375 443.7,374.5 444.7,373.4 445.7,371.8" stroke="#C09B00" stroke-width="0.75"/>
<polyline points="291.3,346.4 292.3,354.6 293.3,342.7 294.3,340.6 295.3,351.2 296.3,347.3 297.3,353 298.3,358.6 299.3,355.6 300.3,348.7 301.3,357.8 302.3,343.9 303.3,357.5 304.3,358.6 305.3,362.2 306.3,363.6 307.3,367.2 308.3,369 309.3,367.8 310.3,370.5 311.3,370.6 312.3,369.1 313.3,373.6 314.2,374.3 315.2,376.8 316.2,376.5 317.2,375.8 318.2,376.3 319.2,377 320.2,379.1 321.2,381.5 322.2,380.9 323.2,377.6 324.2,381 325.2,380.9 326.2,384.3 327.2,384 328.2,383.5 329.2,383.2 330.2,384.1 331.2,383.8 332.2,384.8 333.2,384.6 334.2,388.6 335.2,388.1 336.2,387.8 337.2,385.3 338.1,387.4 339.1,387.5 340.1,389.8 341.1,391.6 342.1,393.4 343.1,392 344.1,391.2 345.1,390.3 346.1,388.3 347.1,389.5 348.1,386 349.1,384.1 350.1,381.9 351.1,379.4 352.1,376.6 353.1,371.2 354.1,367.9 355.1,364.6 356.1,361.5 357.1,356.3 358.1,351.1 359.1,351.5 360.1,352 361.1,353.6 362,354.2 363,358.4 364,360.5 365,366.3 366,364.9 367,367.4 368,364.6 369,365.6 370,367 371,369.4 372,374.5 373,383.6 374,383.5 375,386.3 376,392.7 377,401.3 378,405.8 379,403.4 380,405.9 381,414.3 382,416 383,415.8 384,414.8 385,414 385.9,413.9 386.9,415.5 387.9,410 388.9,410.2 389.9,411.2 390.9,409 391.9,402.2 392.9,396.9 393.9,390.5 394.9,387.3 395.9,379 396.9,372.7 397.9,364.4 398.9,361.7 399.9,359.2 400.9,357.6 401.9,360.2 402.9,363.2 403.9,364.1 404.9,366.6 405.9,367.6 406.9,369 407.9,371.3 408.8,370.2 409.8,371.9 410.8,371.3 411.8,369.9 412.8,369.2 413.8,370.1 414.8,369.6 415.8,370.1 416.8,371.5 417.8,373.2 418.8,372.1 419.8,368.1 420.8,363 421.8,359.4 422.8,357 423.8,352.4 424.8,346.3 425.8,341.8 426.8,340.3 427.8,339.9 428.8,340.2 429.8,343.6 430.8,347.7 431.8,350.7 432.7,351.7 433.7,353.3 434.7,357.4 435.7,359.5 436.7,359.5 437.7,362.2 438.7,363.8 439.7,363.8 440.7,363.8 441.7,364.5 442.7,366.4 443.7,368.8 444.7,369.8 445.7,369.9" stroke="#A3A500" stroke-width="0.75"/>
<polyline points="291.3,362.7 292.3,359.8 293.3,339.5 294.3,341.4 295.3,342.5 296.3,345.2 297.3,355.7 298.3,375.8 299.3,373.8 300.3,370.1 301.3,370.2 302.3,366.3 303.3,365.7 304.3,372.5 305.3,373.3 306.3,369.5 307.3,370.7 308.3,373.2 309.3,367.8 310.3,371.7 311.3,376.2 312.3,372.1 313.3,370.6 314.2,373.5 315.2,375.4 316.2,379.3 317.2,375.8 318.2,375.1 319.2,375.2 320.2,375.1 321.2,373.8 322.2,376.9 323.2,379.2 324.2,377.9 325.2,377.6 326.2,378.2 327.2,379.4 328.2,377.4 329.2,377.4 330.2,379 331.2,381.4 332.2,382.2 333.2,381 334.2,380.7 335.2,377.6 336.2,378.5 337.2,378.3 338.1,380.2 339.1,377.6 340.1,378.2 341.1,378.4 342.1,379.7 343.1,379.3 344.1,381.3 345.1,381.3 346.1,379.7 347.1,382.1 348.1,385.2 349.1,384.2 350.1,384.9 351.1,386.7 352.1,385 353.1,386.6 354.1,386.7 355.1,388.6 356.1,387.5 357.1,384.3 358.1,383.3 359.1,373.9 360.1,364.6 361.1,355.1 362,350.6 363,341.2 364,341.8 365,342.3 366,339.2 367,334.6 368,334 369,334.2 370,336.1 371,331.2 372,326.4 373,322.5 374,324.1 375,328.3 376,336.2 377,342.2 378,348.8 379,346.2 380,347.2 381,354.2 382,360.1 383,364.2 384,373.7 385,381 385.9,381.7 386.9,384.5 387.9,388.4 388.9,385.7 389.9,387.1 390.9,393 391.9,398.5 392.9,403.7 393.9,408.2 394.9,412.4 395.9,409.3 396.9,407.9 397.9,408 398.9,403.3 399.9,403.6 400.9,400.1 401.9,400.8 402.9,396.2 403.9,393.6 404.9,390.8 405.9,389 406.9,389 407.9,384.8 408.8,396.9 409.8,400.9 410.8,404 411.8,406.3 412.8,408.4 413.8,409.4 414.8,410.2 415.8,410.5 416.8,410 417.8,410.2 418.8,408.7 419.8,405.1 420.8,401.4 421.8,397.6 422.8,394.3 423.8,390.7 424.8,387.9 425.8,386.2 426.8,383.8 427.8,381.1 428.8,378 429.8,376.2 430.8,376.1 431.8,375.2 432.7,374 433.7,373.5 434.7,372.9 435.7,372.5 436.7,372.7 437.7,372.9 438.7,372 439.7,370.5 440.7,369.6 441.7,369.5 442.7,370.7 443.7,371.4 444.7,370.4 445.7,370.1" stroke="#7CAE00" stroke-width="0.75"/>
<polyline points="291.3,376.1 292.3,365.6 293.3,352.1 294.3,350.3 295.3,361.8 296.3,351.7 297.3,358.7 298.3,364.4 299.3,352.7 300.3,370 301.3,366.9 302.3,362 303.3,362.3 304.3,361.4 305.3,368.1 306.3,359.2 307.3,364.9 308.3,371.2 309.3,374.3 310.3,369.8 311.3,369.1 312.3,368.9 313.3,371.4 314.2,373.9 315.2,374.7 316.2,374.2 317.2,372.5 318.2,372.9 319.2,375.5 320.2,374.2 321.2,372.9 322.2,375.1 323.2,374.6 324.2,377.1 325.2,377.7 326.2,377.2 327.2,378.9 328.2,377.5 329.2,379.2 330.2,379.9 331.2,382.1 332.2,381.1 333.2,382.8 334.2,380.7 335.2,383.7 336.2,382.5 337.2,382.9 338.1,386.5 339.1,386.2 340.1,386.6 341.1,389.1 342.1,388.7 343.1,387.3 344.1,385.1 345.1,386.3 346.1,390.4 347.1,392.4 348.1,392.8 349.1,390.6 350.1,395.2 351.1,398.2 352.1,408 353.1,416.6 354.1,416.8 355.1,413.9 356.1,410.8 357.1,409.9 358.1,405.5 359.1,401.9 360.1,392.5 361.1,385.6 362,379.6 363,371.2 364,357.3 365,349 366,338 367,329.2 368,330.6 369,332 370,328.3 371,322.5 372,322.8 373,326.1 374,329.8 375,328 376,331.9 377,336.9 378,343.6 379,347.9 380,354.6 381,356.2 382,355.2 383,355.6 384,360.1 385,365.1 385.9,374 386.9,380.2 387.9,382.7 388.9,386.9 389.9,393.3 390.9,394.5 391.9,396.6 392.9,399.3 393.9,402.7 394.9,405.8 395.9,405.2 396.9,409.6 397.9,411.1 398.9,412.4 399.9,414.7 400.9,415.2 401.9,410.9 402.9,401.9 403.9,398.1 404.9,395.2 405.9,389.6 406.9,380.2 407.9,373.6 408.8,363.9 409.8,355.3 410.8,352.4 411.8,351 412.8,356 413.8,358.7 414.8,359.5 415.8,360.2 416.8,364.6 417.8,364.1 418.8,366.1 419.8,366.1 420.8,365.7 421.8,367 422.8,370.3 423.8,370.5 424.8,369.2 425.8,369.9 426.8,368.2 427.8,369.4 428.8,369.3 429.8,368.3 430.8,369.8 431.8,371 432.7,372.6 433.7,372.2 434.7,371 435.7,370.4 436.7,369.2 437.7,372.6 438.7,371.4 439.7,369 440.7,370.3 441.7,371.5 442.7,369.7 443.7,369.9 444.7,369.2 445.7,372.2" stroke="#39B600" stroke-width="0.75"/>
<polyline points="291.3,349.8 292.3,365.2 293.3,360.2 294.3,353.5 295.3,338.6 296.3,338.7 297.3,351.8 298.3,343.8 299.3,341.3 300.3,352.8 301.3,347.7 302.3,360.1 303.3,360.8 304.3,357.7 305.3,361.1 306.3,362.2 307.3,371.4 308.3,368.9 309.3,363.2 310.3,364.5 311.3,366.5 312.3,364 313.3,367.4 314.2,372.2 315.2,369.4 316.2,370.8 317.2,370.1 318.2,368.4 319.2,368.8 320.2,370.9 321.2,372.6 322.2,373.2 323.2,373.5 324.2,373.7 325.2,372.4 326.2,371.2 327.2,370.8 328.2,370.3 329.2,369.5 330.2,368.6 331.2,369 332.2,373 333.2,375.8 334.2,374.5 335.2,371.7 336.2,376.3 337.2,383.6 338.1,386.2 339.1,387.9 340.1,394.4 341.1,393.2 342.1,391.3 343.1,390.7 344.1,394.2 345.1,397.2 346.1,396.9 347.1,397.7 348.1,402.8 349.1,406.3 350.1,409.4 351.1,413.8 352.1,420.9 353.1,417.6 354.1,413.8 355.1,410.3 356.1,402.9 357.1,395.7 358.1,389.5 359.1,387.2 360.1,375.2 361.1,362 362,349.1 363,338.3 364,331.1 365,333.4 366,336.1 367,334.8 368,332.7 369,329.6 370,327.7 371,326.7 372,324 373,327.3 374,335.6 375,347.9 376,359 377,362.4 378,362.2 379,363.9 380,369.8 381,371.4 382,377.1 383,383.6 384,389.1 385,390 385.9,389.9 386.9,389.6 387.9,394.7 388.9,400.6 389.9,401.9 390.9,408.8 391.9,409.9 392.9,407 393.9,408 394.9,408 395.9,402.4 396.9,412.2 397.9,409.8 398.9,408 399.9,404.6 400.9,401 401.9,395.8 402.9,393.2 403.9,390.2 404.9,386.7 405.9,377.9 406.9,368.1 407.9,361 408.8,356.9 409.8,351.5 410.8,349.6 411.8,354.1 412.8,355.6 413.8,355.2 414.8,357.4 415.8,359.6 416.8,361.9 417.8,362.5 418.8,363.9 419.8,366 420.8,368.6 421.8,366 422.8,367 423.8,368.1 424.8,369.2 425.8,370 426.8,367.6 427.8,370.6 428.8,371.5 429.8,370.5 430.8,371.5 431.8,372.2 432.7,371.5 433.7,368.7 434.7,367.8 435.7,369.6 436.7,369.3 437.7,367.8 438.7,367.7 439.7,369.9 440.7,370.3 441.7,368.5 442.7,367.9 443.7,369.2 444.7,369.3 445.7,370.8" stroke="#00BB4E" stroke-width="0.75"/>
<polyline points="291.3,381.4 292.3,357.2 293.3,333.4 294.3,346.7 295.3,372.1 296.3,363.2 297.3,357.4 298.3,359.7 299.3,344.4 300.3,341.7 301.3,350.7 302.3,368.8 303.3,364.6 304.3,365.8 305.3,368 306.3,366.2 307.3,372 308.3,369.5 309.3,373.5 310.3,371.8 311.3,371.8 312.3,372.4 313.3,370.2 314.2,371.2 315.2,372.5 316.2,375.3 317.2,375.7 318.2,376.7 319.2,377.9 320.2,379.9 321.2,378.4 322.2,380.3 323.2,380.5 324.2,380.8 325.2,378.4 326.2,381.7 327.2,382.5 328.2,384.1 329.2,384.4 330.2,384.9 331.2,384.9 332.2,385.9 333.2,387.5 334.2,388.1 335.2,389.8 336.2,389.7 337.2,391.7 338.1,393 339.1,392.9 340.1,390.4 341.1,387.6 342.1,381.8 343.1,379.1 344.1,374.3 345.1,365 346.1,359.8 347.1,352 348.1,348.4 349.1,345.2 350.1,342.5 351.1,343.5 352.1,344.7 353.1,353.6 354.1,361.2 355.1,369.8 356.1,370.3 357.1,363.1 358.1,364.5 359.1,369.1 360.1,372.7 361.1,373.5 362,381.4 363,388.6 364,388.9 365,387.4 366,391.3 367,399.4 368,404.4 369,411 370,416.6 371,421 372,418.1 373,414.3 374,408.7 375,403.2 376,401.3 377,397.4 378,388.6 379,376.7 380,366.6 381,350.5 382,332.8 383,322.5 384,322.5 385,326.5 385.9,330 386.9,330.3 387.9,327.9 388.9,326.2 389.9,329.9 390.9,344 391.9,353.6 392.9,356.1 393.9,358.2 394.9,368.1 395.9,376.8 396.9,377.2 397.9,382.6 398.9,389.1 399.9,392 400.9,387.1 401.9,389.8 402.9,395.3 403.9,396.4 404.9,397.1 405.9,399.8 406.9,406.5 407.9,408.9 408.8,414.4 409.8,422.1 410.8,416.3 411.8,415.8 412.8,408.4 413.8,391.1 414.8,383.4 415.8,376.6 416.8,371 417.8,360.8 418.8,356.7 419.8,356.9 420.8,354.9 421.8,357.9 422.8,360.8 423.8,363.4 424.8,364.4 425.8,365.7 426.8,367.4 427.8,367.9 428.8,366.7 429.8,365.7 430.8,368.9 431.8,371.3 432.7,370.4 433.7,369.3 434.7,370.5 435.7,368 436.7,365.8 437.7,366.3 438.7,368.1 439.7,368.6 440.7,367.5 441.7,368.2 442.7,369.3 443.7,370.3 444.7,370.4 445.7,370.4" stroke="#00BF7D" stroke-width="0.75"/>
<polyline points="291.3,382.3 292.3,365.6 293.3,355.7 294.3,351.1 295.3,333.1 296.3,360.7 297.3,383.4 298.3,361.8 299.3,365.5 300.3,371.5 301.3,366.4 302.3,378.6 303.3,377.2 304.3,372.2 305.3,377.7 306.3,377.7 307.3,376.6 308.3,379.8 309.3,376.6 310.3,379.4 311.3,380.6 312.3,376.5 313.3,381.6 314.2,380.6 315.2,382.5 316.2,382.9 317.2,385 318.2,389.9 319.2,386.2 320.2,387.2 321.2,387.3 322.2,389.6 323.2,394.2 324.2,392.1 325.2,392.6 326.2,392 327.2,394 328.2,396.1 329.2,396.4 330.2,395.9 331.2,396.1 332.2,396.3 333.2,397 334.2,397.9 335.2,397.8 336.2,395.7 337.2,399.4 338.1,398.8 339.1,397.8 340.1,396.2 341.1,399.7 342.1,399.2 343.1,399.9 344.1,399.9 345.1,401.8 346.1,402.8 347.1,404.9 348.1,406.6 349.1,403.8 350.1,402 351.1,402 352.1,399 353.1,395.1 354.1,389.7 355.1,380.9 356.1,375.4 357.1,367.9 358.1,358.6 359.1,349.1 360.1,340.4 361.1,338.3 362,332.7 363,327.1 364,322.5 365,322.5 366,322.5 367,326.9 368,331.4 369,336.8 370,344.6 371,358.4 372,367.7 373,372.2 374,376.5 375,380.5 376,384.7 377,383.3 378,382.9 379,386.7 380,383.3 381,379 382,377.2 383,386.9 384,395.7 385,400.6 385.9,401.8 386.9,409 387.9,403.1 388.9,393.3 389.9,388.8 390.9,392.6 391.9,394.6 392.9,392.1 393.9,389.8 394.9,383.8 395.9,375.8 396.9,369.9 397.9,368.2 398.9,363.3 399.9,359.3 400.9,358.3 401.9,361.2 402.9,366.3 403.9,368.1 404.9,368 405.9,367.4 406.9,385.7 407.9,398.3 408.8,407.9 409.8,413.8 410.8,417.5 411.8,418.7 412.8,417.8 413.8,414.8 414.8,410.7 415.8,407.7 416.8,404.7 417.8,402.1 418.8,399.2 419.8,395.5 420.8,393 421.8,390.2 422.8,386 423.8,383 424.8,380.9 425.8,378.4 426.8,375.7 427.8,374.2 428.8,373.1 429.8,372.7 430.8,372.6 431.8,372.9 432.7,372.3 433.7,372 434.7,371.8 435.7,372.7 436.7,373.1 437.7,371.9 438.7,370.4 439.7,369.1 440.7,369 441.7,369.3 442.7,369.9 443.7,368.9 444.7,369 445.7,369.8" stroke="#00C1A3" stroke-width="0.75"/>
<polyline points="291.3,396.4 292.3,372.1 293.3,379.2 294.3,376.8 295.3,370.2 296.3,378.7 297.3,367.9 298.3,354.5 299.3,368.8 300.3,359.9 301.3,370.9 302.3,371.7 303.3,377 304.3,378.6 305.3,378.3 306.3,379.3 307.3,376.9 308.3,379.5 309.3,377.1 310.3,375.6 311.3,375.9 312.3,379.2 313.3,380.9 314.2,381.7 315.2,381.8 316.2,382.8 317.2,382 318.2,381.5 319.2,385.4 320.2,386.3 321.2,386.6 322.2,384.6 323.2,383.1 324.2,384.2 325.2,384 326.2,385.1 327.2,382.3 328.2,380.7 329.2,382.1 330.2,382.4 331.2,382.7 332.2,384.9 333.2,387.2 334.2,387.2 335.2,387.6 336.2,389.3 337.2,391 338.1,391.2 339.1,389.7 340.1,389.6 341.1,388.2 342.1,383.7 343.1,371.8 344.1,361.1 345.1,348.7 346.1,338 347.1,335.1 348.1,336.6 349.1,335.4 350.1,336.2 351.1,336.9 352.1,339.3 353.1,338.4 354.1,345.8 355.1,351.6 356.1,356.5 357.1,363.1 358.1,369.6 359.1,377.9 360.1,379.5 361.1,382.6 362,386.6 363,385.9 364,384.2 365,386.9 366,392.8 367,400.3 368,406.5 369,414 370,418.7 371,420.9 372,419.6 373,419.2 374,422.6 375,419.6 376,415.6 377,409.9 378,398.9 379,389.1 380,379.9 381,366.5 382,353 383,338.9 384,327.6 385,325.6 385.9,326.3 386.9,327.2 387.9,324 388.9,322.5 389.9,322.5 390.9,323 391.9,333.9 392.9,343.5 393.9,355.9 394.9,365.2 395.9,374.3 396.9,376.5 397.9,376.1 398.9,378.7 399.9,386.9 400.9,390.7 401.9,388 402.9,385.4 403.9,384.7 404.9,388.2 405.9,389.7 406.9,391 407.9,392 408.8,391.3 409.8,388.8 410.8,385.1 411.8,383.6 412.8,379.3 413.8,375 414.8,375.7 415.8,374.9 416.8,373.7 417.8,373.2 418.8,371.5 419.8,371.6 420.8,372.4 421.8,372.2 422.8,372.5 423.8,372.1 424.8,371.2 425.8,371.3 426.8,372.2 427.8,371.5 428.8,372.6 429.8,372.8 430.8,372.1 431.8,372 432.7,372 433.7,372 434.7,374.4 435.7,373.7 436.7,371.5 437.7,371.1 438.7,373.4 439.7,372.9 440.7,371.3 441.7,370.2 442.7,369.6 443.7,370.8 444.7,372.4 445.7,371" stroke="#00BFC4" stroke-width="0.75"/>
<polyline points="291.3,374 292.3,338 293.3,328.3 294.3,322.5 295.3,322.5 296.3,342.1 297.3,358.4 298.3,350 299.3,346.8 300.3,344.4 301.3,355.6 302.3,357.5 303.3,357.2 304.3,356.3 305.3,358.5 306.3,362.1 307.3,364.6 308.3,369 309.3,367.8 310.3,369.3 311.3,369.7 312.3,372.2 313.3,372.4 314.2,370.3 315.2,372.7 316.2,374.1 317.2,375.5 318.2,373.6 319.2,373.3 320.2,373.7 321.2,378 322.2,380.3 323.2,381.3 324.2,380.7 325.2,378.4 326.2,380.5 327.2,382.3 328.2,379.6 329.2,381 330.2,382.4 331.2,384.9 332.2,384.4 333.2,383.3 334.2,383.7 335.2,385.1 336.2,386 337.2,387.4 338.1,388.1 339.1,388.1 340.1,390.5 341.1,391 342.1,389.8 343.1,385.1 344.1,383.7 345.1,379.5 346.1,373.7 347.1,376.1 348.1,369.6 349.1,369.7 350.1,366.7 351.1,362.7 352.1,356.8 353.1,353.9 354.1,352.9 355.1,354.6 356.1,357.6 357.1,357.3 358.1,359.3 359.1,369.5 360.1,376.4 361.1,384.3 362,383.7 363,385.9 364,385.6 365,384.2 366,383 367,389.9 368,396.3 369,396.3 370,393.9 371,399.4 372,403.1 373,405.4 374,405.1 375,405.9 376,406.6 377,406.3 378,405.2 379,398.4 380,389.7 381,381.3 382,368 383,355.7 384,349.3 385,337.5 385.9,329 386.9,329.7 387.9,337.2 388.9,337.3 389.9,337.8 390.9,336.6 391.9,334.9 392.9,333.2 393.9,328.9 394.9,333.1 395.9,346.3 396.9,348.9 397.9,352.1 398.9,355.2 399.9,361.8 400.9,362.6 401.9,361.6 402.9,361.4 403.9,370.3 404.9,377.2 405.9,381.1 406.9,383.9 407.9,386.3 408.8,389.7 409.8,391.2 410.8,392.6 411.8,392 412.8,390.1 413.8,387.6 414.8,384.7 415.8,382.1 416.8,382.6 417.8,380.8 418.8,376.7 419.8,375.3 420.8,371 421.8,369.1 422.8,370.2 423.8,369.1 424.8,369.4 425.8,369.2 426.8,364.5 427.8,368.1 428.8,370.4 429.8,367.5 430.8,369.3 431.8,370.2 432.7,367.9 433.7,368.9 434.7,369.8 435.7,369.6 436.7,368.6 437.7,368.5 438.7,368.1 439.7,371.1 440.7,371.5 441.7,370.9 442.7,371.7 443.7,369.5 444.7,370.2 445.7,369.8" stroke="#00BAE0" stroke-width="0.75"/>
<polyline points="291.3,359.8 292.3,374.5 293.3,361.8 294.3,370.8 295.3,353.1 296.3,342.8 297.3,351.6 298.3,362.8 299.3,366 300.3,346.7 301.3,357.8 302.3,367.1 303.3,369.2 304.3,367.3 305.3,370.3 306.3,366.1 307.3,364.9 308.3,366.8 309.3,368.3 310.3,370.5 311.3,369.9 312.3,372.2 313.3,370.7 314.2,371.1 315.2,372.6 316.2,371.2 317.2,370.7 318.2,371.8 319.2,370.8 320.2,371.6 321.2,372.8 322.2,374.2 323.2,375.8 324.2,375.6 325.2,376.1 326.2,377.5 327.2,379.1 328.2,379 329.2,378.3 330.2,378 331.2,379.1 332.2,379.6 333.2,378.9 334.2,380.2 335.2,378.3 336.2,378.1 337.2,378.6 338.1,377.6 339.1,374.5 340.1,373 341.1,369.6 342.1,363.6 343.1,365.4 344.1,360.8 345.1,361.4 346.1,362.7 347.1,366.9 348.1,371.5 349.1,380.4 350.1,386.4 351.1,389.7 352.1,397.4 353.1,402.4 354.1,410 355.1,413.8 356.1,411.8 357.1,418.2 358.1,421.4 359.1,419 360.1,419.3 361.1,424.2 362,421.3 363,418.9 364,414.8 365,403.8 366,393.4 367,387.7 368,377.3 369,362.5 370,349 371,334.9 372,325.2 373,324.5 374,325.1 375,325.5 376,324.9 377,323.8 378,322.5 379,322.5 380,329.8 381,342.5 382,352.3 383,362.4 384,368.3 385,370.6 385.9,370.8 386.9,370.6 387.9,371.8 388.9,377.6 389.9,384.1 390.9,391.4 391.9,398.8 392.9,404.2 393.9,406.1 394.9,406.2 395.9,416.3 396.9,425.6 397.9,427.2 398.9,427.3 399.9,424.7 400.9,422 401.9,415.6 402.9,409.9 403.9,398.6 404.9,384.6 405.9,375.5 406.9,365.7 407.9,352.8 408.8,343.8 409.8,342.4 410.8,346.7 411.8,348.3 412.8,349.7 413.8,354.9 414.8,361.2 415.8,360.8 416.8,361.9 417.8,365.3 418.8,367.4 419.8,371.6 420.8,369.7 421.8,369.5 422.8,370.6 423.8,371.2 424.8,372.2 425.8,371.6 426.8,369.9 427.8,372.2 428.8,373.2 429.8,373.8 430.8,375.3 431.8,372.9 432.7,373 433.7,371.8 434.7,372.5 435.7,373.7 436.7,374.1 437.7,373 438.7,371.9 439.7,373.2 440.7,372.8 441.7,374.7 442.7,372.8 443.7,371.6 444.7,370.5 445.7,371.5" stroke="#00B0F6" stroke-width="0.75"/>
<polyline points="291.3,370.3 292.3,364.7 293.3,355.4 294.3,340.4 295.3,372.9 296.3,398.1 297.3,376.2 298.3,371.7 299.3,362.4 300.3,376.7 301.3,370.1 302.3,367.2 303.3,370 304.3,366.2 305.3,372.7 306.3,382.7 307.3,381.7 308.3,378.2 309.3,377.6 310.3,375.6 311.3,377.7 312.3,378.8 313.3,376.9 314.2,377.9 315.2,376.7 316.2,378.8 317.2,379.6 318.2,382.2 319.2,380.1 320.2,378.1 321.2,378 322.2,378.2 323.2,379 324.2,378.2 325.2,379 326.2,380.4 327.2,381.1 328.2,382 329.2,380.6 330.2,379 331.2,378.1 332.2,376.1 333.2,376.8 334.2,378.1 335.2,379.5 336.2,381 337.2,382.8 338.1,382.8 339.1,383.4 340.1,383.7 341.1,385 342.1,387.5 343.1,388.2 344.1,393.6 345.1,400.3 346.1,405 347.1,407.8 348.1,411.3 349.1,416.5 350.1,416.4 351.1,414.1 352.1,411.5 353.1,409.6 354.1,404.2 355.1,401.8 356.1,397.4 357.1,390.5 358.1,385.6 359.1,382 360.1,375.2 361.1,368.8 362,357.5 363,347.4 364,334 365,329.8 366,325.1 367,327.1 368,326.4 369,330 370,336.3 371,342.3 372,344.6 373,340.4 374,337.1 375,335.4 376,336.9 377,341.2 378,343.6 379,345.2 380,347.5 381,352.4 382,359.9 383,371 384,379.3 385,383.6 385.9,388.4 386.9,389.4 387.9,388.5 388.9,386.8 389.9,390.8 390.9,390.9 391.9,396.8 392.9,404.1 393.9,407.6 394.9,407.7 395.9,406 396.9,409.7 397.9,413 398.9,410.4 399.9,411.3 400.9,409.4 401.9,408.3 402.9,405.1 403.9,400.2 404.9,393.2 405.9,405.9 406.9,406.7 407.9,408.8 408.8,409.7 409.8,408.3 410.8,408.1 411.8,408 412.8,406.6 413.8,404.3 414.8,401.1 415.8,398.7 416.8,395.6 417.8,391.8 418.8,389 419.8,386.8 420.8,385.1 421.8,383.2 422.8,381.2 423.8,379.4 424.8,377.8 425.8,376.5 426.8,375.3 427.8,373.9 428.8,372.9 429.8,373.3 430.8,374.5 431.8,374 432.7,374.7 433.7,375.1 434.7,372.8 435.7,371.3 436.7,371.8 437.7,372.8 438.7,374 439.7,373.7 440.7,372.3 441.7,370.5 442.7,370.7 443.7,372.1 444.7,372.8 445.7,373.5" stroke="#35A2FF" stroke-width="0.75"/>
<polyline points="291.3,364.1 292.3,370.3 293.3,362.6 294.3,350.2 295.3,362 296.3,363.8 297.3,374.2 298.3,366.2 299.3,354.1 300.3,365.1 301.3,368.3 302.3,368.1 303.3,359.2 304.3,365.6 305.3,370.8 306.3,368.3 307.3,372.5 308.3,371.2 309.3,372.8 310.3,373.6 311.3,374.6 312.3,374.9 313.3,369.5 314.2,374.4 315.2,377.2 316.2,379.7 317.2,377.8 318.2,374.2 319.2,373.6 320.2,373.8 321.2,376.3 322.2,377.1 323.2,375.4 324.2,376.2 325.2,377.4 326.2,378 327.2,379.1 328.2,380.4 329.2,383.7 330.2,384.5 331.2,382.6 332.2,380.6 333.2,380.8 334.2,381.3 335.2,380.9 336.2,379.7 337.2,376.7 338.1,376.5 339.1,372.9 340.1,373.3 341.1,372 342.1,370.7 343.1,368 344.1,367 345.1,365.5 346.1,366.2 347.1,369.4 348.1,372.1 349.1,376.6 350.1,384.3 351.1,394.3 352.1,402.2 353.1,410.3 354.1,412.7 355.1,418 356.1,415.2 357.1,420.6 358.1,419.9 359.1,420.7 360.1,422.4 361.1,422.4 362,420.1 363,412.7 364,397.2 365,389.9 366,385.5 367,375 368,361.3 369,348.1 370,332.3 371,322.5 372,322.5 373,327.2 374,327.4 375,324.8 376,322.5 377,322.5 378,322.6 379,323 380,324.4 381,331.4 382,342.5 383,351.9 384,358.6 385,359 385.9,369.7 386.9,369.1 387.9,376.5 388.9,385.6 389.9,389.6 390.9,392.4 391.9,403.1 392.9,414.2 393.9,417.1 394.9,414.5 395.9,413.4 396.9,417.8 397.9,421.2 398.9,421.8 399.9,416.1 400.9,411.4 401.9,404.4 402.9,398.7 403.9,392.8 404.9,382.5 405.9,375.2 406.9,370.9 407.9,367.3 408.8,366.2 409.8,370.1 410.8,370 411.8,371.2 412.8,371.8 413.8,373.1 414.8,375.1 415.8,377 416.8,377.3 417.8,378 418.8,374.8 419.8,374 420.8,374.3 421.8,375.9 422.8,375.8 423.8,374.8 424.8,374.4 425.8,375 426.8,375.5 427.8,374.3 428.8,370.6 429.8,374.4 430.8,375.5 431.8,378.2 432.7,378.1 433.7,378.4 434.7,379.5 435.7,377.9 436.7,375.4 437.7,376.1 438.7,375.3 439.7,375.6 440.7,375.7 441.7,378.5 442.7,379.6 443.7,375 444.7,374 445.7,375.5" stroke="#9590FF" stroke-width="0.75"/>
<polyline points="291.3,378.2 292.3,371.7 293.3,382.2 294.3,366.6 295.3,352.2 296.3,357.2 297.3,347.1 298.3,356.1 299.3,361.2 300.3,359.9 301.3,356 302.3,356.1 303.3,360.5 304.3,360.8 305.3,354.9 306.3,364.7 307.3,364.7 308.3,368.1 309.3,369 310.3,367.5 311.3,366.8 312.3,369.6 313.3,373 314.2,374.7 315.2,374.1 316.2,374.9 317.2,377.8 318.2,376.1 319.2,379.8 320.2,379.5 321.2,377.8 322.2,377.5 323.2,377.8 324.2,379.2 325.2,381.6 326.2,383.4 327.2,384.4 328.2,384.2 329.2,385 330.2,387.4 331.2,388 332.2,388.5 333.2,390.3 334.2,390.9 335.2,388.8 336.2,388.6 337.2,388.8 338.1,390.8 339.1,390.8 340.1,393.5 341.1,391.7 342.1,391.2 343.1,391.4 344.1,391.9 345.1,392.6 346.1,392.1 347.1,392.6 348.1,389.9 349.1,389.8 350.1,387.5 351.1,387.9 352.1,387.5 353.1,391 354.1,390.9 355.1,391.8 356.1,395 357.1,403.4 358.1,411 359.1,411.4 360.1,413.3 361.1,410.6 362,410.8 363,405.7 364,406.1 365,405 366,402.7 367,393.7 368,384.6 369,368 370,354.1 371,338.9 372,332 373,330.6 374,334.6 375,338.5 376,337 377,335.4 378,337.4 379,339.1 380,339.5 381,339.9 382,338.5 383,341.7 384,344.1 385,351.6 385.9,354.5 386.9,356.5 387.9,366.1 388.9,367.3 389.9,369 390.9,375.7 391.9,383.5 392.9,390.2 393.9,394.4 394.9,395.9 395.9,398.1 396.9,401.8 397.9,398.2 398.9,401.7 399.9,411.2 400.9,415 401.9,421.2 402.9,427 403.9,427.3 404.9,423 405.9,418 406.9,408.1 407.9,401 408.8,391.1 409.8,380.5 410.8,372.7 411.8,366.2 412.8,357.1 413.8,355 414.8,357.1 415.8,356.1 416.8,359.1 417.8,361.6 418.8,362.6 419.8,363 420.8,366 421.8,368.8 422.8,368.5 423.8,371.7 424.8,371.1 425.8,370.5 426.8,368 427.8,370.1 428.8,373.6 429.8,372.3 430.8,371.4 431.8,373.4 432.7,372 433.7,373.2 434.7,373.8 435.7,371.7 436.7,372.3 437.7,372.5 438.7,372.9 439.7,374.7 440.7,373.2 441.7,373.3 442.7,372.1 443.7,372.6 444.7,371.1 445.7,370.6" stroke="#C77CFF" stroke-width="0.75"/>
<polyline points="291.3,375.5 292.3,371.1 293.3,364.8 294.3,368.5 295.3,351.4 296.3,350 297.3,352.3 298.3,352.4 299.3,360.6 300.3,363 301.3,359.8 302.3,382.7 303.3,380.1 304.3,365.6 305.3,374.4 306.3,376.5 307.3,375.9 308.3,373.8 309.3,370.1 310.3,373.1 311.3,376 312.3,376.7 313.3,379.1 314.2,383.1 315.2,379.8 316.2,378.6 317.2,379.9 318.2,382.3 319.2,382.7 320.2,383.9 321.2,382.1 322.2,383.9 323.2,384.9 324.2,385.4 325.2,383.6 326.2,388.4 327.2,389.1 328.2,386.9 329.2,389.7 330.2,390.6 331.2,391.3 332.2,393.9 333.2,394 334.2,397.2 335.2,399.8 336.2,404.6 337.2,404 338.1,401.8 339.1,406.8 340.1,407.4 341.1,412.7 342.1,414.6 343.1,410.3 344.1,410.4 345.1,415.4 346.1,412 347.1,408.8 348.1,409 349.1,403.3 350.1,393.3 351.1,380.7 352.1,370.5 353.1,357.2 354.1,348.1 355.1,339.8 356.1,332.8 357.1,327.5 358.1,326.6 359.1,322.5 360.1,322.5 361.1,324.7 362,329.7 363,333.6 364,336 365,340.8 366,338.2 367,343.5 368,342.8 369,339.1 370,345.4 371,349.7 372,358.9 373,362.5 374,371.3 375,377.4 376,380 377,380.6 378,387.5 379,394.8 380,400.7 381,400.5 382,395.3 383,386.6 384,382.4 385,384.7 385.9,394.8 386.9,401.1 387.9,410.4 388.9,414.7 389.9,418 390.9,420.4 391.9,419.8 392.9,417.8 393.9,411.2 394.9,406.8 395.9,402.2 396.9,398.3 397.9,398 398.9,393.8 399.9,387.5 400.9,381.4 401.9,376.5 402.9,371.9 403.9,369.7 404.9,365.2 405.9,369.2 406.9,369 407.9,371.8 408.8,371.9 409.8,374 410.8,374.2 411.8,372.4 412.8,372.3 413.8,372 414.8,372.1 415.8,372.7 416.8,370.2 417.8,372.5 418.8,372 419.8,369.7 420.8,368.9 421.8,372.8 422.8,373.5 423.8,372.7 424.8,373.2 425.8,370.2 426.8,369.4 427.8,369 428.8,370.4 429.8,370.9 430.8,369.2 431.8,369.2 432.7,370.5 433.7,369.3 434.7,370.7 435.7,369.4 436.7,370.3 437.7,369.5 438.7,370.3 439.7,369.7 440.7,369.4 441.7,369 442.7,369.6 443.7,370 444.7,370.1 445.7,370.8" stroke="#E76BF3" stroke-width="0.75"/>
<polyline points="291.3,368.9 292.3,335.1 293.3,327.6 294.3,330.2 295.3,350.5 296.3,343.9 297.3,334.4 298.3,332.5 299.3,352.7 300.3,347.4 301.3,337.6 302.3,348.2 303.3,358.1 304.3,356.3 305.3,358.2 306.3,356 307.3,352.6 308.3,355.9 309.3,358 310.3,359.2 311.3,363.7 312.3,366.2 313.3,365.3 314.2,368.5 315.2,369.4 316.2,368.4 317.2,369.7 318.2,367.7 319.2,370.4 320.2,371.5 321.2,371.6 322.2,371.5 323.2,373.6 324.2,373.3 325.2,376.6 326.2,378.1 327.2,376.9 328.2,378.7 329.2,380.8 330.2,380.5 331.2,382.7 332.2,381.5 333.2,380.3 334.2,383.3 335.2,383.7 336.2,385.9 337.2,387.1 338.1,386.9 339.1,387.6 340.1,388 341.1,388.7 342.1,391.7 343.1,392.3 344.1,395.4 345.1,394.7 346.1,393.8 347.1,395.1 348.1,393.2 349.1,393.8 350.1,395.5 351.1,400.2 352.1,406.1 353.1,404.1 354.1,406.7 355.1,415.9 356.1,415.4 357.1,414.2 358.1,405.8 359.1,398.5 360.1,389.1 361.1,382.4 362,378 363,364.9 364,350.9 365,340.4 366,329.1 367,322.5 368,323.1 369,322.7 370,322.5 371,325 372,323.2 373,326.7 374,327.9 375,328.5 376,333.9 377,341 378,341.8 379,343.2 380,349.2 381,352.4 382,355.2 383,358.3 384,361.4 385,365.8 385.9,371.4 386.9,372 387.9,374.6 388.9,383.6 389.9,395.5 390.9,402.3 391.9,406.7 392.9,407.9 393.9,406.4 394.9,407.5 395.9,401.5 396.9,397.5 397.9,395.1 398.9,394.9 399.9,394.9 400.9,394.9 401.9,391 402.9,386.6 403.9,383 404.9,382.6 405.9,380.2 406.9,399.3 407.9,407.2 408.8,411.9 409.8,415.7 410.8,417.9 411.8,418.2 412.8,417.4 413.8,415.1 414.8,411.9 415.8,409 416.8,404.8 417.8,400.5 418.8,397 419.8,393.4 420.8,388.6 421.8,385.3 422.8,383.5 423.8,381.7 424.8,380.1 425.8,379.2 426.8,377.8 427.8,375.6 428.8,373.6 429.8,372 430.8,372.7 431.8,373.8 432.7,372.8 433.7,372.8 434.7,373.6 435.7,374.3 436.7,373.7 437.7,372.5 438.7,372.1 439.7,373 440.7,373.9 441.7,374.5 442.7,373.9 443.7,372.4 444.7,372.8 445.7,374.5" stroke="#FA62DB" stroke-width="0.75"/>
<polyline points="291.3,377.1 292.3,367.9 293.3,382.2 294.3,385.4 295.3,358 296.3,358.1 297.3,363.4 298.3,364.3 299.3,353 300.3,352.8 301.3,359.8 302.3,353.6 303.3,366.6 304.3,363.1 305.3,371.2 306.3,374 307.3,374.3 308.3,373.8 309.3,371.7 310.3,372.1 311.3,377.2 312.3,376.4 313.3,376.7 314.2,380.4 315.2,378.3 316.2,381.2 317.2,380.9 318.2,380.5 319.2,380.5 320.2,384.3 321.2,386 322.2,385.7 323.2,386.1 324.2,386.9 325.2,386.5 326.2,386.6 327.2,388.9 328.2,388.8 329.2,389.7 330.2,392 331.2,392.5 332.2,392.3 333.2,394.3 334.2,394.9 335.2,397 336.2,397.5 337.2,398.9 338.1,397.7 339.1,401.2 340.1,404 341.1,403.6 342.1,404.7 343.1,403.9 344.1,401.3 345.1,391.9 346.1,384.4 347.1,379.7 348.1,375.8 349.1,368.9 350.1,364.1 351.1,353.2 352.1,341.4 353.1,334.7 354.1,334.5 355.1,336 356.1,338.3 357.1,339.4 358.1,340.7 359.1,341.1 360.1,337.9 361.1,333.5 362,331.1 363,325.8 364,328.6 365,333.9 366,344 367,353.6 368,359 369,360.7 370,365.8 371,368.1 372,370.5 373,373.4 374,379.3 375,385.8 376,392 377,397.2 378,395.9 379,397.2 380,402.8 381,404.2 382,404.4 383,405 384,405.7 385,403.9 385.9,407.8 386.9,416.3 387.9,416 388.9,414.7 389.9,415 390.9,415.4 391.9,410.9 392.9,408.2 393.9,404.8 394.9,407.2 395.9,403.2 396.9,404.6 397.9,402.3 398.9,397.3 399.9,390.3 400.9,387.5 401.9,377.6 402.9,366 403.9,357.9 404.9,346.9 405.9,337.3 406.9,333.3 407.9,338.7 408.8,343.3 409.8,342.8 410.8,347.7 411.8,348.4 412.8,353.6 413.8,355.1 414.8,355.3 415.8,356.8 416.8,360.9 417.8,364.4 418.8,367.8 419.8,371 420.8,371.9 421.8,374.4 422.8,374.2 423.8,371.6 424.8,371.8 425.8,373.6 426.8,372.6 427.8,374.6 428.8,375 429.8,375.7 430.8,372.1 431.8,374 432.7,375.2 433.7,375.9 434.7,375.2 435.7,377.8 436.7,376.8 437.7,375.3 438.7,374.8 439.7,376.9 440.7,376.3 441.7,375.1 442.7,374.1 443.7,375.4 444.7,376.4 445.7,376.3" stroke="#FF62BC" stroke-width="0.75"/>
<polyline points="291.3,366.7 292.3,369.1 293.3,364.1 294.3,341.1 295.3,340.9 296.3,335.7 297.3,359.9 298.3,346 299.3,355 300.3,363.5 301.3,367.8 302.3,360.5 303.3,367.8 304.3,370.9 305.3,376.8 306.3,374.6 307.3,374.1 308.3,371.4 309.3,379 310.3,380.9 311.3,384 312.3,378.8 313.3,378.5 314.2,373.6 315.2,375.9 316.2,374.3 317.2,375 318.2,374.1 319.2,376.3 320.2,376.3 321.2,380.2 322.2,378.2 323.2,379.4 324.2,381.1 325.2,381.5 326.2,378.3 327.2,376.7 328.2,376 329.2,375.7 330.2,376.5 331.2,378.3 332.2,378.9 333.2,379.3 334.2,376.9 335.2,377 336.2,377.1 337.2,378.2 338.1,377.6 339.1,377.7 340.1,376.3 341.1,373.2 342.1,375.9 343.1,376 344.1,377.4 345.1,378.7 346.1,380.5 347.1,379.5 348.1,377.9 349.1,383.3 350.1,391.6 351.1,394 352.1,398.7 353.1,400.7 354.1,398.8 355.1,394.9 356.1,399.8 357.1,406.8 358.1,408.1 359.1,413.9 360.1,419.9 361.1,421.3 362,419.2 363,419.7 364,417.9 365,414.1 366,405.1 367,398.2 368,388.2 369,376.2 370,366.2 371,350.4 372,340.5 373,329.2 374,322.5 375,324.5 376,327.5 377,327.1 378,324.7 379,323.4 380,323.7 381,326.2 382,325.6 383,323 384,322.5 385,327.3 385.9,330.8 386.9,334.4 387.9,342.6 388.9,354.3 389.9,362.3 390.9,368.1 391.9,374.6 392.9,376.5 393.9,374.6 394.9,374.8 395.9,373.9 396.9,373.4 397.9,375.1 398.9,379.3 399.9,383.6 400.9,391.7 401.9,396.1 402.9,403.5 403.9,407.1 404.9,405.3 405.9,403.9 406.9,399 407.9,394 408.8,393.3 409.8,391.5 410.8,391.6 411.8,389.1 412.8,384.3 413.8,382.4 414.8,379.3 415.8,376.1 416.8,374.6 417.8,373.2 418.8,371.8 419.8,372.3 420.8,371.3 421.8,368.4 422.8,368.4 423.8,367.3 424.8,370 425.8,373.8 426.8,372.5 427.8,372.7 428.8,370 429.8,370.7 430.8,368.6 431.8,368.4 432.7,370.7 433.7,369.4 434.7,373.3 435.7,371.8 436.7,370.2 437.7,371 438.7,369.8 439.7,370 440.7,369.1 441.7,369 442.7,370.8 443.7,371 444.7,369.5 445.7,370.3" stroke="#FF6A98" stroke-width="0.75"/>
</g>
<path d="M278.4 316.5V431.5M290.3 316.5V431.5M302.3 316.5V431.5M314.2 316.5V431.5M326.2 316.5V431.5M338.1 316.5V431.5M350.1 316.5V431.5M362 316.5V431.5M374 316.5V431.5M385.9 316.5V431.5M397.9 316.5V431.5M409.8 316.5V431.5M421.8 316.5V431.5M433.7 316.5V431.5M445.7 316.5V431.5" stroke="#646464" stroke-width="0.62" fill="none"/>
<rect x="270.2" y="316.5" width="183.8" height="115" fill="none" stroke="#6a6a6a" stroke-width="0.75"/>
<g font-family="'Liberation Sans', sans-serif" font-size="5.4" fill="#6b6b6b">
<g text-anchor="middle"><text x="278.4" y="438.7">0</text><text x="290.3" y="438.7">12</text><text x="302.3" y="438.7">24</text><text x="314.2" y="438.7">36</text><text x="326.2" y="438.7">48</text><text x="338.1" y="438.7">60</text><text x="350.1" y="438.7">72</text><text x="362" y="438.7">84</text><text x="374" y="438.7">96</text><text x="385.9" y="438.7">108</text><text x="397.9" y="438.7">120</text><text x="409.8" y="438.7">132</text><text x="421.8" y="438.7">144</text><text x="433.7" y="438.7">156</text><text x="445.7" y="438.7">168</text></g>
<g text-anchor="end"><text x="267.9" y="324.4">1.0</text><text x="267.9" y="350.6">0.5</text><text x="267.9" y="376.8">0.0</text><text x="267.9" y="403">-0.5</text><text x="267.9" y="429.2">-1.0</text></g>
</g>
<g font-family="'Liberation Sans', sans-serif" font-size="7.4" fill="#111" text-anchor="middle">
<text x="362.1" y="447">Time (h)</text>
<text transform="translate(256.5 374) rotate(-90)">Detrended luminescence</text>
</g>
<g font-family="'Liberation Sans', sans-serif" font-size="11.45" fill="#050505"><text x="272.4" y="414.9">τ (36-120 h):</text><text x="272.4" y="426">24.7 ± 4 h</text></g>
<!-- panel H1 -->
<rect x="27.1" y="465.2" width="148.9" height="92.8" fill="#E7E7E7"/>
<path d="M101.7 465.2V558M111.4 465.2V558M121.1 465.2V558M130.8 465.2V558M140.4 465.2V558M150.1 465.2V558M159.8 465.2V558M169.5 465.2V558M27.1 469.7H176M27.1 481.8H176M27.1 494H176M27.1 506.1H176M27.1 518.3H176M27.1 530.4H176M27.1 542.6H176M27.1 554.8H176M33.9 465.2V558M43.6 465.2V558M53.3 465.2V558M63 465.2V558M72.6 465.2V558M82.3 465.2V558M92 465.2V558" stroke="#EFEFEF" stroke-width="0.5" fill="none"/>
<clipPath id="cH1"><rect x="27.1" y="465.2" width="148.9" height="92.8"/></clipPath>
<g clip-path="url(#cH1)">
<polyline points="33.9,514.1 33.9,514.4 34.5,515.4 35.2,514.3 35.8,514.4 36.5,515.2 37.1,514.7 37.8,514.6 38.1,514.4 38.4,513.8 39.1,515.8 39.7,516.5 40.4,516.2 40.7,517 41,516.7 41.6,516.7 42.3,517.5 42.9,517.8 43.6,517.4 44.2,517.4 44.7,517.5 44.9,517.8 45.5,518.2 46.2,517.8 46.8,516.7 47.5,516.9 48.1,516.4 48.6,516.2 48.8,515.5 49.4,516.7 50,516.2 50.7,516.2 51.2,516.5 51.3,517.1 52,516.8 52.6,516.9 53.3,515.9 53.9,515.5 53.9,515.7 54.6,515.8 55.2,515.5 55.9,515.9 56.5,515.1 57.1,515.7 57.8,515.5 57.8,515.1 58.4,515.2 59.1,515.7 59.7,515.3 60.4,515.5 61,516 61.7,516.2 61.8,516.2 62.3,516.1 63,515.6 63.6,516.1 64.2,515.3 64.9,515.5 65.5,515.3 65.7,515.7 66.2,515.8 66.8,515.9 67.5,516.3 68.1,517.4 68.8,517.7 69.4,518.4 69.6,517.8 70.1,517.4 70.7,518.3 71.4,518.8 72,519.5 72.3,519.6 72.6,519.8 73.3,520.1 73.9,520.8 74.6,520.7 74.9,521.5 75.2,521.4 75.9,520.7 76.5,520.7 77.2,520 77.5,519.6 77.8,519.4 78.5,519.5 79.1,519.1 79.7,519.6 80.2,519.4 80.4,519.2 81,518.6 81.7,519.5 82.3,520.9 82.8,520.9 83,521.3 83.6,522.1 84.3,522.4 84.9,524.2 85.4,524.1 85.6,524.4 86.2,525.2 86.8,525.5 87.5,525.4 88.1,526.8 88.1,526.2 88.8,526.6 89.4,527 90.1,527.3 90.7,527.2 90.7,528 91.4,529.6 92,530 92.7,531.2 93.3,532.3 93.3,532 94,533 94.6,533.7 95.2,535.6 95.9,536.1 95.9,535.9 96.5,536.9 97.2,538.1 97.8,539.2 98.5,539.7 98.6,540.1 99.1,541 99.8,541.4 100.4,543 101.1,544.1 101.2,544.1 101.7,545.2 102.3,545.3 103,546.1 103.6,547.4 103.8,547.2 104.3,547.6 104.9,548.9 105.6,549.3 106.2,549.8 106.5,549.8 106.9,549.9 107.5,550.6 108.2,551.2 108.8,552.3 109.1,552.5 109.4,552.4 110.1,552.5 110.7,552.6 111.4,553.1 111.7,553.2 112,554.2 112.7,553.6 113.3,553.6 114,553.8 114.3,554.3 114.6,553.4 115.3,553.5 115.9,552.8 116.2,552.5 116.6,551.9 117.2,551.4 117.8,550.6 118.3,549.3 118.5,548.1 119.1,547.4 119.8,546 120.4,545.5 120.9,544.1 121.1,543.5 121.7,541.7 122.4,540.9 123,539.2 123.5,538 123.7,537.8 124.3,536 124.9,534.4 125.6,532 126.2,530.3 126.2,530.1 126.9,527.8 127.5,525.9 128.2,523.5 128.8,521.5 128.8,521.5 129.5,518.7 130.1,515.2 130.8,513.4 131.4,509.9 131.4,510.4 132,508.4 132.7,506.3 133.3,504.9 134,502.7 134.1,502.6 134.6,501.7 135.3,498.8 135.9,496.2 136.6,495 136.7,494.7 137.2,493 137.9,492.1 138.5,489 139.2,487.2 139.3,486.8 139.8,486 140.4,485.1 141.1,484.6 141.7,483 141.9,482.8 142.4,482.9 143,481.8 143.7,481.9 144,481.5 144.3,481.5 145,480.5 145.6,479.6 145.9,479.7 146.3,480 146.9,479 147.5,477.9 147.7,477 148.2,476.2 148.8,476 149.5,475.4 150.1,475.8 150.5,475.7 150.8,475.3 151.4,474.5 152.1,474.1 152.6,474.2 152.7,474.1 153.4,474.9 154,474 154.6,473.5 154.6,473.6 155.3,471.7 155.9,471.7 156.4,470.5 156.6,469.8 157.2,469.9 157.7,469.7 157.9,470.3 158.5,471 159.2,472.4 159.7,473.1 159.8,473 160.5,472.6 161.1,473 161.8,472.2 161.8,472.3 162.4,472.8 163,473.3 163.7,473.7 164.3,474 164.3,474.2 165,475.6 165.6,475.6 166.3,476.2 166.9,476.1 166.9,476.8 167.6,478 168.2,478.3 168.9,479.6 168.9,479.4 169.5,481.8 169.8,482.8" stroke="#F2100C" stroke-width="0.7"/>
</g>
<path d="M33.9 465.2V558M53.3 465.2V558M72.6 465.2V558M92 465.2V558M111.4 465.2V558M130.8 465.2V558M150.1 465.2V558M169.5 465.2V558" stroke="#686868" stroke-width="0.55" fill="none"/>
<rect x="27.1" y="465.2" width="148.9" height="92.8" fill="none" stroke="#707070" stroke-width="0.65"/>
<g font-family="'Liberation Sans', sans-serif" font-size="4.6" fill="#6b6b6b">
<g text-anchor="middle"><text x="33.9" y="564.5">36</text><text x="53.3" y="564.5">48</text><text x="72.6" y="564.5">60</text><text x="92" y="564.5">72</text><text x="111.4" y="564.5">84</text><text x="130.8" y="564.5">96</text><text x="150.1" y="564.5">108</text><text x="169.5" y="564.5">120</text></g>
<g text-anchor="end"><text x="25" y="471.4">1.0</text><text x="25" y="495.7">0.5</text><text x="25" y="520">0.0</text><text x="25" y="544.3">-0.5</text></g>
</g>
<g font-family="'Liberation Sans', sans-serif" font-size="6.0" fill="#111" text-anchor="middle">
<text x="101.5" y="571">Time (h)</text>
<text transform="translate(16.4 511.6) rotate(-90)">Detrended luminescence</text>
</g>
<!-- panel H2 -->
<rect x="196.3" y="465.2" width="149.2" height="92.8" fill="#E7E7E7"/>
<path d="M196.3 468.4H345.5M196.3 479.2H345.5M196.3 489.9H345.5M196.3 500.7H345.5M196.3 511.5H345.5M196.3 522.3H345.5M196.3 533H345.5M196.3 543.8H345.5M196.3 554.6H345.5M203.3 465.2V558M213 465.2V558M222.6 465.2V558M232.3 465.2V558M242 465.2V558M251.6 465.2V558M261.3 465.2V558M271 465.2V558M280.6 465.2V558M290.3 465.2V558M300 465.2V558M309.6 465.2V558M319.3 465.2V558M329 465.2V558M338.6 465.2V558" stroke="#EFEFEF" stroke-width="0.5" fill="none"/>
<clipPath id="cH2"><rect x="196.3" y="465.2" width="149.2" height="92.8"/></clipPath>
<g clip-path="url(#cH2)">
<polyline points="203.3,505.7 203.3,506.5 203.9,506.4 204.6,505.7 205.2,506.8 205.9,506.7 206.5,505.1 206.7,506 207.2,505.7 207.8,505.5 208.5,507.1 209.1,506.9 209.7,507.2 210.4,507.3 210.7,507.3 211,506.7 211.7,507.3 212.3,506.3 213,505.6 213.6,507 214.3,506.2 214.6,505.7 214.9,506 215.5,505.5 216.2,506.2 216.8,505.7 217.5,505.6 218.1,505.5 218.6,506 218.8,506.6 219.4,506.3 220.1,506.4 220.7,506.3 221.2,507.3 221.3,507.4 222,507.8 222.6,509.1 223.3,510.2 223.8,510.5 223.9,510.4 224.6,511.2 225.2,512.1 225.9,512.7 226.5,512.8 226.5,513.1 227.1,514.7 227.8,513.7 228.4,516.2 229.1,517.2 229.1,516.2 229.7,516.3 230.4,519 231,518.8 231.7,520 231.7,520.4 232.3,521.5 232.9,523.3 233.6,523.7 234.2,525.1 234.2,524.9 234.9,525.3 235.5,529.1 236.2,529.3 236.8,529.9 237,530.9 237.5,531.9 238.1,532.6 238.7,534.4 239.4,535.7 239.5,536.7 240,537.7 240.7,540.4 241.3,541.6 242,543.8 242.1,544.1 242.6,544.8 243.3,546.7 243.9,547.4 244.5,549.7 244.9,549.3 245.2,550.4 245.8,550.5 246.5,551.8 247.1,552.1 247.4,552.5 247.8,553.2 248.4,553.4 249.1,553.2 249.7,554 250,554.3 250.3,554.7 251,555.4 251.6,554.2 252.3,554.2 252.8,554.3 252.9,554 253.6,553.8 254.2,554.1 254.9,553.7 255.3,553.3 255.5,553.7 256.1,551.4 256.8,550.8 257.4,549.8 257.9,548.6 258.1,548.2 258.7,546.3 259.4,544.1 260,544.6 260.7,541 260.7,542 261.3,539.5 261.9,536.8 262.6,534.1 263.2,531.2 263.2,531.5 263.9,528.8 264.5,526.4 265.2,523.9 265.8,520.9 265.8,521 266.5,518.3 267.1,516.5 267.7,513.6 268.4,511.1 268.5,510.5 269,509.6 269.7,505.8 270.3,503.3 271,500.2 271.1,499.9 271.6,498 272.3,496.1 272.9,493.3 273.5,490.5 273.7,489.4 274.2,487.4 274.8,485 275.5,482.6 275.6,481.5 276.1,479.4 276.8,475.2 277.1,473.7 277.4,473.7 278.1,475.4 278.2,476.3 278.7,474.7 279.3,471.8 279.8,469.7 280,469.6 280.6,470 281.3,471.2 281.6,471.5 281.9,470.7 282.6,472.7 283.2,473.4 283.5,473.7 283.8,473.5 284.5,473.9 285.1,471.7 285.6,473.1 285.8,473.5 286.4,474.4 287.1,475.4 287.7,476.7 287.7,476.3 288.4,476.1 289,475.8 289.5,475 289.6,475.2 290.3,480 290.8,481.5 290.9,481.6 291.6,481.8 292.2,481.7 292.9,480.3 292.9,480.2 293.5,480.7 294.2,481 294.8,482.2 295.4,483.6 295.6,483.7 296.1,484.4 296.7,484 297.4,485.4 298,486.5 298.2,486 298.7,484.8 299.3,484.5 300,483.4 300.6,483.4 300.6,482.8 301.2,484.2 301.9,486.2 302.5,486.1 302.7,486.8 303.2,486.6 303.8,485.7 304.5,485.2 304.8,483.7 305.1,484.3 305.8,483 306.4,482.8 307,483.1 307,482.8 307.7,481.7 308.3,482.2 309,481.4 309.1,481.5 309.6,481.8 310.3,481.1 310.9,481.8 311.2,481 311.6,481.5 312.2,482.6 312.8,482.5 313.5,483.2 313.7,483.7 314.1,483.9 314.8,484.4 315.4,486.5 315.7,486.8 316.1,487.8 316.7,489.2 317.4,489.6 317.7,490.7 318,491.5 318.6,492.7 319.3,495.2 319.8,496 319.9,496.9 320.6,499.2 321.2,501.1 321.5,502.6 321.9,504.7 322.5,508.7 323.2,511.6 323.6,514.4 323.8,515.3 324.4,518.4 325.1,521.3 325.6,523.6 325.7,524.1 326.4,526.8 327,529.1 327.7,531.6 327.7,531.5 328.3,533.8 329,536.4 329.4,538 329.6,539.2 330.2,539.7 330.9,540.8 331.5,541 331.5,542 332.2,543.4 332.8,544.8 333.5,546.4 333.5,545.9 334.1,546.9 334.8,548.1 335.4,549.3 335.6,549.1 336,547.2 336.7,545.5 336.9,545.1 337.3,545.7 337.7,547.2 338,546.9 338.6,543.6 338.6,543.8" stroke="#F2100C" stroke-width="0.7"/>
</g>
<path d="M203.3 465.2V558M222.6 465.2V558M242 465.2V558M261.3 465.2V558M280.6 465.2V558M300 465.2V558M319.3 465.2V558M338.6 465.2V558" stroke="#686868" stroke-width="0.55" fill="none"/>
<rect x="196.3" y="465.2" width="149.2" height="92.8" fill="none" stroke="#707070" stroke-width="0.65"/>
<g font-family="'Liberation Sans', sans-serif" font-size="4.6" fill="#6b6b6b">
<g text-anchor="middle"><text x="203.3" y="564.5">36</text><text x="222.6" y="564.5">48</text><text x="242" y="564.5">60</text><text x="261.3" y="564.5">72</text><text x="280.6" y="564.5">84</text><text x="300" y="564.5">96</text><text x="319.3" y="564.5">108</text><text x="338.6" y="564.5">120</text></g>
<g text-anchor="end"><text x="194.2" y="470.1">1.0</text><text x="194.2" y="491.6">0.5</text><text x="194.2" y="513.2">0.0</text><text x="194.2" y="534.7">-0.5</text><text x="194.2" y="556.3">-1.0</text></g>
</g>
<g font-family="'Liberation Sans', sans-serif" font-size="6.0" fill="#111" text-anchor="middle">
<text x="270.9" y="571">Time (h)</text>
<text transform="translate(184.5 511.6) rotate(-90)">Detrended luminescence</text>
</g>
<!-- panel H3 -->
<rect x="365.7" y="465.2" width="149.8" height="92.8" fill="#E7E7E7"/>
<path d="M365.7 471.8H515.5M365.7 483.7H515.5M365.7 495.5H515.5M365.7 507.3H515.5M365.7 519.1H515.5M365.7 531H515.5M365.7 542.8H515.5M365.7 554.6H515.5M372.6 465.2V558M382.3 465.2V558M392 465.2V558M401.7 465.2V558M411.4 465.2V558M421.1 465.2V558M430.8 465.2V558M440.5 465.2V558M450.2 465.2V558M459.9 465.2V558M469.6 465.2V558M479.3 465.2V558M489 465.2V558M498.7 465.2V558M508.4 465.2V558" stroke="#EFEFEF" stroke-width="0.5" fill="none"/>
<clipPath id="cH3"><rect x="365.7" y="465.2" width="149.8" height="92.8"/></clipPath>
<g clip-path="url(#cH3)">
<polyline points="372.6,507 372.6,506.5 373.2,506.4 373.9,508.9 374.2,508.3 374.5,508 375.2,509.5 375.8,509.6 376.3,511 376.5,511.2 377.1,510.3 377.8,515 378.1,514.4 378.4,515.4 379.1,516.9 379.4,517 379.7,516.2 380.4,515.3 381,513.1 381.3,513.6 381.7,514.7 382.3,513 382.9,511.9 383.4,513.1 383.6,511.9 384.2,512.3 384.9,515.4 385.2,514.4 385.5,513 386.2,512.8 386.8,510.6 387.3,511 387.5,511.6 388.1,510.9 388.8,513.3 389.4,512 389.4,512.6 390.1,514.1 390.7,514.7 391.2,513.6 391.4,512.7 392,513.2 392.6,513.6 393.3,509.7 393.3,511.7 393.9,514.1 394.6,514 395.2,512.5 395.2,513.9 395.9,514.5 396.5,514.5 397.2,518.1 397.3,517 397.8,516.3 398.5,518.4 399.1,518.2 399.1,518.8 399.8,521 400.4,523 401.1,523.4 401.1,522.3 401.7,524.5 402.3,524.7 403,523.8 403.2,524.9 403.6,528.5 404.3,526.5 404.9,529.1 404.9,530.1 405.6,530.2 406.2,529.4 406.6,528.9 406.9,528.6 407.5,532.2 408.2,535.1 408.3,534.6 408.8,536.5 409.5,537.7 410.1,538.8 410.4,539.4 410.8,541.8 411.4,540.7 412,544 412.4,543.3 412.7,543.7 413.3,543.2 414,545.2 414.5,545.9 414.6,544.8 415.3,545.9 415.9,547.3 416.3,547.8 416.6,547.8 417.2,551 417.9,551 418,552 418.5,552 419.2,550 419.8,550.8 420.1,549.9 420.5,550.1 421.1,550.8 421.7,550.8 422.1,552.5 422.4,551.8 423,554.5 423.7,553.4 424.2,553.3 424.3,552 425,554.7 425.6,554.7 425.6,554.3 426.3,552.1 426.9,551.3 427.2,549.9 427.6,548.9 428.2,548 428.9,545.4 428.9,545.9 429.5,544 430.2,544 430.5,542.5 430.8,543.3 431.4,543.1 431.9,543.3 432.1,544 432.7,540 433.4,539.4 433.9,536.7 434,535.6 434.7,533.2 435.3,532.5 435.5,531.5 436,531.6 436.6,530.3 437.3,530.7 437.3,530.1 437.9,529.4 438.6,527.3 439.2,525.4 439.4,525.7 439.9,524.2 440.5,522 441.1,521.3 441.1,521 441.8,518.5 442.4,515.1 442.6,514.4 443.1,511.6 443.7,509.4 444.4,506.4 444.4,505.2 445,501 445.7,497.6 446,496 446.3,491.4 446.5,488.1 447,491 447.6,496.1 447.8,496 448.3,494.9 448.9,489.9 449.1,489.4 449.6,488 450.2,486.2 450.8,487.1 451,485.5 451.5,484.9 452.1,487.1 452.8,487.3 453.1,488.1 453.4,487.2 454.1,483.6 454.7,481.6 454.9,481.6 455.4,480.8 456,478.4 456.5,476.3 456.7,474.6 457.3,472.2 458,470.7 458.3,469.7 458.6,469.8 459.3,470.2 459.9,470.7 460.1,472.3 460.5,472.5 461.2,475.1 461.7,476.3 461.8,477.9 462.5,474.7 463.1,476.2 463.6,475 463.8,473.7 464.4,477.3 465.1,480.9 465.7,482.3 465.7,483.7 466.4,482.3 467,481 467.5,477.6 467.7,476 468.3,475.2 469,473.7 469.3,473.1 469.6,476.3 470.2,474.5 470.9,476.1 470.9,476.3 471.5,474.8 472.2,475.2 472.2,475 472.8,478.2 473.5,482.2 474.1,484.8 474.1,485.5 474.8,485.9 475.4,484.4 475.9,482.8 476.1,484.6 476.7,484.4 477.2,486.8 477.4,484.8 478,482 478.7,479.3 478.8,478.9 479.3,477 479.9,477.5 480.6,479 480.6,477.6 481.2,478.4 481.9,481 482.5,485.4 482.5,482.8 483.2,482 483.8,481.5 484.5,482 484.6,481.6 485.1,480.1 485.8,480 486.4,478.5 486.4,478.4 487.1,478.6 487.7,478.4 488.4,480 488.5,482.1 489,481.6 489.6,481.5 490.3,478.6 490.3,481 490.9,482.2 491.6,483.6 492.2,484.5 492.4,484.2 492.9,485.4 493.5,483.5 494.2,483.2 494.5,481.6 494.8,483.4 495.5,483.9 496.1,484.5 496.4,485.5 496.8,484.6 497.4,486.8 498.1,487.2 498.5,488.1 498.7,487.8 499.3,486.4 500,485.9 500.3,485.5 500.6,486.2 501.3,487.2 501.9,489 502.4,489.4 502.6,491 503.2,488.8 503.9,488 504.4,487.3 504.5,486.7 505.2,488.4 505.8,489.6 506.1,490.7 506.5,489.4 507.1,489.2 507.8,490.5 507.8,489.4 508.4,490.1" stroke="#F2100C" stroke-width="0.7"/>
</g>
<path d="M372.6 465.2V558M392 465.2V558M411.4 465.2V558M430.8 465.2V558M450.2 465.2V558M469.6 465.2V558M489 465.2V558M508.4 465.2V558" stroke="#686868" stroke-width="0.55" fill="none"/>
<rect x="365.7" y="465.2" width="149.8" height="92.8" fill="none" stroke="#707070" stroke-width="0.65"/>
<g font-family="'Liberation Sans', sans-serif" font-size="4.6" fill="#6b6b6b">
<g text-anchor="middle"><text x="372.6" y="564.5">36</text><text x="392" y="564.5">48</text><text x="411.4" y="564.5">60</text><text x="430.8" y="564.5">72</text><text x="450.2" y="564.5">84</text><text x="469.6" y="564.5">96</text><text x="489" y="564.5">108</text><text x="508.4" y="564.5">120</text></g>
<g text-anchor="end"><text x="363.6" y="485.3">0.5</text><text x="363.6" y="509">0.0</text><text x="363.6" y="532.6">-0.5</text><text x="363.6" y="556.3">-1.0</text></g>
</g>
<g font-family="'Liberation Sans', sans-serif" font-size="6.0" fill="#111" text-anchor="middle">
<text x="440.6" y="571">Time (h)</text>
<text transform="translate(353.7 511.6) rotate(-90)">Detrended luminescence</text>
</g>
<!-- panel H4 -->
<rect x="535.2" y="465.2" width="149.4" height="92.8" fill="#E7E7E7"/>
<path d="M535.2 474.4H684.6M535.2 488.9H684.6M535.2 503.3H684.6M535.2 517.8H684.6M535.2 532.2H684.6M535.2 546.6H684.6M541.8 465.2V558M551.5 465.2V558M561.2 465.2V558M570.9 465.2V558M580.6 465.2V558M590.3 465.2V558M600 465.2V558M609.7 465.2V558M619.4 465.2V558M629.1 465.2V558M638.8 465.2V558M648.5 465.2V558M658.2 465.2V558M667.9 465.2V558M677.6 465.2V558" stroke="#EFEFEF" stroke-width="0.5" fill="none"/>
<clipPath id="cH4"><rect x="535.2" y="465.2" width="149.4" height="92.8"/></clipPath>
<g clip-path="url(#cH4)">
<polyline points="541.8,510.4 541.8,510.9 542.4,510.9 543.1,508.3 543.7,506.9 543.9,507.2 544.4,506.4 545,505.8 545.7,504.4 546.3,503.9 546.3,504.6 547,506.2 547.6,506.4 548.3,506.3 548.4,507.2 548.9,508.3 549.6,505.5 550.2,505.9 550.2,505.9 550.9,508.7 551.5,509 551.8,508.3 552.1,507.6 552.8,507 553.4,505 553.6,505.7 554.1,504.7 554.7,505.7 555.4,503.9 555.4,504.6 556,502.9 556.7,501.1 557,499.9 557.3,500.8 558,501.3 558.6,502 558.9,502.5 559.3,502.3 559.9,500.6 560.2,499.4 560.6,500.1 561.2,499.9 561.8,501.5 562.3,501.2 562.5,500 563.1,499.9 563.8,498.5 564.1,498 564.4,498.5 565.1,500.7 565.7,501.8 565.9,501.2 566.4,502.7 567,502.9 567.7,502.9 568,503.8 568.3,504.5 569,504.2 569.6,506.3 570.1,506.5 570.3,506.2 570.9,508 571.5,508.2 572,509.9 572.2,511.1 572.8,511 573.5,513.8 573.8,513.5 574.1,513.3 574.8,512.5 575.4,511.5 575.9,511.7 576.1,511.5 576.7,512.3 577.4,514.1 578,514 578,514.3 578.7,513.7 579.3,514 580,513.2 580,513 580.6,515.6 581.2,517.9 581.7,518.8 581.9,518.3 582.5,517.1 583.2,518.1 583.8,517 583.8,516.9 584.5,517.1 585.1,517.4 585.6,518.3 585.8,519.5 586.4,519 587.1,521 587.2,521.4 587.7,521.2 588.4,521.5 589,519.2 589,519.6 589.7,517.3 590.3,515 590.9,514.1 591.1,514.3 591.6,514.6 592.2,513.3 592.9,513.4 593,513 593.5,511.4 594.2,511.2 594.8,510.3 594.8,509.9 595.5,508.7 596.1,507.3 596.8,506.3 596.9,505.7 597.4,506 598.1,503.2 598.7,502.4 599,502 599.4,501.5 600,501.2 600.6,500.8 601.3,499.9 601.5,500.4 601.9,499.9 602.6,500.1 603.2,497.6 603.6,498 603.9,496.5 604.5,496.9 605.2,496 605.3,496 605.8,495.6 606.5,493.4 607.1,493 607.4,492 607.8,490.9 608.4,490.2 609.1,489.2 609.4,488.9 609.7,488.8 610.3,486.3 610.8,485.4 611,485.8 611.6,486.2 612.3,486.5 612.8,486.8 612.9,486 613.6,484.2 614.2,483.2 614.6,482.8 614.9,482.9 615.5,481.5 616.2,482.6 616.7,481 616.8,480.3 617.5,480.2 618.1,479.9 618.4,480.2 618.8,478.5 619.4,480.3 620,481.8 620,480.2 620.7,480.7 621.3,483.9 622,485 622,485.4 622.6,485.2 623.3,484.6 623.8,484.9 623.9,484.5 624.6,486.8 625.2,489.6 625.4,488.9 625.9,489.6 626.5,489.2 627.2,491.9 627.2,491.5 627.8,494.1 628.5,496.3 628.9,497.2 629.1,497.8 629.7,499.6 630.4,501.4 631,502.5 631,502.5 631.7,505 632.3,506 633,508.1 633,508.3 633.6,511.6 634.3,511.6 634.9,515.8 635.1,515.7 635.6,516.5 636.2,518.8 636.9,521.2 636.9,520.9 637.5,522 638.2,523.4 638.8,523.6 639,524.9 639.4,526.8 640.1,529.5 640.7,532.1 640.9,532.7 641.4,535.4 642,537.5 642.7,538.9 643,540.6 643.3,541.2 644,542.6 644.6,544.6 644.8,544.6 645.3,545.9 645.9,547 646.6,548.2 646.9,549.3 647.2,549.3 647.9,550.9 648.5,551.7 649,551.1 649.1,551.5 649.8,551.4 650.4,552.2 650.8,550.6 651.1,551.7 651.7,553.3 652.1,553.8 652.4,553.1 653,551.1 653.7,550.1 654,549.8 654.3,548.8 655,549.5 655.6,547.8 656.1,546.6 656.3,546.7 656.9,546.1 657.6,544.5 658.2,542.5 658.2,543.2 658.8,542 659.5,539.6 660,538 660.1,537.6 660.8,535.9 661.4,534.7 662.1,533.2 662.1,532.7 662.7,529 663.4,525.7 664,523.8 664,523.5 664.7,520.4 665.3,516.7 665.8,514.3 666,514.1 666.6,510.9 667.3,509.8 667.4,510.4 667.9,508.1 668.5,503.9 669.2,501 669.2,501.2 669.8,498.5 670.5,495.3 671,492 671.1,491.6 671.8,488.8 672.4,485.4 673.1,483.7 673.1,482.8 673.7,481.2 674.4,478.9 675,475.6 675.2,474.9 675.7,474.7 676.3,471.6 677,470.3 677.1,469.7 677.6,471.5 677.9,471.5" stroke="#F2100C" stroke-width="0.7"/>
</g>
<path d="M541.8 465.2V558M561.2 465.2V558M580.6 465.2V558M600 465.2V558M619.4 465.2V558M638.8 465.2V558M658.2 465.2V558M677.6 465.2V558" stroke="#686868" stroke-width="0.55" fill="none"/>
<rect x="535.2" y="465.2" width="149.4" height="92.8" fill="none" stroke="#707070" stroke-width="0.65"/>
<g font-family="'Liberation Sans', sans-serif" font-size="4.6" fill="#6b6b6b">
<g text-anchor="middle"><text x="541.8" y="564.5">36</text><text x="561.2" y="564.5">48</text><text x="580.6" y="564.5">60</text><text x="600" y="564.5">72</text><text x="619.4" y="564.5">84</text><text x="638.8" y="564.5">96</text><text x="658.2" y="564.5">108</text><text x="677.6" y="564.5">120</text></g>
<g text-anchor="end"><text x="533" y="476.1">0.5</text><text x="533" y="505">0.0</text><text x="533" y="533.9">-0.5</text></g>
</g>
<g font-family="'Liberation Sans', sans-serif" font-size="6.0" fill="#111" text-anchor="middle">
<text x="609.9" y="571">Time (h)</text>
<text transform="translate(524.2 511.6) rotate(-90)">Detrended luminescence</text>
</g>
<circle cx="536.6" cy="82.3" r="37.6" fill="none" stroke="#000" stroke-width="2.4"/>
<circle cx="536.6" cy="82.3" r="13.5" fill="none" stroke="#111" stroke-width="0.6"/>
<path d="M536.6 45.6L536.6 47.6M568.3 64L566.6 65M568.3 100.6L566.6 99.6M536.6 118.9L536.6 116.9M504.9 100.6L506.6 99.6M504.9 64L506.6 65" stroke="#444" stroke-width="0.45" fill="none"/>
<path d="M532.4 45.7L536.4 76.9M503.5 62.7L533 79.7M534.5 79.5L537 82.6" stroke="#000" stroke-width="0.6" fill="none"/>
<g fill="#000"><circle cx="511.5" cy="45.8" r="1.95"/><circle cx="515.7" cy="47.4" r="1.95"/><circle cx="521.5" cy="44.9" r="1.95"/><circle cx="509.9" cy="51.1" r="1.95"/><circle cx="506.6" cy="54.6" r="1.95"/><circle cx="502.4" cy="59.9" r="1.95"/><circle cx="494.1" cy="72.8" r="1.95"/><circle cx="496.6" cy="76.1" r="1.95"/><circle cx="495.8" cy="85.9" r="1.95"/><circle cx="497.9" cy="94.3" r="1.95"/><circle cx="510.7" cy="113.7" r="1.95"/><circle cx="518.2" cy="118.4" r="1.95"/><circle cx="525.6" cy="121.7" r="1.95"/><circle cx="525.4" cy="126.1" r="1.95"/><circle cx="544.9" cy="42.5" r="1.95"/><circle cx="549.4" cy="43.6" r="1.95"/><circle cx="558.5" cy="47.8" r="1.95"/><circle cx="574.4" cy="66.8" r="1.95"/><circle cx="578.6" cy="68.5" r="1.95"/><circle cx="577.7" cy="76.9" r="1.95"/><circle cx="577.4" cy="81.4" r="1.95"/><circle cx="575.1" cy="96.7" r="1.95"/><circle cx="573.1" cy="101.6" r="1.95"/><circle cx="559.5" cy="116.6" r="1.95"/><circle cx="533.6" cy="77.4" r="1.95"/></g>
<g font-family="'Liberation Sans', sans-serif" font-size="7.6" fill="#0a0a0a" text-anchor="middle"><text x="540" y="56.4">0 h</text><text x="561.9" y="71">4</text><text x="561.9" y="100.1">8</text><text x="536.6" y="114.3">12</text><text x="511.5" y="99.7">16</text><text x="511.3" y="71">20</text></g>
<circle cx="536.1" cy="374.5" r="40.3" fill="none" stroke="#000" stroke-width="2.4"/>
<circle cx="536.1" cy="374.5" r="17.8" fill="none" stroke="#111" stroke-width="0.6"/>
<path d="M536.1 335.2L536.1 337.2M570.1 354.9L568.4 355.9M570.1 394.1L568.4 393.1M536.1 413.8L536.1 411.8M502.1 394.2L503.8 393.2M502.1 354.9L503.8 355.9" stroke="#444" stroke-width="0.45" fill="none"/>
<path d="M534.3 377.8L508.8 404.1M537 379.7L552 410.8M535.7 375.3L536.6 377.2" stroke="#000" stroke-width="0.6" fill="none"/>
<g fill="#000"><circle cx="515.5" cy="335.6" r="1.95"/><circle cx="524.5" cy="333.1" r="1.95"/><circle cx="553.3" cy="331.1" r="1.95"/><circle cx="554.9" cy="335" r="1.95"/><circle cx="574.5" cy="354.2" r="1.95"/><circle cx="493.8" cy="364.9" r="1.95"/><circle cx="492.5" cy="372.4" r="1.95"/><circle cx="495" cy="389.7" r="1.95"/><circle cx="576.6" cy="390.8" r="1.95"/><circle cx="570.2" cy="401.8" r="1.95"/><circle cx="574.6" cy="402.8" r="1.95"/><circle cx="504.6" cy="405.2" r="1.95"/><circle cx="522.1" cy="416.4" r="1.95"/><circle cx="523.3" cy="420.9" r="1.95"/><circle cx="540" cy="418.6" r="1.95"/><circle cx="549.3" cy="416.6" r="1.95"/><circle cx="535.1" cy="380.1" r="1.95"/></g>
<g font-family="'Liberation Sans', sans-serif" font-size="7.6" fill="#0a0a0a" text-anchor="middle"><text x="539.5" y="346.9">0 h</text><text x="509.2" y="362.6">20</text><text x="562.5" y="362.6">4</text><text x="509.2" y="393.4">16</text><text x="562.5" y="393.9">8</text><text x="536.1" y="408.7">12</text></g>
</svg></body></html>
